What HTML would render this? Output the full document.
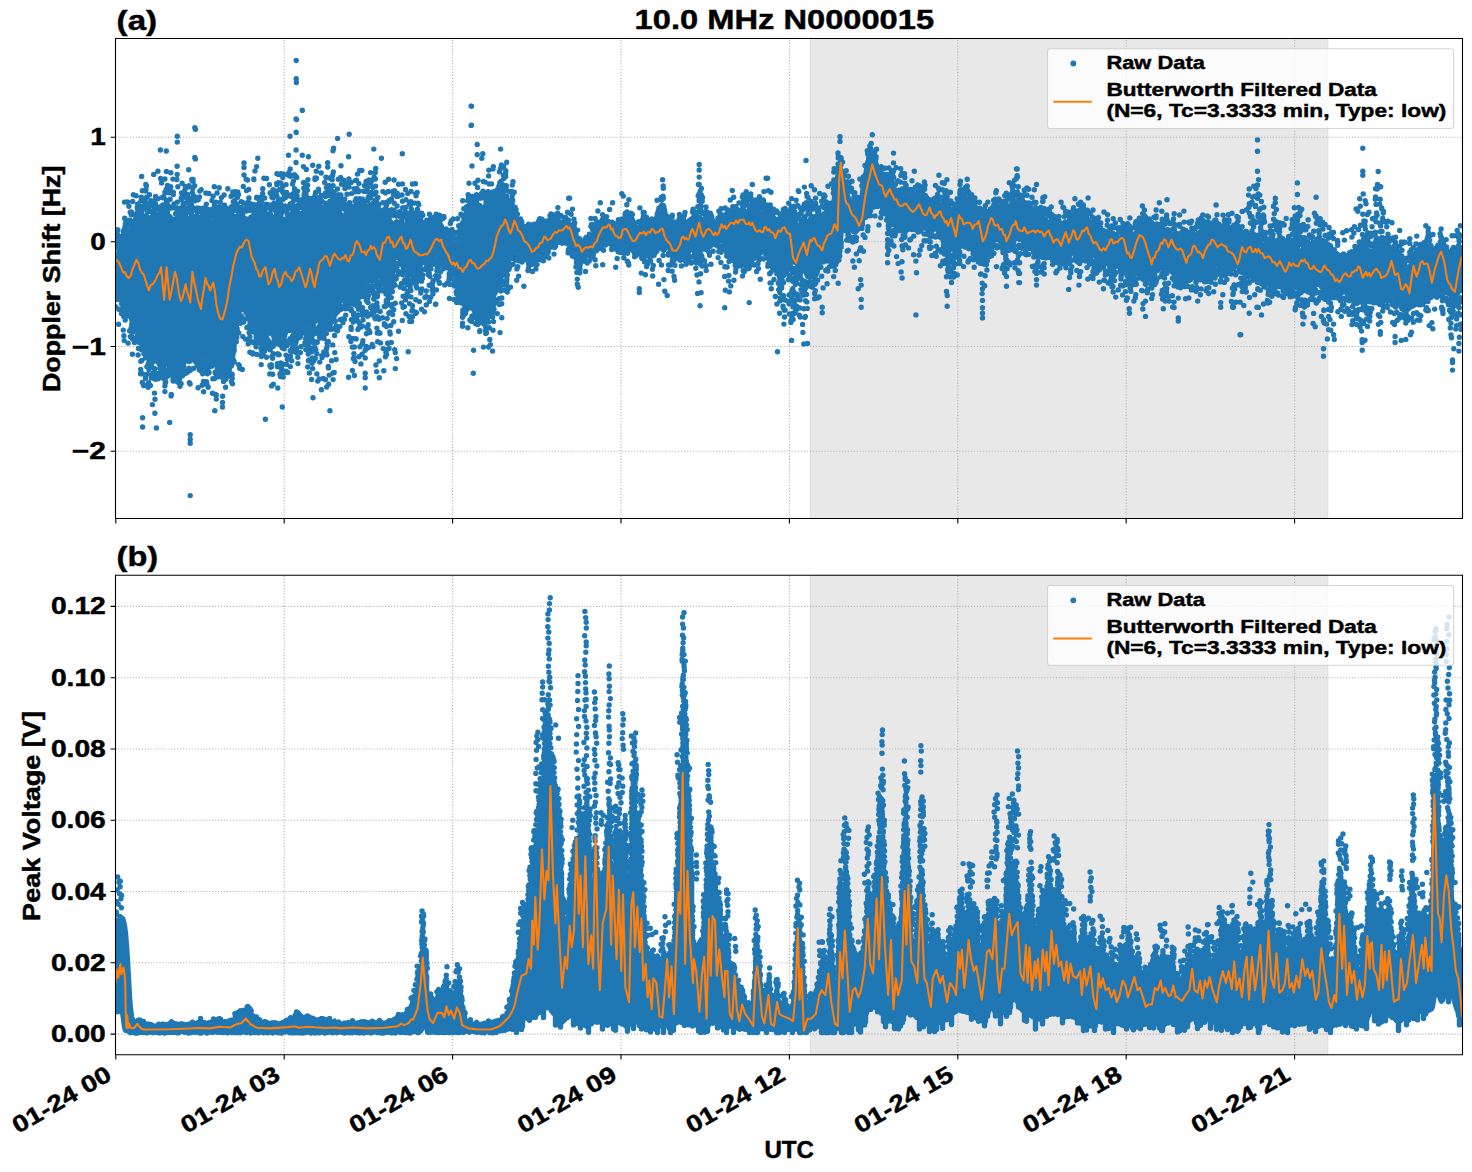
<!DOCTYPE html>
<html><head><meta charset="utf-8"><title>10.0 MHz N0000015</title>
<style>html,body{margin:0;padding:0;background:#fff}svg{display:block}</style></head><body>
<svg width="1472" height="1172" viewBox="0 0 1472 1172">
<rect width="1472" height="1172" fill="#fff"/>
<defs><clipPath id="ca"><rect x="115.5" y="38.5" width="1347.0" height="480.0"/></clipPath><clipPath id="cb"><rect x="115.5" y="575.3" width="1347.0" height="479.4"/></clipPath></defs>
<rect x="810.3" y="38.5" width="517.5" height="480.0" fill="#e8e8e8" stroke="#dedede" stroke-width="1.1"/>
<g stroke="#b0b0b0" stroke-width="1.1" stroke-dasharray="1.1 1.83" fill="none">
<path d="M284.2 518.5V38.5M452.6 518.5V38.5M621.0 518.5V38.5M789.4 518.5V38.5M957.8 518.5V38.5M1126.2 518.5V38.5M1294.6 518.5V38.5M115.5 137.2H1462.5M115.5 241.8H1462.5M115.5 346.5H1462.5M115.5 451.2H1462.5"/></g>
<g clip-path="url(#ca)">
<path d="M115.5 258.1 117.5 256.1 119.5 251.6 121.5 244.9 123.5 241.4 125.5 240.9 127.5 233.2 129.5 234 131.5 230.3 133.5 225.6 135.5 223.7 137.5 222.6 139.5 221.4 141.5 221.2 143.5 220.3 145.5 219.6 147.5 221.7 149.5 220.7 151.5 219.9 153.5 221.7 155.5 217.8 157.5 217.5 159.5 219.8 161.5 217 163.5 216.9 165.5 219.3 167.5 219.1 169.5 221.3 171.5 219.9 173.5 219.3 175.5 219.2 177.5 218.1 179.5 217.1 181.5 218.2 183.5 220.9 185.5 218.7 187.5 219.7 189.5 218.1 191.5 222.4 193.5 219.2 195.5 220 197.5 223.2 199.5 221.6 201.5 223.4 203.5 222.6 205.5 223.3 207.5 220.1 209.5 222.2 211.5 221.8 213.5 223.5 215.5 220.7 217.5 221.7 219.5 218.8 221.5 220.3 223.5 219.8 225.5 218.7 227.5 221.8 229.5 219.5 231.5 222.3 233.5 220.1 235.5 221.1 237.5 223 239.5 223.7 241.5 221.2 243.5 222.8 245.5 222 247.5 222.8 249.5 220.8 251.5 224.7 253.5 220.5 255.5 222.5 257.5 220.3 259.5 222.8 261.5 221.4 263.5 218.7 265.5 222.2 267.5 222.7 269.5 222.5 271.5 220.9 273.5 218.7 275.5 219 277.5 222.6 279.5 220.8 281.5 218.9 283.5 222.4 285.5 221 287.5 220.2 289.5 218.9 291.5 218.7 293.5 217.5 295.5 216.2 297.5 220 299.5 217.5 301.5 217.1 303.5 215.3 305.5 216.6 307.5 212.2 309.5 213.2 311.5 210.7 313.5 210.4 315.5 213.9 317.5 211.6 319.5 209.7 321.5 209.4 323.5 210.3 325.5 206.9 327.5 207.4 329.5 207.1 331.5 207.3 333.5 210.9 335.5 214.9 337.5 218.4 339.5 217.4 341.5 222.1 343.5 217.5 345.5 221.4 347.5 221.8 349.5 218.5 351.5 220 353.5 222.1 355.5 218.2 357.5 221.4 359.5 222.4 361.5 221.2 363.5 222.4 365.5 220.1 367.5 219.9 369.5 220.7 371.5 219.7 373.5 220.6 375.5 223.5 377.5 221.7 379.5 220.5 381.5 220.1 383.5 223.5 385.5 220.9 387.5 224.2 389.5 222.5 391.5 222.8 393.5 224.8 395.5 224.2 397.5 223.5 399.5 224 401.5 227.6 403.5 225.5 405.5 227.6 407.5 222.6 409.5 223.6 411.5 223.3 413.5 224.8 415.5 220.5 417.5 224 419.5 227.5 421.5 231.2 423.5 232.8 425.5 233.4 427.5 229.1 429.5 228.1 431.5 225.3 433.5 223 435.5 222.2 437.5 224.1 439.5 226.4 441.5 226.3 443.5 232.3 445.5 234.3 447.5 237 449.5 239.6 451.5 240 453.5 245.5 455.5 245.3 457.5 247.2 459.5 247 461.5 241 463.5 228.6 465.5 218.2 467.5 215.6 469.5 214.2 471.5 212 473.5 207.3 475.5 210 477.5 209.5 479.5 209.9 481.5 208.2 483.5 210.2 485.5 206 487.5 205.9 489.5 205.7 491.5 206.7 493.5 206.5 495.5 206 497.5 208.2 499.5 206.2 501.5 210.1 503.5 208.9 505.5 212.1 507.5 209.3 509.5 211.3 511.5 214.9 513.5 215.3 515.5 219.5 517.5 221.6 519.5 224.8 521.5 226.4 523.5 232.1 525.5 230.4 527.5 234.2 529.5 235 531.5 234.4 533.5 230.4 535.5 231.9 537.5 231.3 539.5 229.1 541.5 230.6 543.5 230.4 545.5 227.2 547.5 229.1 549.5 227.9 551.5 223.8 553.5 226.1 555.5 225.9 557.5 221.8 559.5 223 561.5 222.8 563.5 222.4 565.5 220.7 567.5 227.6 569.5 231.5 571.5 236.4 573.5 239.5 575.5 240.2 577.5 244.4 579.5 245.4 581.5 245.5 583.5 241.8 585.5 241 587.5 242.6 589.5 237.5 591.5 236.1 593.5 235 595.5 229.1 597.5 225.7 599.5 223.9 601.5 221.9 603.5 219 605.5 221.9 607.5 222.7 609.5 227.4 611.5 229.8 613.5 227.8 615.5 227.9 617.5 228.8 619.5 227.2 621.5 225.2 623.5 222.7 625.5 220.4 627.5 216.7 629.5 218.6 631.5 218 633.5 222.1 635.5 226.6 637.5 231.2 639.5 227.7 641.5 227.2 643.5 226.7 645.5 226 647.5 229.6 649.5 225.9 651.5 225.5 653.5 227.3 655.5 222.4 657.5 215.4 659.5 211.9 661.5 209.5 663.5 205.6 665.5 215.9 667.5 221 669.5 227.3 671.5 228.9 673.5 230.6 675.5 231.3 677.5 229.7 679.5 228 681.5 230.2 683.5 230.8 685.5 227.4 687.5 227.1 689.5 227 691.5 226.3 693.5 225.4 695.5 219.7 697.5 217.8 699.5 217.6 701.5 219.7 703.5 225.2 705.5 229.4 707.5 224 709.5 220.7 711.5 223.7 713.5 225.8 715.5 231.1 717.5 224.6 719.5 223.5 721.5 219.9 723.5 219.3 725.5 217.8 727.5 217.3 729.5 217.4 731.5 215.5 733.5 220.1 735.5 219 737.5 218.6 739.5 219.6 741.5 218.9 743.5 215.1 745.5 215 747.5 212.8 749.5 208.6 751.5 209.2 753.5 213.4 755.5 215.3 757.5 210.8 759.5 213.4 761.5 213.8 763.5 214 765.5 210.7 767.5 212.4 769.5 218.6 771.5 216.1 773.5 218.2 775.5 221.1 777.5 220.8 779.5 222.5 781.5 219.6 783.5 223.2 785.5 219.4 787.5 221.9 789.5 218.1 791.5 222.8 793.5 224.1 795.5 229 797.5 227.6 799.5 226.6 801.5 221.9 803.5 218.5 805.5 222.7 807.5 221.6 809.5 221.1 811.5 217 813.5 218.3 815.5 218 817.5 217.5 819.5 216.2 821.5 218.1 823.5 216.2 825.5 216.5 827.5 219.9 829.5 218 831.5 210.5 833.5 204.8 835.5 191.4 837.5 178.2 839.5 168 841.5 170.9 843.5 182.1 845.5 189.1 847.5 195.6 849.5 201.5 851.5 204.9 853.5 203.2 855.5 204 857.5 204.3 859.5 209 861.5 202.6 863.5 184.7 865.5 177.1 867.5 163.4 869.5 159.7 871.5 155.8 873.5 161.1 875.5 162.3 877.5 168.9 879.5 173.2 881.5 173.5 883.5 177.2 885.5 181.1 887.5 185.1 889.5 186.5 891.5 188.9 893.5 190.5 895.5 192 897.5 194.3 899.5 195.1 901.5 196.9 903.5 196.4 905.5 195.9 907.5 198.9 909.5 196 911.5 199.7 913.5 197.2 915.5 192.4 917.5 193.6 919.5 192.6 921.5 197.6 923.5 198.8 925.5 205.8 927.5 204.5 929.5 206.3 931.5 204.3 933.5 207.5 935.5 207.6 937.5 207.5 939.5 208.3 941.5 205 943.5 204.1 945.5 206 947.5 208.2 949.5 208.2 951.5 212.1 953.5 212 955.5 216 957.5 214.6 959.5 206.6 961.5 205.4 963.5 200.2 965.5 204.2 967.5 201.1 969.5 204 971.5 210.2 973.5 213.8 975.5 216.4 977.5 213.8 979.5 216.8 981.5 217.4 983.5 219.9 985.5 216 987.5 217.2 989.5 215.9 991.5 213.2 993.5 208.5 995.5 208.7 997.5 206.8 999.5 206.9 1001.5 210.4 1003.5 207.2 1005.5 208.2 1007.5 208.5 1009.5 207 1011.5 205 1013.5 205.1 1015.5 202.9 1017.5 203.7 1019.5 204.7 1021.5 206.1 1023.5 208.7 1025.5 209.7 1027.5 212.1 1029.5 213 1031.5 216.4 1033.5 216 1035.5 217 1037.5 219.1 1039.5 218.4 1041.5 218.2 1043.5 221.3 1045.5 219.6 1047.5 223.1 1049.5 224 1051.5 223.5 1053.5 226 1055.5 223.5 1057.5 225.1 1059.5 227.2 1061.5 225.4 1063.5 224.8 1065.5 224.2 1067.5 222.8 1069.5 220.5 1071.5 217.9 1073.5 215.3 1075.5 215.8 1077.5 216.1 1079.5 217.1 1081.5 220.3 1083.5 217.5 1085.5 218.3 1087.5 219.6 1089.5 222.3 1091.5 225.8 1093.5 227.1 1095.5 226.1 1097.5 227.3 1099.5 232.1 1101.5 231.9 1103.5 234.6 1105.5 232.2 1107.5 236.4 1109.5 233.8 1111.5 234.9 1113.5 233.7 1115.5 235.4 1117.5 238 1119.5 238.8 1121.5 238.4 1123.5 240.5 1125.5 238.9 1127.5 238.5 1129.5 238.9 1131.5 236.2 1133.5 234.3 1135.5 233.7 1137.5 231.4 1139.5 225.8 1141.5 228.1 1143.5 229.9 1145.5 229.4 1147.5 228.7 1149.5 232.9 1151.5 231.4 1153.5 234 1155.5 233.2 1157.5 234.7 1159.5 232.6 1161.5 232.7 1163.5 231.9 1165.5 231.7 1167.5 229.5 1169.5 234.3 1171.5 233 1173.5 235.1 1175.5 236.8 1177.5 237.6 1179.5 240.7 1181.5 243.7 1183.5 244.6 1185.5 242.9 1187.5 242.5 1189.5 241.4 1191.5 241.5 1193.5 238.3 1195.5 239 1197.5 236.2 1199.5 234.7 1201.5 234.8 1203.5 234.1 1205.5 231.3 1207.5 229.8 1209.5 229.5 1211.5 228.7 1213.5 227.4 1215.5 229.4 1217.5 230.8 1219.5 229.2 1221.5 230.2 1223.5 231.4 1225.5 232.9 1227.5 237.3 1229.5 233.6 1231.5 235.1 1233.5 235.3 1235.5 237.2 1237.5 233.1 1239.5 232.9 1241.5 232.2 1243.5 234.6 1245.5 239.1 1247.5 237.9 1249.5 241.7 1251.5 241.5 1253.5 242.4 1255.5 245.3 1257.5 242.9 1259.5 247.3 1261.5 247.7 1263.5 247 1265.5 244.4 1267.5 248 1269.5 248.2 1271.5 249.4 1273.5 246.7 1275.5 250.6 1277.5 250.4 1279.5 246.6 1281.5 247.7 1283.5 246.4 1285.5 250.5 1287.5 251.1 1289.5 251.7 1291.5 250 1293.5 250.4 1295.5 250.7 1297.5 250.4 1299.5 252.5 1301.5 251 1303.5 249.9 1305.5 251 1307.5 248.6 1309.5 252.4 1311.5 252.5 1313.5 251.3 1315.5 253.6 1317.5 253.3 1319.5 251.4 1321.5 249.5 1323.5 248.8 1325.5 248.2 1327.5 247.9 1329.5 248.8 1331.5 254.7 1333.5 254.9 1335.5 260.7 1337.5 262.3 1339.5 263.9 1341.5 261.7 1343.5 259.7 1345.5 263.6 1347.5 260.9 1349.5 259.6 1351.5 262.1 1353.5 260.8 1355.5 257.6 1357.5 256.5 1359.5 258.2 1361.5 253.3 1363.5 253.8 1365.5 249.3 1367.5 253.2 1369.5 250.8 1371.5 253.9 1373.5 252.7 1375.5 255.6 1377.5 255.2 1379.5 249.4 1381.5 248.4 1383.5 248.9 1385.5 248.4 1387.5 247.9 1389.5 250.5 1391.5 250.5 1393.5 253.4 1395.5 254.4 1397.5 260.6 1399.5 263.8 1401.5 268.2 1403.5 268.6 1405.5 270.4 1407.5 270.2 1409.5 268.7 1411.5 266.9 1413.5 269.3 1415.5 265.1 1417.5 259.6 1419.5 259.6 1421.5 254.5 1423.5 251.9 1425.5 250.1 1427.5 246.4 1429.5 250.3 1431.5 254.9 1433.5 257.6 1435.5 255.1 1437.5 252 1439.5 248.3 1441.5 246.3 1443.5 251.8 1445.5 254.1 1447.5 260.2 1449.5 262.9 1451.5 258.2 1453.5 258.3 1455.5 256.1 1457.5 250.8 1459.5 247.7 1461.5 248.2L1461.5 288.8 1459.5 289.9 1457.5 293.3 1455.5 292.9 1453.5 295.6 1451.5 294.3 1449.5 294.3 1447.5 291.6 1445.5 291.5 1443.5 288.3 1441.5 288 1439.5 287.1 1437.5 287 1435.5 286.9 1433.5 288.7 1431.5 287.7 1429.5 288 1427.5 289.8 1425.5 289 1423.5 293.2 1421.5 291.5 1419.5 297.3 1417.5 299.6 1415.5 302.1 1413.5 305.6 1411.5 306.3 1409.5 307.7 1407.5 309.6 1405.5 308.2 1403.5 309.5 1401.5 305.2 1399.5 303.3 1397.5 301.3 1395.5 298.2 1393.5 295.8 1391.5 290.6 1389.5 291.1 1387.5 287.2 1385.5 286.7 1383.5 286.2 1381.5 287.5 1379.5 285.4 1377.5 287.5 1375.5 291.4 1373.5 290.7 1371.5 289.2 1369.5 291.2 1367.5 289.1 1365.5 291.7 1363.5 290.9 1361.5 292 1359.5 291.7 1357.5 293.5 1355.5 288.5 1353.5 291.2 1351.5 288.3 1349.5 286 1347.5 285.1 1345.5 284.1 1343.5 286.8 1341.5 285.4 1339.5 284 1337.5 286.8 1335.5 287.4 1333.5 285.1 1331.5 287.2 1329.5 287.1 1327.5 287.3 1325.5 286.6 1323.5 286.8 1321.5 285.3 1319.5 284.7 1317.5 284.2 1315.5 284.6 1313.5 282.2 1311.5 282.9 1309.5 283.7 1307.5 281.2 1305.5 281.2 1303.5 281.6 1301.5 280.9 1299.5 284.6 1297.5 281.5 1295.5 287 1293.5 285.2 1291.5 281.2 1289.5 281.8 1287.5 282.9 1285.5 283.1 1283.5 281.1 1281.5 279.8 1279.5 278.7 1277.5 277.1 1275.5 280.6 1273.5 275.8 1271.5 277.9 1269.5 275.4 1267.5 278.7 1265.5 274.9 1263.5 273.5 1261.5 275.8 1259.5 275.5 1257.5 275.3 1255.5 272.9 1253.5 269.5 1251.5 270.6 1249.5 267.4 1247.5 265.7 1245.5 267.5 1243.5 265.7 1241.5 263.7 1239.5 264.4 1237.5 261.8 1235.5 264.1 1233.5 268.3 1231.5 264.9 1229.5 266.3 1227.5 265.5 1225.5 267.3 1223.5 266.7 1221.5 262.2 1219.5 264.5 1217.5 261.5 1215.5 263.2 1213.5 266.8 1211.5 265.2 1209.5 265.7 1207.5 270.4 1205.5 269.1 1203.5 270.3 1201.5 272 1199.5 271.5 1197.5 270.2 1195.5 270.9 1193.5 270.3 1191.5 270.8 1189.5 269.6 1187.5 275.2 1185.5 277.7 1183.5 275.7 1181.5 273 1179.5 273.4 1177.5 276 1175.5 274.9 1173.5 273.2 1171.5 267.7 1169.5 267.3 1167.5 262 1165.5 260.6 1163.5 261.2 1161.5 267.8 1159.5 267.1 1157.5 270.5 1155.5 270.6 1153.5 271.2 1151.5 273.7 1149.5 271.5 1147.5 269.2 1145.5 272.6 1143.5 268.8 1141.5 267.4 1139.5 264.9 1137.5 268 1135.5 271.2 1133.5 272.5 1131.5 274 1129.5 275.5 1127.5 276.5 1125.5 272 1123.5 271.3 1121.5 270.7 1119.5 264.4 1117.5 264.3 1115.5 266.6 1113.5 266.5 1111.5 261.6 1109.5 264.8 1107.5 261 1105.5 262.4 1103.5 262 1101.5 261.8 1099.5 257.7 1097.5 259 1095.5 254.2 1093.5 253.8 1091.5 256.3 1089.5 253 1087.5 253.8 1085.5 251.2 1083.5 251.8 1081.5 252.2 1079.5 250.2 1077.5 248.6 1075.5 248.3 1073.5 252.9 1071.5 253 1069.5 254.9 1067.5 255.9 1065.5 256.5 1063.5 254.2 1061.5 256.5 1059.5 257.5 1057.5 255.1 1055.5 252.7 1053.5 252.8 1051.5 253.6 1049.5 253 1047.5 250.7 1045.5 249.9 1043.5 250.4 1041.5 247.3 1039.5 245.7 1037.5 244 1035.5 247.7 1033.5 245.4 1031.5 244.2 1029.5 241.8 1027.5 240.4 1025.5 239 1023.5 240.7 1021.5 236.2 1019.5 239.3 1017.5 238.4 1015.5 238.4 1013.5 237.2 1011.5 239.3 1009.5 236.2 1007.5 240.3 1005.5 239.5 1003.5 241.9 1001.5 239.4 999.5 236.2 997.5 239.8 995.5 239.1 993.5 241 991.5 242.8 989.5 246.9 987.5 248.1 985.5 250.7 983.5 251.3 981.5 247.3 979.5 246.2 977.5 249.4 975.5 245.5 973.5 246.7 971.5 242.2 969.5 241.8 967.5 241 965.5 236.2 963.5 239.4 961.5 237.3 959.5 242.1 957.5 251.6 955.5 250.4 953.5 250.3 951.5 246.7 949.5 242.4 947.5 236.5 945.5 233.1 943.5 229.1 941.5 230.7 939.5 227.9 937.5 229.9 935.5 227.2 933.5 229.1 931.5 230.4 929.5 224.8 927.5 228.6 925.5 227.3 923.5 222.9 921.5 222.3 919.5 218.4 917.5 220.1 915.5 217.6 913.5 219.8 911.5 220.1 909.5 222.1 907.5 220.3 905.5 221.1 903.5 220.3 901.5 217.2 899.5 219.3 897.5 216.6 895.5 215.8 893.5 215.9 891.5 215.2 889.5 209.5 887.5 209.9 885.5 208.1 883.5 204.8 881.5 200.2 879.5 199.9 877.5 196.9 875.5 196.2 873.5 192.7 871.5 193.1 869.5 193.4 867.5 192.7 865.5 202.7 863.5 214.4 861.5 225.9 859.5 228 857.5 229.7 855.5 231.8 853.5 231.6 851.5 229.8 849.5 227.5 847.5 223.7 845.5 218.6 843.5 220.6 841.5 229.8 839.5 244.4 837.5 251.6 835.5 245.7 833.5 245.1 831.5 248.9 829.5 250.8 827.5 248.9 825.5 248.4 823.5 250.9 821.5 248 819.5 253.9 817.5 257.9 815.5 267.3 813.5 268.3 811.5 271.1 809.5 273.8 807.5 276.3 805.5 271.4 803.5 270 801.5 267.4 799.5 266.1 797.5 263.5 795.5 262.4 793.5 261.3 791.5 258.2 789.5 257.8 787.5 263 785.5 264.1 783.5 263.5 781.5 266.6 779.5 268.7 777.5 265.8 775.5 260.4 773.5 258.5 771.5 255.5 769.5 253.3 767.5 249.8 765.5 243 763.5 245.8 761.5 242.9 759.5 247 757.5 248.5 755.5 250 753.5 252.5 751.5 254.2 749.5 255.3 747.5 258.1 745.5 255.4 743.5 253.8 741.5 254.8 739.5 254.4 737.5 254.3 735.5 253.8 733.5 247.9 731.5 250.2 729.5 247 727.5 244.2 725.5 244.3 723.5 240.3 721.5 241.1 719.5 239.2 717.5 242.3 715.5 240.4 713.5 239.3 711.5 240.9 709.5 240.8 707.5 238.9 705.5 243.6 703.5 242.1 701.5 242.4 699.5 241.6 697.5 244.5 695.5 243.5 693.5 246.1 691.5 246.4 689.5 250.7 687.5 250.6 685.5 249.6 683.5 252.9 681.5 255.8 679.5 252.7 677.5 250.7 675.5 252.6 673.5 248.1 671.5 251 669.5 246.9 667.5 247.1 665.5 244.4 663.5 240.9 661.5 241.7 659.5 240.8 657.5 242.3 655.5 244.8 653.5 251.1 651.5 252.3 649.5 250.1 647.5 250.6 645.5 250.8 643.5 248.7 641.5 251.5 639.5 253.7 637.5 248.7 635.5 247.9 633.5 247.4 631.5 247 629.5 243 627.5 243.2 625.5 246.2 623.5 246.7 621.5 245.4 619.5 246.8 617.5 243.8 615.5 244.6 613.5 241.6 611.5 242.3 609.5 239.4 607.5 237.8 605.5 238 603.5 236.2 601.5 242.2 599.5 244.6 597.5 242.9 595.5 245.8 593.5 249.4 591.5 253.2 589.5 255.3 587.5 255.7 585.5 253.7 583.5 253.9 581.5 258.6 579.5 254.2 577.5 255.3 575.5 254.2 573.5 253.2 571.5 250.5 569.5 244.1 567.5 237.9 565.5 232.5 563.5 235.1 561.5 236.3 559.5 238.6 557.5 240.8 555.5 238.9 553.5 241.7 551.5 243.3 549.5 247.8 547.5 245.6 545.5 246.9 543.5 251.2 541.5 250.6 539.5 252.4 537.5 255.7 535.5 255.4 533.5 256 531.5 253.9 529.5 255.7 527.5 256 525.5 255.3 523.5 250.7 521.5 248.3 519.5 250.5 517.5 246.7 515.5 246.6 513.5 249.3 511.5 245.9 509.5 247.5 507.5 250.3 505.5 252.2 503.5 257.6 501.5 266.1 499.5 271.4 497.5 283 495.5 291.9 493.5 295.5 491.5 300.9 489.5 304 487.5 307.1 485.5 306.1 483.5 311.2 481.5 311.9 479.5 310.6 477.5 309.5 475.5 313.6 473.5 308.8 471.5 307.8 469.5 306.2 467.5 308.8 465.5 302.7 463.5 303.5 461.5 293.9 459.5 289.1 457.5 282.5 455.5 272.9 453.5 264.9 451.5 264.9 449.5 262.3 447.5 258.8 445.5 260.2 443.5 256.9 441.5 257.8 439.5 256 437.5 252.5 435.5 253.3 433.5 255.9 431.5 255.2 429.5 257.1 427.5 260.4 425.5 259.4 423.5 260.6 421.5 262.5 419.5 265 417.5 271.3 415.5 271.6 413.5 271.1 411.5 272.1 409.5 268.6 407.5 269 405.5 270.5 403.5 267.6 401.5 263.1 399.5 258.3 397.5 256.6 395.5 257.2 393.5 259.8 391.5 265 389.5 264.8 387.5 270.7 385.5 273.2 383.5 271.5 381.5 271.4 379.5 275.8 377.5 276.1 375.5 276.3 373.5 275.2 371.5 278 369.5 276 367.5 281.7 365.5 281.6 363.5 283.5 361.5 284.3 359.5 285.5 357.5 287.7 355.5 286.9 353.5 290.7 351.5 293.1 349.5 289.6 347.5 295 345.5 292.8 343.5 292.5 341.5 293.5 339.5 299 337.5 298.5 335.5 304.7 333.5 309.5 331.5 308.7 329.5 313.1 327.5 315.1 325.5 313.1 323.5 317.8 321.5 317 319.5 316.9 317.5 316.2 315.5 317.6 313.5 320.9 311.5 319.7 309.5 323.6 307.5 324.3 305.5 322.8 303.5 325.4 301.5 324.6 299.5 324.7 297.5 328.1 295.5 326.8 293.5 326.1 291.5 328.2 289.5 330.6 287.5 330.3 285.5 331.7 283.5 330.6 281.5 331.1 279.5 330.3 277.5 331.4 275.5 330.7 273.5 330.8 271.5 332.5 269.5 333.3 267.5 332.3 265.5 330.8 263.5 334.3 261.5 329.2 259.5 329.9 257.5 324.3 255.5 323.6 253.5 316.9 251.5 315.9 249.5 312.6 247.5 305 245.5 303.9 243.5 306.9 241.5 309.9 239.5 310.3 237.5 315.8 235.5 332.4 233.5 349.4 231.5 365.9 229.5 363.6 227.5 362.2 225.5 362.9 223.5 361.5 221.5 365.8 219.5 365.5 217.5 362.1 215.5 362 213.5 359.3 211.5 361.4 209.5 358.8 207.5 353.3 205.5 355.4 203.5 356.4 201.5 356.1 199.5 355.6 197.5 355.5 195.5 356.6 193.5 358.6 191.5 358.2 189.5 356.9 187.5 361 185.5 360.8 183.5 359.3 181.5 361.7 179.5 362.9 177.5 361.7 175.5 364 173.5 365.3 171.5 364.2 169.5 365 167.5 364.1 165.5 362.9 163.5 364.5 161.5 364.2 159.5 364.5 157.5 360.6 155.5 356.2 153.5 354.5 151.5 353.7 149.5 350 147.5 349.4 145.5 349.6 143.5 340.6 141.5 333.9 139.5 329.3 137.5 321.6 135.5 315.7 133.5 314.2 131.5 307 129.5 303.6 127.5 299.8 125.5 302.8 123.5 301.8 121.5 299.8 119.5 296.4 117.5 299.4 115.5 297.5Z" fill="#1f77b4" stroke="#1f77b4" stroke-width="5.4" stroke-linejoin="round"/>
<path d="M115.5 246.5h0M115.7 306.8h0M116.4 245.4h0M117 231.3h0M117.5 244.8h0M117.6 229.7h0M117.6 240.5h0M117.9 244.6h0M117.9 230.2h0M118 235h0M118.1 240.9h0M118.3 237.9h0M118.5 245.3h0M118.6 324.3h0M118.7 245h0M118.8 309.3h0M118.9 250h0M120 241.4h0M120.9 309.6h0M121 236.8h0M121.5 313.6h0M121.6 241.8h0M121.7 303.9h0M121.8 302h0M122 237.8h0M122.2 238.1h0M122.3 240h0M122.7 305.1h0M122.8 309.1h0M123.3 330.1h0M123.5 232.1h0M123.7 230.4h0M123.8 316.5h0M123.8 306.9h0M123.9 335.7h0M124.2 309h0M124.2 340.6h0M124.4 311.2h0M124.5 202.1h0M124.5 229.1h0M124.7 236.2h0M124.7 218.2h0M124.9 227.3h0M125.2 320.1h0M125.2 314.8h0M125.3 312.3h0M125.3 224.3h0M125.6 234.8h0M125.8 220.9h0M126.1 314.6h0M126.2 307.6h0M126.2 230.3h0M126.5 226.9h0M126.6 227.2h0M126.6 308.8h0M126.7 308.6h0M126.7 224.4h0M126.7 315.7h0M126.7 228.3h0M127 315.5h0M127.1 312h0M127.2 315.2h0M127.2 227.3h0M127.3 225.2h0M127.3 315.7h0M127.5 202h0M127.5 303.6h0M128.1 343.1h0M128.3 313.4h0M128.4 313.9h0M128.4 315.9h0M128.6 312.9h0M128.7 220.4h0M128.9 206.3h0M129 314.2h0M129 308.4h0M129.2 311.6h0M129.3 304.9h0M129.4 222.5h0M129.5 220.5h0M129.5 310.3h0M129.6 225h0M129.7 331h0M129.7 330.6h0M129.9 220.2h0M129.9 310.4h0M130.1 314h0M130.2 212.3h0M130.3 306.3h0M130.3 336.6h0M130.3 311.5h0M130.4 306.7h0M130.4 312.2h0M130.6 308.8h0M131 213.6h0M131 328.5h0M131 309.1h0M131.2 317.7h0M131.3 214.8h0M131.3 310.2h0M131.4 311.9h0M131.5 318.1h0M131.5 211.9h0M131.7 336.8h0M131.7 324.7h0M131.9 338.3h0M131.9 320.7h0M132.4 354.3h0M132.5 320.1h0M132.6 322.4h0M132.7 332.3h0M132.7 201.5h0M132.9 320.1h0M133 323.2h0M133.2 221.2h0M133.3 323.8h0M133.4 194.7h0M134 340.4h0M134 222.1h0M134.1 339.4h0M134.5 342.5h0M134.6 328.3h0M134.7 327.4h0M134.7 328h0M134.7 329.3h0M134.9 329.2h0M135 339.4h0M135 221.6h0M135.1 318.5h0M135.1 323.9h0M135.4 222.1h0M135.4 219.8h0M135.6 320.9h0M135.7 215.9h0M136 219.8h0M136.1 195.8h0M136.2 213.9h0M136.3 217.4h0M136.3 222h0M136.6 216.4h0M136.6 337.4h0M136.9 330.8h0M136.9 214.4h0M137 223.3h0M137 324.5h0M137.2 207.8h0M137.2 337.7h0M137.6 204.3h0M137.6 335.2h0M137.7 219h0M137.7 207.1h0M137.8 210.7h0M138 211.7h0M138 342h0M138 332.1h0M138.1 219.4h0M138.1 355h0M138.2 204.3h0M138.4 339.7h0M138.5 348.4h0M138.5 217.9h0M138.7 339.2h0M138.8 212h0M139.3 340.8h0M139.5 221.4h0M139.8 210.5h0M140 214.1h0M140.3 218.9h0M140.5 373.7h0M140.5 211h0M140.6 210.1h0M140.7 369.4h0M140.7 343.3h0M140.8 218.8h0M140.8 361.2h0M140.9 200.9h0M141 221h0M141.2 339.1h0M141.2 349.5h0M141.3 197.2h0M141.3 208h0M141.4 207.5h0M141.5 213.4h0M141.5 342.5h0M141.5 213.3h0M141.6 176.4h0M141.6 210.1h0M141.6 206.6h0M141.7 208.2h0M141.8 360.5h0M141.8 336.6h0M141.8 211.7h0M142.2 344.9h0M142.3 382.5h0M142.4 190.8h0M142.6 345.2h0M142.6 216.3h0M142.6 373.7h0M142.6 417.8h0M142.6 427h0M142.8 349.6h0M143 341.7h0M143.3 208.9h0M143.7 385.6h0M143.7 346.2h0M143.9 353.8h0M144.1 346.3h0M144.8 198.2h0M144.8 202.6h0M144.9 207.9h0M145 352.3h0M145.2 199.8h0M145.4 208.2h0M145.5 378.2h0M145.6 357.8h0M145.7 191.1h0M145.8 184.4h0M145.8 208h0M145.8 350.5h0M145.9 189.7h0M146.1 207.9h0M146.3 206.9h0M146.4 185.7h0M146.5 215.5h0M146.9 207h0M146.9 196.9h0M146.9 366.8h0M147.3 354.4h0M147.5 374.1h0M147.7 211.6h0M147.7 384.3h0M148.2 387.3h0M148.2 363.6h0M148.4 364.2h0M148.5 208.5h0M148.6 367.6h0M148.6 363.3h0M148.7 365.2h0M148.7 382.6h0M148.9 207.2h0M148.9 205.5h0M148.9 369.6h0M149 203.8h0M149.1 218.1h0M149.3 359.7h0M149.5 194.7h0M149.6 355.8h0M149.7 365.2h0M150.3 211.3h0M150.4 385.5h0M150.7 365.9h0M150.9 200.7h0M151.2 366.6h0M151.3 366.7h0M151.3 377.9h0M151.5 364.4h0M151.8 357.2h0M151.8 203.3h0M151.9 216.8h0M152.2 376.3h0M152.4 404.6h0M152.4 202.1h0M152.4 359.5h0M152.7 373.8h0M152.9 218.5h0M153 212.6h0M153.2 373.3h0M153.2 216.9h0M153.7 174.4h0M153.9 378.4h0M153.9 359.7h0M154 376.7h0M154.1 207.1h0M154.4 361.1h0M154.4 372.7h0M154.4 368.5h0M154.4 368.8h0M154.5 393.1h0M154.5 212.4h0M154.6 374.1h0M154.6 210.4h0M154.7 369h0M154.9 413.2h0M155 399.3h0M155.3 379.3h0M155.5 203.6h0M155.6 205.4h0M155.6 196.5h0M155.7 205h0M155.7 199.2h0M155.8 214.9h0M155.8 207.5h0M155.8 209.2h0M156.4 427.9h0M157.1 214.4h0M157.6 373.7h0M157.8 374.9h0M157.9 171.3h0M158.2 378.8h0M158.2 198.6h0M159.9 217.4h0M160 207.7h0M160 368h0M160.1 372.6h0M160.2 211.1h0M160.4 211.9h0M160.4 150h0M160.6 178.4h0M160.6 206.6h0M161 372.7h0M161.4 209.1h0M161.4 374.4h0M161.6 182.9h0M161.9 197.6h0M162.1 179.5h0M162.2 368.7h0M162.4 367.7h0M162.6 371.3h0M162.7 215.9h0M162.8 205h0M162.9 366.3h0M163 214.7h0M163.2 377.5h0M163.2 376.1h0M163.2 365.3h0M163.3 209.2h0M163.4 372.8h0M163.4 206.6h0M163.4 205.3h0M163.5 378.4h0M163.5 212.3h0M163.8 196.5h0M164 197.9h0M164.2 365.5h0M164.3 368.9h0M164.4 377h0M164.5 376.9h0M164.6 376.3h0M164.8 375.2h0M164.9 179h0M164.9 385.9h0M164.9 192.2h0M164.9 376.5h0M164.9 391.6h0M165.1 192.4h0M165.2 383h0M165.2 379.6h0M165.3 205.4h0M165.3 376.1h0M165.7 382.2h0M165.7 211.7h0M166.1 217.1h0M166.2 189.4h0M166.3 151h0M166.4 202.2h0M166.4 171.5h0M166.6 370.1h0M166.6 213.5h0M166.6 203.2h0M166.7 200.5h0M166.8 205.8h0M167.1 213h0M167.2 203.5h0M167.2 373.4h0M167.3 216h0M167.5 212.6h0M167.5 207h0M167.5 185.5h0M167.9 376.1h0M168.5 370.9h0M168.9 192.7h0M168.9 208h0M169.6 368h0M169.7 422.4h0M169.8 369.9h0M169.9 368.6h0M170.1 216.8h0M170.1 199.2h0M170.3 206.9h0M170.5 190.1h0M170.7 186.6h0M170.7 208h0M170.8 190.8h0M170.8 172.7h0M171.1 395.9h0M171.2 208h0M171.3 394.5h0M171.4 372.8h0M172.3 373h0M172.5 375.6h0M172.9 179.1h0M173 379.7h0M173.2 381.1h0M173.3 192.3h0M173.3 194.6h0M173.5 365.5h0M173.8 372.5h0M174 203.9h0M174.2 207.9h0M174.2 376.7h0M174.4 374.9h0M174.6 369.9h0M175.4 208h0M175.6 213.8h0M176.1 368.8h0M176.2 366.1h0M176.3 208h0M176.4 381.3h0M176.5 207.8h0M176.6 372.7h0M176.7 378.8h0M176.8 364.4h0M176.8 179.5h0M176.9 375.7h0M176.9 370.8h0M177 375h0M177 365.4h0M177.1 374.6h0M177.1 166.2h0M177.2 367.4h0M177.2 376.3h0M177.2 174.4h0M177.2 364.6h0M177.2 209.9h0M177.3 202.1h0M177.3 211.2h0M177.3 136.2h0M177.3 142.1h0M177.4 364h0M177.6 208.1h0M177.8 186.8h0M177.9 365.8h0M178.2 215.6h0M178.4 382.6h0M178.6 380.8h0M178.8 375.8h0M178.9 369h0M179 208.5h0M179.1 208.1h0M179.3 365.7h0M179.5 215.7h0M179.6 215.8h0M179.6 378.6h0M179.7 211.2h0M179.9 216.3h0M180 386.2h0M180.4 373.5h0M180.6 217.7h0M180.6 212.4h0M180.7 383.1h0M180.9 373.4h0M181.1 383.8h0M181.2 375.9h0M181.3 199.6h0M181.3 197.9h0M181.4 219h0M181.6 208.3h0M181.6 193h0M182.1 183.2h0M182.2 218.6h0M182.2 218.1h0M182.5 362.1h0M182.6 213.1h0M182.6 214.1h0M182.7 219h0M182.7 197.9h0M182.7 375.5h0M182.7 362.1h0M182.8 369.7h0M182.8 215.3h0M183 212.6h0M183 197.4h0M183.1 203.2h0M183.1 372.5h0M183.2 203.2h0M183.2 204.5h0M183.3 363.6h0M183.4 364.9h0M183.5 366.6h0M183.6 218.5h0M183.7 212.2h0M184.5 218.3h0M184.6 371.9h0M184.9 190.1h0M184.9 208.2h0M185.1 373.5h0M185.1 203.2h0M185.3 186.5h0M185.4 370.7h0M185.4 372.1h0M185.5 217.7h0M185.5 215.7h0M186 194.4h0M186.4 217.7h0M186.6 212.7h0M186.6 218.2h0M186.7 372.8h0M187.3 208.7h0M187.5 194.4h0M187.8 371.8h0M187.8 199.1h0M188.6 209.3h0M188.7 169.8h0M188.8 368.3h0M189 204h0M189 187h0M189.1 185.6h0M189.2 198h0M189.2 185.9h0M189.2 202h0M189.4 382.7h0M189.4 359.5h0M189.5 204.9h0M189.5 209.1h0M189.5 201.4h0M189.7 204.7h0M189.7 361.3h0M190.1 384h0M190.1 370.6h0M190.2 361.1h0M190.2 495.6h0M190.2 434.7h0M190.2 439.3h0M190.2 443.3h0M190.5 360h0M190.6 206.3h0M190.6 207.3h0M190.7 359.6h0M190.9 211.3h0M190.9 212.7h0M191.1 207.2h0M191.2 209.5h0M191.3 208.6h0M191.4 200.2h0M191.5 201.1h0M191.5 205.4h0M191.5 216.6h0M191.6 208.5h0M191.7 212.2h0M191.7 209.7h0M191.8 209.5h0M191.8 179.5h0M191.9 209.5h0M192 180.4h0M192.3 192.5h0M192.8 208.1h0M192.9 199.3h0M193 188.1h0M193 208h0M193.1 181.2h0M193.1 179.5h0M193.4 368.5h0M193.5 217.5h0M193.6 195.8h0M193.9 209.1h0M194 209.7h0M194.1 208.2h0M194.5 200.9h0M194.5 208.2h0M194.7 185.6h0M194.8 127.6h0M194.8 157.4h0M195.1 219.2h0M195.4 216.4h0M195.4 129.2h0M195.4 158.9h0M195.6 361.6h0M195.7 197.2h0M195.9 360.5h0M196.3 219.9h0M197 218.4h0M197 358.8h0M197.1 364h0M197.2 360.3h0M197.2 365.8h0M197.3 212.3h0M197.3 363.8h0M197.7 208h0M197.9 209.8h0M197.9 360.7h0M198 359.6h0M198.1 387.7h0M198.2 199.7h0M198.7 218.8h0M198.8 357.3h0M199 217.3h0M199.2 369.8h0M199.5 197h0M199.6 363.1h0M199.7 208.5h0M199.7 368.2h0M199.8 191.1h0M199.9 369.1h0M200.2 211.4h0M200.4 367.7h0M200.9 365.6h0M201 370.9h0M201.2 189.6h0M201.2 218.6h0M201.6 219.5h0M201.7 356.7h0M202.2 385.3h0M202.3 367.1h0M202.7 373.7h0M202.7 213.4h0M202.8 361.7h0M202.9 365.6h0M202.9 220.8h0M203.1 208.1h0M203.3 366.7h0M203.5 381.4h0M203.6 212.7h0M203.6 391.8h0M203.7 212.6h0M203.9 356.4h0M204 216.6h0M204.1 210.7h0M204.4 355.9h0M204.4 216.2h0M205 214.5h0M205.2 364h0M205.4 212.9h0M205.8 217.9h0M205.8 357.5h0M205.8 193.1h0M205.8 358.1h0M206 208.8h0M206.2 370.5h0M206.3 204.1h0M206.4 193.1h0M206.5 210.3h0M206.5 359.2h0M206.5 381.8h0M206.6 221.6h0M206.6 218.7h0M206.7 367h0M206.7 218.8h0M206.8 208.9h0M206.8 366.4h0M207 360.2h0M207 384.6h0M207.3 210.5h0M207.4 373.7h0M207.6 355.5h0M207.8 209.2h0M208 367.9h0M208.1 357h0M208.1 217.4h0M208.2 387.2h0M208.4 365.8h0M208.5 215.6h0M208.5 361.2h0M208.5 356.7h0M208.6 360h0M208.7 209.9h0M208.7 372.3h0M208.8 193.5h0M209.1 372.5h0M209.6 212.8h0M209.9 212.4h0M210.2 216.9h0M210.2 215h0M210.5 366.1h0M210.7 366.5h0M211.5 361.8h0M211.5 210.1h0M211.6 366.2h0M211.9 200.4h0M212 209.2h0M212.2 215.8h0M212.3 362.5h0M212.5 393.2h0M212.8 213.7h0M212.8 211h0M212.9 378.7h0M213 215.3h0M213.1 196.2h0M213.8 362.4h0M214.2 208.1h0M214.3 209.8h0M214.3 186.8h0M214.3 204h0M214.6 364.6h0M214.7 378.6h0M214.8 218.3h0M214.8 410.7h0M214.9 213.5h0M215.1 372.2h0M215.4 364.1h0M215.5 394.4h0M215.6 373.6h0M216 210.1h0M216 202.2h0M216.3 395h0M216.3 399.1h0M216.5 375h0M216.9 207.9h0M216.9 217.7h0M217.1 193h0M217.1 219.4h0M217.1 193.1h0M217.2 218h0M217.2 371.9h0M217.2 367.9h0M217.8 375.4h0M217.9 364.3h0M217.9 372.2h0M217.9 376.7h0M218.2 370.6h0M218.2 374.7h0M218.4 213.3h0M218.7 218.2h0M219.2 187.7h0M219.4 216.9h0M219.4 365.4h0M219.4 214.4h0M219.4 373.8h0M219.5 206.9h0M219.5 208.8h0M219.7 212.2h0M219.8 218.7h0M219.8 211.7h0M220 375.1h0M220.4 202.2h0M220.6 212.2h0M221.2 367.7h0M221.4 377h0M221.4 197.6h0M221.9 215.2h0M222 218.8h0M222 214.9h0M222.1 219.4h0M222.3 216.6h0M222.3 371h0M222.5 402.4h0M222.5 407h0M222.5 216.6h0M222.6 396.2h0M222.6 371.8h0M222.7 213.2h0M222.8 211h0M223.3 364.4h0M223.3 208.8h0M223.4 371.4h0M223.5 381.4h0M223.7 369.7h0M224.1 195h0M224.1 212.2h0M224.3 367.8h0M224.6 205.1h0M225 209.3h0M225.1 216.7h0M225.5 208h0M225.6 387.2h0M225.7 375.4h0M225.8 370.1h0M225.9 379.2h0M225.9 375.9h0M226.1 208.8h0M226.2 367.1h0M226.4 219.6h0M226.4 374.6h0M226.4 373.5h0M226.6 372.6h0M226.6 211.3h0M226.7 374.7h0M227 367.3h0M227.2 365.7h0M227.5 212.9h0M227.8 188.7h0M228.3 370.8h0M228.3 375.8h0M228.4 367.5h0M228.7 374.9h0M229.2 369.7h0M229.4 216.2h0M229.6 368.1h0M229.6 208.7h0M229.9 373.6h0M230.1 376.2h0M230.1 373.1h0M230.9 215.3h0M231.1 196.3h0M231.1 217.6h0M231.2 206.9h0M231.4 207.2h0M231.5 381.8h0M231.7 373.9h0M232 208.5h0M232.2 374.5h0M232.2 215.6h0M232.2 378.5h0M232.2 212h0M232.4 206.4h0M232.5 383.8h0M232.6 206.3h0M232.8 195.2h0M232.8 191.9h0M232.9 194.7h0M233.2 210.5h0M233.3 201.7h0M233.5 360.1h0M233.6 362.2h0M233.6 348h0M233.8 206.5h0M234 361.9h0M234 351h0M234.1 361.4h0M234.2 350.2h0M234.6 338.2h0M234.7 200.8h0M235.1 216.7h0M235.6 339.1h0M235.6 191.6h0M235.7 206.6h0M235.8 209.3h0M235.9 338.1h0M236 328.7h0M236 337.7h0M236.3 334.6h0M236.3 327.1h0M236.3 341.8h0M236.4 337.3h0M236.4 333.9h0M236.6 329.5h0M236.7 216.2h0M236.8 337.6h0M237.1 204h0M237.1 328.6h0M237.1 332.4h0M237.2 330.1h0M237.2 210.7h0M237.5 331.5h0M237.5 319.8h0M237.5 318.3h0M237.5 197.3h0M237.7 192h0M237.7 315.4h0M237.7 195.5h0M237.9 320h0M238 221.6h0M238 210.6h0M238.3 210.1h0M238.4 216.7h0M238.5 194.6h0M238.6 215.9h0M238.6 364.6h0M238.7 333h0M238.9 314.2h0M238.9 210h0M238.9 317.2h0M238.9 218.6h0M238.9 218.2h0M239.3 365.7h0M239.7 368.3h0M239.9 319.9h0M239.9 320.4h0M240.4 323.3h0M240.7 210.9h0M240.8 211.6h0M240.9 207.4h0M241 211.6h0M241.2 211.4h0M241.2 211.7h0M241.2 318.9h0M241.3 201.6h0M241.3 315.9h0M241.4 316.9h0M241.7 321.3h0M242.3 369.5h0M242.4 218.6h0M242.6 215h0M242.6 211.6h0M242.7 220.6h0M242.9 336.6h0M243.3 186.4h0M243.3 217.3h0M243.5 211.6h0M243.6 221.1h0M243.7 322h0M243.7 203h0M243.8 210.3h0M243.8 219.6h0M243.9 318.7h0M244 175h0M244 162.9h0M244 167.5h0M245 309.6h0M245.4 339.1h0M245.8 208.1h0M246 312.4h0M246.2 179.2h0M246.4 211.1h0M246.5 218.9h0M246.5 190.6h0M246.9 327.5h0M247 205.6h0M247.4 318.1h0M247.5 180h0M247.6 327.6h0M247.7 221.3h0M247.8 318.5h0M247.9 314.9h0M248.1 202.1h0M248.2 343.8h0M248.4 319h0M248.6 315.5h0M248.7 189.5h0M248.9 198h0M249 198.2h0M249.1 310.7h0M249.1 203.3h0M249.2 332.8h0M249.3 207.9h0M249.9 324.9h0M249.9 340h0M249.9 336.9h0M249.9 352.3h0M250.1 330.4h0M250.1 322.7h0M250.3 210.6h0M250.5 329.6h0M250.8 318.9h0M250.9 217.2h0M251.1 221.1h0M251.2 324.9h0M251.9 327.1h0M251.9 325.9h0M251.9 204.3h0M252.1 327.3h0M252.1 322.1h0M252.6 219.2h0M252.7 354h0M252.8 342.5h0M252.8 331.7h0M252.8 219.8h0M252.8 216h0M252.9 319.2h0M253 329.7h0M253 353h0M253 320.9h0M253.3 205.9h0M253.3 329h0M253.5 330.5h0M253.5 209.9h0M253.7 210.6h0M253.8 178.9h0M253.8 179.6h0M253.9 209.6h0M253.9 320.6h0M254 204.9h0M254.3 213.9h0M254.4 204.6h0M254.5 330.7h0M254.7 331.9h0M254.7 329.1h0M254.7 331.5h0M254.8 324.2h0M254.8 327.5h0M254.9 328.3h0M255 170.9h0M255.3 204.9h0M255.5 218.2h0M255.5 332.6h0M255.8 340.7h0M256 324.6h0M256 334.1h0M256.1 346.8h0M256.2 336.9h0M256.3 343.1h0M256.5 198.1h0M256.6 166.6h0M256.6 326.7h0M256.7 343.4h0M256.7 328.7h0M256.8 197.1h0M256.9 328.1h0M256.9 354.4h0M256.9 326h0M256.9 210.1h0M257.4 326.7h0M257.5 335.9h0M257.6 336.9h0M257.8 158.3h0M257.9 337.1h0M258.1 326.6h0M258.1 212.9h0M258.1 213.2h0M258.4 208.6h0M258.5 216.3h0M258.6 220h0M258.7 214.2h0M258.8 211h0M258.8 330.9h0M258.9 331.9h0M258.9 203.9h0M259.2 331.6h0M259.2 338.2h0M259.6 341.1h0M259.7 208.7h0M259.7 213.8h0M259.8 202.1h0M259.8 329h0M260.1 332.7h0M260.2 341.6h0M260.2 207.3h0M260.2 202.4h0M260.3 197.3h0M260.8 332.7h0M260.8 335.5h0M260.9 336.7h0M261 343.5h0M261.1 331h0M261.1 348.7h0M261.2 364.6h0M261.2 334.2h0M261.3 356.5h0M261.6 341.8h0M261.7 356h0M261.7 351h0M261.7 201.4h0M261.7 336.2h0M261.8 342.8h0M262 209.3h0M262.1 353.9h0M262.2 211.4h0M262.2 209.1h0M262.3 351.4h0M262.4 343.7h0M262.4 214.5h0M262.4 343.7h0M262.6 345.5h0M262.6 206.7h0M262.7 193.5h0M262.7 345.8h0M262.8 188.7h0M262.9 219.8h0M263.2 354.5h0M263.2 212.6h0M263.4 344.3h0M263.5 209.3h0M263.5 347.5h0M263.5 344.9h0M263.6 338.5h0M263.7 343.8h0M263.9 178.3h0M264.2 343.7h0M264.2 346.4h0M264.3 338.3h0M264.7 351h0M264.7 198h0M264.9 348.2h0M265 340.8h0M265.2 333.5h0M265.2 208.8h0M265.4 208.4h0M265.4 419.3h0M265.6 206.4h0M265.7 213.5h0M266.3 204.3h0M266.4 207.8h0M266.4 333.5h0M266.5 344.8h0M266.5 357.3h0M266.6 178.5h0M266.6 346.2h0M266.6 218h0M266.6 345.1h0M267.1 338.4h0M267.7 344.1h0M267.7 342.9h0M268 342.5h0M268.3 204.7h0M268.4 340.6h0M268.9 343.9h0M268.9 219.6h0M269 346.4h0M269.3 213.7h0M269.4 348.6h0M269.4 219.8h0M269.4 208.3h0M269.4 184.8h0M269.8 373.9h0M269.9 365.5h0M270.1 193h0M270.2 349.8h0M270.5 214.3h0M270.8 367.2h0M270.9 216.1h0M270.9 343.7h0M270.9 207.8h0M271.1 218h0M271.1 209.1h0M271.2 344.7h0M271.3 364.7h0M271.3 194.2h0M271.5 219.9h0M271.5 366.7h0M271.6 206.1h0M271.6 209.2h0M271.6 385.9h0M271.7 217h0M271.9 197.2h0M271.9 356.5h0M272 216.7h0M272 343.8h0M272.1 344.1h0M272.3 207.9h0M272.4 346.8h0M272.5 204.6h0M272.6 358.2h0M272.7 374.3h0M272.8 343h0M273.1 189.7h0M273.2 197.9h0M273.3 353.6h0M273.3 335.4h0M273.3 384.3h0M273.3 346.2h0M273.6 209h0M273.7 203.5h0M273.7 208.1h0M273.8 208.6h0M273.9 342.4h0M273.9 333.2h0M274 208.9h0M274.2 339.4h0M274.2 205.4h0M274.3 219.8h0M274.3 192.9h0M274.3 338.2h0M274.9 209.2h0M275.3 209.1h0M275.4 210.6h0M275.7 207.3h0M275.9 339.1h0M275.9 337.6h0M276.3 202.9h0M276.4 217.4h0M276.5 218.2h0M276.6 336.1h0M276.6 214.2h0M276.7 191.2h0M276.7 183.4h0M276.7 340.7h0M276.7 333.1h0M276.8 195.8h0M276.9 336.7h0M276.9 173.8h0M277 184.9h0M277.4 363.7h0M277.4 354.3h0M277.5 366.8h0M277.6 208.1h0M277.7 219.6h0M277.7 343.8h0M277.8 388h0M277.8 353.7h0M277.9 216.6h0M278.2 207.4h0M278.2 182.7h0M278.3 214.5h0M278.5 174.6h0M278.6 212.6h0M278.7 199.6h0M279.2 339.5h0M279.2 354.8h0M279.3 216h0M279.3 201.5h0M279.4 209.2h0M279.8 208.6h0M279.9 199.2h0M280 189.6h0M280 374.3h0M280.5 373.4h0M280.5 345.2h0M280.6 376.5h0M280.7 363h0M280.8 173.6h0M280.9 204.3h0M280.9 183h0M280.9 215.8h0M280.9 209h0M280.9 209.1h0M281 336.1h0M281 200.1h0M281 344.1h0M281.1 364.5h0M281.4 343.8h0M281.6 369.3h0M281.6 368.5h0M281.7 336.5h0M281.7 334.5h0M281.7 344.1h0M282.2 212.4h0M282.3 335.3h0M282.3 407h0M282.4 191.1h0M282.4 348h0M282.6 339.7h0M282.6 335.4h0M282.7 186.5h0M282.8 177.4h0M282.9 341.5h0M283 192.5h0M283.1 336.2h0M283.1 219.5h0M283.1 199.2h0M283.2 377.1h0M283.3 344.5h0M283.3 209.2h0M283.4 364.2h0M283.4 174.9h0M283.4 173.9h0M283.5 343.7h0M283.7 207h0M284.2 345.8h0M284.2 348.7h0M284.3 339.8h0M284.4 195.7h0M284.6 209.2h0M284.7 335.6h0M285 206h0M285 207.3h0M285 372.5h0M285.1 194.4h0M285.3 342.8h0M285.4 333h0M285.6 197.5h0M285.8 341.5h0M285.8 343.1h0M286 355.1h0M286.1 371.3h0M286.1 184.6h0M286.2 208.7h0M286.3 343.1h0M286.4 364.2h0M286.4 344.4h0M286.5 343h0M286.6 192.5h0M287 210.8h0M287.1 345.4h0M287.2 218.2h0M287.5 342.3h0M287.5 342.7h0M287.5 359.3h0M287.6 214.2h0M287.8 372.5h0M288.2 219h0M288.4 175.2h0M288.5 155.3h0M288.7 218h0M288.8 172.7h0M289.2 194.9h0M289.2 207.2h0M290 338.8h0M290 196.1h0M290 136.2h0M290 204.7h0M290 195.9h0M290.1 215h0M290.2 350.7h0M290.2 169h0M290.3 341.2h0M290.3 203.9h0M290.3 175.5h0M290.3 176.3h0M290.3 366.6h0M290.4 342.9h0M290.4 208h0M290.4 355.9h0M290.5 208.1h0M291 206.4h0M291.3 195.2h0M291.6 218.3h0M291.6 351.4h0M291.7 360.7h0M291.8 207.2h0M292.2 350.6h0M292.3 348.7h0M292.3 195.5h0M292.3 350.9h0M292.4 336.4h0M292.6 343.5h0M292.6 184h0M292.7 205.5h0M292.8 207.5h0M292.8 197.5h0M292.8 212h0M292.8 218.4h0M292.8 213.5h0M292.9 194.2h0M292.9 202.2h0M293 346.5h0M293.1 197.1h0M293.2 175.5h0M293.2 211.1h0M293.4 181.1h0M293.8 334h0M293.8 345.6h0M293.9 339.5h0M293.9 332.4h0M294 192.7h0M294 336.1h0M294 214.3h0M294.2 211.4h0M294.5 188.7h0M294.5 174.7h0M294.8 341.1h0M294.9 333.6h0M294.9 198.7h0M295.2 344.7h0M295.2 341.4h0M295.2 331.7h0M295.3 348.6h0M295.7 211.6h0M295.7 348.1h0M295.7 336.3h0M295.8 199.8h0M295.8 352.4h0M295.9 342.3h0M296 162.5h0M296.1 339.8h0M296.1 176.4h0M296.1 206.5h0M296.1 119h0M296.1 132.2h0M296.1 150h0M296.2 60.5h0M296.2 78.8h0M296.2 132.5h0M296.2 211.4h0M296.3 338.6h0M296.3 215.5h0M296.4 348.7h0M296.4 82.5h0M296.5 338.6h0M296.5 119.6h0M296.6 206.7h0M296.8 351.2h0M296.8 339.5h0M296.8 177.4h0M297.1 195.8h0M297.6 191.1h0M297.6 212.8h0M297.8 336.4h0M297.8 357.3h0M297.8 208.6h0M297.9 363.6h0M297.9 334.9h0M298.1 205.9h0M298.6 204.6h0M299 337.5h0M299.4 331.8h0M299.5 337.4h0M299.7 200.3h0M299.8 206.4h0M300 206.2h0M300.1 216.2h0M300.3 336.6h0M300.4 327.8h0M300.4 328.4h0M300.4 352.6h0M300.5 332.2h0M300.6 213.7h0M300.7 213.9h0M300.8 331.9h0M300.8 332.6h0M300.9 346.8h0M301 333.5h0M301 215.9h0M301.8 202.1h0M301.9 205.6h0M302 213.2h0M302.3 110.1h0M302.3 155.3h0M302.3 110.4h0M302.4 208.1h0M302.6 203.6h0M302.6 199.8h0M302.7 199.3h0M302.8 199.8h0M303.3 204.7h0M303.4 332.2h0M303.5 182.7h0M303.5 166.6h0M303.6 328.6h0M303.8 188.2h0M303.8 200.5h0M304 209.2h0M304.1 194.7h0M304.1 182.8h0M304.2 329.3h0M304.3 204.4h0M304.6 200.6h0M304.6 195.9h0M304.8 191.6h0M304.9 343.3h0M305.1 328.3h0M305.2 203.5h0M305.4 344.4h0M305.6 326.6h0M305.6 338.8h0M305.7 330h0M305.7 186.4h0M305.7 205.2h0M305.8 199.6h0M305.8 349.6h0M305.8 204.1h0M305.9 333h0M306 334.4h0M306 334.2h0M306 194.7h0M306.1 214.7h0M306.2 343.8h0M306.2 207.3h0M306.3 169.5h0M306.3 338.1h0M306.3 335.1h0M306.6 334.3h0M306.8 212.6h0M306.8 188.4h0M306.9 209.7h0M307 329.3h0M307 333.7h0M307 335.8h0M307.1 332.2h0M307.2 323.2h0M307.3 208h0M307.4 190.3h0M307.7 185.1h0M307.7 367h0M307.7 203.1h0M307.8 206.7h0M307.9 179.7h0M308 335.8h0M308 345.4h0M308.1 344.5h0M308.1 331.9h0M308.1 209.9h0M308.1 202h0M308.1 206.3h0M308.2 213.5h0M308.2 354h0M308.3 333.2h0M308.4 341.6h0M308.4 352.7h0M308.4 201.7h0M308.4 360.7h0M308.4 156.8h0M308.4 334.1h0M308.5 210.4h0M308.6 328.3h0M308.7 348h0M308.7 333.1h0M308.8 211h0M308.9 198.5h0M308.9 360h0M309.1 349.3h0M309.2 338.4h0M309.4 373h0M309.6 347.6h0M309.6 335.9h0M309.7 202.1h0M309.7 198.5h0M309.8 330.8h0M309.8 341.3h0M309.8 327.5h0M310 208.1h0M310.2 338.7h0M310.3 211.1h0M310.6 334.8h0M310.7 331.2h0M311.6 379.5h0M311.8 211.5h0M311.8 351.7h0M311.9 336.6h0M311.9 209h0M312 331.6h0M312 336.2h0M312 201.7h0M312.1 363.2h0M312.2 203.3h0M312.3 203.8h0M312.4 358h0M312.4 332.3h0M312.5 331.9h0M312.5 334.9h0M312.6 203.1h0M312.7 368.6h0M312.7 165.3h0M312.7 211.1h0M312.7 211.4h0M312.7 211.7h0M312.8 206.2h0M312.8 198.1h0M312.9 325.1h0M313 397.8h0M313.1 342.6h0M313.1 347.9h0M313.2 331.5h0M313.2 341.6h0M313.2 340.7h0M313.2 321.1h0M313.4 201.2h0M313.5 331.6h0M313.6 326.2h0M313.8 360.8h0M314 328.2h0M314.1 208.2h0M314.2 322h0M314.5 209.9h0M314.6 330.6h0M314.6 200.3h0M314.7 347.1h0M314.7 332.3h0M314.9 330.9h0M314.9 179.5h0M315 321h0M315.1 177.9h0M315.1 195.1h0M315.2 330.7h0M315.3 358.3h0M315.3 210.8h0M315.4 319.8h0M315.4 201h0M315.4 199.5h0M315.6 192.4h0M315.7 349.5h0M315.7 332h0M316.2 197.7h0M316.3 171.3h0M316.5 330.8h0M316.5 178.3h0M316.5 342h0M316.8 202.1h0M316.8 353.8h0M316.8 331.6h0M316.9 373.9h0M316.9 328.9h0M317 333.6h0M317.2 342.4h0M317.6 205.2h0M317.7 381.1h0M317.9 206.5h0M318.2 200.9h0M318.3 202.2h0M318.4 199h0M318.5 189.3h0M318.6 191.1h0M318.8 166.2h0M318.8 205.8h0M319.2 378.9h0M319.4 326.1h0M319.5 337h0M319.5 320.9h0M319.8 362.1h0M319.9 198.4h0M320 336.2h0M320 204.7h0M320.1 322.5h0M320.1 338h0M320.1 207.9h0M320.4 196.9h0M320.7 321.5h0M321.1 328.2h0M321.2 173h0M321.4 389.7h0M321.4 195.5h0M321.5 318.9h0M321.6 208.5h0M321.8 319.9h0M321.9 329.9h0M321.9 355.7h0M321.9 332h0M322.1 357.6h0M322.1 201.2h0M322.2 329.6h0M322.5 327.2h0M322.5 327.4h0M322.8 324h0M322.8 336.9h0M322.9 328.4h0M323.3 378.5h0M323.7 330.3h0M323.8 337.7h0M323.8 351.9h0M324.1 338.6h0M324.3 331.7h0M324.4 327.7h0M324.7 322.7h0M324.7 182.4h0M324.8 353.8h0M324.9 320h0M325.3 206.1h0M325.4 326.3h0M325.4 379.4h0M325.5 328h0M325.5 192.9h0M325.6 196.5h0M325.7 328.5h0M325.7 193.7h0M325.8 203.1h0M326 193.2h0M326 328.8h0M326 177.3h0M326.2 352.1h0M326.3 187.5h0M326.3 349h0M326.4 333.5h0M326.4 206.1h0M326.4 325.8h0M326.4 325.8h0M326.5 325.8h0M326.7 387h0M326.9 354.9h0M327 204.9h0M327.1 343.1h0M327.2 346.5h0M327.6 321.8h0M327.7 167.1h0M327.7 162.7h0M327.9 316.6h0M328.1 192.4h0M328.1 191.9h0M328.2 322.1h0M328.3 341.4h0M328.3 366.5h0M328.3 195.5h0M328.4 185.6h0M328.4 367.9h0M328.6 384.3h0M328.9 314.3h0M329.1 318.8h0M329.2 375.1h0M329.3 178h0M329.3 322h0M329.3 318.4h0M329.4 185.6h0M329.4 188.9h0M329.5 316.5h0M329.5 194h0M329.6 323.4h0M329.9 201.1h0M329.9 410.7h0M330.4 329.4h0M330.4 327.7h0M330.5 323.7h0M331 205.3h0M331.2 187.3h0M331.6 360.8h0M332.1 195h0M332.2 179.8h0M332.2 193.5h0M332.2 321.4h0M332.7 344.9h0M332.7 175.2h0M332.8 198.2h0M332.8 205.7h0M332.9 201.6h0M332.9 209.1h0M333 373h0M333 150.7h0M333.1 185.6h0M333.1 379.6h0M333.2 205.6h0M333.3 328.9h0M333.3 172h0M333.6 208h0M333.6 148.2h0M333.7 196h0M333.8 317.4h0M333.9 191.9h0M334.1 201.5h0M334.2 372.5h0M334.2 311.1h0M334.3 320.3h0M334.4 313.3h0M334.5 312.3h0M334.6 202.3h0M334.6 313.2h0M334.6 335.5h0M334.8 307.8h0M334.8 352.6h0M334.8 203h0M335.2 314.5h0M335.2 321.1h0M335.4 205.9h0M335.8 307.3h0M335.9 329.7h0M335.9 311.3h0M336 210.8h0M336.1 359.5h0M336.3 326h0M336.3 201.4h0M336.8 208.7h0M336.8 310.5h0M336.9 205h0M337 213.7h0M337.1 214.2h0M337.2 304.1h0M337.4 211.1h0M337.4 305.9h0M337.5 189h0M337.5 312.1h0M337.6 330.7h0M337.6 138.4h0M337.6 207.5h0M337.8 198.9h0M338.1 215.2h0M338.1 204.6h0M338.3 205.7h0M338.3 310.7h0M338.3 179.3h0M338.3 202.8h0M338.4 211.2h0M338.4 202.7h0M338.5 194.6h0M338.8 300.6h0M338.9 211.5h0M339.1 211.8h0M339.4 218.1h0M339.5 308.9h0M339.5 308.2h0M339.7 216.1h0M339.7 208.7h0M339.7 301.5h0M339.8 326.6h0M339.8 299.7h0M340 307h0M340 305.9h0M340.2 319.6h0M340.6 177.4h0M340.9 195h0M341 309.3h0M341 165.7h0M341 214.8h0M341.1 306.9h0M341.1 206.8h0M341.2 306.6h0M341.2 300.4h0M341.3 202.8h0M341.3 207.7h0M341.5 202.3h0M341.5 184.2h0M341.6 179.2h0M341.6 198.9h0M342.3 208.6h0M342.3 300.8h0M342.3 184.2h0M342.4 297.7h0M342.4 318.9h0M343 322.5h0M343 297.1h0M343.4 306.6h0M343.4 206.6h0M343.5 307.7h0M343.6 180.3h0M344.3 296.3h0M344.4 208.7h0M344.4 319.2h0M344.4 203.4h0M344.7 199.2h0M344.9 188.6h0M344.9 216.9h0M345.4 208.6h0M345.4 305.2h0M345.4 308.8h0M345.6 306.5h0M345.6 299.6h0M345.7 315.1h0M346 211.1h0M346 216.2h0M346.1 300.2h0M346.3 213.8h0M346.3 206h0M346.3 305.2h0M346.6 186.8h0M346.8 303.4h0M346.8 183.5h0M346.8 218.4h0M346.9 211.1h0M347 304.4h0M347 305.6h0M347 194.3h0M347 297.7h0M347.1 206.5h0M347.2 308.5h0M347.2 298.5h0M347.2 301.8h0M347.4 206.6h0M347.5 305.4h0M348 210.7h0M348.2 209.5h0M348.2 185h0M348.5 299.2h0M348.5 212.3h0M348.6 156.8h0M348.6 377.2h0M348.7 216.5h0M348.9 301.6h0M348.9 179h0M348.9 336.8h0M349.1 187.1h0M349.2 181.3h0M349.2 134.3h0M349.4 297.1h0M349.4 296h0M349.4 216.4h0M349.4 212.5h0M349.6 303.4h0M349.6 203.5h0M349.7 202.6h0M349.7 208.7h0M349.9 297.1h0M350.2 208.7h0M350.4 205.2h0M350.4 304.1h0M350.5 213.8h0M350.5 218.5h0M350.6 211.7h0M350.7 293.9h0M350.8 215.2h0M350.9 214.6h0M350.9 207.5h0M350.9 341.5h0M351 218.9h0M351.1 310.6h0M351.1 327.3h0M351.2 329.4h0M351.2 182.4h0M351.2 213.8h0M351.3 309.2h0M351.4 319.6h0M351.6 218.9h0M351.6 193.6h0M351.8 206.9h0M352.1 294h0M352.3 347.1h0M352.4 370.5h0M352.5 302.4h0M352.7 299.4h0M352.8 338.5h0M352.8 209h0M352.9 298.5h0M353 215.7h0M353.2 322.1h0M353.3 209.2h0M353.4 358.8h0M353.4 302h0M353.5 207.8h0M353.5 294.8h0M353.6 314.8h0M353.7 312.9h0M353.8 357.9h0M353.9 353.6h0M353.9 217.9h0M354 213.9h0M354 215.4h0M354.3 188.8h0M354.4 347h0M354.4 375.4h0M354.5 207.2h0M354.5 304.4h0M354.5 218.5h0M354.7 299h0M354.8 301.4h0M355 296.6h0M355 218h0M355 361.5h0M355.1 201.1h0M355.4 207.5h0M355.4 207.5h0M355.6 180.4h0M355.6 191.7h0M355.6 205.5h0M355.7 216.5h0M355.7 302.4h0M355.8 290.1h0M355.8 338.6h0M356 317.8h0M356.1 213.6h0M356.1 198.6h0M356.2 339.1h0M356.3 304.1h0M356.5 293.2h0M356.5 180.2h0M356.5 319.2h0M356.6 218.3h0M356.7 191.6h0M356.7 216.6h0M356.8 204.9h0M356.9 317.2h0M357 212.5h0M357 188.6h0M357.1 191.4h0M357.1 306.2h0M357.3 298.8h0M357.4 203.1h0M357.5 320.9h0M357.5 174.1h0M357.7 290.6h0M357.8 300.6h0M357.8 288.1h0M357.9 329.6h0M357.9 299.5h0M358 295.2h0M358 220.3h0M358 314.9h0M358.2 302.1h0M358.2 298.8h0M358.5 309.2h0M358.5 191.7h0M358.7 328.2h0M358.8 183.5h0M359 356.8h0M359.2 191h0M359.2 210.9h0M359.4 305.4h0M359.4 198.8h0M359.5 303.5h0M359.5 323.2h0M359.6 297.3h0M359.7 170.5h0M359.8 293h0M359.9 291.1h0M360 211.1h0M360 346.8h0M360.1 218.5h0M360.2 209.2h0M360.2 294.2h0M360.3 206.4h0M360.3 291.3h0M360.4 288.1h0M360.7 292.9h0M360.8 214.2h0M360.9 295h0M360.9 363.9h0M361.2 326.9h0M361.3 307.6h0M361.4 202.1h0M361.8 170.5h0M361.8 210.1h0M361.8 209.8h0M361.9 295.6h0M362.1 354.3h0M362.1 294.9h0M362.1 208.4h0M362.1 287.1h0M362.1 344h0M362.3 198.9h0M362.3 294.4h0M362.3 208.5h0M362.4 311.7h0M362.4 206.5h0M362.4 326.1h0M362.5 216.9h0M362.5 343.5h0M362.6 307.8h0M362.6 218.9h0M362.7 296.4h0M362.7 315.6h0M362.8 285h0M362.9 314.1h0M362.9 340.7h0M363 320.1h0M363 211.7h0M363.1 215h0M363.1 283.5h0M363.3 209.9h0M363.5 294.1h0M363.7 285.3h0M363.7 219.8h0M363.9 191.3h0M364.1 209.3h0M364.3 207.7h0M364.3 205.7h0M364.3 185.6h0M364.6 217.8h0M364.6 209.9h0M364.9 201.2h0M365.1 219h0M365.1 288h0M365.2 211h0M365.2 350.2h0M365.2 357.9h0M365.2 373.2h0M365.2 377.8h0M365.2 388h0M365.2 209.2h0M365.2 211.9h0M365.3 210.1h0M365.4 289.8h0M365.5 209.6h0M365.5 191.6h0M365.5 292h0M365.6 208.8h0M365.7 210.1h0M365.9 206.4h0M366.1 181.5h0M366.2 300.6h0M366.2 346.5h0M366.3 293.7h0M366.4 311.9h0M366.4 333.8h0M366.6 291.1h0M366.6 205.8h0M366.7 312.9h0M366.8 217.1h0M367.1 181.4h0M367.2 328h0M367.2 213.8h0M367.4 301.7h0M367.4 291.9h0M367.4 186.2h0M367.4 200.4h0M367.5 187.3h0M367.6 326.8h0M367.6 280.2h0M367.6 316.2h0M367.7 286.8h0M367.8 289.3h0M367.8 298h0M368 302.6h0M368 208.9h0M368 191.7h0M368.1 197.5h0M368.2 324.7h0M368.2 207.8h0M368.3 219.8h0M368.3 295.7h0M368.3 347.7h0M368.4 207.5h0M368.4 208.1h0M368.5 289.4h0M368.5 210.4h0M368.7 205.7h0M368.7 288.9h0M368.8 290.7h0M369 289.2h0M369 179.9h0M369 286.1h0M369.1 330.5h0M369.3 280.7h0M369.3 279.8h0M369.4 288.2h0M369.6 280.1h0M369.7 209.1h0M369.7 195.6h0M369.8 211.8h0M369.9 332.5h0M369.9 314.2h0M370.2 289.4h0M370.6 209.5h0M370.6 172.6h0M370.7 279.5h0M370.7 209.8h0M370.7 198h0M370.7 288.1h0M370.7 307.4h0M370.8 183.3h0M370.8 204.4h0M371.3 214.7h0M371.4 207.1h0M371.5 192.4h0M371.6 218.6h0M371.6 209.9h0M371.9 218.8h0M372 285.9h0M372.1 314.8h0M372.1 180.2h0M372.2 344.5h0M372.3 312h0M372.3 286.8h0M372.3 216.5h0M372.4 206.6h0M372.4 281.1h0M372.8 305.7h0M372.8 187.4h0M373 290.8h0M373 346.6h0M373.1 293.3h0M373.1 203.2h0M373.2 207.5h0M373.2 207.1h0M373.6 219h0M373.6 209.9h0M373.6 214.9h0M373.7 299.1h0M373.8 149.1h0M373.9 286.5h0M373.9 206.1h0M374 210.8h0M374.1 177.2h0M374.1 312.2h0M374.1 209h0M374.3 276.4h0M374.3 212.3h0M374.5 212.5h0M374.5 296.3h0M374.6 194.3h0M374.7 286.2h0M374.7 210.3h0M374.8 207.4h0M374.8 309.5h0M374.9 318.1h0M374.9 215.4h0M374.9 210.8h0M375.1 202.4h0M375.2 200.4h0M375.2 206.3h0M375.3 172.5h0M375.3 276.1h0M375.3 277.9h0M375.4 318.7h0M375.4 179h0M375.6 285.6h0M375.6 186.1h0M375.7 168.5h0M375.7 285.8h0M375.8 204.1h0M375.8 310.5h0M375.9 216.9h0M375.9 365h0M376 192.2h0M376.5 200.3h0M376.5 212.8h0M376.5 214.5h0M376.6 281.8h0M376.6 212.9h0M376.6 371.6h0M376.6 304.7h0M376.7 285.5h0M376.9 302.9h0M376.9 328.1h0M377 285.5h0M377.1 293.4h0M377.1 296.7h0M377.2 310.1h0M377.2 306.8h0M377.3 287.1h0M377.3 333h0M377.4 316.8h0M377.5 216.3h0M377.5 295.9h0M377.6 341.8h0M377.7 284.8h0M377.7 215h0M377.9 197.5h0M377.9 287.3h0M378.3 207.2h0M378.3 318.1h0M378.4 219.8h0M378.4 218.4h0M378.4 291.4h0M378.5 284.3h0M378.7 204.3h0M378.8 289.6h0M378.8 274.1h0M378.9 277.1h0M379 284.2h0M379 286.8h0M379.1 332.5h0M379.1 319.2h0M379.3 360.9h0M379.3 377.8h0M379.4 285.5h0M379.7 286h0M379.8 220.5h0M379.8 291h0M379.9 219.5h0M379.9 333.3h0M379.9 289.5h0M380 276.1h0M380 210.3h0M380.1 218h0M380.1 284.4h0M380.1 311.6h0M380.2 311.2h0M380.3 211.9h0M380.5 342.9h0M380.5 213.7h0M380.7 276.2h0M380.7 216h0M380.8 282.4h0M380.9 282.1h0M381.2 282.8h0M381.3 274.9h0M381.4 158.3h0M381.5 283.9h0M381.6 220.2h0M381.9 273.5h0M381.9 277.3h0M382.3 274.9h0M382.4 278h0M382.5 215.8h0M382.5 317.8h0M382.6 282h0M382.6 290.8h0M382.8 218.8h0M382.9 202.8h0M382.9 191.6h0M383.2 348.6h0M383.5 275.9h0M383.7 214h0M383.8 370.8h0M383.8 210.8h0M384.3 281.6h0M384.3 211.7h0M384.3 306.5h0M384.3 324.9h0M384.3 323.6h0M384.4 213.9h0M384.5 281.7h0M384.7 279.2h0M384.8 208.9h0M384.8 283.5h0M384.9 208.9h0M384.9 284.9h0M385 287.6h0M385.2 182.2h0M385.2 202.7h0M385.2 306.5h0M385.4 356.8h0M385.4 192.9h0M385.6 218.9h0M385.8 325.4h0M385.9 273.4h0M386 352.4h0M386 294h0M386.1 214.7h0M386.1 211.7h0M386.1 215h0M386.2 274.2h0M386.2 214.6h0M386.3 302.6h0M386.3 210.6h0M386.3 220.7h0M386.3 300.5h0M386.4 205.4h0M386.4 212h0M386.4 350h0M386.5 326.5h0M386.6 210.8h0M386.6 354.5h0M387 270.9h0M387 215.1h0M387.1 286.3h0M387.2 212.1h0M387.2 318.5h0M387.3 291.4h0M387.4 301.7h0M387.6 343.3h0M387.6 271.5h0M387.6 277.3h0M387.9 299h0M388 277.6h0M388.1 268.9h0M388.1 212h0M388.2 296h0M388.3 210.4h0M388.3 191.5h0M388.3 220.7h0M388.6 343.2h0M388.6 179.2h0M388.6 220.7h0M388.6 276h0M388.7 289.7h0M388.7 304.9h0M388.8 313.2h0M388.9 284.3h0M388.9 200.6h0M388.9 212.8h0M389 348.5h0M389 201.8h0M389.1 216.3h0M389.2 275.1h0M389.3 214.8h0M389.3 216.9h0M389.5 265.9h0M389.5 271.6h0M389.8 331.9h0M389.8 281.4h0M389.8 215.7h0M390 312.1h0M390 220.9h0M390.2 334.1h0M390.3 269.6h0M390.4 267h0M390.5 270.5h0M390.7 266h0M390.7 213.5h0M390.7 272.1h0M390.8 292.3h0M390.9 325.5h0M391 210.1h0M391.1 215.6h0M391.3 270.7h0M391.3 297.6h0M391.3 342.4h0M391.5 286.5h0M391.5 213.6h0M391.5 198.9h0M391.6 281.6h0M391.7 209.7h0M391.8 264h0M391.9 214.2h0M392 306.8h0M392.1 276.3h0M392.1 304.5h0M392.3 267.4h0M392.5 264.1h0M392.5 291.6h0M392.6 314.6h0M392.7 274.4h0M392.9 261.2h0M393 277.7h0M393 286.5h0M393.1 191.2h0M393.2 278.9h0M393.4 194.1h0M393.4 281.6h0M393.4 214.5h0M393.6 268.4h0M393.7 309.7h0M393.7 321.7h0M393.7 277.1h0M394 270.4h0M394 276h0M394.1 210.2h0M394.1 180h0M394.3 203.3h0M394.3 280.2h0M394.5 215.6h0M394.5 190.6h0M394.6 213.8h0M394.7 349.7h0M394.7 214.7h0M394.8 215h0M395.1 285.1h0M395.3 267.5h0M395.3 352.6h0M395.3 368.6h0M395.3 303.2h0M395.6 265.8h0M395.8 265.6h0M395.9 194.6h0M396 214.3h0M396.1 277.8h0M396.1 278.7h0M396.1 265.6h0M396.1 214.5h0M396.1 215.4h0M396.4 216h0M396.6 358.6h0M396.7 221.8h0M396.7 196.3h0M396.8 256.9h0M396.8 215.4h0M396.8 263.4h0M397 196.5h0M397.1 206h0M397.1 266.8h0M397.2 193.2h0M397.3 215.5h0M398.1 215.7h0M398.1 196.3h0M398.4 271.5h0M398.5 331.2h0M398.5 263.5h0M398.5 215.6h0M398.6 184.2h0M398.6 274.3h0M399 274.1h0M399.4 211.7h0M399.7 222.1h0M399.8 223.5h0M400.2 287h0M400.2 216.8h0M400.6 216.2h0M400.7 286.2h0M400.8 272.4h0M400.8 272.7h0M400.9 224.5h0M401.2 271.9h0M401.4 272.8h0M401.5 222.7h0M401.6 274.1h0M401.6 283.4h0M401.7 302.9h0M401.9 213.6h0M402 195h0M402.1 218.8h0M402.1 220.9h0M402.2 215.9h0M402.3 320.5h0M402.3 153.7h0M402.4 273.6h0M402.4 183.9h0M402.5 201.2h0M402.6 287.4h0M402.7 215.4h0M402.7 207.7h0M403.1 307.2h0M403.1 296.3h0M403.2 272.3h0M403.2 275h0M403.3 288.1h0M403.6 272.4h0M404.2 280.8h0M404.3 288.7h0M404.4 282.3h0M404.5 306.6h0M404.6 215.7h0M404.9 216.6h0M405.1 280.8h0M405.1 280.1h0M405.2 211.4h0M405.5 189.4h0M405.5 297.6h0M405.6 299.7h0M405.9 214h0M405.9 313.8h0M406 207.1h0M406 199.6h0M406.4 296.7h0M406.8 215.8h0M407 280.5h0M407.1 293.8h0M407.4 284.3h0M407.5 217.1h0M407.6 216.7h0M407.6 272.7h0M407.7 219.8h0M407.7 223.6h0M407.7 277.1h0M407.8 193.5h0M407.8 279.5h0M408.1 221.3h0M408.2 351.7h0M408.6 291.2h0M408.6 273.1h0M409 214.6h0M409.1 316.4h0M409.4 213.3h0M409.4 202.9h0M409.5 303.6h0M409.8 321.5h0M410.1 286.9h0M410.2 223h0M410.5 212.8h0M410.8 204.6h0M410.8 296.9h0M410.8 283.2h0M410.8 219.6h0M410.9 290.4h0M410.9 201.6h0M411 191.4h0M411.3 208.9h0M411.5 214h0M411.6 218h0M411.6 321.4h0M411.8 311.1h0M412.2 282.9h0M412.2 274.7h0M412.5 316.7h0M412.5 305.8h0M412.5 281.3h0M412.5 310.1h0M412.5 184h0M413.1 278.1h0M413.2 217.1h0M413.7 218.7h0M413.8 213.2h0M413.9 271.9h0M414.8 203.1h0M414.9 277.3h0M415.2 281.2h0M415.4 183.7h0M415.4 219.8h0M415.6 280.6h0M415.6 219.1h0M415.8 193.9h0M415.8 312.1h0M415.8 299.7h0M415.9 313.2h0M415.9 215.5h0M416.1 195.7h0M416.3 286.1h0M416.4 312.6h0M416.8 281.9h0M416.9 287.9h0M417.1 192.4h0M417.2 209.5h0M417.2 211.4h0M417.3 280.4h0M417.3 211.1h0M417.4 217.8h0M417.6 209.5h0M417.8 213.4h0M418 274.1h0M418 203.1h0M418.1 270.9h0M418.1 279.8h0M418.1 269.3h0M418.2 271.5h0M418.3 216.2h0M418.3 272.1h0M418.3 219.3h0M418.5 222.4h0M418.5 223.7h0M418.6 268.5h0M418.7 204.8h0M419 214.5h0M419 214.7h0M419 225.7h0M419.3 279.3h0M419.3 279.4h0M419.4 275.3h0M419.4 301.6h0M419.4 276.5h0M419.6 275.4h0M420 216.4h0M420.1 266.1h0M420.3 221.7h0M420.5 269.8h0M420.7 219.5h0M420.7 272.3h0M420.8 293.1h0M420.8 291.5h0M420.8 225.7h0M421.2 222.9h0M421.4 226h0M421.5 274h0M421.5 281.3h0M421.6 276h0M421.6 309.2h0M421.7 213.1h0M421.7 225.4h0M421.8 289h0M421.9 228.2h0M421.9 222.1h0M422 269.5h0M422.3 225.2h0M422.4 278.6h0M422.6 275h0M422.6 228.9h0M422.6 228.6h0M422.8 215.3h0M422.9 229.4h0M423.2 229.2h0M423.7 223.5h0M424 227.6h0M424 225.5h0M424.1 230.8h0M424.3 225.9h0M424.4 311.8h0M424.6 262.7h0M424.6 223.8h0M425 297.5h0M425.4 268.6h0M425.5 226.9h0M425.8 269.7h0M426 223.1h0M426.1 269.2h0M426.3 267.7h0M426.3 291h0M426.3 304.9h0M426.4 296.4h0M426.5 223.6h0M426.7 266.9h0M426.8 220.2h0M426.9 266.4h0M427.3 266.4h0M427.5 226h0M427.6 264.5h0M427.8 225.6h0M428.1 274.6h0M428.2 267.8h0M428.3 265.6h0M428.5 265.6h0M428.7 267.1h0M428.8 259.1h0M428.8 263.3h0M429.2 285.3h0M429.3 273.8h0M429.3 269.4h0M429.4 221.6h0M429.4 214.3h0M429.4 301.5h0M429.6 259.7h0M429.9 219.4h0M430 276.6h0M430.3 284.9h0M430.6 218.8h0M430.8 297.2h0M430.9 268.9h0M431.1 258.5h0M431.2 219.2h0M431.6 258.7h0M431.9 257.7h0M431.9 262.2h0M432.1 290h0M432.2 224h0M432.3 217.4h0M432.4 283.2h0M432.6 286.9h0M432.6 219.1h0M432.7 264.3h0M432.9 293.9h0M433.1 259.6h0M433.2 280.7h0M434.6 264h0M434.8 259.2h0M435.5 304.3h0M435.6 262.3h0M435.7 275.6h0M435.8 304.2h0M435.8 262.1h0M435.9 217.7h0M436.1 258.9h0M436.1 214.3h0M436.2 259.6h0M436.4 275.6h0M436.4 289.9h0M436.4 278.7h0M436.9 270.8h0M437.3 268h0M438.1 222.1h0M438.2 218.9h0M438.3 217.1h0M438.4 266.7h0M438.6 261.5h0M438.8 263.7h0M438.9 260.3h0M438.9 276.7h0M439 261.9h0M439.1 282.3h0M439.3 263.8h0M439.3 215.1h0M439.4 258.6h0M439.4 216h0M439.5 283.3h0M439.6 262.6h0M439.9 215.6h0M440.1 219.3h0M440.2 226.1h0M440.3 224.7h0M440.6 271.8h0M440.7 220h0M442.4 217.7h0M442.6 262.8h0M443 218.4h0M443.4 268.7h0M443.5 264.7h0M443.8 216.5h0M444 217.2h0M444.1 265.3h0M444.5 266.8h0M444.7 284.9h0M445.3 266h0M445.5 267.7h0M445.5 265.6h0M446 262.9h0M446.2 229h0M446.5 232.5h0M446.6 267.1h0M446.6 261.7h0M446.6 264.2h0M447 232.1h0M447.2 283.2h0M447.2 231h0M447.7 230.4h0M447.8 230.4h0M448 232.5h0M448.1 231.4h0M448.2 236.7h0M448.4 267.1h0M448.4 267.1h0M449 279.9h0M449.2 273.8h0M449.3 276.8h0M449.4 298.4h0M449.8 277.1h0M449.8 273.3h0M449.8 238.2h0M449.8 268.9h0M449.9 284.5h0M449.9 231.2h0M450 269.9h0M450 278.9h0M450.3 223.4h0M450.4 232.8h0M450.9 279h0M450.9 274.2h0M451 271.1h0M451.1 239h0M451.2 220.9h0M451.3 267.8h0M451.3 269.4h0M451.6 267.1h0M451.7 271.4h0M451.7 236.6h0M451.9 235.7h0M452 234.6h0M452.1 229.4h0M452.3 274h0M452.4 235.8h0M452.6 270.1h0M453 236h0M453.1 218.9h0M453.1 268.3h0M454.1 299.5h0M454.4 286h0M454.6 283h0M454.7 237.9h0M455.4 232.6h0M455.8 280.5h0M455.9 238.6h0M455.9 276.5h0M456.3 291.8h0M456.5 243.3h0M456.6 293.7h0M456.7 302.6h0M456.9 294.2h0M457.2 232.3h0M457.5 218.7h0M457.6 245.3h0M457.7 290.8h0M457.7 291.5h0M457.8 238.4h0M457.9 237.9h0M457.9 289.8h0M458.3 298.9h0M458.3 299.8h0M458.5 290.9h0M458.5 296.5h0M458.6 236.9h0M458.7 225.8h0M458.9 294.3h0M459.1 237.1h0M459.2 296.6h0M459.2 226.2h0M459.4 300.2h0M459.4 232.1h0M459.8 293.2h0M459.8 230.3h0M460.1 302.6h0M460.5 299.4h0M460.6 294h0M460.8 302.2h0M460.9 214.3h0M461 301.6h0M461.1 296.1h0M461.2 239h0M461.4 235.6h0M461.7 229.1h0M462 300.4h0M462.1 303.1h0M462.3 223.2h0M462.5 326.2h0M462.5 323.1h0M462.6 317.2h0M462.7 316.5h0M462.7 200.8h0M462.8 311.9h0M462.8 313.6h0M462.9 309.9h0M463 312h0M463 216.6h0M463.1 312.7h0M463.2 229.4h0M463.3 315.7h0M463.5 229.1h0M463.6 310.6h0M463.8 208.8h0M464 220.2h0M464.3 223h0M464.5 308.2h0M464.7 214.9h0M465.2 308.2h0M465.5 313.5h0M465.6 217.1h0M465.8 311.3h0M466.4 308.9h0M466.5 210.7h0M466.6 206.7h0M467.8 200.8h0M467.8 327.7h0M468.2 194.8h0M468.3 211.5h0M468.3 199.5h0M468.4 195h0M468.5 209.8h0M468.5 198.3h0M468.8 196.6h0M469 183.2h0M469.7 203.5h0M469.7 197.9h0M469.9 319.9h0M470.5 320.7h0M470.6 201.9h0M470.7 207.8h0M470.8 205h0M471.1 106.1h0M471.1 125.4h0M471.2 198.6h0M471.5 106.3h0M471.5 125.3h0M471.5 199.4h0M471.6 321.4h0M471.6 204.4h0M471.6 317.9h0M471.7 204.8h0M472 166h0M472.1 315.9h0M472.2 199.7h0M472.2 197h0M472.2 196.4h0M472.2 206.6h0M473.2 317.6h0M473.3 373.2h0M473.6 350.2h0M474 196.1h0M474.5 204.8h0M474.8 206.8h0M474.9 203.4h0M475 183.3h0M475 198.3h0M475 198.4h0M475.3 206.1h0M475.4 315.5h0M475.5 323.6h0M475.7 316.9h0M475.7 205.9h0M475.8 317.7h0M476 206.5h0M476.5 194.7h0M476.6 196.5h0M476.7 199h0M476.7 202.6h0M476.8 206.1h0M477.1 324.2h0M477.2 144.5h0M477.2 154.6h0M477.6 320h0M477.6 187.5h0M477.7 314.1h0M477.7 324.4h0M478 180.3h0M478 318.1h0M478.4 323.8h0M478.9 321.5h0M479.1 316.6h0M479.1 196.3h0M479.4 321.4h0M479.7 331.6h0M479.7 206h0M479.9 321.2h0M479.9 330.7h0M480 205.8h0M480 321.3h0M480.2 198.3h0M480.4 321.2h0M480.5 320.2h0M481 314.6h0M481.1 314.1h0M481.2 322.2h0M481.3 197.7h0M481.4 197.4h0M481.6 193.5h0M481.6 310.2h0M481.7 196.9h0M481.8 158.3h0M481.9 312.5h0M482 197.4h0M482.2 195.7h0M482.4 197.9h0M482.5 314.9h0M482.6 317.1h0M482.7 196.7h0M482.8 153.7h0M482.9 314.1h0M483 191.1h0M483.2 207.6h0M483.2 317.8h0M483.2 193.5h0M483.4 181.4h0M483.4 347.1h0M483.5 192.4h0M483.7 313.3h0M483.9 194.2h0M483.9 324.1h0M484.3 315.4h0M484.3 196.6h0M485 322.9h0M485.1 182.1h0M485.2 316.3h0M485.3 195.9h0M485.4 197h0M485.6 327h0M485.6 330.6h0M485.6 196.1h0M485.7 319.2h0M485.7 197h0M485.8 333.5h0M486 320h0M486 202.8h0M486.1 317.8h0M486.3 200.7h0M486.3 314.4h0M486.5 332.7h0M486.5 199.4h0M486.7 319.3h0M487.7 196.5h0M488.1 307.1h0M488.1 204.7h0M488.1 191.7h0M488.1 204h0M488.1 317.5h0M488.3 191.7h0M488.3 306.4h0M488.6 175.9h0M488.6 347h0M488.6 311.3h0M488.6 322.1h0M488.7 197.8h0M488.8 170.1h0M489 315.7h0M489 311.5h0M489.1 204.1h0M489.1 310.4h0M489.2 327.8h0M489.2 183.9h0M489.6 310.7h0M489.8 339.4h0M490.4 344.6h0M490.7 197h0M490.9 314h0M490.9 196.3h0M491 194.5h0M491.4 201.6h0M491.5 183.9h0M491.7 204.6h0M491.9 310.1h0M491.9 304.8h0M492 311.2h0M492 304.5h0M492.2 311h0M492.3 311.9h0M492.4 302.7h0M492.5 304.5h0M492.5 313h0M492.5 308.8h0M492.6 351.1h0M492.6 317h0M492.8 311.9h0M492.9 168.9h0M492.9 199.9h0M493 330.3h0M493.1 308.3h0M493.1 312h0M493.2 307.2h0M493.2 307.4h0M493.2 203.9h0M493.3 166.7h0M493.3 191.7h0M493.4 300.9h0M493.5 321.6h0M493.5 196.3h0M493.6 309.2h0M493.7 203.5h0M493.8 304.1h0M493.9 304.4h0M493.9 206.1h0M494 196.5h0M494.1 309.1h0M494.5 196.4h0M495 197.8h0M495 204h0M495.2 299.6h0M495.3 203.5h0M495.4 199.4h0M495.5 197.2h0M495.7 201.5h0M496 199.1h0M496.4 196.1h0M496.5 301.7h0M496.6 193.8h0M497 202.8h0M497.2 189.6h0M497.3 313.6h0M498.3 285.8h0M498.5 189.2h0M498.5 283.5h0M498.6 195.4h0M498.7 190.3h0M498.7 194.1h0M498.8 195.4h0M498.9 186.3h0M499 191.2h0M499.1 197.1h0M499.1 195.9h0M499.3 207.6h0M499.4 171.8h0M499.4 298.5h0M499.4 304.5h0M499.8 182.6h0M500 196.4h0M500 287.9h0M500.1 332.6h0M500.2 196.4h0M500.3 203h0M500.3 202.1h0M500.4 198.1h0M500.5 197.8h0M500.6 149.1h0M500.6 168.4h0M500.7 291.1h0M501 181.1h0M501 277.8h0M501.1 189.2h0M501.1 269h0M501.2 201.9h0M501.4 274.8h0M501.4 164.9h0M501.7 194.2h0M501.7 303.8h0M501.7 204.7h0M501.7 267h0M501.8 298h0M501.8 317.7h0M501.9 198.6h0M502 281.3h0M502.1 274.8h0M502.1 202.8h0M502.2 189.7h0M502.4 202.7h0M502.5 199.6h0M502.7 208.3h0M502.7 184.8h0M502.8 264.7h0M502.9 200.1h0M503.1 197.1h0M503.3 175.1h0M503.3 200.7h0M503.4 284.9h0M503.4 198.4h0M503.5 270.7h0M503.7 166.7h0M503.8 195h0M503.9 178.5h0M504 272.7h0M504 192.2h0M504.7 290.3h0M504.9 204.1h0M505.2 273.3h0M505.2 206.5h0M505.4 275.2h0M505.5 174.9h0M505.5 209.1h0M505.6 209.3h0M505.7 176.6h0M505.7 189.4h0M505.7 172.4h0M505.8 170.6h0M506 254.8h0M506.1 202.3h0M506.1 187.4h0M506.1 265.4h0M506.3 185.8h0M506.4 284.8h0M506.4 258h0M506.4 254h0M506.5 196.3h0M506.5 202.8h0M506.5 261.5h0M506.6 198.8h0M506.6 263.3h0M506.6 260.9h0M506.7 262.1h0M506.7 261.7h0M506.7 259.1h0M506.7 162.3h0M506.8 267.3h0M506.8 281.4h0M506.9 278.7h0M507 290.3h0M507.1 260.9h0M507.3 201h0M507.4 292.1h0M507.4 275.1h0M507.5 259.7h0M507.6 261.7h0M507.6 209h0M507.9 289.3h0M508 200.1h0M508 204h0M508.1 203.1h0M508.2 270h0M508.2 266.6h0M508.2 207.1h0M508.3 261h0M508.3 262.9h0M509.1 268.9h0M509.2 200.5h0M509.3 191.5h0M509.5 259.5h0M509.5 257.6h0M509.6 202.6h0M509.8 266.9h0M510 254.8h0M510.1 250.9h0M510.1 254.8h0M510.2 257.8h0M510.2 257.5h0M510.3 256.2h0M510.4 257.2h0M510.5 258.3h0M510.5 287.1h0M510.9 253.6h0M510.9 203.6h0M511.1 203.5h0M511.3 209.5h0M511.4 252.5h0M511.4 205h0M511.5 206.6h0M511.6 200.3h0M511.6 207.6h0M511.7 191.5h0M511.7 210.7h0M511.8 255.8h0M512.1 203.4h0M512.1 195.7h0M512.1 249h0M512.2 199.2h0M512.2 205h0M512.3 185.1h0M512.4 194.9h0M512.4 258.3h0M512.5 256.7h0M512.7 200.5h0M512.9 248.2h0M513 181.7h0M513.1 264.3h0M514.2 192.3h0M514.7 214.5h0M514.8 253.9h0M514.9 207.9h0M515.2 207.5h0M515.3 259.8h0M515.3 249h0M515.7 213.7h0M516.1 251.7h0M516.1 209.7h0M516.2 255.3h0M516.2 257.7h0M516.3 256.1h0M516.4 254.8h0M516.7 280.3h0M516.8 256.5h0M516.9 268.9h0M517.4 214.1h0M517.7 219h0M517.7 258.8h0M517.8 266.6h0M517.9 258.4h0M518.3 257.4h0M518.4 260.8h0M518.7 276.1h0M519.1 220.1h0M519.3 256.2h0M519.3 221h0M519.7 256.4h0M519.8 221.7h0M520 225.1h0M520.1 255.8h0M520.5 218.9h0M520.7 258h0M520.8 255.4h0M521.3 256.6h0M521.8 259.2h0M521.8 221.7h0M521.9 253.6h0M522 262h0M522.1 225h0M522.2 257.9h0M522.6 252h0M522.9 260.1h0M523 257.8h0M523.9 286.3h0M526.2 228.7h0M526.7 228.5h0M526.8 226.2h0M527.3 260h0M527.5 228.2h0M527.7 260.6h0M528 226.6h0M528 261.4h0M528 270.6h0M528.2 256.9h0M528.5 227.8h0M528.6 262h0M528.6 257.1h0M528.6 224.3h0M528.7 267.6h0M528.8 264.5h0M529.1 231.1h0M530.2 227.7h0M530.2 227.5h0M530.5 260.8h0M531.5 231.2h0M531.6 258.4h0M531.8 261.8h0M531.9 258.7h0M532 263.8h0M532 262.4h0M532 231.6h0M532.2 230.3h0M532.2 259.6h0M532.3 264.3h0M532.5 261.5h0M532.5 271.5h0M532.9 224.6h0M533.3 260.4h0M533.6 224.7h0M533.6 258.4h0M533.6 226.6h0M534 225.6h0M534.2 224.1h0M534.2 226.5h0M534.2 230.4h0M534.4 226.8h0M534.6 224.5h0M534.7 232.2h0M534.9 227.4h0M534.9 231.1h0M535 258.7h0M535.4 263.1h0M535.6 261.7h0M535.6 226.3h0M535.8 261.8h0M535.9 259h0M535.9 268.9h0M536 264.4h0M536.1 229.2h0M536.5 260.5h0M537 264.5h0M537.7 229.8h0M537.9 222.8h0M538.2 230.5h0M538.6 224.7h0M538.9 220.7h0M539.8 218.7h0M540.6 257.1h0M540.6 259.7h0M541.1 257.1h0M541.3 254.4h0M541.3 256.8h0M541.4 256.4h0M541.8 227.5h0M542 252.5h0M542 219.3h0M542 255.9h0M542.1 256.6h0M542.2 225.4h0M542.8 257.4h0M542.9 227.2h0M543.2 225.8h0M543.3 222.1h0M543.4 257.3h0M543.4 260.7h0M543.4 256.2h0M543.7 252.6h0M545 255.5h0M545.5 221.2h0M545.5 250.5h0M545.5 253.6h0M545.7 224.4h0M546.1 251.5h0M546.2 249.4h0M546.2 250.1h0M546.3 249.6h0M546.6 256.2h0M546.8 250.4h0M546.9 226.4h0M547.1 221.3h0M547.1 253.8h0M547.1 225.2h0M547.6 253h0M548.3 251.4h0M548.7 224.9h0M548.7 247.4h0M548.8 257.9h0M548.8 225h0M549 221h0M549.8 220h0M549.8 220.7h0M550 215.7h0M550.5 222.7h0M551 213.9h0M551.3 216.9h0M551.3 219.1h0M551.6 223.1h0M552.3 222.2h0M553.2 218.5h0M553.5 246.9h0M553.7 214.9h0M554 254.1h0M554.2 246.6h0M554.3 219.1h0M554.7 247.5h0M554.9 247.1h0M555.6 246h0M556.1 242.5h0M556.4 240.8h0M556.6 218.3h0M556.8 241.5h0M556.9 219h0M556.9 218.3h0M557.6 213.1h0M557.6 220.5h0M557.8 217h0M557.9 207.6h0M558.2 220.3h0M559.5 242.2h0M560.3 242.6h0M560.8 215.5h0M561.7 240.8h0M561.8 240.6h0M562.2 240.7h0M562.3 243h0M562.3 242.6h0M562.4 243.2h0M563 240.7h0M563.1 217.2h0M563.9 235.7h0M564.5 238.5h0M565.7 217.5h0M566.4 222.1h0M566.4 240.4h0M566.6 220.3h0M566.7 242.4h0M566.9 243.4h0M567.5 241.7h0M567.6 212.2h0M567.9 223.1h0M568.1 252.8h0M568.2 242.2h0M568.4 249.8h0M568.4 223.3h0M568.4 224.9h0M568.5 220.1h0M568.7 226.7h0M568.7 198.2h0M568.8 242.9h0M569.2 247.9h0M569.6 198.2h0M569.9 227.7h0M570.4 251h0M570.8 251.8h0M571 231.7h0M571.1 214.3h0M571.1 229.8h0M571.3 226.5h0M571.4 229.8h0M571.4 229.8h0M571.5 253.1h0M571.6 229.7h0M572.3 255.9h0M572.5 209.1h0M573.4 224.5h0M573.6 228.3h0M573.7 234.5h0M573.8 233.5h0M573.9 219.1h0M574 256.8h0M574.1 226.4h0M574.1 232.2h0M574.2 223h0M574.2 233.7h0M574.6 230.5h0M574.7 229.2h0M574.7 223h0M575.2 233.2h0M575.5 239h0M575.7 235.8h0M576 234.2h0M576 267h0M576.4 255.1h0M576.5 262.8h0M576.7 260.1h0M576.9 272.4h0M577.2 237.6h0M577.3 284.2h0M577.3 279.1h0M577.5 239.7h0M577.6 230.1h0M577.6 241.1h0M577.6 256.7h0M578.2 287.2h0M579.6 238.6h0M579.7 272.9h0M579.8 239.9h0M580 269h0M580.2 264.9h0M580.5 262.2h0M581.1 261.9h0M582 257.6h0M582.7 258.8h0M583.1 259h0M583.7 242.8h0M584.1 258.1h0M584.9 261.3h0M585.2 239h0M585.5 271.5h0M585.9 239.4h0M586.1 237.4h0M586.5 237.7h0M587.1 261.2h0M587.2 263.1h0M589.2 260.9h0M589.3 234.1h0M589.9 237.5h0M590.9 253.3h0M590.9 226.6h0M590.9 218.4h0M591.1 226.3h0M591.2 257.5h0M591.4 257.6h0M591.5 224.4h0M592 253.3h0M592.3 257h0M592.6 229.5h0M593 256.5h0M593.3 254.5h0M594.2 226.3h0M594.4 229h0M595.1 218.5h0M595.1 259.7h0M595.8 265.7h0M596 223.3h0M596.5 250.7h0M596.7 250.6h0M597.1 226.3h0M597.9 211h0M598 247.6h0M598.7 222.2h0M598.8 244.4h0M599.1 222.5h0M599.1 223.5h0M599.6 248.4h0M600.3 202.8h0M602.1 242h0M602.4 219.8h0M602.6 214.6h0M602.7 264.8h0M603.3 241.1h0M603.3 215.9h0M603.5 250.3h0M603.7 245.3h0M604.3 219.2h0M604.4 219.6h0M605.1 243h0M605.5 245.1h0M606.5 239h0M606.5 241.9h0M606.6 216.6h0M606.7 238.7h0M606.8 240.4h0M607.3 221h0M607.9 242.9h0M608 242.7h0M608.7 223.4h0M609.4 223.4h0M609.6 209.5h0M609.8 243.8h0M609.8 222.1h0M611.7 249.5h0M611.8 227.6h0M612.1 222.3h0M612.1 246.5h0M612.1 245.2h0M612.6 202.8h0M613.6 248.3h0M613.8 223.9h0M614 223.7h0M614.8 223.7h0M614.9 248.9h0M615.7 267.3h0M617.2 258.5h0M618.1 251.7h0M618.4 219.8h0M619.1 250.2h0M619.3 247.6h0M619.5 223h0M619.7 226.6h0M619.8 251.6h0M620.2 252.4h0M620.5 222.8h0M620.6 224.5h0M620.6 247.4h0M620.7 251.9h0M620.9 246.4h0M621.8 193.6h0M621.9 219.2h0M622.1 251.5h0M622.6 219.1h0M623.3 196.1h0M623.6 250.9h0M623.6 246.3h0M623.8 257.7h0M623.9 253.1h0M623.9 251h0M624.7 252.1h0M625.1 214.4h0M625.2 220.2h0M625.4 213.1h0M625.7 213.4h0M625.9 214.1h0M626.8 204.7h0M626.9 212h0M627 247.4h0M627.1 251.6h0M627.3 261.3h0M627.6 253.2h0M628.3 262.7h0M628.8 265h0M628.9 199.7h0M630.5 247.8h0M630.6 213.1h0M630.7 247.9h0M631.3 213.4h0M631.6 245.6h0M631.8 249.3h0M632.4 214.5h0M632.5 248.1h0M632.7 250.4h0M634.6 253.3h0M634.6 256.8h0M635.4 254.5h0M635.6 256h0M636.9 253.5h0M638.4 228.5h0M638.6 221.7h0M639 222.2h0M639.3 288.8h0M639.3 292.5h0M639.9 207.9h0M640.2 222.8h0M640.4 222.4h0M640.7 226.4h0M641.3 273.1h0M641.5 257.1h0M642.1 253h0M642.1 258.4h0M642.2 252.1h0M642.5 219.8h0M643.2 212.4h0M643.3 216.7h0M643.4 227.5h0M643.5 220.6h0M643.6 255h0M644 255.6h0M644 256.9h0M644.1 259.3h0M644.2 212.4h0M644.4 261.8h0M644.5 221.3h0M645.3 222.1h0M645.4 274.7h0M645.8 221.8h0M646 221.9h0M646.4 253.2h0M646.4 261.7h0M646.5 217.3h0M646.6 255.4h0M646.6 266.6h0M647 253.7h0M647.3 221.6h0M647.6 220.9h0M647.7 264h0M648.1 225.7h0M648.8 252.1h0M649.1 222.8h0M649.2 220.3h0M649.3 220.5h0M649.3 254.8h0M649.9 257.4h0M650.1 219.8h0M650.2 221.9h0M650.2 221.5h0M650.4 222.9h0M650.4 224h0M650.5 220.5h0M650.6 261.1h0M650.6 224.7h0M651 252.2h0M651.2 253.4h0M651.3 250.7h0M651.4 254.2h0M651.5 252.4h0M651.9 219h0M651.9 219h0M652.4 269.2h0M652.7 276h0M652.7 255.7h0M653.3 265.5h0M654 253h0M654.1 253.9h0M654.1 255.3h0M654.9 253.2h0M655.5 247.8h0M656.8 218.3h0M656.8 251.3h0M657 248.1h0M657.1 200.3h0M657.3 245.1h0M657.3 213.6h0M657.4 215.5h0M657.5 249.2h0M657.9 215.8h0M658.2 211.1h0M658.3 244.9h0M658.6 284.2h0M658.8 210h0M658.9 208.3h0M658.9 212h0M659.1 260.5h0M659.8 248.1h0M659.9 247.7h0M660.3 207.2h0M660.7 246.6h0M661.3 197.2h0M661.4 248.3h0M661.4 199.5h0M661.5 265h0M661.5 244.8h0M661.6 244.1h0M661.7 205.8h0M661.7 205.1h0M661.7 199.9h0M661.9 198.3h0M662.1 244.5h0M662.6 198.8h0M662.6 179.8h0M662.7 247.6h0M663 198.7h0M663 196.2h0M663.1 255.4h0M663.1 250h0M663.2 185.9h0M663.3 188.2h0M663.3 198h0M663.8 250.3h0M663.8 248.6h0M663.9 279.6h0M664.8 291.2h0M665.9 247.9h0M667.1 216.5h0M667.2 295.5h0M667.5 217.3h0M668.2 270.5h0M668.4 255.1h0M668.5 253.8h0M668.6 265h0M669.2 253h0M669.5 217.7h0M669.8 221.8h0M670.5 225.3h0M670.7 225.6h0M670.9 265.1h0M671 225.8h0M671.4 221.8h0M671.9 216.9h0M672.1 271.3h0M672.2 260.9h0M672.2 216.5h0M672.2 255.9h0M672.3 215.1h0M672.3 256.7h0M672.3 251h0M672.7 222.3h0M672.7 223.1h0M673 253.4h0M673 226.8h0M673 256.5h0M673.4 224.3h0M673.9 256.9h0M674 276.5h0M674.5 224.6h0M674.6 221.9h0M674.6 259.8h0M674.6 280.2h0M674.9 265.2h0M674.9 257.6h0M676.9 256.2h0M677.1 258.1h0M677.4 228.6h0M677.5 223.4h0M677.9 221.8h0M678 256.2h0M678.1 227.6h0M678.1 254.9h0M678.2 228.4h0M678.4 254.3h0M678.8 229.1h0M678.9 254.5h0M679.1 253.9h0M679.2 224.2h0M679.2 218.6h0M679.4 256.8h0M679.4 214.5h0M679.4 228.4h0M679.9 226.7h0M680.1 224h0M680.2 260.3h0M680.5 226.8h0M681 224.4h0M681.1 224.1h0M681.2 223.5h0M681.4 265.9h0M681.8 254.6h0M681.8 227.4h0M682.2 223.7h0M682.6 221.6h0M682.7 221.9h0M682.7 217.3h0M682.8 228.5h0M683.2 257.3h0M683.2 223.5h0M683.4 217.4h0M683.8 222.8h0M684.2 225h0M684.2 225.7h0M684.3 215.4h0M684.5 228.4h0M684.5 226.8h0M684.6 221.4h0M684.7 257.9h0M684.7 221.8h0M684.8 223.1h0M685 212.5h0M685 260.4h0M685.2 222.9h0M685.5 222.2h0M685.5 258h0M685.6 227.9h0M686.1 264.2h0M686.7 257.9h0M687.2 226.7h0M687.4 255.5h0M687.5 255.4h0M687.7 224.6h0M688 222.9h0M688 252.6h0M688.3 259.5h0M688.3 226h0M688.4 257.6h0M688.8 224.7h0M689 255.7h0M689.3 220.7h0M689.3 226h0M691 219.2h0M691.2 263.1h0M691.3 223.1h0M691.6 262.5h0M692.2 257h0M692.4 221.6h0M692.7 212.2h0M692.7 218.8h0M692.9 210.4h0M693 221.2h0M693.1 209.2h0M693.2 217.4h0M693.3 220.4h0M693.4 222.8h0M693.7 250.1h0M694 249.2h0M694.1 211.7h0M694.1 247.8h0M694.6 252.4h0M695.3 215.4h0M695.4 253.9h0M695.4 255.5h0M695.8 268.3h0M695.9 214.7h0M696 260.6h0M696.3 251.9h0M696.4 262.8h0M696.8 249.5h0M697 275h0M697.5 256.3h0M697.5 212.6h0M697.6 293.4h0M697.8 206.6h0M698.1 212.2h0M698.2 195.8h0M698.4 184.5h0M699 281.9h0M699.1 201h0M699.1 208.1h0M699.2 164.4h0M699.2 170h0M699.2 184.4h0M699.2 193.6h0M699.2 199.7h0M699.2 177.1h0M699.3 210.2h0M699.7 252.9h0M699.8 199.1h0M699.8 208h0M700 263.6h0M700.1 305.7h0M700.2 191.1h0M700.2 253h0M700.4 208.3h0M700.4 248.5h0M700.6 259.3h0M700.6 273.7h0M700.7 264.2h0M700.9 200.3h0M700.9 205.9h0M701.1 292.6h0M701.3 194.9h0M701.4 188.5h0M701.4 243.3h0M701.4 197.3h0M701.5 244.2h0M701.6 247h0M701.6 244.4h0M701.7 211.8h0M701.7 255.6h0M702 199.7h0M702.2 201.3h0M702.2 258.2h0M702.3 213.5h0M702.3 266h0M702.3 248.7h0M702.5 197.5h0M702.6 248.7h0M702.9 249h0M703.1 246.2h0M704.5 260.7h0M705.4 249.1h0M705.4 249.2h0M705.6 211.4h0M705.6 247.1h0M705.7 217.2h0M706 248.4h0M706 207h0M706 246.9h0M706.1 213.4h0M706.1 220.6h0M706.2 248.3h0M706.2 265.8h0M706.2 270.4h0M706.4 212.2h0M706.8 249.3h0M707 215.8h0M707.1 212h0M707.4 249.6h0M707.8 216.7h0M708.4 251.6h0M708.5 247h0M708.7 215.6h0M708.8 217h0M709.2 215.9h0M709.5 255.2h0M709.6 216h0M709.8 217.1h0M709.8 246.6h0M709.9 240.1h0M710.1 243.3h0M710.2 241.9h0M710.3 213.2h0M710.5 213.8h0M710.5 242.1h0M710.7 245.6h0M710.8 217.9h0M710.9 217h0M711 264.3h0M711 219.4h0M711.3 245.1h0M711.3 218.1h0M711.5 215.9h0M711.7 218.1h0M711.7 216.7h0M712.5 220.5h0M712.7 220.4h0M712.7 223.1h0M713 244.3h0M713.1 251.3h0M714.8 224.5h0M715.9 245h0M716 222.1h0M716.5 245h0M716.6 222.1h0M717 226.7h0M717.3 224.7h0M717.6 245.7h0M718 218.1h0M718 246.2h0M718.1 257.6h0M718.4 218.8h0M718.7 251.6h0M718.9 211.1h0M719 217.7h0M719.7 211.9h0M720 246.1h0M720 215.6h0M720.4 216.1h0M720.5 240.6h0M720.9 262.5h0M721.1 247.6h0M721.1 252.2h0M721.2 208.8h0M721.2 214.5h0M721.8 215.5h0M723.3 248.8h0M724.7 276.5h0M724.7 307.8h0M724.9 244.2h0M724.9 215h0M724.9 266.7h0M725.1 207.9h0M725.2 216h0M725.3 290.3h0M725.4 244.9h0M725.7 249.9h0M726.7 256h0M726.7 245.7h0M726.8 253.5h0M727.1 267h0M727.2 213.5h0M727.3 252.3h0M727.3 210.2h0M727.5 209.8h0M727.7 212.5h0M728.1 256.6h0M728.6 281.1h0M728.7 253.5h0M728.7 217.2h0M728.8 275.4h0M729 261.5h0M729.3 291.9h0M729.5 211.6h0M729.7 253.7h0M730.3 200h0M730.8 285.9h0M730.8 210.9h0M730.8 252.8h0M731.5 255.6h0M732.1 211.4h0M732.3 190.5h0M732.4 215.3h0M732.5 211.9h0M732.5 257.7h0M732.8 206.8h0M732.8 207.9h0M732.9 211h0M733.3 260.4h0M733.7 209.4h0M733.7 197.3h0M733.8 257.9h0M733.9 280.2h0M734 208.6h0M734.1 257h0M735 253.1h0M735.2 265.3h0M735.4 264.3h0M735.6 272.1h0M735.8 206.7h0M735.9 211.1h0M735.9 258.7h0M735.9 269h0M736 261h0M736 254.8h0M736.3 209.4h0M736.3 264.2h0M736.4 264.7h0M736.6 215h0M736.6 263.2h0M736.9 209.3h0M737.4 262.2h0M737.4 215.3h0M737.4 215.3h0M738 265.7h0M738.5 256h0M739 202.9h0M739.2 215.4h0M739.2 210.5h0M739.4 213.7h0M739.5 261.9h0M739.9 214.6h0M740 258.9h0M740 263.2h0M740.2 265.3h0M740.2 217h0M740.2 217.3h0M740.2 265.9h0M740.2 211.3h0M740.4 261.2h0M740.4 214.3h0M740.5 215.9h0M741 261.3h0M741 218.1h0M741.1 263.6h0M741.5 215.7h0M741.5 215.1h0M741.6 212.7h0M741.7 212h0M742.2 265h0M742.4 197h0M742.5 276.1h0M742.6 258.3h0M742.6 207.8h0M742.8 197.5h0M742.8 206.7h0M742.9 257.5h0M742.9 201.8h0M743 202.4h0M743.1 265h0M743.1 194.9h0M743.2 206.9h0M743.2 270.7h0M743.5 206.1h0M743.5 210.3h0M743.8 212.1h0M743.9 270.6h0M743.9 258.6h0M744.1 257.9h0M744.1 261.2h0M744.1 194.9h0M744.2 256.9h0M744.2 271.8h0M744.4 260.6h0M745.6 205.2h0M745.6 196.1h0M745.7 265.8h0M746.2 191.6h0M746.5 201.8h0M746.5 204.5h0M746.6 268.9h0M746.7 203.3h0M746.7 199.1h0M747.3 262.2h0M748.8 261h0M748.9 268.6h0M749 264.6h0M749.2 197.4h0M749.2 302.6h0M749.3 267.3h0M749.4 263.8h0M749.9 195.5h0M750.6 262.2h0M750.8 197.1h0M750.8 194h0M750.9 255h0M751.2 200h0M751.3 205.4h0M751.6 258h0M751.6 254.7h0M751.6 257.9h0M751.9 258.4h0M751.9 262.5h0M752.2 203.8h0M752.3 184.4h0M752.5 207.6h0M752.8 201.8h0M753 204.2h0M753.1 208.1h0M753.3 209.5h0M753.5 202.9h0M753.6 201.3h0M753.6 203.7h0M753.9 209.7h0M753.9 204.1h0M754 265h0M754 210.1h0M754.1 204.6h0M754.3 258.3h0M754.3 204h0M754.4 250.3h0M754.9 253.8h0M755.2 211.4h0M755.4 208.6h0M755.5 210.9h0M755.6 199.9h0M755.6 256.3h0M755.6 209.4h0M755.7 202.7h0M756 255.2h0M756.1 211.5h0M756.3 255.7h0M756.6 271.4h0M757.4 253.3h0M757.6 254.1h0M757.9 252.8h0M758 204.7h0M758 263.5h0M758.3 204.7h0M758.4 268.4h0M758.4 250h0M758.6 203.7h0M759.1 253.2h0M759.1 259.8h0M759.1 253.9h0M759.2 254.5h0M759.2 209.9h0M759.5 196.8h0M759.8 258.9h0M759.9 250.1h0M759.9 201.6h0M759.9 204.2h0M759.9 249h0M759.9 198.7h0M760 253.3h0M760 204.5h0M760.1 206.3h0M760.2 251.8h0M760.3 279.3h0M760.6 204.8h0M760.7 207.7h0M760.8 258.4h0M761.1 204.9h0M761.4 250.4h0M761.4 200.9h0M762.2 205.6h0M762.3 202.5h0M762.5 205.6h0M763 208.3h0M763.1 199.9h0M763.4 259h0M763.6 200.6h0M763.8 204.7h0M763.9 191.6h0M764.8 204.4h0M764.8 251.5h0M765.4 253.9h0M765.4 209.7h0M766 248.2h0M766.1 245.9h0M766.1 178.2h0M766.4 253.9h0M767.1 205.1h0M767.1 205.7h0M767.4 206.3h0M767.6 178.2h0M767.7 213.1h0M767.8 266.3h0M767.9 250.5h0M767.9 249.8h0M767.9 211.3h0M768 257.2h0M768.1 263.7h0M768.1 258h0M768.2 256.9h0M768.2 252.2h0M768.2 209.3h0M768.3 190.6h0M768.3 214.3h0M768.5 255.4h0M768.5 251.4h0M768.6 213.1h0M769 259.6h0M769.1 213.8h0M769.5 208.2h0M769.6 210.1h0M769.7 273.8h0M769.8 259.3h0M769.9 208h0M769.9 208.8h0M770.1 282.9h0M770.2 204.9h0M770.3 253.5h0M770.6 255.2h0M770.7 254.9h0M770.8 257.6h0M771 192.2h0M771 272.1h0M771.2 283.1h0M771.3 288.7h0M771.5 261.8h0M771.8 265.2h0M772.5 267.4h0M772.6 265.6h0M772.7 263.8h0M772.8 263.9h0M772.8 266h0M772.9 209.1h0M773.3 213.3h0M773.4 212.3h0M773.5 209.1h0M773.6 262.2h0M773.6 217.7h0M774 269.5h0M774 279.5h0M774 267.8h0M774.5 262.5h0M775.3 296.5h0M775.7 268.6h0M775.8 212.1h0M775.8 267.6h0M776.1 264.9h0M776.1 267.5h0M776.4 211.6h0M776.5 211h0M776.8 273.7h0M776.9 304.1h0M777 270.8h0M777.3 270.2h0M777.5 351.7h0M777.5 270.5h0M777.6 270.1h0M778 219.2h0M778.3 283.2h0M778.4 213h0M778.5 274.6h0M778.7 289.6h0M779.6 313.3h0M779.8 292.6h0M779.8 280.4h0M779.8 277.2h0M779.9 300.9h0M779.9 280.2h0M780 285.7h0M780.2 279.1h0M780.2 214.2h0M780.3 297.9h0M780.5 220.7h0M780.7 271.5h0M780.8 217.1h0M781 271.7h0M781.2 277.9h0M781.3 275.3h0M781.3 215.4h0M781.5 271.3h0M781.6 287h0M781.7 288.1h0M781.8 217.4h0M782.1 280h0M782.7 275.5h0M783 306.3h0M783.1 275.2h0M783.2 271.1h0M783.3 209.4h0M783.4 308.3h0M783.4 282.7h0M783.5 295.6h0M783.6 275.6h0M783.8 211.3h0M783.9 212.3h0M783.9 324.1h0M784.2 215.7h0M784.4 274.1h0M784.5 310.3h0M784.5 317h0M784.7 213.9h0M784.9 210.2h0M784.9 300h0M785.1 310.1h0M785.1 217.8h0M785.1 208.4h0M785.2 215.8h0M785.2 219.2h0M785.4 210.6h0M785.7 213.8h0M786 267.1h0M786 217.7h0M786 269.3h0M786.4 272.4h0M787 214.2h0M787.5 214.6h0M787.6 217.5h0M787.8 301.1h0M787.8 264.9h0M788 268.4h0M788.1 211.8h0M788.2 279.7h0M788.2 213.1h0M788.7 203.3h0M788.8 211.3h0M789 303.7h0M789.1 275.6h0M789.1 294.9h0M789.2 218.5h0M789.3 314h0M789.4 262h0M789.4 268.4h0M789.8 217h0M790.1 277.1h0M790.2 264.2h0M790.6 218.2h0M790.8 209h0M790.8 263h0M790.9 322.4h0M790.9 320.9h0M790.9 212.7h0M791.1 213.6h0M791.2 278.2h0M791.3 269.7h0M791.4 219.6h0M791.4 292.5h0M791.4 206.4h0M791.5 340.4h0M791.6 314.9h0M791.6 319.5h0M791.6 340.4h0M791.6 198.6h0M791.7 269.1h0M791.8 268h0M791.9 298.1h0M792 300h0M792 316.7h0M792.1 268h0M792.2 219.2h0M792.4 272.8h0M792.4 290h0M792.6 270.1h0M792.7 281.2h0M792.7 270.5h0M792.8 288.8h0M792.9 220.3h0M793 306.9h0M793.1 313.3h0M793.1 319.5h0M793.2 219h0M793.2 271.5h0M793.2 207.1h0M793.3 218.2h0M793.3 269.8h0M793.3 279.8h0M793.5 216.5h0M793.5 214.8h0M793.7 291.9h0M793.8 215.6h0M794 292.6h0M794.1 206.3h0M794.2 206.9h0M794.3 282h0M794.4 294.3h0M794.4 303.5h0M794.5 214.3h0M794.6 224.8h0M794.6 313.2h0M794.6 211.4h0M794.6 220.3h0M794.8 269.7h0M795 273.4h0M795 271.8h0M795.1 268.5h0M795.3 284.6h0M795.4 300.3h0M795.4 273.6h0M795.4 219.4h0M795.4 278.9h0M795.5 269.8h0M795.6 206.5h0M795.8 220h0M795.9 310.7h0M796 276.2h0M796.1 277h0M796.1 271.9h0M796.1 200.3h0M796.3 283.2h0M796.4 269.8h0M796.5 224.7h0M796.7 279.5h0M796.7 306.4h0M796.8 273.5h0M797 294.3h0M797.7 266.9h0M797.7 205.4h0M797.9 215.9h0M798 277.3h0M798 298.7h0M798.1 296.4h0M798.3 265.7h0M798.3 190.6h0M798.6 269.5h0M798.7 218.8h0M798.8 274.3h0M798.8 191.6h0M799.1 214.4h0M799.4 315.2h0M799.5 274.5h0M799.5 274.3h0M799.5 274h0M799.6 218.7h0M799.7 308h0M800.1 299.9h0M800.1 317.1h0M800.2 275.5h0M800.2 275.9h0M800.4 277.4h0M800.5 208h0M800.9 212.8h0M800.9 284.5h0M801 289.6h0M801 270.9h0M801.2 213.6h0M801.2 213h0M801.3 271.7h0M801.3 210.7h0M801.4 210.5h0M801.7 270.2h0M801.7 269.9h0M802 279.9h0M802.1 292.3h0M802.6 324.4h0M802.8 282.9h0M802.9 332.4h0M803.1 295.3h0M803.1 282.1h0M803.5 209.1h0M803.6 209.3h0M803.8 308.7h0M803.8 344h0M803.9 206.6h0M804.2 204.2h0M804.4 187.1h0M804.6 290.3h0M804.6 284.1h0M804.8 317.5h0M804.9 287.8h0M804.9 281.4h0M805.1 216.8h0M805.3 288.6h0M805.4 316.4h0M805.6 300.7h0M806 160.4h0M806.3 285.9h0M806.3 202.6h0M806.6 193.5h0M806.6 294.4h0M806.7 285.6h0M806.9 203.9h0M806.9 301.9h0M807.1 196.4h0M807.2 209.1h0M807.3 308.4h0M807.5 343.4h0M807.8 213.7h0M808 197.5h0M808 285.8h0M808.1 282.3h0M808.6 286.1h0M809.2 206.9h0M809.4 286.1h0M809.8 281.4h0M809.9 276.4h0M809.9 211.2h0M810.4 284.5h0M810.5 276.8h0M810.8 201.3h0M811 202.1h0M811.2 201.4h0M811.2 185.7h0M811.5 216.2h0M811.6 285.3h0M812.1 287h0M812.3 207.1h0M812.7 283.3h0M812.8 207.7h0M813.2 209h0M813.5 284.9h0M813.5 273.6h0M813.8 282.2h0M814 275.1h0M814.3 208.7h0M814.4 208.8h0M814.5 189.7h0M814.6 204.7h0M814.6 298.7h0M814.6 293.4h0M814.7 279.8h0M814.7 271h0M814.8 277h0M814.9 268.9h0M814.9 284.2h0M815 206.4h0M815.3 290.6h0M815.5 203.2h0M815.6 198.1h0M815.6 203.6h0M815.7 266h0M815.9 271.8h0M815.9 282.7h0M815.9 216.4h0M816.1 274.5h0M816.1 272.1h0M816.2 268.7h0M816.3 208h0M817.1 262.6h0M817.1 272.3h0M817.2 270.4h0M817.3 271.5h0M817.3 269.4h0M817.3 280.1h0M817.5 270h0M817.5 298h0M817.6 210.9h0M817.6 280.3h0M817.7 263.8h0M817.7 214.8h0M818.2 207.9h0M818.4 217.9h0M818.5 261.1h0M818.6 208.1h0M818.7 211.9h0M818.7 255.7h0M818.7 210.5h0M818.8 262.9h0M818.9 215.5h0M819.1 297h0M819.2 263.5h0M819.3 216.6h0M819.7 193.5h0M819.8 215.6h0M820 262.4h0M820.2 215.4h0M820.2 259.9h0M820.6 254.6h0M820.6 255.5h0M820.9 267.2h0M821.7 201.3h0M821.7 276.3h0M822.2 307.2h0M822.2 312.7h0M822.3 206.3h0M822.9 257.7h0M822.9 256.9h0M823.1 261.9h0M823.1 287.9h0M823.5 258.1h0M823.7 207h0M823.8 197.4h0M823.9 249.7h0M824 257.9h0M824 207.6h0M824.1 194.9h0M824.2 213.6h0M824.8 216.8h0M824.9 253.6h0M824.9 196.2h0M825.2 217.1h0M825.3 215.3h0M825.6 258.2h0M825.7 252.4h0M825.7 201.7h0M825.8 257.5h0M825.8 270.5h0M825.9 255.3h0M826 213.3h0M826.2 255.9h0M826.2 256.1h0M826.4 256h0M826.6 254.3h0M826.7 249.9h0M826.7 210h0M826.7 250.8h0M826.9 205.2h0M827 259.2h0M827.1 283.8h0M827.2 261h0M827.4 209.4h0M827.5 249.8h0M827.5 268.9h0M827.7 202.9h0M827.8 255.6h0M827.8 271.1h0M828 186.2h0M828.6 210.8h0M828.6 210.9h0M828.7 208.5h0M828.8 256.8h0M829.1 257.4h0M829.2 251.4h0M829.4 252.4h0M829.4 251.1h0M829.7 266.6h0M829.7 252.9h0M829.8 210.9h0M830 208.9h0M830 209.5h0M830.2 257.7h0M830.3 256.2h0M830.3 212.7h0M830.8 257.7h0M831 203.1h0M831.2 262h0M831.3 262.7h0M831.4 204.8h0M831.4 205.7h0M831.5 262.1h0M831.5 183.8h0M831.6 258.4h0M831.7 256.2h0M831.9 207.8h0M832.1 256.6h0M832.1 252.9h0M832.3 256.6h0M832.4 206.2h0M832.4 250.7h0M832.9 257.2h0M833.1 248h0M833.3 193.3h0M833.3 256.8h0M833.4 248.6h0M833.6 189h0M833.7 276.6h0M833.8 172.1h0M833.8 185.6h0M833.9 180h0M834 191.2h0M834.2 168.6h0M834.2 266.4h0M834.3 256.8h0M834.9 256.1h0M835.1 249h0M835.3 270.4h0M835.3 255.9h0M835.5 260.1h0M835.7 255.5h0M835.7 264.5h0M835.7 259.1h0M835.8 181.9h0M836 254.9h0M836 255.6h0M836.2 259.3h0M836.3 262.5h0M836.3 258.3h0M836.6 252.6h0M836.8 170.2h0M836.8 259.7h0M836.9 170h0M836.9 261.8h0M837.5 169.5h0M837.7 252.5h0M838 152.9h0M838.1 164h0M838.1 172.7h0M838.2 283.3h0M838.3 158.1h0M838.4 156.3h0M838.6 165.9h0M838.9 255.5h0M838.9 260.1h0M839.3 253.1h0M839.5 256.2h0M839.7 249.9h0M839.7 255.9h0M839.7 246.5h0M839.8 251.5h0M840 165.8h0M840 136.8h0M840 141.4h0M840.1 162.9h0M840.5 157.4h0M840.6 239.9h0M840.9 164.8h0M841.1 161.8h0M841.1 158h0M841.1 244.7h0M841.1 247h0M841.2 160.1h0M841.2 242.1h0M842.6 162.1h0M842.7 174.9h0M843.2 222.6h0M843.4 224.2h0M843.6 176h0M843.7 221.8h0M843.8 228.2h0M843.8 222.8h0M844 219.2h0M844.1 172.6h0M844.2 218.2h0M844.2 223.5h0M844.5 220.7h0M844.6 185.7h0M844.7 225.1h0M845.5 223.4h0M845.5 230.5h0M845.7 227.4h0M846.1 222.9h0M846.2 170.7h0M846.2 184.3h0M846.5 187.5h0M846.5 184.3h0M846.7 240.1h0M847.1 225h0M847.2 184.9h0M847.2 251h0M847.6 181.8h0M848 235.4h0M848 233.4h0M848 239.1h0M848.1 188h0M848.2 250.3h0M848.4 176.3h0M848.5 234.8h0M848.7 239.8h0M848.7 190h0M848.8 188.7h0M848.9 229.6h0M849 240.3h0M849.2 182.9h0M849.4 187.4h0M849.6 236.7h0M851.1 191.3h0M851.5 188.3h0M852 181.3h0M852.3 240.4h0M852.7 238.8h0M852.7 237.6h0M852.8 242.1h0M852.9 261h0M853.2 240.9h0M853.2 239.7h0M853.4 240h0M853.6 200.8h0M853.8 198h0M853.9 201.7h0M853.9 239.7h0M854.2 238.3h0M854.2 194.1h0M854.4 267.3h0M854.6 237.4h0M854.6 203.2h0M854.8 192.6h0M855 199.3h0M855 237h0M855.2 197.8h0M855.3 198.2h0M856 237.8h0M856 198.3h0M856.1 240.8h0M856.4 253.9h0M856.5 237.6h0M856.7 198.7h0M857.2 198.4h0M857.4 197.4h0M858.1 197.5h0M858.2 288.8h0M858.3 200h0M859.2 199.5h0M859.2 260.7h0M859.7 250.5h0M859.8 179.1h0M859.9 199.9h0M860.2 201.4h0M860.6 279.6h0M860.7 247.8h0M860.7 248.8h0M861.2 285.1h0M861.2 299.5h0M861.2 307.2h0M861.8 185.8h0M862 224h0M862 228.4h0M862.5 224.2h0M862.8 182.5h0M863.2 235h0M863.3 183.4h0M863.3 176.9h0M863.4 251.3h0M863.5 179.1h0M863.6 218.1h0M864 213.5h0M864.8 213.7h0M864.9 175.4h0M865 165.5h0M865 237.4h0M865.4 215.5h0M865.7 208.2h0M865.8 217.2h0M865.9 204.5h0M866.2 207.3h0M866.3 211.7h0M866.4 214.2h0M866.4 204.4h0M866.4 203.8h0M866.9 197.8h0M867 205.7h0M867.3 150.6h0M867.7 153.4h0M867.7 230.8h0M867.9 154.2h0M867.9 226.8h0M868.1 161.6h0M868.2 152.6h0M868.2 201.1h0M868.4 207.4h0M868.6 203.9h0M868.7 159.2h0M868.7 158.1h0M868.9 200.9h0M869.4 158.3h0M869.5 153.3h0M869.9 146h0M870.1 204.6h0M870.1 211.4h0M870.2 215.8h0M870.5 202.9h0M870.5 211.1h0M870.6 152h0M870.7 151.8h0M870.9 195h0M870.9 149.9h0M871 149.2h0M871.1 196.8h0M871.2 143.5h0M872.3 198.1h0M872.3 134.7h0M872.4 195.6h0M873 206.6h0M873.1 153.1h0M873.3 195.3h0M873.5 202.3h0M873.6 201.6h0M873.6 153.6h0M873.8 207.1h0M874 194.1h0M874.6 201.8h0M874.6 200.5h0M874.6 202.4h0M874.7 198.1h0M874.7 195.6h0M874.7 151.9h0M875 215.9h0M875.8 159.3h0M876.1 156.7h0M876.5 149.3h0M876.9 197.7h0M877 204.8h0M877.6 206.4h0M878.6 202.7h0M878.9 204.5h0M879 202h0M879 224.9h0M879.1 205.2h0M879.4 201.3h0M880.1 203.7h0M880.1 167.4h0M880.2 204.9h0M880.4 168.6h0M880.7 217.7h0M881.2 166.8h0M881.3 212.5h0M882.1 213.8h0M882.1 174.5h0M882.4 204h0M882.6 208.5h0M882.6 204.8h0M882.7 168.8h0M883 207.4h0M883.2 207.5h0M883.8 208.1h0M884.1 174.5h0M884.1 212.4h0M884.4 212.6h0M884.8 206.6h0M884.8 168.2h0M885.2 210.6h0M885.2 168.1h0M885.4 210.1h0M885.7 210.4h0M885.7 174.4h0M886.1 175.4h0M886.3 176.6h0M886.5 214.3h0M886.5 220.1h0M886.6 178.4h0M886.7 176.3h0M886.8 181.2h0M887 178.8h0M887.1 215.5h0M887.6 233.5h0M887.6 239.7h0M887.6 247.3h0M887.6 254.4h0M887.6 262.7h0M887.8 244h0M887.9 216.1h0M888 182.9h0M888.2 182.1h0M888.3 225.8h0M888.3 225.8h0M888.4 174.5h0M888.5 228.5h0M888.7 224.1h0M888.8 250.5h0M888.9 177.4h0M888.9 222.5h0M888.9 168h0M889.1 218.8h0M889.4 220.3h0M889.4 218.4h0M889.4 243.8h0M889.4 179h0M889.7 231.4h0M889.7 214.3h0M890.2 220.2h0M890.3 220.8h0M890.5 215.7h0M890.6 178.1h0M891 225.1h0M891 241h0M891.5 219.7h0M891.6 186.8h0M891.6 180.8h0M891.6 171h0M892.1 180.6h0M892.1 216.5h0M892.1 244.4h0M892.1 235.7h0M892.1 181.2h0M892.3 175h0M892.4 230.9h0M892.4 223.5h0M892.4 175.5h0M892.5 175.2h0M893 224h0M893.1 233.6h0M893.3 217.1h0M893.3 171.8h0M893.5 153.1h0M893.5 162.9h0M893.5 170.6h0M893.5 221.2h0M893.6 177.2h0M893.9 246h0M894.3 184.8h0M894.4 189.1h0M894.5 235.7h0M894.9 235.7h0M895.3 224.9h0M895.3 234h0M895.4 220.8h0M895.4 184.5h0M895.5 220.1h0M895.7 230.6h0M895.7 229.3h0M895.8 220.3h0M895.9 225.8h0M896.2 167.6h0M896.6 256.6h0M897.7 181h0M897.9 180.9h0M898.1 263.6h0M898.6 192.8h0M898.8 226.5h0M899.1 190.2h0M899.2 193.2h0M899.2 224h0M899.4 226.1h0M899.8 230.7h0M900.4 182.1h0M900.7 168.6h0M900.7 190.2h0M900.8 225.2h0M900.9 175.6h0M901 224.5h0M901.1 271.9h0M901.2 225.7h0M901.2 228.7h0M901.3 224.8h0M901.4 226.7h0M901.5 224.1h0M901.7 239.5h0M901.8 228.9h0M902 173.3h0M902 261.8h0M902.1 278h0M902.1 245.9h0M902.2 188.9h0M902.4 223.5h0M902.4 222h0M902.5 192h0M902.6 225.2h0M902.8 249.8h0M902.9 175.1h0M903 190.8h0M903.1 225.8h0M903.2 235.5h0M903.6 191.1h0M903.6 230.6h0M903.9 189.5h0M904.1 226.8h0M904.2 191.1h0M904.3 229.8h0M904.4 237.4h0M904.5 224h0M904.6 191.9h0M904.6 173.6h0M904.7 226h0M904.8 177.4h0M904.8 183.3h0M904.8 233h0M904.8 226.5h0M904.9 226.7h0M904.9 190.1h0M904.9 191.4h0M905 236.7h0M905 226.3h0M905.4 245h0M905.8 186.8h0M906.1 185.3h0M907 230.1h0M907.7 192.5h0M907.7 190h0M907.7 222.5h0M908.1 227.6h0M908.1 195.7h0M908.3 224h0M908.3 225.5h0M908.4 190h0M908.5 247.9h0M908.7 190.6h0M908.8 226.9h0M909.5 226.7h0M909.7 221.8h0M909.9 240h0M910.1 189.4h0M910.4 190.2h0M910.4 228.9h0M910.7 190.3h0M910.7 239.1h0M911.1 190.5h0M911.7 229.5h0M911.8 190.9h0M912 180.7h0M912.1 189.9h0M912.3 196h0M913.1 197h0M913.4 224.7h0M913.5 228.8h0M913.6 254.7h0M913.8 236.1h0M914.3 171.2h0M914.8 229.6h0M914.8 225.3h0M915.3 227.6h0M915.3 187.1h0M915.5 222.7h0M915.6 226.4h0M915.6 226.1h0M915.7 219.5h0M915.8 224.7h0M915.9 261.1h0M915.9 314.9h0M915.9 225.1h0M916 227.4h0M916 192.3h0M916.2 191.5h0M916.4 222.7h0M916.5 272.8h0M916.8 224.8h0M917 229.5h0M917.1 224.8h0M917.1 189.3h0M917.7 184.9h0M918 232h0M918.9 190.2h0M918.9 225.1h0M919 255.1h0M919.2 185.8h0M919.4 191.9h0M919.5 224.1h0M919.6 226.9h0M919.7 229.3h0M919.8 187.2h0M920.1 249.9h0M920.1 188.3h0M920.2 188.1h0M920.5 229.5h0M920.5 227.2h0M920.5 190h0M920.6 186.7h0M920.7 188.6h0M920.8 231.1h0M920.9 191.5h0M921 228.7h0M921.3 189.9h0M921.4 228.5h0M921.6 193.8h0M921.8 194h0M921.8 245.6h0M922.5 192h0M924.1 198.5h0M924.1 198.5h0M924.1 234.1h0M924.1 240.8h0M924.4 181.9h0M924.5 240.9h0M924.6 189.3h0M924.7 195.1h0M924.7 197.1h0M924.9 185.2h0M925 226.4h0M925.1 200.8h0M925.1 185.1h0M925.3 195.5h0M926 228.5h0M926.4 234h0M926.7 197.8h0M927 240.7h0M927.6 233.2h0M927.7 203.2h0M927.9 203.2h0M928.5 234.7h0M928.6 202.3h0M929.4 247.1h0M929.5 234.3h0M929.7 199.7h0M929.8 248.4h0M930.2 242h0M930.5 203.3h0M930.7 236.8h0M930.7 235.3h0M930.9 236.8h0M931 234h0M931 234.9h0M931.2 236h0M931.2 247.3h0M931.4 233.7h0M931.8 255.6h0M932.6 204.7h0M932.7 202.9h0M932.8 201h0M933 199.7h0M933.2 201.4h0M933.3 229.2h0M933.4 199.5h0M934 204.1h0M934 201.2h0M934.6 200h0M934.8 198.3h0M935.2 253.4h0M935.2 236.6h0M935.3 204.7h0M935.4 253.4h0M935.5 237h0M935.5 185.5h0M935.8 235.9h0M936.1 199.8h0M936.2 256.3h0M936.3 246.2h0M936.3 235.8h0M936.7 200h0M937.6 203.2h0M937.6 194.5h0M938 195.9h0M938.2 196.3h0M938.3 200.6h0M938.3 249.8h0M938.4 199.6h0M938.5 188.3h0M938.7 233.4h0M938.8 234.7h0M938.9 175.2h0M939.1 190.1h0M939.5 236.8h0M939.5 234h0M939.6 232.2h0M939.9 234.1h0M940.2 205.1h0M940.3 237.2h0M940.4 265.8h0M940.5 232.4h0M941.1 251.9h0M941.5 232.5h0M941.5 235.1h0M941.7 236.1h0M942 238.3h0M942.2 234.3h0M942.3 182.8h0M942.4 237.5h0M942.6 189.7h0M942.6 263.2h0M942.6 248.8h0M942.8 233.7h0M942.8 197.2h0M942.9 261.3h0M943.2 240.7h0M943.3 236.3h0M943.5 200.4h0M943.5 246.3h0M943.6 238.4h0M943.6 243h0M943.7 245.6h0M943.8 233.2h0M943.8 245.2h0M943.8 238h0M943.9 249.9h0M944.2 263.4h0M944.2 183.4h0M944.2 254.1h0M944.3 240.8h0M944.5 238.2h0M944.7 192h0M944.8 239.3h0M945 247.5h0M945.1 202.5h0M945.1 198.1h0M945.4 196.7h0M945.4 193.2h0M945.8 196h0M945.8 241.2h0M946 203.1h0M946.1 190.6h0M946.2 260h0M946.2 241.2h0M946.5 291.5h0M946.5 276.7h0M946.7 198.4h0M946.7 243h0M946.9 197.4h0M946.9 179.7h0M947 199.6h0M947 203.5h0M947.1 196.3h0M947.2 255h0M947.2 276.5h0M947.2 295.5h0M947.2 306.3h0M947.4 237.4h0M947.7 269.4h0M948 271.5h0M948.1 255.1h0M948.3 262.2h0M948.3 240.8h0M948.4 266.8h0M948.5 206.6h0M948.6 252.5h0M948.6 254.3h0M948.8 260.7h0M948.9 249.8h0M949 245.9h0M949.1 256h0M949.5 201.1h0M949.5 247.9h0M950.1 201.9h0M950.3 192.3h0M950.5 276.9h0M950.7 271.5h0M950.7 201h0M951 247.2h0M951 255.4h0M951.1 209.9h0M951.1 261.9h0M951.5 282.5h0M951.5 202.9h0M951.6 255.7h0M952.2 258.6h0M952.5 203.5h0M952.6 211h0M953.2 256h0M953.3 263.4h0M953.3 259.6h0M953.4 267.8h0M953.5 208.9h0M953.6 277.1h0M953.6 258.3h0M954.2 264.4h0M954.3 273.4h0M954.7 212.5h0M954.9 205.5h0M954.9 212.7h0M955.4 254h0M955.4 251.7h0M955.5 263.9h0M955.6 255.6h0M956.3 204.3h0M956.5 207.4h0M956.6 256h0M957.2 198.7h0M957.3 275h0M957.5 206h0M957.9 204h0M958.1 200.2h0M958.3 257.7h0M958.3 205.3h0M958.9 255.7h0M959 251.3h0M959.2 203.4h0M959.3 254h0M959.5 246.3h0M959.5 260.3h0M959.5 252.7h0M959.6 200.6h0M959.6 252.8h0M959.6 251.8h0M959.7 252.8h0M959.8 263.5h0M959.8 246.3h0M959.9 201.3h0M959.9 193.8h0M959.9 192.2h0M960 184.4h0M960 203.4h0M960.2 206.9h0M960.3 190.4h0M960.3 203.2h0M960.4 181.3h0M960.6 199.5h0M960.6 189.6h0M960.6 246.3h0M960.7 196.3h0M960.8 203.8h0M960.9 243.3h0M961.1 198.4h0M961.1 201.2h0M961.3 199.2h0M961.8 239.7h0M962.5 245.1h0M963.6 245.1h0M963.6 266.6h0M963.9 199.9h0M964 256.2h0M964.1 239.3h0M964.2 194.1h0M964.2 246.3h0M964.2 193.1h0M964.3 195.3h0M964.5 188.9h0M964.6 197.2h0M964.7 240.3h0M964.9 240.1h0M965.1 247h0M965.2 193.5h0M965.5 187.4h0M965.5 239.5h0M965.5 240.5h0M965.6 200.4h0M966 241.8h0M966 191.9h0M966.2 244.6h0M967.2 179.2h0M967.2 185.9h0M967.5 190.5h0M967.9 192.2h0M968.1 262h0M968.2 245.9h0M968.3 243.2h0M968.3 199.8h0M968.4 260.8h0M968.5 198h0M968.6 198.2h0M968.7 192.3h0M968.8 248.8h0M969 243.2h0M969 248.3h0M969.2 246.2h0M970.2 196.4h0M970.3 206.7h0M970.3 258.5h0M970.7 201.5h0M970.9 199.7h0M971.2 248.8h0M971.2 243.8h0M971.5 205.9h0M971.6 249.1h0M971.6 194.6h0M971.8 198.9h0M972.2 202.3h0M972.4 259.2h0M972.5 245.6h0M972.8 249.6h0M973.1 253.6h0M973.2 201.4h0M973.3 259.7h0M973.4 208.9h0M973.7 209.5h0M973.9 252h0M973.9 249.2h0M974.1 246.6h0M974.2 253.9h0M974.2 267.3h0M974.3 212.8h0M974.4 251.5h0M974.4 251.2h0M974.4 211.6h0M974.5 248.2h0M974.5 205.2h0M974.7 200.4h0M974.7 204.3h0M974.8 198h0M975 212.4h0M975.5 256.5h0M975.5 214.1h0M975.6 253.8h0M975.8 254.6h0M976 207.7h0M976.4 254.3h0M977.9 260.8h0M978.1 214h0M978.2 261.9h0M978.3 212.4h0M978.5 208.9h0M978.6 255.3h0M979 211.1h0M979.4 202.2h0M979.7 208.3h0M979.8 208.8h0M979.8 209.1h0M980 261.1h0M980 257.1h0M980 256.9h0M980.2 263.2h0M980.2 255.9h0M980.3 256.6h0M980.6 274.3h0M980.6 252.4h0M980.7 256.2h0M981 274h0M981 210.7h0M981.1 216.2h0M981.3 209.4h0M981.9 215.4h0M982.1 293.6h0M982.2 252.6h0M982.2 283.1h0M982.5 253.3h0M982.5 288.8h0M982.5 300.4h0M982.5 307.8h0M982.5 313.3h0M982.5 317.9h0M982.7 255.6h0M983 252.8h0M983.1 260.8h0M983.1 215.9h0M983.4 210.6h0M983.5 264h0M983.6 212.2h0M983.7 252.2h0M983.8 252.5h0M984.6 259.9h0M984.7 285.8h0M984.7 213.6h0M984.8 209.9h0M984.8 213.8h0M985.1 275.7h0M985.3 205.7h0M985.4 214.8h0M985.5 256.3h0M985.5 252.5h0M985.6 259h0M985.6 259.3h0M986 261.4h0M986.1 263.7h0M986.4 257.4h0M986.4 264.6h0M986.8 258.9h0M986.9 269.9h0M987 215.1h0M987.3 260.7h0M987.6 216.5h0M987.7 252.3h0M987.9 202.1h0M989.4 250h0M989.4 210.9h0M989.5 256.4h0M990.1 254.6h0M990.6 209h0M990.6 212.8h0M990.7 212.9h0M990.9 210.6h0M991.6 255.7h0M991.8 250.5h0M992.4 241.7h0M992.5 242.9h0M992.6 246h0M992.8 210.1h0M993.3 206.2h0M993.4 206.7h0M993.7 200.2h0M993.9 253.5h0M994 204.8h0M995.1 199.3h0M995.2 207.2h0M995.4 246h0M995.4 201h0M995.8 192.7h0M995.8 200.2h0M996.1 201h0M996.2 200.1h0M996.3 190.7h0M996.5 245.6h0M996.5 266.6h0M996.9 201.3h0M996.9 247.8h0M997.5 201.8h0M998.4 201.3h0M998.7 198.9h0M998.7 200.1h0M998.9 199.1h0M999.1 199.4h0M999.6 245.6h0M1000.9 242.1h0M1001.2 246.2h0M1001.2 247.6h0M1001.6 241.1h0M1001.6 246.2h0M1001.6 241.8h0M1001.8 202.5h0M1002.2 203.7h0M1002.2 268.7h0M1002.3 267.6h0M1002.8 249.9h0M1002.9 239.9h0M1003 252.5h0M1003.5 264.6h0M1004 201.7h0M1004.1 246.9h0M1004.2 241.6h0M1004.3 244.8h0M1004.3 201.3h0M1004.5 202.6h0M1004.6 273.3h0M1004.6 206.3h0M1004.7 195.6h0M1004.9 203.4h0M1005 263.6h0M1005.3 268.1h0M1005.3 247.5h0M1005.4 205.7h0M1005.4 206.6h0M1005.6 202.1h0M1005.8 258.9h0M1005.8 256h0M1006.1 202.6h0M1006.3 193.1h0M1006.3 241.8h0M1006.4 251.3h0M1006.5 276.5h0M1006.5 286.3h0M1006.7 248.3h0M1006.7 262.3h0M1006.9 260.2h0M1007 248.1h0M1007.1 268.8h0M1007.2 246.6h0M1007.5 244.3h0M1007.5 241.4h0M1007.9 198.3h0M1007.9 250.2h0M1008.3 194.8h0M1008.8 198.3h0M1008.9 196.9h0M1009.1 250.2h0M1009.3 249.8h0M1009.3 262.6h0M1009.3 182.7h0M1009.9 264.8h0M1009.9 238.8h0M1010.2 240.3h0M1010.4 199.2h0M1011.4 197.2h0M1011.9 246.4h0M1012 200.3h0M1012 203.6h0M1012.2 249.2h0M1012.2 186.3h0M1012.5 183.3h0M1012.5 243.2h0M1012.6 191.8h0M1012.7 193.4h0M1012.7 188.2h0M1013.1 244.7h0M1013.2 246.1h0M1013.2 193.9h0M1013.3 238.4h0M1013.4 185.4h0M1013.5 245.9h0M1013.5 244.8h0M1013.7 242.1h0M1013.7 200.6h0M1013.7 244.5h0M1013.8 245.1h0M1013.9 185.8h0M1013.9 249.9h0M1014.2 245.4h0M1014.3 195.6h0M1014.3 237.6h0M1014.4 239.5h0M1014.5 262.6h0M1014.7 180.1h0M1015 267.7h0M1015 251.2h0M1015.2 202h0M1015.8 193.5h0M1016 250.8h0M1016.4 178.5h0M1016.5 169h0M1016.7 195.3h0M1016.8 192.6h0M1017.2 169h0M1017.2 175.8h0M1017.3 192.6h0M1017.3 192h0M1017.5 176.7h0M1017.5 260h0M1017.6 193.8h0M1017.7 237.7h0M1018.2 270.7h0M1018.2 198.8h0M1018.3 262.3h0M1018.3 253.9h0M1018.3 186.7h0M1018.3 197.1h0M1018.4 255.7h0M1018.5 245.8h0M1018.5 262.9h0M1018.7 273.4h0M1018.7 282.6h0M1019.2 194.7h0M1019.3 247.3h0M1019.4 245.3h0M1019.6 262.7h0M1019.6 273.4h0M1019.6 282.6h0M1019.6 195.1h0M1019.8 245.7h0M1020.2 245.9h0M1020.6 253.7h0M1020.8 199h0M1020.8 247.6h0M1021 195.5h0M1021.4 195.9h0M1021.7 201.7h0M1022 200.1h0M1022 197.3h0M1022.1 248.3h0M1022.2 201h0M1022.4 200.2h0M1022.5 205.5h0M1022.9 195.8h0M1023.4 194.9h0M1023.4 246.4h0M1023.6 243h0M1023.8 245.2h0M1023.8 247.9h0M1024 243h0M1024.3 189.9h0M1024.5 203.3h0M1024.6 208.4h0M1024.6 208.1h0M1024.9 194.9h0M1024.9 205h0M1025 208.5h0M1025.1 243.2h0M1025.1 253.7h0M1025.1 202.7h0M1025.2 206.5h0M1025.3 248.9h0M1025.7 248.1h0M1025.7 251h0M1025.9 247.6h0M1026.1 244.6h0M1026.1 254.8h0M1026.3 249.4h0M1026.4 248.3h0M1026.5 194.9h0M1026.6 247.5h0M1026.9 188h0M1027 195.2h0M1027 242.3h0M1027.3 204.3h0M1027.4 208.7h0M1027.5 204.3h0M1027.5 205.7h0M1028.1 209h0M1028.5 244.2h0M1028.6 189.3h0M1028.6 254.4h0M1028.9 203h0M1029.2 208.4h0M1029.5 248.4h0M1030.2 205.3h0M1030.4 211.3h0M1030.9 210.9h0M1031.4 210.3h0M1032 197.3h0M1032.4 266.5h0M1032.7 209.5h0M1033.5 252.3h0M1033.6 202.9h0M1033.8 257.1h0M1033.9 209.5h0M1034 209.6h0M1034.1 245.9h0M1034.2 247.4h0M1034.3 189.8h0M1034.3 202.3h0M1034.5 253h0M1034.5 209h0M1034.8 214.2h0M1034.9 271.6h0M1034.9 247.1h0M1035.1 265.7h0M1035.2 250.9h0M1035.8 209.2h0M1035.8 207.8h0M1035.8 214.3h0M1035.9 202.4h0M1036 209h0M1036 267.9h0M1036.3 213.9h0M1036.5 249.9h0M1036.5 184.4h0M1036.5 267.9h0M1036.5 273.4h0M1036.5 279.6h0M1036.5 285.1h0M1036.8 255.3h0M1037 209.3h0M1037.1 257.1h0M1037.1 265.8h0M1037.4 210.5h0M1037.7 216.8h0M1037.8 253.8h0M1037.8 262.2h0M1037.8 272.6h0M1038 262.2h0M1038.1 215.7h0M1038.1 255.2h0M1038.3 257.6h0M1038.6 253.7h0M1038.7 217.4h0M1039.4 213.4h0M1039.7 254.2h0M1040.7 217.7h0M1040.9 207.4h0M1041 249.7h0M1041.3 266.9h0M1041.3 211.4h0M1041.5 272h0M1041.9 216.2h0M1042.1 215.6h0M1042.2 257.2h0M1042.5 252.1h0M1042.6 250.8h0M1042.6 214.8h0M1042.7 201.6h0M1042.7 216.7h0M1042.7 250.3h0M1042.9 197.8h0M1043 200.9h0M1043.1 257.4h0M1043.1 265.2h0M1043.2 255.7h0M1043.3 250.2h0M1043.8 212h0M1044.1 263.6h0M1044.1 267.8h0M1044.2 274h0M1044.2 209.8h0M1044.2 208.4h0M1044.3 211.1h0M1044.4 212.7h0M1044.4 256.2h0M1044.7 196.7h0M1044.7 254.2h0M1044.8 250.2h0M1044.9 252.2h0M1045.2 212.2h0M1045.3 257.9h0M1045.6 254.8h0M1045.6 256h0M1046 213.6h0M1047.1 211.9h0M1047.3 251.2h0M1047.4 209.8h0M1047.6 255.5h0M1047.8 257.5h0M1047.9 214.8h0M1048.3 214.8h0M1048.4 214.8h0M1048.5 257.4h0M1048.6 213h0M1048.9 214.2h0M1049 215.5h0M1049.2 253.2h0M1049.3 209.9h0M1049.3 214.4h0M1049.3 209.3h0M1049.4 215.9h0M1049.6 255.1h0M1050.3 213.7h0M1050.5 216.4h0M1051.2 207h0M1051.3 221.6h0M1051.4 218.6h0M1051.4 215.6h0M1051.5 216.9h0M1051.6 214.4h0M1051.6 217.8h0M1052.2 215.1h0M1052.6 219.2h0M1052.7 218.2h0M1052.7 264.6h0M1052.7 261.1h0M1052.8 216.5h0M1053.2 257.1h0M1053.7 257.5h0M1053.9 220.8h0M1054 255.5h0M1054.3 262.2h0M1054.4 255.1h0M1054.4 259.6h0M1054.8 216.7h0M1055 261.8h0M1055 262h0M1055.5 224.7h0M1055.7 262.3h0M1055.8 221.2h0M1055.9 262.1h0M1055.9 272.8h0M1056.2 221.1h0M1056.8 221.6h0M1056.9 270.9h0M1057.3 260.2h0M1057.3 260.2h0M1058.2 218.9h0M1058.3 259.7h0M1058.5 263h0M1058.7 262.5h0M1058.8 216.4h0M1059.2 261h0M1059.3 221.6h0M1059.3 261h0M1059.8 258.4h0M1059.9 268.1h0M1060 265.1h0M1060.2 264.1h0M1060.3 223.8h0M1061.1 202.2h0M1061.6 259h0M1062 257.1h0M1062.3 260.3h0M1062.3 263.9h0M1062.8 223.5h0M1063 207.3h0M1063.1 263.8h0M1063.7 257.4h0M1063.7 207.8h0M1063.9 223.4h0M1064.2 216.6h0M1064.3 223.9h0M1065.1 222h0M1065.5 212.1h0M1065.8 259.2h0M1065.9 267.8h0M1066.1 211.5h0M1066.4 263.9h0M1066.7 260.2h0M1067 214.5h0M1067.3 213.2h0M1067.4 212.7h0M1068 215.7h0M1068.7 263.4h0M1068.7 289.4h0M1068.7 259.6h0M1068.8 212.2h0M1069.3 257.7h0M1069.4 216.9h0M1069.5 277.5h0M1069.5 262.6h0M1069.7 261.9h0M1069.9 216.8h0M1070 261.7h0M1070.3 215.4h0M1070.3 261.4h0M1070.7 270.3h0M1070.8 272.9h0M1071.3 260.3h0M1071.5 260.3h0M1071.8 266.6h0M1072.5 214.1h0M1073.3 209.3h0M1073.4 214.1h0M1073.6 207.7h0M1074.2 213.3h0M1074.4 213.7h0M1074.9 198.8h0M1075 254.2h0M1075.3 258.1h0M1075.3 255.9h0M1075.3 251.8h0M1075.5 250.3h0M1075.6 214.1h0M1075.8 257.1h0M1076 260.5h0M1076.1 256.9h0M1076.2 210.9h0M1076.3 257.6h0M1076.4 253.3h0M1076.8 270.4h0M1077.2 255.1h0M1077.4 256.6h0M1077.5 258.4h0M1077.7 262.1h0M1078.3 214.6h0M1078.4 250.9h0M1078.4 253h0M1078.5 204h0M1078.9 285.1h0M1078.9 204.4h0M1079.2 257.8h0M1079.5 276.5h0M1079.5 257.3h0M1079.6 273h0M1079.7 263.6h0M1079.8 258.9h0M1079.9 260.1h0M1080.1 209.6h0M1080.2 259.4h0M1080.4 259.3h0M1080.4 255.1h0M1080.6 261.1h0M1080.6 255.3h0M1080.6 254.3h0M1080.7 209.5h0M1080.7 253.1h0M1080.7 271.6h0M1080.7 202.2h0M1081.1 216.2h0M1081.1 210h0M1081.4 214.9h0M1082 215.2h0M1082 214.8h0M1082 208.2h0M1082.4 209.5h0M1082.5 213.9h0M1082.7 208.7h0M1082.7 208.5h0M1082.8 212.1h0M1082.8 215.9h0M1083 208.4h0M1083.4 204.9h0M1083.5 211.8h0M1083.6 212.5h0M1083.8 208.9h0M1083.9 258.5h0M1083.9 216.7h0M1084.4 211.2h0M1084.5 257.9h0M1084.7 254.7h0M1085.3 257h0M1085.4 211.2h0M1085.6 260.9h0M1085.6 211.7h0M1086.4 216.3h0M1086.4 213.8h0M1086.5 211.8h0M1086.6 258.5h0M1087.1 267.5h0M1087.1 256.4h0M1087.3 210.1h0M1087.8 279.1h0M1088.1 197.9h0M1089 255.5h0M1089.3 257.6h0M1089.5 264.2h0M1089.8 256.5h0M1090 260.8h0M1090.2 213.2h0M1091.1 276.5h0M1091.3 262.8h0M1091.4 263.3h0M1092.1 217h0M1092.1 261.2h0M1092.8 222.2h0M1092.9 278.5h0M1093 271.8h0M1093 210h0M1093.4 274.8h0M1093.7 218h0M1093.7 261.9h0M1094 268.4h0M1094 218.2h0M1094 264.6h0M1094 263.7h0M1094.2 221h0M1094.5 265.4h0M1094.7 265.1h0M1094.9 219.8h0M1095.1 261.1h0M1095.1 263.2h0M1095.3 222.9h0M1095.4 261h0M1095.4 267.8h0M1095.7 270.2h0M1096.6 273.1h0M1097.7 227.6h0M1097.7 221h0M1097.8 225.8h0M1098.1 227.3h0M1098.3 265.6h0M1098.3 268.9h0M1098.4 261.4h0M1098.5 217.5h0M1098.5 261.6h0M1098.6 268.5h0M1098.6 265.6h0M1098.6 266h0M1098.6 266.9h0M1098.9 265.4h0M1099.1 225.3h0M1099.2 265.4h0M1099.2 270.1h0M1099.3 282.1h0M1099.3 282.1h0M1099.3 265.8h0M1099.5 261.2h0M1099.5 229.5h0M1099.6 223.3h0M1099.6 265.3h0M1099.6 265.6h0M1099.8 229.9h0M1100.6 227.6h0M1100.7 222.9h0M1101.8 264.2h0M1102.4 267.5h0M1102.5 262.6h0M1102.7 262.7h0M1103 267.3h0M1103.1 263.9h0M1103.2 230.5h0M1103.2 262h0M1103.4 265h0M1103.4 288.8h0M1103.5 232.9h0M1103.5 262.5h0M1103.6 266.9h0M1103.6 267.3h0M1103.8 230.7h0M1104 212h0M1104 280.2h0M1104.2 231.5h0M1104.8 280.6h0M1105.3 274.9h0M1105.6 271.5h0M1105.7 231.8h0M1105.9 263.2h0M1106 271.3h0M1106 274.5h0M1106 233.5h0M1107.2 225.2h0M1107.5 220.2h0M1107.6 214.6h0M1108.3 283h0M1109.4 270.6h0M1109.5 233h0M1109.7 227.8h0M1109.8 267.8h0M1110.2 231.4h0M1110.3 226.4h0M1110.4 274h0M1110.6 228.3h0M1110.7 280.7h0M1110.7 270.6h0M1110.8 227.4h0M1110.8 269.3h0M1111 281h0M1111.3 279.3h0M1111.3 227.4h0M1111.3 277.6h0M1111.4 270.6h0M1111.4 271.5h0M1111.5 227.7h0M1111.6 226h0M1111.7 276.7h0M1111.8 270.6h0M1111.9 285.4h0M1112.1 273.9h0M1112.1 287h0M1112.7 273.2h0M1112.9 286.4h0M1113 269.3h0M1113.1 271h0M1113.2 218.6h0M1113.2 291.9h0M1113.3 272.2h0M1113.4 234.2h0M1113.7 265.4h0M1114 227.7h0M1114.1 275.3h0M1114.1 267.3h0M1114.2 273.5h0M1114.2 265.3h0M1114.5 280.6h0M1114.7 271.6h0M1115 273.5h0M1115.3 222.9h0M1115.3 235.1h0M1115.7 297.1h0M1116.5 234.4h0M1118.3 289.9h0M1118.5 229.7h0M1118.6 227.8h0M1119.8 271.7h0M1119.9 267.2h0M1120.2 219.5h0M1120.3 229.7h0M1120.5 230h0M1120.7 285.2h0M1120.9 233.1h0M1120.9 230.8h0M1121 278.9h0M1121.1 277.7h0M1121.2 275.5h0M1121.3 229.2h0M1121.7 274.4h0M1122 237.8h0M1122.1 236.4h0M1122.3 230.9h0M1122.6 294.9h0M1122.7 286h0M1123 223.4h0M1123 225.9h0M1123.2 227.8h0M1123.2 238.2h0M1123.2 231.5h0M1123.6 285.5h0M1123.9 232.6h0M1124.5 231.6h0M1125 231.9h0M1125.1 284.4h0M1125.3 284.1h0M1125.5 291.6h0M1125.6 231.4h0M1125.6 281.7h0M1125.6 284.4h0M1125.6 231.1h0M1125.7 284.4h0M1125.9 237.5h0M1125.9 238.2h0M1126.4 300.3h0M1126.4 231.3h0M1126.9 281.1h0M1127.3 297.9h0M1127.4 231.2h0M1127.5 228.8h0M1127.5 225h0M1127.6 223.6h0M1128.1 233.9h0M1128.2 228.6h0M1128.4 230.8h0M1128.4 237.9h0M1128.7 230.8h0M1128.8 281.5h0M1128.8 238.4h0M1129.2 308.7h0M1129.3 283.1h0M1129.4 230.4h0M1129.4 226h0M1129.5 280h0M1129.5 313.3h0M1129.8 217.9h0M1130 285.4h0M1130.1 287.5h0M1130.4 287.9h0M1130.5 230h0M1130.6 285.8h0M1130.8 282.7h0M1130.8 284.4h0M1130.9 235.4h0M1130.9 291.2h0M1130.9 283.4h0M1131.2 279.3h0M1131.3 235.8h0M1131.4 235.2h0M1131.9 228h0M1132 279h0M1132.4 274.1h0M1132.9 280.3h0M1133 281.6h0M1133.4 276.9h0M1133.4 283.7h0M1133.4 278.4h0M1133.5 278.3h0M1133.6 284.5h0M1133.7 280.9h0M1133.9 301.1h0M1134.1 273h0M1135 272.8h0M1135.1 282.2h0M1135.2 227.9h0M1135.2 272.4h0M1135.3 223.9h0M1135.3 297.7h0M1135.6 272.2h0M1135.8 294.6h0M1136 221.8h0M1136.2 279.2h0M1136.2 222.4h0M1136.3 284.3h0M1136.4 268.7h0M1136.6 271.2h0M1137.3 222.3h0M1137.4 229.1h0M1138.4 274.3h0M1138.4 273.2h0M1138.8 225.3h0M1139 220h0M1139.3 218.1h0M1139.7 224.4h0M1140.3 273.7h0M1140.5 271.6h0M1140.5 278h0M1140.7 273.5h0M1140.9 219.7h0M1141 220.6h0M1141.2 223.5h0M1141.7 290.4h0M1141.8 270.4h0M1142.1 219.6h0M1142.3 290.8h0M1142.4 205.9h0M1142.7 213.7h0M1142.8 309h0M1142.8 269.5h0M1143 275.4h0M1143 218.8h0M1143.1 303.6h0M1143.3 279.3h0M1143.7 279.5h0M1143.7 226.6h0M1143.9 215h0M1144.1 220.2h0M1144.2 222.3h0M1144.3 219.9h0M1144.4 219h0M1144.4 209.9h0M1144.4 217.3h0M1144.6 219.3h0M1144.7 280.4h0M1145.3 216.8h0M1145.5 301.1h0M1145.5 316.4h0M1145.5 284.3h0M1145.9 280.1h0M1145.9 277.6h0M1146 279.1h0M1146 218.7h0M1146.1 280.2h0M1146.2 220.4h0M1146.2 220.8h0M1146.3 280.5h0M1146.4 283.1h0M1146.6 229.1h0M1146.8 225.4h0M1146.8 279.7h0M1147.2 220.6h0M1147.3 220h0M1147.3 291.3h0M1147.3 292.8h0M1147.6 273.9h0M1147.7 289.2h0M1147.8 277.3h0M1148.2 272.4h0M1148.6 222.7h0M1148.7 278.6h0M1148.8 278.2h0M1148.9 272.7h0M1149 222.7h0M1149.2 277.3h0M1149.2 219h0M1149.2 228.7h0M1149.3 277.3h0M1149.4 224.3h0M1149.6 228.9h0M1149.6 279.8h0M1149.6 274.7h0M1150 230.1h0M1150 229.5h0M1150.2 273.8h0M1150.3 276.6h0M1150.3 230.1h0M1150.3 224.1h0M1150.5 273.1h0M1150.6 227h0M1150.7 227.4h0M1151 273.7h0M1151.1 275.2h0M1151.1 285h0M1151.2 231.8h0M1151.6 222.8h0M1151.7 228.8h0M1151.7 288.1h0M1151.7 298.4h0M1151.8 232.1h0M1151.9 222.8h0M1152.3 284.7h0M1152.5 294.7h0M1152.5 232.2h0M1152.7 281.3h0M1153.1 279.8h0M1153.8 273.2h0M1154 217.2h0M1154.2 280h0M1154.3 276.9h0M1154.5 277.5h0M1154.7 274.9h0M1154.8 284.6h0M1154.9 280.2h0M1155.5 224.9h0M1155.7 224.7h0M1155.9 217.7h0M1155.9 225h0M1156 232.9h0M1156.1 282.3h0M1156.1 215.9h0M1156.1 209.9h0M1156.3 225.6h0M1156.4 228.8h0M1156.5 279.8h0M1156.8 224h0M1157.1 278.8h0M1157.3 230.1h0M1158.9 233.1h0M1158.9 225.8h0M1159.3 202.8h0M1159.6 231.1h0M1160.5 225h0M1160.6 225.5h0M1160.7 224.4h0M1160.8 276.6h0M1161 227.8h0M1161 225.5h0M1161.4 294.3h0M1161.8 211.3h0M1162 225.8h0M1162 273.4h0M1162.2 219.1h0M1162.3 290.4h0M1162.4 220.9h0M1162.5 272.8h0M1162.6 299h0M1162.7 226.7h0M1162.8 228.9h0M1163.3 308.7h0M1163.6 274.8h0M1163.7 223.8h0M1163.8 270.8h0M1163.8 268.1h0M1163.9 296.5h0M1164.2 270.1h0M1164.4 222.5h0M1164.6 278.1h0M1164.7 288.7h0M1164.7 224.2h0M1164.8 283.6h0M1165.3 301.1h0M1165.5 268.3h0M1165.9 221.4h0M1166.6 217.1h0M1166.6 215h0M1166.6 292.1h0M1166.7 264.7h0M1166.7 288.5h0M1166.8 219.1h0M1166.8 270.7h0M1166.8 269.2h0M1166.9 273.2h0M1167 199.7h0M1167.3 268.8h0M1167.7 266h0M1167.8 270.4h0M1168.1 267.7h0M1168.2 221.8h0M1168.2 266.5h0M1168.5 283.3h0M1168.5 296.5h0M1169.1 301.1h0M1169.6 223.5h0M1169.8 231.2h0M1170 269.4h0M1170.7 223.3h0M1170.7 230.1h0M1170.9 230.9h0M1171.5 233.4h0M1172.3 295.7h0M1172.4 278.2h0M1172.6 272.3h0M1172.7 307h0M1173 231h0M1173.1 232.4h0M1173.4 234.3h0M1173.5 218.9h0M1173.5 231h0M1173.6 232.8h0M1173.8 228.2h0M1173.8 235.9h0M1173.9 234.4h0M1174 224h0M1174 302.1h0M1174.1 307.5h0M1174.1 227.7h0M1174.2 280.3h0M1174.2 213.8h0M1174.2 285.8h0M1174.4 230.2h0M1175.3 235.4h0M1175.5 274.3h0M1175.6 233.9h0M1176.1 225.3h0M1176.5 236.6h0M1176.8 234.9h0M1177.2 282.3h0M1177.7 233.7h0M1177.9 286.9h0M1178.2 281.1h0M1178.2 280h0M1178.3 298.1h0M1178.3 317.9h0M1178.3 321h0M1178.6 283.8h0M1178.6 277.5h0M1179.3 224.9h0M1179.3 224.4h0M1179.5 286.4h0M1179.6 214.9h0M1179.7 226.2h0M1179.9 284.3h0M1180 284h0M1180.3 285.3h0M1180.3 283.5h0M1180.4 233.2h0M1180.4 281.1h0M1180.5 287.8h0M1180.8 277.3h0M1180.9 234.1h0M1181.1 279.9h0M1181.1 277.7h0M1181.4 280.3h0M1182 284.2h0M1182.3 234.8h0M1182.6 285.9h0M1182.6 276.6h0M1182.6 237.5h0M1183.1 229.3h0M1183.9 211.1h0M1183.9 238.8h0M1183.9 235.3h0M1184 222.1h0M1184.1 235.9h0M1184.5 243.7h0M1184.6 286.6h0M1184.7 242.6h0M1184.7 279.9h0M1185.6 232.5h0M1185.6 275.8h0M1185.6 298.8h0M1185.9 285.4h0M1185.9 230.4h0M1185.9 282.7h0M1185.9 244h0M1185.9 235.3h0M1186 241h0M1186.7 279.8h0M1187.4 240.3h0M1187.5 280.3h0M1187.5 274.3h0M1187.6 240.3h0M1188 286.4h0M1188 242.2h0M1188.1 238.4h0M1188.1 280.2h0M1188.4 235h0M1188.5 236h0M1188.5 237.5h0M1188.6 235.2h0M1188.7 234.5h0M1188.7 234.9h0M1188.7 222.1h0M1188.8 235.9h0M1188.8 297.9h0M1188.8 235.4h0M1189 280.4h0M1189 235.6h0M1189.1 235.7h0M1189.4 279.6h0M1189.4 223h0M1189.6 234.6h0M1189.8 234.5h0M1189.9 234.3h0M1190.3 234h0M1190.5 272.6h0M1190.6 232.1h0M1190.6 222.7h0M1190.7 279.5h0M1190.9 233.9h0M1190.9 272.7h0M1191.2 232.5h0M1191.4 289.9h0M1191.6 221.3h0M1191.8 278.1h0M1191.8 228.1h0M1192 229h0M1192.1 275.8h0M1192.2 276.2h0M1192.2 286.8h0M1192.2 235.5h0M1192.4 231.9h0M1192.5 276.7h0M1193 233.6h0M1193.8 228.6h0M1194.2 236.8h0M1194.5 229h0M1194.6 236.6h0M1194.8 270h0M1195.3 272h0M1195.6 277.6h0M1195.9 282.3h0M1196.1 269.9h0M1196.1 282.6h0M1196.1 291.2h0M1196.2 276.7h0M1196.2 277.3h0M1196.3 227.3h0M1196.3 226.8h0M1196.7 287.4h0M1196.9 277.2h0M1197.5 274.7h0M1197.6 223.2h0M1197.6 276.8h0M1197.7 278.2h0M1197.7 301.1h0M1198.2 233h0M1198.3 226.6h0M1198.4 220h0M1198.5 225.6h0M1198.5 278.9h0M1198.8 275.4h0M1199.3 225.5h0M1199.7 275.1h0M1199.8 222.9h0M1200.4 279.8h0M1200.4 294.7h0M1200.6 275.6h0M1200.9 231.7h0M1201.1 288.9h0M1201.1 276.8h0M1201.3 218h0M1201.4 230.8h0M1201.6 225.3h0M1201.6 271.5h0M1201.7 226.7h0M1201.8 227.8h0M1201.8 225.4h0M1202.3 227.2h0M1202.6 223.6h0M1202.6 273.6h0M1202.6 271.2h0M1202.8 215h0M1203.1 226.8h0M1203.1 271.6h0M1203.2 273h0M1203.2 220.7h0M1203.8 278.2h0M1204.5 224h0M1204.6 281.8h0M1204.7 229.8h0M1205.5 274.8h0M1206.3 290.7h0M1206.3 222.8h0M1206.7 230h0M1206.9 224.4h0M1206.9 288.4h0M1206.9 277.1h0M1206.9 222.1h0M1207.1 281.6h0M1207.2 216h0M1207.3 226.5h0M1207.5 224.2h0M1207.7 279.4h0M1207.9 279.5h0M1208 280.7h0M1208.1 278.6h0M1208.1 222.2h0M1208.5 217h0M1208.6 273.4h0M1208.7 293.5h0M1208.8 287.8h0M1209 227h0M1209.6 276.2h0M1209.9 227.3h0M1209.9 277h0M1209.9 223.3h0M1210 226.3h0M1210.6 270.3h0M1210.7 227.7h0M1210.9 270h0M1211.2 282.2h0M1211.7 277.3h0M1211.8 223.1h0M1212 228.1h0M1212.4 273.5h0M1212.5 226.9h0M1213 274.3h0M1213.5 272.3h0M1213.5 273.9h0M1213.7 291.7h0M1213.9 225.9h0M1213.9 277.5h0M1214.1 226.4h0M1214.3 272.5h0M1214.6 221.6h0M1214.9 220.2h0M1215 272.4h0M1215 278h0M1215.1 275.3h0M1215.1 275.5h0M1215.4 284.2h0M1215.5 228h0M1215.8 220.3h0M1215.9 273.9h0M1216 220.8h0M1216.1 205h0M1216.2 226.9h0M1216.5 269.8h0M1217 214.8h0M1217.8 269.4h0M1218.3 271.2h0M1218.6 270.1h0M1218.7 274.1h0M1218.9 268.2h0M1219 224.3h0M1219.1 265h0M1219.5 225.5h0M1219.6 266.9h0M1219.6 268.1h0M1219.9 265h0M1220 267.2h0M1220.4 281.9h0M1220.5 230.7h0M1220.7 270.8h0M1220.7 280.4h0M1220.7 302.6h0M1220.7 307.2h0M1220.7 226.3h0M1221.3 227.3h0M1221.7 229.7h0M1221.7 276.3h0M1221.8 230.8h0M1222 226.8h0M1222.2 272.3h0M1222.4 269h0M1222.6 270.1h0M1222.8 294.8h0M1222.9 230.7h0M1222.9 275.7h0M1223 215.1h0M1223.2 230.6h0M1223.4 271.1h0M1223.4 269.7h0M1223.5 271.5h0M1223.5 228.6h0M1223.9 227.6h0M1224 272.1h0M1224.1 273.2h0M1224.2 225.3h0M1224.2 269.4h0M1224.3 269.9h0M1224.4 225h0M1224.4 282.4h0M1224.4 220.8h0M1224.4 273.2h0M1224.7 231.3h0M1224.9 232.6h0M1224.9 219.7h0M1225.5 223.7h0M1225.5 229.6h0M1225.7 226.8h0M1225.9 224.5h0M1226 273.1h0M1226.1 225.1h0M1226.1 224.9h0M1226.2 233.9h0M1226.3 274.2h0M1226.4 231.1h0M1226.6 273.2h0M1226.7 227.8h0M1226.8 279.4h0M1227.3 232.2h0M1227.6 271.3h0M1228.3 214.7h0M1228.6 228.2h0M1228.8 221.9h0M1229 220h0M1229.2 227.3h0M1229.3 270.5h0M1229.4 227.9h0M1229.6 228.8h0M1229.9 235.4h0M1230.4 268.8h0M1230.5 230h0M1230.7 270.3h0M1231.1 271.5h0M1231.1 274h0M1231.1 272.6h0M1231.2 268.3h0M1231.4 301.5h0M1231.8 228.6h0M1231.9 233.4h0M1231.9 229.4h0M1232 213.2h0M1232.4 288.2h0M1232.6 307.2h0M1232.6 231.5h0M1232.9 294.5h0M1233 304.9h0M1233.2 293.3h0M1233.3 236.4h0M1233.5 307.2h0M1233.6 233h0M1233.7 229.8h0M1233.9 225.1h0M1234 284.9h0M1234.3 233.8h0M1234.3 231.8h0M1234.5 235.2h0M1234.7 289.1h0M1234.8 234.7h0M1235 230.4h0M1235 285.5h0M1235 234.8h0M1235.1 236.3h0M1235.6 274.7h0M1236.2 302.1h0M1236.3 229.7h0M1236.6 272.2h0M1236.9 223.2h0M1236.9 228.3h0M1236.9 216.4h0M1237 229h0M1237.3 226.5h0M1237.4 266.2h0M1238 227.9h0M1238 284.8h0M1238.1 220.7h0M1238.1 272h0M1238.3 217.4h0M1238.5 226.4h0M1239.7 270.2h0M1240 334.8h0M1240.1 302.1h0M1240.3 269h0M1240.4 268.6h0M1240.6 263.9h0M1240.7 334.8h0M1240.8 278.1h0M1240.9 231.6h0M1241 283.4h0M1241.5 270h0M1242 286.8h0M1242.1 226.8h0M1242.2 272h0M1242.2 211.4h0M1242.3 272.5h0M1242.3 291.6h0M1242.5 271.2h0M1242.6 269.9h0M1243.3 272.3h0M1243.6 282.2h0M1243.7 267.3h0M1243.8 305.5h0M1244.2 268.7h0M1244.4 270.9h0M1244.5 270h0M1244.8 280.8h0M1245 276.6h0M1245 274.2h0M1245.1 274.2h0M1245.2 236.2h0M1245.3 268.9h0M1245.3 234.4h0M1245.3 269.9h0M1245.3 287.3h0M1245.4 268.9h0M1245.6 283.6h0M1245.7 231.4h0M1246 274.8h0M1246 268.6h0M1246.1 292h0M1246.2 274.3h0M1246.2 276.5h0M1246.3 291.7h0M1246.3 231.4h0M1246.4 209.9h0M1246.5 274.5h0M1246.5 268.8h0M1246.8 272.5h0M1247 283.5h0M1247 274.8h0M1247.2 274.5h0M1247.9 271.4h0M1248.2 276.9h0M1248.6 238.2h0M1248.6 195.1h0M1248.7 233.6h0M1248.8 207.4h0M1249.2 189h0M1249.2 313.3h0M1249.2 282.9h0M1249.3 203.6h0M1249.3 213.1h0M1249.4 276.2h0M1249.5 297.4h0M1249.9 237.3h0M1249.9 281.7h0M1250.4 238.6h0M1250.4 216.2h0M1250.5 223h0M1250.7 217.1h0M1250.7 204.3h0M1250.9 239.3h0M1251 233.8h0M1251.3 275.2h0M1251.6 216.7h0M1251.6 241.6h0M1251.6 223.6h0M1251.9 241.4h0M1251.9 216.8h0M1252 238.1h0M1252 202.2h0M1252 230.9h0M1252 237.1h0M1252.1 234.7h0M1252.1 241.5h0M1252.2 237.3h0M1252.3 235h0M1252.3 240.9h0M1252.5 237.5h0M1252.6 197.1h0M1252.7 221.6h0M1252.7 241.7h0M1253.1 220.3h0M1253.2 234.6h0M1253.4 280h0M1253.5 235.7h0M1253.6 227.1h0M1253.8 186.2h0M1253.8 278.9h0M1254 222.3h0M1254.3 279h0M1254.3 241.2h0M1254.3 240.4h0M1254.4 278.6h0M1254.5 234.7h0M1254.7 294.8h0M1254.8 196.3h0M1254.9 222.9h0M1255 240.6h0M1255.4 275.1h0M1255.4 206.5h0M1255.5 221.6h0M1255.5 205.5h0M1255.7 236.9h0M1256 188.5h0M1256.3 280.2h0M1256.4 278.7h0M1256.5 240.9h0M1256.8 238.6h0M1256.9 307.2h0M1257.1 241h0M1257.1 278h0M1257.3 280.8h0M1257.4 282.3h0M1257.4 281.3h0M1257.5 139.9h0M1257.5 151.2h0M1257.5 171.2h0M1257.5 185h0M1257.5 198.2h0M1257.7 275.7h0M1257.7 222.1h0M1257.8 289.6h0M1257.8 288.7h0M1258 216.4h0M1258.3 214h0M1258.3 241h0M1258.3 193.9h0M1258.4 307.4h0M1258.5 239.9h0M1258.5 235.3h0M1258.6 179.6h0M1258.7 281.7h0M1258.7 280.4h0M1258.9 276.9h0M1259.2 281.6h0M1259.2 281.9h0M1259.3 281.8h0M1259.4 278.2h0M1259.4 277.7h0M1259.5 239.8h0M1259.7 276.6h0M1259.7 282.4h0M1259.8 195.1h0M1259.8 209.4h0M1259.9 282h0M1260 282.2h0M1260.2 244.8h0M1260.3 290.3h0M1260.3 282h0M1260.4 238.5h0M1260.5 208.6h0M1260.5 243.1h0M1260.6 234.5h0M1260.6 227.5h0M1260.7 220.1h0M1260.8 280.7h0M1260.8 238h0M1260.8 230.4h0M1260.9 236.9h0M1261 230.1h0M1261 218.1h0M1261 238.4h0M1261 240.1h0M1261.4 281.7h0M1261.4 201.5h0M1261.5 314.9h0M1261.5 232.9h0M1261.6 223.5h0M1261.9 283.9h0M1261.9 281.1h0M1261.9 238.7h0M1262.1 277.1h0M1262.2 283.6h0M1262.5 236.5h0M1262.7 237.9h0M1262.7 278.5h0M1263 278.3h0M1263.3 214.9h0M1263.3 282.6h0M1263.4 238.6h0M1263.5 282.9h0M1263.5 304h0M1263.6 284.6h0M1263.6 239.4h0M1263.8 207.3h0M1263.8 216.5h0M1263.9 234.7h0M1264 220h0M1264.1 286.7h0M1264.3 238.7h0M1264.5 222h0M1265 279.2h0M1265 287.1h0M1265 235.3h0M1265.1 232.5h0M1265.6 240.4h0M1265.8 245.5h0M1265.9 244.2h0M1266.3 239.4h0M1266.5 280.3h0M1266.7 239.8h0M1266.9 277.1h0M1267 246h0M1267 239.8h0M1267 239.9h0M1267.4 300.4h0M1267.6 239.5h0M1267.8 283.9h0M1268 303h0M1268.2 278.9h0M1268.2 294.4h0M1268.4 290.9h0M1269.5 239.4h0M1269.7 302.3h0M1269.8 239.5h0M1269.8 244.8h0M1269.8 284.4h0M1270.2 233.3h0M1270.2 226h0M1270.2 230.9h0M1270.3 284.9h0M1270.3 288.8h0M1270.4 240.5h0M1270.4 240.8h0M1270.4 238.5h0M1270.6 284h0M1270.6 283.9h0M1270.7 285.8h0M1270.7 232.8h0M1270.7 241.8h0M1270.8 283.2h0M1270.8 239.9h0M1270.9 239.5h0M1270.9 285.6h0M1271 284h0M1271.4 286.1h0M1271.5 238.9h0M1271.6 231.1h0M1271.8 296.2h0M1271.8 241h0M1272.1 288.8h0M1272.2 240.9h0M1272.4 284.7h0M1272.6 286.7h0M1272.6 241.5h0M1272.7 238.8h0M1272.8 234.7h0M1272.8 283.2h0M1273 234.4h0M1273 278.6h0M1273.1 242.8h0M1273.2 279.7h0M1273.3 292.1h0M1273.4 206.2h0M1273.5 246.5h0M1273.5 285.1h0M1273.6 280.3h0M1273.6 219.2h0M1273.8 225.6h0M1273.9 293h0M1273.9 225.1h0M1274.3 289h0M1274.3 213.6h0M1274.4 285.4h0M1274.7 241.1h0M1274.7 285.1h0M1275 293.5h0M1275 285.4h0M1275 242.2h0M1275.3 198.2h0M1275.3 202.8h0M1275.3 221.2h0M1276 243.2h0M1276.2 287.1h0M1276.4 209.4h0M1276.5 229.7h0M1276.5 280.2h0M1276.8 241.4h0M1276.9 245.3h0M1277.2 240.6h0M1277.4 285.9h0M1277.4 285.7h0M1277.5 281.1h0M1277.5 293h0M1277.6 286h0M1277.6 229.7h0M1277.8 228.6h0M1277.8 284.2h0M1278 240.2h0M1278.4 295h0M1278.5 284.5h0M1278.5 222.8h0M1278.7 279.6h0M1278.7 224.8h0M1278.7 281.9h0M1278.8 282.3h0M1278.8 232.4h0M1278.9 239.7h0M1278.9 286.6h0M1279 240.5h0M1279.5 240.5h0M1279.6 228h0M1279.6 283.4h0M1279.6 231.4h0M1279.8 241.2h0M1279.9 236.5h0M1280 245.9h0M1280 281.1h0M1280.4 237.6h0M1280.6 282.6h0M1280.6 241.3h0M1280.7 223.2h0M1281.1 282.7h0M1281.2 244h0M1281.4 286.8h0M1282.1 287.1h0M1282.2 240.9h0M1282.3 224.9h0M1282.4 240.9h0M1282.4 296.2h0M1282.5 240.3h0M1282.5 241.3h0M1282.7 286.6h0M1282.8 238.7h0M1282.9 282.1h0M1283 283.9h0M1283 280.8h0M1283.1 289.7h0M1283.1 291.1h0M1283.1 223.6h0M1283.2 244.7h0M1283.3 240.2h0M1283.4 280.6h0M1283.4 287.4h0M1283.5 297.4h0M1284.2 225h0M1284.6 241.3h0M1285.2 247.6h0M1285.4 246.2h0M1286.2 218.4h0M1286.6 287.2h0M1286.7 293.4h0M1287.4 291.1h0M1287.4 243.1h0M1287.5 288.5h0M1288 239.9h0M1288 244h0M1288.1 288.3h0M1288.7 236.4h0M1289 237.6h0M1289 242.5h0M1289.2 289.7h0M1289.2 241.4h0M1289.5 294.8h0M1289.7 247.2h0M1289.7 292.4h0M1289.8 293.1h0M1290.1 295h0M1290.1 296.7h0M1290.3 245.2h0M1290.3 290.4h0M1290.4 286.3h0M1290.5 242.6h0M1290.7 241.6h0M1290.8 293.2h0M1290.8 292.4h0M1291 245.9h0M1291 228.6h0M1291.1 286.8h0M1291.1 291.4h0M1291.2 248.1h0M1291.4 241.9h0M1291.6 296.6h0M1291.7 290.9h0M1292.2 219.7h0M1292.2 224.3h0M1292.4 234.1h0M1293 291.4h0M1293.1 240.2h0M1293.7 241.8h0M1293.8 246h0M1294 241h0M1294 240h0M1294.1 246.4h0M1294.2 235h0M1294.3 223.8h0M1294.4 207.8h0M1294.6 231h0M1295 235.7h0M1295.1 241.3h0M1295.1 224.3h0M1295.1 246.6h0M1295.2 227.4h0M1295.2 309.8h0M1295.2 215.9h0M1295.3 295.8h0M1295.4 307.5h0M1295.5 247.3h0M1295.5 248.7h0M1295.6 294.4h0M1295.9 231.6h0M1296.6 293.5h0M1296.7 233.5h0M1296.8 303h0M1296.9 241.3h0M1296.9 286.5h0M1297.1 285h0M1297.2 287.3h0M1297.3 240.7h0M1297.4 247.1h0M1297.4 182.9h0M1297.4 194.5h0M1297.5 220.4h0M1297.5 286.8h0M1297.6 219.6h0M1297.6 214.4h0M1297.7 288.1h0M1297.7 242.3h0M1298.1 235.9h0M1298.2 298.8h0M1298.4 238.9h0M1298.4 242.6h0M1298.6 207.4h0M1298.7 238.8h0M1298.9 293.9h0M1299 230.4h0M1299.3 225.4h0M1299.4 241.7h0M1299.5 293.6h0M1299.6 285h0M1299.6 238.7h0M1299.8 242.7h0M1299.9 242.8h0M1299.9 241.8h0M1300 215.6h0M1300 292.4h0M1300.2 211.6h0M1300.3 242.6h0M1300.3 305.2h0M1300.3 284.5h0M1300.5 231.5h0M1300.8 290.5h0M1300.8 237.2h0M1301.1 292.6h0M1301.3 243h0M1301.3 240.7h0M1301.5 244.4h0M1301.6 286.8h0M1301.6 226.6h0M1301.6 300.1h0M1301.7 209.2h0M1301.9 285.5h0M1302 300h0M1302.4 289.5h0M1302.4 229.6h0M1302.4 289.4h0M1302.5 313.3h0M1302.6 301h0M1302.7 286.5h0M1302.9 249.4h0M1302.9 316.4h0M1302.9 324.1h0M1303 243.5h0M1303.1 245.4h0M1303.4 224.5h0M1303.4 303.6h0M1303.7 227.9h0M1303.8 243.3h0M1303.8 243h0M1303.8 287.3h0M1303.8 242.8h0M1303.9 243.4h0M1304.1 246.9h0M1304.1 243.4h0M1304.2 316.9h0M1304.2 283.5h0M1304.3 301h0M1304.3 240.8h0M1304.4 237.6h0M1304.4 307.1h0M1304.5 238.3h0M1304.5 241.1h0M1304.6 246.8h0M1304.6 282.5h0M1304.7 301.3h0M1304.8 290.6h0M1304.9 243.3h0M1304.9 284.1h0M1305 229.8h0M1305.1 285.1h0M1305.1 300.1h0M1305.3 289.1h0M1305.9 229.7h0M1305.9 284.4h0M1306 246.6h0M1306.3 246.5h0M1306.4 289.9h0M1306.7 247.8h0M1307.4 241h0M1307.5 305h0M1307.5 303.3h0M1307.8 226.5h0M1308.2 219.7h0M1308.3 292.1h0M1308.7 288.2h0M1309.1 284.8h0M1309.2 285.4h0M1309.4 235.8h0M1309.5 235h0M1309.7 284.3h0M1310.2 299.4h0M1310.4 292.4h0M1310.5 289.3h0M1310.7 244.5h0M1310.8 247.6h0M1310.9 249.6h0M1311 249.2h0M1311 245.5h0M1311 237.3h0M1311.1 245.8h0M1311.1 290.6h0M1311.2 290.6h0M1311.3 289.2h0M1311.5 283.4h0M1311.5 250.3h0M1311.5 283.3h0M1311.6 299.3h0M1311.6 290.4h0M1312.2 295.9h0M1312.3 244.4h0M1312.3 248.2h0M1312.5 299.5h0M1312.6 244.3h0M1312.6 236.8h0M1312.7 292.2h0M1312.8 242.1h0M1312.9 248.3h0M1313.1 323.4h0M1313.2 288.1h0M1313.3 244.2h0M1313.4 290.2h0M1313.5 289h0M1313.6 313.4h0M1313.7 231.2h0M1313.9 244.5h0M1314 290.3h0M1314.2 299.7h0M1314.3 285.3h0M1314.4 285.4h0M1314.5 213.2h0M1314.7 290.6h0M1315.2 326.8h0M1315.2 246.2h0M1315.3 289.6h0M1315.5 250.2h0M1315.5 216.3h0M1315.7 293h0M1316 249h0M1316.1 197.3h0M1316.1 216h0M1316.3 303h0M1316.3 223.3h0M1316.4 291.7h0M1316.6 239.5h0M1316.6 243.5h0M1317 218.4h0M1317.1 239.7h0M1317.2 292.2h0M1317.4 244h0M1317.9 243.2h0M1318.1 242.8h0M1318.2 300.7h0M1318.2 251.1h0M1318.6 250.9h0M1318.6 230.7h0M1318.6 251.1h0M1318.7 242.3h0M1318.9 244.6h0M1319 220.4h0M1319.1 244.3h0M1319.2 233.1h0M1319.2 243.7h0M1319.4 237h0M1319.5 298.3h0M1319.6 239.5h0M1319.7 293h0M1319.7 292.7h0M1319.8 251.3h0M1319.8 248.5h0M1320.1 225h0M1320.2 292.6h0M1320.2 218.8h0M1320.5 244.6h0M1320.5 242.5h0M1321 250.9h0M1321.1 244.6h0M1321.3 240.2h0M1321.4 316.4h0M1321.4 286.4h0M1321.6 241.7h0M1321.7 249.9h0M1321.9 243.2h0M1322.1 294h0M1322.1 291.9h0M1322.3 244.4h0M1322.3 287.4h0M1322.4 247.1h0M1322.7 294.7h0M1322.7 222.2h0M1322.8 293.2h0M1322.8 291.7h0M1322.9 229h0M1323.2 246.2h0M1323.3 249.3h0M1323.4 320.8h0M1323.4 240.8h0M1323.5 348.7h0M1323.5 356.3h0M1323.5 319.8h0M1323.8 310h0M1323.9 310.4h0M1324.1 241h0M1324.2 323h0M1324.3 298.5h0M1324.3 295.6h0M1324.8 243.3h0M1324.8 243.7h0M1324.9 243.8h0M1325 299.2h0M1325 246.9h0M1325.1 235.4h0M1325.1 224.4h0M1325.1 248.5h0M1325.3 245.8h0M1325.8 290.6h0M1326 242.2h0M1326.6 299.1h0M1326.7 324.1h0M1327.2 297.4h0M1327.4 338.9h0M1328 295h0M1328.1 293.8h0M1328.3 234.8h0M1328.5 302h0M1328.5 238h0M1328.5 309.4h0M1328.6 291h0M1328.6 316.5h0M1328.6 244.7h0M1328.6 329.6h0M1328.7 293.3h0M1329 292.9h0M1329 227.4h0M1329.2 299.4h0M1329.6 293.2h0M1329.9 245.7h0M1330 319.4h0M1330.4 245.8h0M1330.5 303.2h0M1330.6 247.4h0M1330.8 330.3h0M1330.8 246.7h0M1330.9 310.4h0M1331 251.3h0M1331.2 296.4h0M1331.3 235h0M1331.4 307.2h0M1331.5 232.3h0M1333.3 290.5h0M1333.5 238.5h0M1333.5 232.5h0M1333.5 293.3h0M1333.6 251.5h0M1333.6 324.1h0M1333.6 334.8h0M1333.7 295.2h0M1333.9 297.8h0M1334.1 255.5h0M1334.3 339.4h0M1334.3 249.6h0M1334.4 294.9h0M1334.5 288.9h0M1336.1 294h0M1336.2 253.4h0M1336.3 257.9h0M1336.5 253.4h0M1336.6 289.4h0M1336.8 292.7h0M1337.1 291.5h0M1337.1 289.8h0M1337.2 287.1h0M1337.5 288.1h0M1337.5 240.4h0M1337.6 255h0M1337.7 292.9h0M1337.7 245.2h0M1337.7 242.6h0M1337.7 288.2h0M1337.8 259.3h0M1337.9 254.9h0M1337.9 311.7h0M1338.1 289.2h0M1338.2 255.5h0M1338.3 290.9h0M1338.3 288.6h0M1338.6 293.1h0M1338.6 297.4h0M1338.6 291.9h0M1338.7 298.4h0M1339.1 291.4h0M1339.7 255.5h0M1339.9 296.3h0M1340.1 290.9h0M1340.1 288.8h0M1340.2 289.8h0M1340.3 292h0M1340.4 299.3h0M1340.5 300.7h0M1340.9 255.4h0M1340.9 309.3h0M1341.1 290.9h0M1341.3 316.4h0M1341.4 259.6h0M1341.8 292.6h0M1342 286.6h0M1342.3 288.7h0M1342.3 291.1h0M1342.4 305.7h0M1342.7 232.8h0M1342.9 291.5h0M1343 261.3h0M1343.5 256.1h0M1343.5 298.3h0M1343.6 254h0M1344 304.6h0M1344.1 291.1h0M1344.4 240.1h0M1344.7 290.9h0M1344.7 287.7h0M1344.7 311.3h0M1345.1 290.4h0M1345.1 291h0M1345.7 299.9h0M1346 291.8h0M1346.2 292.4h0M1346.3 288.6h0M1346.6 230.8h0M1346.8 287.5h0M1346.8 256h0M1347 291.5h0M1347.1 289.8h0M1347.2 297.2h0M1347.5 308.7h0M1347.5 285.9h0M1348.1 290.9h0M1348.3 259.9h0M1348.6 291.9h0M1348.7 293.8h0M1349 314.4h0M1349 311.2h0M1349 293.2h0M1349.2 300.7h0M1349.5 252.8h0M1349.6 252.6h0M1349.9 294.5h0M1349.9 289.2h0M1350 257.2h0M1350 253.9h0M1350.2 299.9h0M1350.4 295.8h0M1351.6 251.7h0M1351.6 253.3h0M1351.7 229.7h0M1351.9 295.6h0M1351.9 237.1h0M1351.9 324.6h0M1352.2 313.5h0M1352.3 289.7h0M1352.3 295.3h0M1352.4 290.4h0M1352.5 299.7h0M1352.6 306.4h0M1352.6 297h0M1352.7 320.6h0M1352.7 314.4h0M1352.9 312.6h0M1352.9 295.6h0M1353.1 297.5h0M1353.2 290.7h0M1353.2 293.7h0M1353.4 295.8h0M1353.4 253.7h0M1353.5 292.1h0M1353.5 256.1h0M1353.5 299.1h0M1353.7 297.5h0M1353.9 304.3h0M1353.9 233.1h0M1354 289.9h0M1354.2 300.6h0M1354.4 226.6h0M1354.6 296.3h0M1354.6 252.7h0M1354.7 258h0M1354.9 246.4h0M1355.1 257.9h0M1355.4 257.1h0M1355.4 248.3h0M1355.6 296.4h0M1355.6 310.5h0M1356.1 209h0M1356.2 298.6h0M1356.3 324.2h0M1356.3 318.4h0M1356.5 315.2h0M1356.6 256.4h0M1357.1 247h0M1357.1 299.1h0M1357.2 317.2h0M1357.3 303.2h0M1357.3 311.8h0M1357.4 300.4h0M1357.4 293.8h0M1357.8 211.2h0M1358.1 250.5h0M1358.2 229.6h0M1358.4 301.7h0M1358.6 229.5h0M1358.7 248.4h0M1358.7 309.4h0M1359.2 241.9h0M1359.3 297h0M1359.4 252.8h0M1359.6 319.5h0M1359.6 250.9h0M1359.6 253.9h0M1359.7 198.7h0M1360 294.3h0M1360 327.1h0M1360.1 293.3h0M1360.2 245.4h0M1360.3 206.2h0M1360.4 225.5h0M1360.4 225.2h0M1360.5 294.4h0M1360.7 300.6h0M1360.9 246h0M1360.9 247h0M1361 298.6h0M1361.3 248.3h0M1361.4 299.4h0M1361.5 309.5h0M1361.6 331.1h0M1361.6 323.7h0M1361.6 293.9h0M1361.7 247.3h0M1361.7 244.1h0M1361.7 296.8h0M1361.8 293.9h0M1362 302.2h0M1362.1 339.8h0M1362.2 321h0M1362.2 342.5h0M1362.2 350.2h0M1362.2 295h0M1362.4 234.5h0M1362.8 299.7h0M1362.8 148.2h0M1362.8 171.2h0M1362.8 175.2h0M1362.8 214.2h0M1363.1 307.2h0M1363.2 193.9h0M1363.3 304.3h0M1363.3 244.3h0M1363.4 248.7h0M1363.4 299.6h0M1363.5 238.9h0M1363.7 323.4h0M1363.7 247.7h0M1363.8 299.9h0M1363.9 245.4h0M1363.9 221h0M1363.9 236.5h0M1364.1 299h0M1364.2 239.9h0M1364.5 303.5h0M1364.6 223.3h0M1364.6 310.3h0M1364.7 305.2h0M1364.8 293.9h0M1364.8 310.2h0M1364.9 291.2h0M1365 244.5h0M1365 340.2h0M1365 226h0M1365.2 200.6h0M1365.2 221.2h0M1365.3 228.9h0M1365.4 244h0M1365.6 301.9h0M1365.7 242.8h0M1365.9 298.5h0M1366 248.7h0M1366 242h0M1366 203.7h0M1366.2 247.5h0M1366.2 235.4h0M1366.3 237.7h0M1366.4 300.7h0M1366.7 319h0M1366.8 299.4h0M1366.8 313.3h0M1366.8 244.3h0M1367 297.4h0M1367 307.6h0M1367.3 240h0M1367.4 214.5h0M1367.4 295.6h0M1367.5 326.4h0M1367.6 238.7h0M1367.8 232.6h0M1367.9 251.2h0M1368 297.1h0M1368.1 291h0M1368.2 235.6h0M1368.5 290.6h0M1368.6 292.2h0M1368.6 291.1h0M1368.7 243.2h0M1368.8 244.1h0M1369 212.3h0M1369.2 242.7h0M1369.6 301.7h0M1369.7 300.3h0M1369.7 298.6h0M1369.7 321.1h0M1369.8 316.5h0M1369.9 310.7h0M1369.9 310.5h0M1370.1 292.9h0M1370.2 292.6h0M1370.3 244.9h0M1370.3 312.3h0M1370.4 236.7h0M1370.4 301.7h0M1370.7 308.5h0M1371 298.7h0M1371.1 245.5h0M1371.2 300.5h0M1371.3 233.2h0M1371.4 235.1h0M1371.7 293h0M1371.9 245.2h0M1371.9 308.7h0M1372 244.9h0M1372.1 226.8h0M1372.4 298.6h0M1372.5 218.7h0M1372.6 301.1h0M1372.7 294.4h0M1372.8 244.2h0M1372.9 298.5h0M1373.2 250.8h0M1373.6 245.1h0M1373.7 253.2h0M1373.9 302.9h0M1374 293h0M1374.1 299.9h0M1374.2 293h0M1374.3 247.5h0M1374.5 245.9h0M1375.2 235.3h0M1375.3 232.2h0M1375.3 199.2h0M1375.3 245.9h0M1375.4 296.7h0M1375.5 242.3h0M1375.6 188.7h0M1375.6 197h0M1375.6 291.9h0M1375.7 241.2h0M1375.9 242.6h0M1375.9 298.2h0M1375.9 217.1h0M1376 221.8h0M1376 237.8h0M1376.1 300.3h0M1376.1 245.8h0M1376.1 246.2h0M1376.1 204.4h0M1376.5 238h0M1376.5 252.8h0M1376.5 212.9h0M1376.6 253.6h0M1376.6 246.6h0M1377 243.5h0M1377 248h0M1377.1 252.3h0M1377.2 189h0M1377.2 215.1h0M1377.4 252.1h0M1377.5 300.6h0M1377.5 251.5h0M1377.5 184.4h0M1377.8 244.4h0M1378 251.4h0M1378.1 240.7h0M1378.2 171.5h0M1378.2 291.7h0M1378.2 247.4h0M1378.3 303.3h0M1378.3 314.8h0M1378.4 324.3h0M1378.4 242.9h0M1378.7 300.4h0M1378.7 248.6h0M1378.8 245.7h0M1378.9 246.2h0M1379 243.2h0M1379 296.9h0M1379.1 243.8h0M1379.2 292.7h0M1379.3 296.8h0M1379.5 297.6h0M1379.5 295h0M1379.7 292.8h0M1379.7 316.4h0M1379.7 204.1h0M1379.8 240h0M1379.8 297.8h0M1379.9 223.2h0M1379.9 304.4h0M1380.1 297.3h0M1380.1 243.1h0M1380.1 231.6h0M1380.2 199.2h0M1380.3 238.9h0M1380.3 331.8h0M1380.3 334.2h0M1380.3 231.8h0M1380.5 240.3h0M1380.6 225.9h0M1380.7 242.8h0M1380.7 186.7h0M1380.8 294.4h0M1380.8 322.4h0M1381.2 239.5h0M1381.3 290h0M1381.3 241.3h0M1381.3 301.1h0M1381.6 291.7h0M1381.7 207.9h0M1381.8 209h0M1382 237.4h0M1382.1 292.4h0M1382.1 240.9h0M1382.1 221.6h0M1382.1 231.4h0M1382.3 294.2h0M1382.4 288.5h0M1382.4 298.8h0M1382.6 293.5h0M1382.6 297.8h0M1382.6 242.2h0M1382.7 218.3h0M1382.7 311.1h0M1382.7 302.1h0M1382.8 286.9h0M1382.8 294.6h0M1383.3 306.9h0M1383.3 213h0M1383.5 211.4h0M1383.7 238.2h0M1384 243.9h0M1384.2 292.5h0M1384.2 306.4h0M1384.3 221.8h0M1384.6 291h0M1384.8 289.3h0M1385.1 221.4h0M1385.1 240.2h0M1385.1 292.1h0M1385.2 295.6h0M1385.5 247.1h0M1385.6 221.9h0M1385.8 245.6h0M1385.8 243.4h0M1385.8 244h0M1385.9 246h0M1385.9 289.2h0M1386.2 245.2h0M1386.5 240.1h0M1386.6 247.3h0M1386.8 289.2h0M1386.8 239.4h0M1386.8 226.7h0M1386.9 221.7h0M1386.9 299.3h0M1387 242.1h0M1387 295.6h0M1387.1 305.7h0M1387.2 301.1h0M1387.3 307.6h0M1387.3 248.3h0M1387.4 300h0M1387.6 237.4h0M1387.7 245.7h0M1387.7 290.3h0M1387.8 289.6h0M1387.9 240.6h0M1387.9 246.7h0M1388 234.2h0M1388.1 299.4h0M1388.1 300.1h0M1388.1 221.3h0M1388.2 290.3h0M1388.5 297.9h0M1388.8 289.7h0M1388.8 240.6h0M1388.8 248.5h0M1388.9 245.8h0M1389 298.2h0M1389.1 292.9h0M1389.3 247.2h0M1389.3 296.1h0M1389.3 240.9h0M1389.7 295.4h0M1389.7 247.4h0M1389.8 240.8h0M1389.9 299.3h0M1389.9 296.5h0M1390 296.9h0M1390.1 249.2h0M1390.1 292.7h0M1390.2 292.1h0M1390.5 312h0M1390.8 248.8h0M1391.1 249.3h0M1391.2 249.5h0M1391.4 296.5h0M1392 222.8h0M1392 303.8h0M1392.6 237.9h0M1392.7 322.5h0M1392.8 248.6h0M1392.8 305.1h0M1392.9 248.7h0M1392.9 304.1h0M1393 304h0M1393.2 302.1h0M1393.3 240h0M1393.3 302.7h0M1393.5 302.8h0M1393.6 301.8h0M1393.9 303.9h0M1394 301.4h0M1394.4 313.5h0M1394.5 246h0M1394.6 246.3h0M1394.6 324.6h0M1395.1 336.4h0M1395.1 342.5h0M1395.1 253.4h0M1395.2 250h0M1395.2 242.7h0M1395.4 242.2h0M1395.5 300.3h0M1395.6 237.3h0M1395.7 307.1h0M1395.7 301.2h0M1396.1 249.5h0M1396.2 303h0M1396.3 248.7h0M1396.8 312.3h0M1396.9 251.6h0M1397.1 320.4h0M1398.4 252.4h0M1399.1 253h0M1399.1 252.1h0M1399.2 257.7h0M1399.2 304.1h0M1399.2 318.3h0M1399.5 246h0M1399.6 258.5h0M1399.6 254.4h0M1399.7 230.4h0M1399.7 315h0M1401 305.8h0M1401.2 340.4h0M1401.3 314.7h0M1401.4 241.9h0M1401.4 307.4h0M1401.5 316.1h0M1401.8 256h0M1401.9 243.8h0M1402 308.8h0M1402 250.2h0M1402.2 259.5h0M1402.8 317h0M1402.8 264.7h0M1403.3 266.9h0M1403.4 260.8h0M1403.8 258.5h0M1404.1 267.8h0M1404.3 260.8h0M1404.5 242.3h0M1404.9 264.9h0M1404.9 260.1h0M1405 242.2h0M1405.5 318.7h0M1405.6 260.6h0M1405.6 314.5h0M1405.7 311h0M1405.8 323h0M1405.8 339.4h0M1406 317.1h0M1406.1 312.8h0M1406.3 259.1h0M1407.5 257.9h0M1408 316.7h0M1408 320.2h0M1408.1 258.5h0M1408.4 259.8h0M1408.5 259.2h0M1408.7 258.3h0M1409.5 260.9h0M1409.7 252.3h0M1409.8 238.7h0M1409.8 243.4h0M1409.9 266.4h0M1410 255.3h0M1410.1 260.8h0M1410.4 334.8h0M1410.5 259.2h0M1410.8 268.1h0M1411.2 249.7h0M1411.3 252.7h0M1411.3 261.9h0M1411.5 332.3h0M1411.5 258.6h0M1411.8 318.1h0M1412.3 264.7h0M1412.3 259.1h0M1413.2 247.8h0M1413.4 259.1h0M1413.4 322.3h0M1413.4 260h0M1413.5 313.5h0M1414.6 255.8h0M1415 303.6h0M1415.1 260.5h0M1415.7 254.3h0M1415.7 304.2h0M1415.8 256h0M1416 243.9h0M1416 254.8h0M1416.6 312.7h0M1416.6 252h0M1416.8 236.1h0M1417.3 252.9h0M1417.4 320.1h0M1417.6 255.6h0M1417.6 255.4h0M1417.6 249.8h0M1418.1 314.2h0M1418.3 301.1h0M1418.4 298h0M1418.6 304.2h0M1418.7 304.2h0M1418.7 301.2h0M1418.9 249.2h0M1419 304.7h0M1419.8 249.7h0M1419.8 320.2h0M1419.9 244.8h0M1420.1 254.1h0M1420.1 251.5h0M1420.2 303.2h0M1420.4 304.7h0M1420.5 248.7h0M1420.7 245h0M1420.8 315.8h0M1421.8 245.5h0M1421.8 299h0M1422 294.7h0M1422.1 250h0M1422.3 303.2h0M1422.3 301.3h0M1422.4 304.5h0M1422.7 297.3h0M1422.8 302.2h0M1423.7 302.6h0M1423.9 242.7h0M1424 243.6h0M1425 244.9h0M1425 300.5h0M1425 294.4h0M1425.1 292.1h0M1425.7 299.8h0M1425.8 225.8h0M1425.8 310h0M1425.9 241.6h0M1426 299.1h0M1426.4 299.5h0M1426.5 293.4h0M1426.7 307.6h0M1427.2 238.8h0M1427.3 310.7h0M1427.4 297.5h0M1427.7 294.5h0M1427.9 301.5h0M1427.9 236.2h0M1428 291h0M1428 301.4h0M1428.2 231.9h0M1428.2 228.3h0M1428.3 310.4h0M1428.3 294.8h0M1428.6 295.6h0M1428.8 248.7h0M1429.1 291h0M1429.2 325.6h0M1429.2 245.7h0M1429.6 295.6h0M1429.7 240.5h0M1429.7 293.1h0M1430.7 292h0M1430.8 245.9h0M1430.8 235.3h0M1430.8 297.5h0M1431 245.6h0M1431.2 251.6h0M1431.9 322.6h0M1432.1 250.3h0M1432.7 295.7h0M1432.8 328.7h0M1433 234.4h0M1434.2 290.3h0M1434.7 309.1h0M1434.8 295.9h0M1435.2 249.7h0M1435.5 249.3h0M1435.5 295h0M1436.1 248h0M1436.3 247.6h0M1436.6 287.8h0M1436.6 293.3h0M1436.9 297.2h0M1436.9 250.2h0M1437.8 245.2h0M1438 289.5h0M1438.6 247.8h0M1438.7 248.7h0M1438.9 245.7h0M1438.9 246.4h0M1440 294.2h0M1440 292.2h0M1440.1 233.7h0M1440.6 235.8h0M1440.6 241.4h0M1440.7 290h0M1440.9 287.5h0M1441 237.3h0M1441 242h0M1441.1 228.9h0M1441.1 237.7h0M1441.4 245.6h0M1441.6 307.2h0M1441.6 238h0M1441.8 239.2h0M1441.9 246.4h0M1441.9 309.1h0M1442 296.4h0M1442.4 300.7h0M1442.8 311.4h0M1442.8 309h0M1443 313.4h0M1443.5 243.7h0M1443.6 291.5h0M1443.6 297.6h0M1443.7 244.8h0M1443.7 289.8h0M1444.4 251.5h0M1444.8 299.3h0M1445.4 292.4h0M1445.4 291.8h0M1445.4 299.2h0M1445.5 300.1h0M1445.5 299.1h0M1445.7 297.9h0M1446 299.4h0M1446.2 239.6h0M1446.3 299.5h0M1446.6 247h0M1446.7 299.9h0M1446.7 256.6h0M1446.8 299.9h0M1446.9 251h0M1447 251.7h0M1447 299.4h0M1447.5 259h0M1447.6 301.3h0M1447.8 302.4h0M1448.5 304.7h0M1448.6 259.1h0M1448.7 303.9h0M1448.8 319.5h0M1449.3 259.7h0M1449.3 259.2h0M1449.5 310.2h0M1449.7 259.7h0M1449.7 259.4h0M1449.9 304.2h0M1450.1 256.4h0M1450.3 327.9h0M1450.4 254.7h0M1450.7 312.3h0M1451 335h0M1451 323.2h0M1451.1 299h0M1451.3 302.2h0M1451.4 317.5h0M1451.5 337.7h0M1451.5 256.2h0M1451.6 302.9h0M1451.7 258.1h0M1451.7 303.1h0M1451.8 251h0M1451.8 254.6h0M1452.1 235.8h0M1452.1 296.5h0M1452.1 249.8h0M1452.2 315.7h0M1452.2 302.1h0M1452.2 257h0M1452.5 360h0M1452.5 362.5h0M1452.5 370.1h0M1452.5 304.9h0M1452.9 307.1h0M1452.9 251.3h0M1452.9 313.1h0M1453 313.8h0M1453.2 311.1h0M1453.3 247.8h0M1453.8 254.2h0M1453.8 348.8h0M1453.8 247.4h0M1454.5 235.6h0M1454.6 253.1h0M1455 303.2h0M1455.2 296.1h0M1455.2 299.7h0M1455.3 299.2h0M1455.3 305.6h0M1455.6 299.4h0M1455.8 297.1h0M1455.8 328.9h0M1456.3 248.3h0M1456.5 325.6h0M1456.7 319.1h0M1457.2 230.4h0M1457.3 314.9h0M1457.5 301.4h0M1457.9 306.2h0M1458.2 306h0M1458.3 303.2h0M1458.3 313.2h0M1458.5 237.4h0M1458.6 245.7h0M1458.6 246.7h0M1458.7 245.9h0M1458.8 234.2h0M1458.9 343.4h0M1458.9 351.1h0M1459.1 240.6h0M1459.2 241.6h0M1459.2 307.7h0M1459.4 337.2h0M1459.6 301.1h0M1459.9 324.5h0M1460 301.9h0M1460.1 297.6h0M1460.3 314.9h0M1460.4 225.8h0M1460.5 299.6h0M1461.1 314.7h0M1461.2 329.4h0M1461.7 290.5h0M1461.8 324h0M1462.3 235.9h0" fill="none" stroke="#1f77b4" stroke-width="5.4" stroke-linecap="round"/>
<path d="M115 259.7 117 260.2 119.1 262.9 121.1 267.3 123.1 272.4 125 272.1 126.9 276.5 128.8 278.1 130.7 275.5 132.7 268.8 134.6 264.3 136.5 259.7 138.3 263 140.2 269.8 142 272.7 143.9 274.7 145.7 281.1 148.8 290.4 150.7 285.1 152.6 284.2 154.5 281.9 156.4 278.1 158 274.4 159.5 272.8 161.1 267.3 164.1 299.6 166.6 267.3 169.7 299.6 171.4 291.8 173.1 282.7 174.9 271.9 176.9 279.1 179 293.7 181 301.1 182.5 297.9 184.1 291 185.6 284.2 187.2 292.4 188.7 296.5 190.2 302.6 192.4 271.9 194.2 282.3 196.1 290.3 197.9 299.6 201 308.8 202.5 296.3 204 288.7 205.6 278.1 207.1 283.6 208.6 285.6 210.2 290.4 213.2 282.7 214.8 290.7 216.3 304.1 217.9 311.9 219.4 316.9 220.9 319.1 222.5 319.5 225.5 308.8 227.6 299.1 229.6 285.2 231.7 275 233.2 265.7 234.7 259.9 236.3 253.5 238.2 249.4 240.1 246.7 242 247.5 244 242.8 245.5 240.2 247 239.8 248.6 241.2 251.6 256.6 253.2 259.9 254.7 262.7 256.2 268.9 257.8 270.9 259.3 276.4 260.8 276.5 262.4 271.3 263.9 269 265.4 267.3 268.5 284.2 270.6 281.2 272.6 272.2 274.7 268.9 276.2 277 277.7 280.6 279.3 287.3 281.3 283.7 283.4 275 285.4 271.9 287.4 276.1 289.5 277.1 291.5 281.1 293.5 279 295.4 271.7 297.3 270.3 299.2 267.3 301.3 273.8 303.3 280 305.4 287.3 306.9 283.7 308.4 276.4 310 268.9 311.5 273.8 313 282 314.6 287.3 316.1 278.1 317.6 272.8 319.2 262.7 321.1 260.8 323 259.3 324.9 255.9 326.9 256.6 329.9 265.8 331.5 261 333 256.2 334.5 253.5 336.6 256.8 338.6 259.2 340.7 259.7 342.3 257.9 343.9 258.2 345.5 255 347.7 261.1 349.2 261 350.7 255.4 352.3 255 353.8 251.6 355.4 243.5 356.9 241.2 358.4 243.6 360 246.4 361.5 251.9 363 252.3 364.6 251.6 366.1 255 367.6 250.7 369.2 249.9 370.7 245.8 372.2 248.9 373.8 247.1 375.3 248.9 376.8 254.9 378.4 257.3 379.9 259.6 383 242.7 385 242.6 387.1 237.5 389.1 236.6 390.7 242.7 392.2 241.6 393.7 247.3 395.6 245.9 397.6 242.2 399.5 238.9 401.4 236.6 402.9 242.9 404.5 243.5 406 248.9 407.5 247.6 409.1 243.8 410.6 239.7 412.2 245.5 413.7 250.4 415.2 251.9 417.1 253.1 419.1 255.1 421 255.3 422.9 255 424.9 254.1 427 254.2 429 251.9 431.1 248.3 433.1 243.9 435.2 239.7 437.2 238.9 439.3 241.2 441.3 239.7 442.9 246.1 444.4 248.5 445.9 251.9 448 254.6 450 260.7 452.1 264.2 453.6 262.7 455.1 265.7 456.7 262.7 458.7 267.9 460.8 268.2 462.8 271.9 464.7 267.8 466.7 266.5 468.6 261.2 470.5 259.6 472.4 263.2 474.3 263.4 476.2 267.2 478.2 268.8 480.2 267.6 482.3 265 484.3 264.2 486.2 260.8 488.1 261 490.1 258.4 492 256.5 493.5 251.5 495.1 244.7 496.6 236.6 499.7 228.9 501.5 225.9 503.3 224.7 505.2 219.7 506.9 223.3 508.7 230.2 510.4 233.5 512.4 227.9 514.4 220.6 516.2 224.4 518.1 230.4 520.1 231.8 522.2 235.3 524.2 241.2 526.1 242.1 528.1 244.2 530 247.6 531.9 251.9 533.9 251.1 536 248.3 538 247.3 540.1 243.1 542.1 242.5 544.2 236.6 545.7 237.3 547.2 240.1 548.8 239.7 550.8 238.6 552.9 234.7 554.9 232 557 232.8 559 230.2 561.1 230.4 563 230 565 227.4 566.5 225.9 568.1 228.5 569.6 227.4 571.1 231.2 572.7 237.2 574.2 241.2 576.1 246.2 578 244.6 580 246.9 581.9 251.9 583.4 249.5 585 247.7 586.5 247.3 588.5 247.7 590.6 246.5 592.6 247.3 594.7 243.3 596.7 241.5 598.8 235.1 600.8 230.9 602.9 227.5 604.9 227.4 606.4 227.3 608 225.1 609.5 224.3 611.1 229.7 612.6 228.6 614.1 233.5 615.7 236 617.2 236.2 618.7 238.1 620.8 237.6 622.8 229.7 624.9 228.9 626.4 229.3 627.9 231.6 629.5 235.1 631 238.2 632.5 240.8 634.1 241.2 636 239.7 637.9 236.1 639.8 232.9 641.8 233.5 643.8 231.7 645.9 234.9 647.9 232 649.9 232.6 652 228.7 654 230.4 655.6 233.3 657.1 232 658.6 232 660.6 229.2 662.6 228.9 664.5 235.6 666.3 239.7 668.4 242 670.4 244.5 672.5 250.4 674.5 250.5 676.6 250.6 678.6 247.3 680.1 244.9 681.7 237.8 683.2 236.6 684.7 239.2 686.3 237.8 687.8 239.7 689.3 238.1 690.9 231.5 692.4 228.9 695.5 236.6 697.3 229.5 699.2 222.8 701.2 231.9 703.2 236.6 704.7 234 706.2 230.4 707.8 228.9 709.8 229.5 711.9 232.5 713.9 235.1 715.4 232.5 717 234.9 718.5 233.5 721.6 224.3 723.1 227.6 724.7 225.6 726.2 228.9 728.2 226.4 730.3 223.2 732.3 222.8 734.2 224 736 220.4 737.9 223.4 739.7 220 741.5 219.7 743.6 219.7 745.6 223.8 747.7 224.3 749.2 222.4 750.8 225.1 752.3 222.8 755.4 230.4 757.4 231.6 759.5 230.2 761.5 232 763 232.1 764.6 227.1 766.1 227.4 767.6 230.5 769.2 229.2 770.7 232 772.2 232.4 773.8 233.7 775.3 238.1 778.4 230.4 780.4 231.9 782.5 228.2 784.5 227.4 787.6 233.5 790 233.5 793.1 258.1 796.1 262.7 797.7 256.8 799.2 252.3 800.7 248.9 803.8 242.7 806.9 255 810 239.7 811.5 241.4 813 238.6 814.6 238.1 816.1 242.4 817.6 245.3 819.2 245.8 822.2 250.4 823.8 243.8 825.3 241.1 826.8 236.6 828.4 234.7 829.9 234.1 831.4 233.5 834.5 224.3 837.6 230.4 839.1 181.3 840.7 162.9 842.8 181.3 845.3 199.7 846.8 203.8 848.3 204.4 849.9 209 851.4 213.2 852.9 215.6 854.5 216.6 856 218.7 857.5 222.1 859.1 225.8 862.2 218.2 865.2 196.7 867.2 186.8 869.2 178.2 872.3 164.4 875.4 175.2 877.2 179.5 879 184.4 882.1 185.9 884 192.8 885.8 196.7 887.8 192.5 889.8 189 891.3 193.3 892.9 195.9 894.4 199.7 896.4 199.2 898.5 204.7 900.5 205.9 902.6 205.8 904.6 203.6 906.7 204.3 908.7 207.7 910.8 210.1 912.8 212 914.9 210.2 916.9 207.5 919 204.3 921 208.4 923 213.9 925.1 215.1 926.6 214.7 928.2 210.9 929.7 207.4 931.2 212.9 932.8 214.3 934.3 218.2 935.8 215 937.4 215.1 938.9 212 940.4 211.5 942 216.9 943.5 218.2 945.1 222.5 946.6 220.9 948.1 225.8 951.2 218.2 952.7 224.8 954.3 230.3 955.8 236.6 958.9 215.1 960.4 218.4 961.9 218.7 963.5 224.3 965 223.8 966.5 222.8 968.1 222.8 969.6 222.7 971.1 224.4 972.7 228.9 974.7 224.6 976.8 224.2 978.8 221.2 980.8 231.2 982.8 241.2 984.7 238.1 986.5 233.5 988 225.8 989.6 222.4 991.1 218.2 992.6 218.9 994.2 224.5 995.7 225.8 997.8 224.5 999.8 229.8 1001.9 228.9 1003.4 234.6 1004.9 234.7 1006.5 241.2 1008 237.7 1009.5 235.1 1011.1 228.9 1013 225 1015 224.3 1015.7 221.2 1017.6 228.4 1019.6 230.4 1021.1 231.1 1022.7 230.9 1024.2 227.4 1027.3 233.5 1029.3 232.1 1031.4 231.4 1033.4 230.4 1035.5 232.5 1037.5 230.3 1039.6 232 1041.1 231.4 1042.6 233.1 1044.2 236.6 1045.7 233.5 1047.2 231.8 1048.8 230.4 1050.3 235.5 1051.8 237.4 1053.4 242.7 1054.9 240.3 1056.4 239.4 1058 239.7 1061.1 245.8 1062.6 240.7 1064.1 236.4 1065.7 232 1068.7 242.7 1070.3 238.6 1071.8 235.4 1073.3 230.4 1074.9 232.6 1076.4 239.1 1077.9 239.7 1079.5 237.5 1081 233.9 1082.5 230.4 1084.1 231.2 1085.6 228.5 1087.2 227.4 1088.7 233.8 1090.2 235.4 1091.8 239.7 1093.8 243.5 1095.9 241.8 1097.9 245.8 1099.8 249.3 1101.7 250.6 1103.7 248.2 1105.6 250.4 1107.1 246.7 1108.6 244.7 1110.2 239.7 1111.7 239.2 1113.2 243.5 1114.8 242.7 1116.3 241.7 1117.9 241.9 1119.4 239.7 1120.9 238.2 1122.5 238.1 1124 239.7 1127.1 253.5 1128.6 252.6 1130.1 257.3 1131.7 258.1 1133.2 253.1 1134.7 248.6 1136.3 242.7 1139.3 235.1 1142.4 236.6 1144 239.2 1145.5 243.4 1147 248.9 1148.6 253.8 1150.1 258.3 1151.6 264.2 1153.2 258 1154.7 257.8 1156.2 251.9 1157.8 251.1 1159.3 248.3 1160.8 242.7 1162.4 243.8 1163.9 239.6 1165.4 239.7 1168.5 247.3 1171.6 239.7 1173.1 243.8 1174.7 246.7 1176.2 248.9 1178.2 249.9 1180.3 248.6 1182.3 250.4 1184.3 256.7 1186.3 262.7 1188.2 256.4 1190 255 1191.5 253.1 1193.1 246.3 1194.6 245.8 1196.1 248.6 1197.7 252.1 1199.2 251.9 1201.1 253.7 1202.9 258.1 1204.9 251.4 1206.9 247.3 1208.4 244.7 1210 244.4 1211.5 239.7 1213.5 240.3 1215.6 243.7 1217.6 247.3 1219.7 245.1 1221.7 244.1 1223.8 245.8 1225.8 246.4 1227.9 251.5 1229.9 251.9 1231.8 253 1233.6 255 1235.6 259.2 1237.6 264.2 1239.1 260.4 1240.7 252.4 1242.2 247.3 1244.6 251.9 1246.1 252.5 1247.7 248.8 1249.2 247.3 1250.7 246.9 1252.3 251.9 1253.8 251.9 1255.4 249 1256.9 252.3 1258.4 248.9 1260.5 253.2 1262.5 253.3 1264.6 258.1 1266.6 257.1 1268.7 256.4 1270.7 258.1 1272.7 262.2 1274.8 262.4 1276.8 265.8 1279.9 261.1 1281.8 265.1 1283.6 268.7 1285.4 271.9 1287.3 268.5 1289.1 262.7 1291.2 265.8 1293.2 263.3 1295.3 265.8 1296.8 265.9 1298.3 266.1 1299.9 262.7 1301.4 260.1 1302.9 261.3 1304.5 259.6 1306 262.8 1307.5 263.1 1309.1 267.3 1310.6 269.1 1312.2 268.8 1313.7 265.8 1315.7 269 1317.8 270.7 1319.8 271.9 1321.4 271.6 1322.9 268.6 1324.4 265.8 1326 267.7 1327.5 270 1329 270.4 1331.1 274.2 1333.1 275.5 1335.2 281.1 1337.2 279.3 1339.3 282 1341.3 279.6 1342.9 275.7 1344.4 273.8 1345.9 273.4 1347.5 275.9 1349 276.6 1350.5 276.5 1352.1 272.1 1353.6 272.3 1355.1 270.4 1356.7 270.5 1358.2 266.4 1359.7 267.3 1362.8 278 1365.9 271.9 1367.4 275.7 1369 273 1370.5 276.5 1372.5 273.2 1374.6 270.2 1376.6 268.8 1378.2 272 1379.7 272.5 1381.2 278 1383.3 276.9 1385.3 276.2 1387.4 273.4 1389.4 268.7 1391.4 261.1 1393.2 267.4 1395.1 275 1398.1 273.4 1401.2 288.8 1402.7 289.6 1404.3 287 1405.8 284.2 1407.6 287.1 1409.5 293.4 1411.5 278.1 1413.5 265.8 1416.5 276.5 1418.5 271.5 1420.5 262.7 1422.4 261.2 1424.2 264.2 1426.1 263.6 1427.9 264.2 1429.9 272.6 1431.9 282.6 1433.4 275.8 1435 268.2 1436.5 264.2 1438 258.5 1439.6 254.4 1441.1 251.9 1444.2 261.1 1447.2 279.6 1448.8 283.1 1450.3 284.3 1451.9 288.8 1454.9 291.9 1456.8 280.9 1458.6 270.4 1461.7 256.5" fill="none" stroke="#ff7f0e" stroke-width="2.1" stroke-linejoin="round"/>
</g>
<path d="M115.5 38.5H1462.5V518.5H115.5Z" fill="none" stroke="#000" stroke-width="1.1" stroke-linejoin="miter"/>
<path d="M115.8 518.5v4.9M284.2 518.5v4.9M452.6 518.5v4.9M621.0 518.5v4.9M789.4 518.5v4.9M957.8 518.5v4.9M1126.2 518.5v4.9M1294.6 518.5v4.9M115.5 137.2h-4.9M115.5 241.8h-4.9M115.5 346.5h-4.9M115.5 451.2h-4.9" fill="none" stroke="#000" stroke-width="1.1"/>
<rect x="1047.5" y="48.7" width="406.1" height="79.8" rx="2.8" ry="2.8" fill="#fff" fill-opacity="0.8" stroke="#ccc" stroke-opacity="0.8" stroke-width="1.1"/>
<circle cx="1073.3" cy="63.5" r="2.9" fill="#1f77b4"/>
<path d="M1054.3 101.7H1090.8" stroke="#ff7f0e" stroke-width="2.1" stroke-linecap="square" fill="none"/>
<g style="font-family:&quot;Liberation Sans&quot;,sans-serif;font-weight:bold;stroke:#000;stroke-width:0.45px" fill="#000">
<text x="1106.4" y="69.0" font-size="19.1" textLength="98.5" lengthAdjust="spacingAndGlyphs">Raw Data</text>
<text x="1106.4" y="95.9" font-size="19.1" textLength="270.5" lengthAdjust="spacingAndGlyphs">Butterworth Filtered Data</text>
<text x="1106.4" y="116.7" font-size="19.1" textLength="340.0" lengthAdjust="spacingAndGlyphs">(N=6, Tc=3.3333 min, Type: low)</text>
</g>
<rect x="810.3" y="575.3" width="517.5" height="479.4" fill="#e8e8e8" stroke="#dedede" stroke-width="1.1"/>
<g stroke="#b0b0b0" stroke-width="1.1" stroke-dasharray="1.1 1.83" fill="none">
<path d="M284.2 1054.7V575.3M452.6 1054.7V575.3M621.0 1054.7V575.3M789.4 1054.7V575.3M957.8 1054.7V575.3M1126.2 1054.7V575.3M1294.6 1054.7V575.3M115.5 1034.1H1462.5M115.5 962.8H1462.5M115.5 891.5H1462.5M115.5 820.3H1462.5M115.5 749.0H1462.5M115.5 677.7H1462.5M115.5 606.4H1462.5"/></g>
<g clip-path="url(#cb)">
<path d="M115.5 920.9 116.5 920.1 117.5 920.9 118.5 922 119.5 921.4 120.5 922.1 121.5 919.2 122.5 918.5 123.5 921.3 124.5 926.1 125.5 933.9 126.5 945.9 127.5 961.6 128.5 978.5 129.5 997.6 130.5 1008.7 131.5 1016.4 132.5 1020 133.5 1023.9 134.5 1023.1 135.5 1022.3 136.5 1021.4 137.5 1020.8 138.5 1020.1 139.5 1022.1 140.5 1020.2 141.5 1021.7 142.5 1025.1 143.5 1025.7 144.5 1025.8 145.5 1023.9 146.5 1024.4 147.5 1026.3 148.5 1024.1 149.5 1025.8 150.5 1025 151.5 1025.1 152.5 1025.4 153.5 1026.3 154.5 1026.9 155.5 1026.3 156.5 1025.8 157.5 1026.4 158.5 1024.2 159.5 1025.2 160.5 1026.8 161.5 1024.9 162.5 1024.1 163.5 1025.8 164.5 1024.5 165.5 1026.5 166.5 1024.5 167.5 1025.8 168.5 1026.3 169.5 1023.9 170.5 1026.6 171.5 1025 172.5 1025.3 173.5 1024.8 174.5 1023.7 175.5 1026.4 176.5 1024.1 177.5 1025 178.5 1024.7 179.5 1025 180.5 1025.1 181.5 1026.5 182.5 1024 183.5 1024.6 184.5 1026 185.5 1025.6 186.5 1025.8 187.5 1024.7 188.5 1024.5 189.5 1024.2 190.5 1024.2 191.5 1023.4 192.5 1025.4 193.5 1024 194.5 1024.1 195.5 1023.6 196.5 1024.7 197.5 1022.9 198.5 1022.8 199.5 1021.8 200.5 1023.2 201.5 1021.9 202.5 1023.2 203.5 1023.6 204.5 1022.5 205.5 1025.5 206.5 1025.1 207.5 1024.6 208.5 1022.8 209.5 1024.7 210.5 1024.9 211.5 1024.4 212.5 1023.4 213.5 1023.5 214.5 1021.3 215.5 1022.1 216.5 1020.1 217.5 1019.6 218.5 1020.8 219.5 1018.7 220.5 1019 221.5 1021.6 222.5 1023 223.5 1022.7 224.5 1023.1 225.5 1021.7 226.5 1022.9 227.5 1024 228.5 1022.3 229.5 1022.2 230.5 1020.6 231.5 1020.5 232.5 1022.9 233.5 1021.1 234.5 1023.9 235.5 1024.5 236.5 1023.1 237.5 1026.4 238.5 1023.8 239.5 1026.1 240.5 1025.3 241.5 1022.2 242.5 1023.7 243.5 1022 244.5 1020.5 245.5 1020.4 246.5 1019.8 247.5 1021.1 248.5 1020.2 249.5 1021.9 250.5 1022 251.5 1021 252.5 1020.3 253.5 1022 254.5 1021.5 255.5 1019.7 256.5 1019.9 257.5 1020 258.5 1019.9 259.5 1019.8 260.5 1023.1 261.5 1022.8 262.5 1023 263.5 1022.9 264.5 1023.3 265.5 1022.3 266.5 1023 267.5 1023.6 268.5 1025 269.5 1023.5 270.5 1024.9 271.5 1023 272.5 1024.7 273.5 1022.8 274.5 1023.9 275.5 1022.7 276.5 1023.3 277.5 1025 278.5 1024.5 279.5 1024.9 280.5 1024.2 281.5 1023.4 282.5 1022.5 283.5 1024.1 284.5 1022 285.5 1021.9 286.5 1022.5 287.5 1021.1 288.5 1022.3 289.5 1019.7 290.5 1020.1 291.5 1020.8 292.5 1021.4 293.5 1021.1 294.5 1021.2 295.5 1023.1 296.5 1025.9 297.5 1024.3 298.5 1023.2 299.5 1022.2 300.5 1020.5 301.5 1020.3 302.5 1020.7 303.5 1019.4 304.5 1018.3 305.5 1018.8 306.5 1020.3 307.5 1020.1 308.5 1018.8 309.5 1019.8 310.5 1018 311.5 1019.1 312.5 1018.3 313.5 1018.6 314.5 1021.8 315.5 1019.8 316.5 1021.1 317.5 1021.6 318.5 1019.8 319.5 1020.9 320.5 1021.7 321.5 1020.5 322.5 1021.3 323.5 1021 324.5 1019.9 325.5 1020 326.5 1022.2 327.5 1021.2 328.5 1023.1 329.5 1021.1 330.5 1021.6 331.5 1021.6 332.5 1023.2 333.5 1021.9 334.5 1021.2 335.5 1023.7 336.5 1023.3 337.5 1023 338.5 1022 339.5 1023.2 340.5 1024 341.5 1024.4 342.5 1024 343.5 1025.3 344.5 1023 345.5 1023.9 346.5 1024.8 347.5 1023.6 348.5 1023 349.5 1024.2 350.5 1025 351.5 1024.6 352.5 1024.9 353.5 1022.7 354.5 1024.9 355.5 1024.5 356.5 1024.2 357.5 1025 358.5 1022.8 359.5 1023.8 360.5 1024.6 361.5 1025 362.5 1023.5 363.5 1022.3 364.5 1023.7 365.5 1023.8 366.5 1022.6 367.5 1024.5 368.5 1022.9 369.5 1022.8 370.5 1023.7 371.5 1021.7 372.5 1021.2 373.5 1021.9 374.5 1023.4 375.5 1023.2 376.5 1023.6 377.5 1022.7 378.5 1022.2 379.5 1023.1 380.5 1023.4 381.5 1022.7 382.5 1024.1 383.5 1024.5 384.5 1023.4 385.5 1024.3 386.5 1022.5 387.5 1023.6 388.5 1021.3 389.5 1022.6 390.5 1021 391.5 1022.2 392.5 1022.3 393.5 1020.2 394.5 1019.2 395.5 1019.9 396.5 1017.9 397.5 1020.4 398.5 1019.5 399.5 1022 400.5 1023.1 401.5 1023 402.5 1024.3 403.5 1025.8 404.5 1025.6 405.5 1022.9 406.5 1022.8 407.5 1023.5 408.5 1021.7 409.5 1021.3 410.5 1019.5 411.5 1018.2 412.5 1016.8 413.5 1014.2 414.5 1013 415.5 1009.7 416.5 1005.9 417.5 1000.5 418.5 993.1 419.5 988.1 420.5 980.9 421.5 975.6 422.5 973.4 423.5 972 424.5 977.5 425.5 982.9 426.5 989.2 427.5 996.5 428.5 1006.5 429.5 1010.3 430.5 1012.6 431.5 1015.8 432.5 1016.2 433.5 1017.7 434.5 1016.4 435.5 1014.8 436.5 1013.7 437.5 1009.3 438.5 1009.4 439.5 1007.9 440.5 1006.2 441.5 1006 442.5 1007.9 443.5 1006.9 444.5 1003.1 445.5 1003.3 446.5 1003.3 447.5 1004.1 448.5 1006 449.5 1008 450.5 1009.7 451.5 1012.8 452.5 1011.2 453.5 1010.4 454.5 1006.4 455.5 1005.3 456.5 1003.1 457.5 1002.6 458.5 1004.6 459.5 1004.9 460.5 1006.8 461.5 1010.9 462.5 1011.8 463.5 1013.2 464.5 1016.9 465.5 1022.1 466.5 1022.8 467.5 1023.2 468.5 1023.1 469.5 1023.3 470.5 1024.9 471.5 1023.4 472.5 1025.4 473.5 1024.4 474.5 1024.6 475.5 1025.6 476.5 1024.3 477.5 1025.1 478.5 1025.7 479.5 1024.7 480.5 1025.6 481.5 1024.3 482.5 1024.6 483.5 1025.7 484.5 1024.2 485.5 1025.6 486.5 1025.5 487.5 1024.9 488.5 1023 489.5 1023.2 490.5 1024 491.5 1023.5 492.5 1022.3 493.5 1023.9 494.5 1022 495.5 1023.4 496.5 1021.7 497.5 1020.9 498.5 1023.2 499.5 1020.4 500.5 1020.2 501.5 1019.5 502.5 1019 503.5 1020 504.5 1018.1 505.5 1017.7 506.5 1018.9 507.5 1018.3 508.5 1018.1 509.5 1016.7 510.5 1014.4 511.5 1011 512.5 1007.4 513.5 1002.9 514.5 996.7 515.5 991.9 516.5 985.2 517.5 982.5 518.5 977 519.5 970.6 520.5 967.8 521.5 964 522.5 960.8 523.5 958.6 524.5 954.6 525.5 951.3 526.5 942.5 527.5 934.1 528.5 926.2 529.5 916.8 530.5 908.6 531.5 904.5 532.5 897.7 533.5 894.2 534.5 889.9 535.5 886.9 536.5 881.3 537.5 876.8 538.5 872.9 539.5 867.5 540.5 865.3 541.5 859.3 542.5 857.4 543.5 852.4 544.5 847.1 545.5 844.7 546.5 840.9 547.5 836.4 548.5 836.1 549.5 837.1 550.5 839.7 551.5 840.6 552.5 845.9 553.5 849 554.5 854.6 555.5 858.6 556.5 863.6 557.5 869.4 558.5 873.1 559.5 880.5 560.5 891.1 561.5 902.5 562.5 915.7 563.5 930.3 564.5 944.4 565.5 954.9 566.5 960.7 567.5 959.1 568.5 952.6 569.5 945.3 570.5 933.1 571.5 920.7 572.5 911.1 573.5 902.4 574.5 895.1 575.5 889.7 576.5 887.8 577.5 885.7 578.5 888 579.5 894 580.5 893 581.5 892.6 582.5 891.9 583.5 884.7 584.5 879.9 585.5 878.6 586.5 881.6 587.5 887.6 588.5 898.1 589.5 909.2 590.5 921.9 591.5 931.9 592.5 936.1 593.5 927 594.5 917.7 595.5 908 596.5 901.8 597.5 900.6 598.5 906.7 599.5 913.8 600.5 917.5 601.5 918.8 602.5 916.8 603.5 916.2 604.5 911.6 605.5 908.3 606.5 902.2 607.5 895.8 608.5 891.4 609.5 890.6 610.5 894.2 611.5 898.9 612.5 904.5 613.5 907.5 614.5 907.7 615.5 906.2 616.5 905.6 617.5 903.1 618.5 899.5 619.5 899.4 620.5 902.1 621.5 901.8 622.5 905.2 623.5 906.7 624.5 909.5 625.5 914.5 626.5 923.1 627.5 932.6 628.5 931.9 629.5 928.3 630.5 922.7 631.5 906.9 632.5 893.7 633.5 884.6 634.5 881 635.5 883 636.5 884.3 637.5 889.7 638.5 891.2 639.5 893.5 640.5 895.5 641.5 900.8 642.5 912.6 643.5 925.6 644.5 941.6 645.5 956 646.5 970.3 647.5 973 648.5 976.6 649.5 978.7 650.5 977.3 651.5 977 652.5 977.4 653.5 980.7 654.5 979 655.5 980.9 656.5 981.8 657.5 980.5 658.5 981 659.5 982.9 660.5 981.7 661.5 980.7 662.5 978.7 663.5 979.4 664.5 976.7 665.5 975.1 666.5 975.5 667.5 974.9 668.5 973.6 669.5 973.9 670.5 974.1 671.5 973.8 672.5 970.7 673.5 967.1 674.5 958.4 675.5 947.3 676.5 932.8 677.5 910.1 678.5 888.9 679.5 868 680.5 850.5 681.5 834.6 682.5 831.9 683.5 830.9 684.5 835.9 685.5 844 686.5 851.9 687.5 863 688.5 874.1 689.5 887.8 690.5 906 691.5 922 692.5 940.5 693.5 954.2 694.5 965.7 695.5 972.2 696.5 978.2 697.5 979.2 698.5 977.7 699.5 978 700.5 976.9 701.5 971.7 702.5 965.5 703.5 957.5 704.5 947.6 705.5 936.1 706.5 925.8 707.5 919.6 708.5 915.3 709.5 910.6 710.5 910.4 711.5 912.1 712.5 916.6 713.5 919.9 714.5 927 715.5 932.1 716.5 937.4 717.5 940.4 718.5 944.7 719.5 952 720.5 955.1 721.5 961.9 722.5 968.9 723.5 970 724.5 970.4 725.5 967.8 726.5 968.5 727.5 968.5 728.5 973.9 729.5 980.4 730.5 987.3 731.5 991 732.5 989.3 733.5 991.1 734.5 991.6 735.5 991.6 736.5 996.6 737.5 1001 738.5 1002.8 739.5 1005 740.5 1007.3 741.5 1006.1 742.5 1008.6 743.5 1009.9 744.5 1011.5 745.5 1010.6 746.5 1013.9 747.5 1016 748.5 1016.8 749.5 1016.3 750.5 1017.4 751.5 1015.9 752.5 1010.6 753.5 1001.4 754.5 989.9 755.5 980.3 756.5 975 757.5 974.2 758.5 977.5 759.5 983.2 760.5 991.5 761.5 997 762.5 1005.7 763.5 1009 764.5 1009.8 765.5 1010.3 766.5 1007.7 767.5 1004.2 768.5 1002.7 769.5 1005.7 770.5 1006.1 771.5 1007.3 772.5 1009.3 773.5 1010.7 774.5 1009.2 775.5 1005.9 776.5 1005.6 777.5 1007.3 778.5 1008.9 779.5 1010.4 780.5 1013.6 781.5 1012.2 782.5 1013.7 783.5 1014.7 784.5 1012.9 785.5 1015.3 786.5 1016 787.5 1015.9 788.5 1017.6 789.5 1016.1 790.5 1017 791.5 1014.9 792.5 1010.2 793.5 1005.6 794.5 997 795.5 983.6 796.5 974.7 797.5 966 798.5 964.3 799.5 965.1 800.5 969.4 801.5 972 802.5 979.2 803.5 988.8 804.5 996.8 805.5 1003.1 806.5 1010.2 807.5 1012.5 808.5 1012.6 809.5 1012.3 810.5 1011.5 811.5 1010.5 812.5 1011.3 813.5 1011.8 814.5 1008.7 815.5 1007.2 816.5 1004.2 817.5 998.7 818.5 995 819.5 992.9 820.5 990.6 821.5 988.2 822.5 987.3 823.5 989.2 824.5 986.8 825.5 986.5 826.5 985.1 827.5 983.8 828.5 982.6 829.5 979.6 830.5 982 831.5 985.4 832.5 990.9 833.5 998.7 834.5 1004.2 835.5 1007.3 836.5 999.7 837.5 988.4 838.5 971.6 839.5 955.2 840.5 943.1 841.5 934 842.5 930.7 843.5 925.7 844.5 924.9 845.5 923.5 846.5 927 847.5 933 848.5 944.6 849.5 955.3 850.5 965.8 851.5 974.7 852.5 980.6 853.5 980.9 854.5 983.3 855.5 983.7 856.5 986 857.5 984.3 858.5 985.4 859.5 983.4 860.5 980.8 861.5 977.9 862.5 970.5 863.5 962.2 864.5 951.7 865.5 941.9 866.5 932.5 867.5 924.6 868.5 922.8 869.5 924.9 870.5 928.4 871.5 932.7 872.5 933 873.5 929.3 874.5 923.3 875.5 916.5 876.5 905.6 877.5 895 878.5 887.4 879.5 883.3 880.5 878.9 881.5 884 882.5 890.6 883.5 902.7 884.5 915.3 885.5 926.8 886.5 935.9 887.5 940.8 888.5 944.2 889.5 947.4 890.5 951.5 891.5 952.6 892.5 956.7 893.5 959.9 894.5 963.6 895.5 966 896.5 967.5 897.5 967.4 898.5 964.6 899.5 957.2 900.5 947 901.5 934.8 902.5 918.5 903.5 903.3 904.5 896.6 905.5 892.5 906.5 895.1 907.5 902.8 908.5 917.2 909.5 929.1 910.5 940.3 911.5 951.7 912.5 960.1 913.5 965 914.5 963.5 915.5 960.3 916.5 955.7 917.5 947.5 918.5 936.1 919.5 927.7 920.5 916.4 921.5 910.9 922.5 913.8 923.5 920.8 924.5 930.7 925.5 945.3 926.5 958 927.5 964.1 928.5 971.1 929.5 974.6 930.5 973.4 931.5 974.8 932.5 972.2 933.5 969.8 934.5 967.8 935.5 967 936.5 969.9 937.5 969.3 938.5 972 939.5 973.8 940.5 972.3 941.5 971.8 942.5 971 943.5 970.7 944.5 973.2 945.5 973.6 946.5 974.7 947.5 975.3 948.5 974.7 949.5 972.3 950.5 970.2 951.5 969.9 952.5 970.8 953.5 970.9 954.5 968.6 955.5 964.6 956.5 962.5 957.5 957.5 958.5 950.7 959.5 948.1 960.5 946.4 961.5 944.9 962.5 944.4 963.5 940.8 964.5 940.8 965.5 940.9 966.5 941.2 967.5 942 968.5 941 969.5 941.6 970.5 942.3 971.5 945.5 972.5 947.5 973.5 948.2 974.5 949 975.5 949.4 976.5 954.3 977.5 957.7 978.5 960.5 979.5 966.1 980.5 969.1 981.5 970.5 982.5 970.4 983.5 968 984.5 961.6 985.5 955.6 986.5 950.1 987.5 945 988.5 940.6 989.5 938.5 990.5 935.5 991.5 934.2 992.5 934.6 993.5 936.6 994.5 936.5 995.5 938.3 996.5 940.8 997.5 943.1 998.5 948.7 999.5 951.5 1000.5 954.7 1001.5 955.8 1002.5 952 1003.5 950.1 1004.5 944.5 1005.5 940.1 1006.5 931 1007.5 926.1 1008.5 917.7 1009.5 914.2 1010.5 912.5 1011.5 911.1 1012.5 910.9 1013.5 907.9 1014.5 907.6 1015.5 910.6 1016.5 914.2 1017.5 918.5 1018.5 923.4 1019.5 931.6 1020.5 938.4 1021.5 945.8 1022.5 947.5 1023.5 948.6 1024.5 945.7 1025.5 942.9 1026.5 940.4 1027.5 937.2 1028.5 936.4 1029.5 934.8 1030.5 935.7 1031.5 941.2 1032.5 947.2 1033.5 951.6 1034.5 952.5 1035.5 953.8 1036.5 953.3 1037.5 953.8 1038.5 949.9 1039.5 947.2 1040.5 945.2 1041.5 944.5 1042.5 939.9 1043.5 939.3 1044.5 938.7 1045.5 936.3 1046.5 935.2 1047.5 936.2 1048.5 934.3 1049.5 934.6 1050.5 934.4 1051.5 935.6 1052.5 935.8 1053.5 934.1 1054.5 934.1 1055.5 936.6 1056.5 935.2 1057.5 936.5 1058.5 937.9 1059.5 942.7 1060.5 944.9 1061.5 944.8 1062.5 947.6 1063.5 950.2 1064.5 953.5 1065.5 955.3 1066.5 955.2 1067.5 956.7 1068.5 957.8 1069.5 957.2 1070.5 960.7 1071.5 959.6 1072.5 961 1073.5 961.9 1074.5 964.8 1075.5 965.2 1076.5 968.1 1077.5 967.4 1078.5 968 1079.5 969.8 1080.5 970 1081.5 967.8 1082.5 968.2 1083.5 967.6 1084.5 966 1085.5 968.6 1086.5 969 1087.5 969.2 1088.5 967.2 1089.5 965.2 1090.5 964.3 1091.5 962.7 1092.5 964.3 1093.5 969.3 1094.5 972.9 1095.5 976.1 1096.5 979.8 1097.5 976.4 1098.5 975.1 1099.5 973.1 1100.5 970.4 1101.5 971.2 1102.5 972.8 1103.5 974.3 1104.5 975.2 1105.5 976.2 1106.5 979.5 1107.5 980.7 1108.5 980.1 1109.5 980.3 1110.5 982.1 1111.5 983.3 1112.5 986.2 1113.5 984.8 1114.5 986.6 1115.5 986.1 1116.5 986.8 1117.5 986.9 1118.5 986.6 1119.5 984.7 1120.5 982.9 1121.5 977.9 1122.5 976.2 1123.5 975.8 1124.5 971.5 1125.5 970.9 1126.5 972.4 1127.5 972.9 1128.5 971.4 1129.5 975.9 1130.5 977.9 1131.5 980.2 1132.5 979.7 1133.5 980.1 1134.5 983 1135.5 984 1136.5 981.9 1137.5 984.8 1138.5 986 1139.5 987.7 1140.5 987.9 1141.5 988.1 1142.5 991 1143.5 994.2 1144.5 995 1145.5 994.3 1146.5 996.5 1147.5 997.5 1148.5 994.1 1149.5 992.5 1150.5 992 1151.5 989.3 1152.5 986.7 1153.5 984.3 1154.5 981.1 1155.5 980.9 1156.5 980 1157.5 979.3 1158.5 976.5 1159.5 977.5 1160.5 977.2 1161.5 976.2 1162.5 977.2 1163.5 978.6 1164.5 977.9 1165.5 978.2 1166.5 981.1 1167.5 979.9 1168.5 982.1 1169.5 980.1 1170.5 977 1171.5 975.5 1172.5 977.6 1173.5 979.8 1174.5 982.5 1175.5 984 1176.5 989.2 1177.5 989.1 1178.5 990.2 1179.5 992.1 1180.5 993.9 1181.5 995.6 1182.5 994 1183.5 994.6 1184.5 991.4 1185.5 988.1 1186.5 986.5 1187.5 982.3 1188.5 980.6 1189.5 977.9 1190.5 976.3 1191.5 972.9 1192.5 973.2 1193.5 973.8 1194.5 972.8 1195.5 975.3 1196.5 975.3 1197.5 977.7 1198.5 978.8 1199.5 978.1 1200.5 978.3 1201.5 978.4 1202.5 978.5 1203.5 978 1204.5 978 1205.5 975.7 1206.5 975.7 1207.5 974.3 1208.5 973.9 1209.5 973.8 1210.5 976.8 1211.5 978.7 1212.5 982.9 1213.5 985.1 1214.5 983.4 1215.5 982.1 1216.5 979.1 1217.5 974.8 1218.5 971.5 1219.5 967.9 1220.5 968.9 1221.5 967.6 1222.5 966.9 1223.5 968.2 1224.5 968.3 1225.5 968.6 1226.5 968.8 1227.5 970.3 1228.5 970.3 1229.5 971.3 1230.5 970.8 1231.5 969.7 1232.5 967.9 1233.5 966.8 1234.5 968.7 1235.5 967.6 1236.5 970.7 1237.5 971.2 1238.5 974.7 1239.5 977 1240.5 976.7 1241.5 976.5 1242.5 976.1 1243.5 971.3 1244.5 967.9 1245.5 964.1 1246.5 960.5 1247.5 958.8 1248.5 957.6 1249.5 956.4 1250.5 953.5 1251.5 956.6 1252.5 956 1253.5 960.4 1254.5 961.7 1255.5 965 1256.5 965.3 1257.5 962.5 1258.5 959.7 1259.5 958.2 1260.5 958 1261.5 961.1 1262.5 962.4 1263.5 964.3 1264.5 963.1 1265.5 958.3 1266.5 948.5 1267.5 944 1268.5 938 1269.5 938 1270.5 942.3 1271.5 948.3 1272.5 954.4 1273.5 961.5 1274.5 965.7 1275.5 967.6 1276.5 967.5 1277.5 969.6 1278.5 970.1 1279.5 969.4 1280.5 971.2 1281.5 972 1282.5 972.2 1283.5 970.8 1284.5 970.3 1285.5 969.3 1286.5 969.1 1287.5 968.5 1288.5 967.5 1289.5 970.3 1290.5 972.2 1291.5 973.4 1292.5 970.9 1293.5 970.5 1294.5 968.7 1295.5 970.4 1296.5 969.6 1297.5 970.3 1298.5 971.1 1299.5 971.8 1300.5 973.1 1301.5 971 1302.5 971.3 1303.5 968.8 1304.5 967.2 1305.5 966.1 1306.5 964.3 1307.5 965.9 1308.5 966.6 1309.5 966.5 1310.5 969.4 1311.5 969 1312.5 972.2 1313.5 972.5 1314.5 973.2 1315.5 974.1 1316.5 971.8 1317.5 970.9 1318.5 964.9 1319.5 960.9 1320.5 954.4 1321.5 951.3 1322.5 948.4 1323.5 950 1324.5 953.1 1325.5 957.4 1326.5 966.1 1327.5 971 1328.5 976.1 1329.5 982.1 1330.5 985.5 1331.5 990.4 1332.5 990 1333.5 987.5 1334.5 980.4 1335.5 970.5 1336.5 959.2 1337.5 951.1 1338.5 941.6 1339.5 935.2 1340.5 934.8 1341.5 931.8 1342.5 930.4 1343.5 932.7 1344.5 935.7 1345.5 938.1 1346.5 945.1 1347.5 949.9 1348.5 955.2 1349.5 957.9 1350.5 960.7 1351.5 962.7 1352.5 964.1 1353.5 964.9 1354.5 968.8 1355.5 971.1 1356.5 975 1357.5 975.1 1358.5 976.1 1359.5 976.8 1360.5 976.8 1361.5 976.1 1362.5 972.7 1363.5 971.3 1364.5 968.1 1365.5 964.5 1366.5 960.7 1367.5 951.5 1368.5 947.8 1369.5 937.6 1370.5 931.4 1371.5 931 1372.5 932.7 1373.5 938.6 1374.5 945.4 1375.5 949.4 1376.5 957.4 1377.5 958.2 1378.5 955.9 1379.5 954 1380.5 951.4 1381.5 952.4 1382.5 952.8 1383.5 954.5 1384.5 956.2 1385.5 958.6 1386.5 955.3 1387.5 955.3 1388.5 952.7 1389.5 953.4 1390.5 956.5 1391.5 959.6 1392.5 966 1393.5 972.4 1394.5 977.8 1395.5 982.7 1396.5 984.7 1397.5 983 1398.5 979.9 1399.5 971.6 1400.5 966.6 1401.5 962.1 1402.5 963.2 1403.5 963.4 1404.5 967.4 1405.5 967.8 1406.5 967.6 1407.5 964.1 1408.5 959.7 1409.5 952.9 1410.5 944.6 1411.5 939.2 1412.5 937.7 1413.5 936.3 1414.5 939.9 1415.5 941.6 1416.5 946.7 1417.5 947.9 1418.5 950.9 1419.5 948.5 1420.5 948.2 1421.5 945.7 1422.5 942.9 1423.5 941.3 1424.5 939.3 1425.5 937.8 1426.5 939.9 1427.5 938.3 1428.5 938.8 1429.5 938.3 1430.5 929.8 1431.5 913.5 1432.5 900.5 1433.5 881 1434.5 867.1 1435.5 857.1 1436.5 859.8 1437.5 864.3 1438.5 869.2 1439.5 874.1 1440.5 879.5 1441.5 886 1442.5 889.3 1443.5 889.9 1444.5 889.2 1445.5 885.9 1446.5 881.1 1447.5 880.4 1448.5 880.9 1449.5 883.5 1450.5 890.1 1451.5 898.4 1452.5 906.3 1453.5 916.6 1454.5 929.3 1455.5 941.8 1456.5 949.6 1457.5 956.9 1458.5 966.2 1459.5 973.5 1460.5 981.5 1461.5 987 1462.5 992L1462.5 1019.2 1461.5 1018.4 1460.5 1018.8 1459.5 1015.3 1458.5 1013.2 1457.5 1010.3 1456.5 1008.2 1455.5 1004.6 1454.5 1001 1453.5 997.6 1452.5 992.4 1451.5 991.8 1450.5 992.8 1449.5 992.4 1448.5 991.6 1447.5 992.2 1446.5 991.5 1445.5 994.9 1444.5 996.2 1443.5 997.2 1442.5 1000.2 1441.5 1001.1 1440.5 999.2 1439.5 995.7 1438.5 994.5 1437.5 991.5 1436.5 990 1435.5 988.6 1434.5 994.6 1433.5 999.8 1432.5 1006.6 1431.5 1008.8 1430.5 1008.3 1429.5 1010.1 1428.5 1009.8 1427.5 1009.4 1426.5 1008.8 1425.5 1009.6 1424.5 1010.7 1423.5 1010.6 1422.5 1010.3 1421.5 1010.2 1420.5 1010.3 1419.5 1011.4 1418.5 1009.7 1417.5 1010 1416.5 1010.2 1415.5 1010.1 1414.5 1011.2 1413.5 1011.2 1412.5 1012.1 1411.5 1012.5 1410.5 1012.7 1409.5 1014 1408.5 1014 1407.5 1014.1 1406.5 1016.3 1405.5 1016.1 1404.5 1016.2 1403.5 1017 1402.5 1017.9 1401.5 1019.5 1400.5 1020.6 1399.5 1020.1 1398.5 1021.1 1397.5 1020 1396.5 1020.5 1395.5 1018 1394.5 1018.4 1393.5 1016.8 1392.5 1017.5 1391.5 1016.5 1390.5 1015.9 1389.5 1015 1388.5 1014.2 1387.5 1013.5 1386.5 1013.8 1385.5 1015 1384.5 1014.5 1383.5 1013.8 1382.5 1015.6 1381.5 1014.8 1380.5 1015 1379.5 1015.6 1378.5 1015.8 1377.5 1015.5 1376.5 1014.6 1375.5 1014 1374.5 1012.1 1373.5 1011.7 1372.5 1010.3 1371.5 1009 1370.5 1006.3 1369.5 1009.4 1368.5 1015.6 1367.5 1016.7 1366.5 1020.3 1365.5 1020.4 1364.5 1021.9 1363.5 1021.6 1362.5 1021.9 1361.5 1020.9 1360.5 1021.9 1359.5 1020.1 1358.5 1020.1 1357.5 1022 1356.5 1021.9 1355.5 1021.2 1354.5 1021.3 1353.5 1022.3 1352.5 1022.3 1351.5 1022.1 1350.5 1022 1349.5 1022.2 1348.5 1022.6 1347.5 1022.7 1346.5 1021.2 1345.5 1021.6 1344.5 1022.4 1343.5 1022.5 1342.5 1021.8 1341.5 1022 1340.5 1023.8 1339.5 1023 1338.5 1024.3 1337.5 1024.3 1336.5 1025 1335.5 1024.9 1334.5 1024.6 1333.5 1025.2 1332.5 1025.3 1331.5 1026.5 1330.5 1026.9 1329.5 1027.2 1328.5 1025.7 1327.5 1026.9 1326.5 1025.2 1325.5 1025 1324.5 1025.7 1323.5 1024 1322.5 1025.2 1321.5 1023.3 1320.5 1022.6 1319.5 1023.7 1318.5 1023.5 1317.5 1022 1316.5 1021.8 1315.5 1021.1 1314.5 1021.7 1313.5 1021.5 1312.5 1020.4 1311.5 1020.8 1310.5 1022.4 1309.5 1021.5 1308.5 1021.3 1307.5 1022.2 1306.5 1021.8 1305.5 1021.4 1304.5 1023.5 1303.5 1022.2 1302.5 1023.8 1301.5 1023 1300.5 1023.6 1299.5 1024.2 1298.5 1023.9 1297.5 1023.9 1296.5 1022.4 1295.5 1022.7 1294.5 1022.8 1293.5 1023.4 1292.5 1022.8 1291.5 1023 1290.5 1021.6 1289.5 1021.8 1288.5 1022.9 1287.5 1023.1 1286.5 1021.9 1285.5 1021.4 1284.5 1022.7 1283.5 1022.5 1282.5 1022.2 1281.5 1020.8 1280.5 1021.1 1279.5 1020.4 1278.5 1020.2 1277.5 1021.2 1276.5 1020.2 1275.5 1022.1 1274.5 1021.5 1273.5 1021.6 1272.5 1021.9 1271.5 1021.8 1270.5 1021.2 1269.5 1022.3 1268.5 1022 1267.5 1021.7 1266.5 1021.3 1265.5 1021.6 1264.5 1022.3 1263.5 1022.7 1262.5 1022.7 1261.5 1021.6 1260.5 1021.6 1259.5 1021.8 1258.5 1022.9 1257.5 1022.6 1256.5 1021.7 1255.5 1022.3 1254.5 1022.5 1253.5 1023.6 1252.5 1022.9 1251.5 1023.9 1250.5 1023.2 1249.5 1023.6 1248.5 1022.8 1247.5 1022.4 1246.5 1023 1245.5 1022.8 1244.5 1023.4 1243.5 1022.3 1242.5 1022.4 1241.5 1023.3 1240.5 1022.4 1239.5 1023.2 1238.5 1023.1 1237.5 1023 1236.5 1022 1235.5 1022.7 1234.5 1022.2 1233.5 1021.8 1232.5 1022.7 1231.5 1022.9 1230.5 1021.7 1229.5 1021.7 1228.5 1022.1 1227.5 1022.2 1226.5 1022.4 1225.5 1022.2 1224.5 1022.5 1223.5 1021.6 1222.5 1022.8 1221.5 1022.1 1220.5 1022.9 1219.5 1021.5 1218.5 1022.2 1217.5 1023 1216.5 1021.5 1215.5 1022.3 1214.5 1021.2 1213.5 1022.1 1212.5 1021.7 1211.5 1021.3 1210.5 1020.9 1209.5 1020 1208.5 1019 1207.5 1019.5 1206.5 1018.4 1205.5 1018.9 1204.5 1017.7 1203.5 1017 1202.5 1016.7 1201.5 1017.8 1200.5 1017.3 1199.5 1017.7 1198.5 1018.4 1197.5 1018.3 1196.5 1017.9 1195.5 1019 1194.5 1017.7 1193.5 1018.7 1192.5 1018.7 1191.5 1018.8 1190.5 1019.3 1189.5 1020.4 1188.5 1021 1187.5 1021.4 1186.5 1021.8 1185.5 1023.1 1184.5 1024 1183.5 1024.6 1182.5 1024 1181.5 1024.1 1180.5 1023 1179.5 1022.6 1178.5 1021.7 1177.5 1022.3 1176.5 1020.3 1175.5 1021 1174.5 1021.6 1173.5 1020.7 1172.5 1020.9 1171.5 1021.6 1170.5 1022.1 1169.5 1021.1 1168.5 1022.8 1167.5 1022.4 1166.5 1023.3 1165.5 1022.8 1164.5 1023.3 1163.5 1023.4 1162.5 1023.2 1161.5 1022.6 1160.5 1023.5 1159.5 1023.3 1158.5 1023.6 1157.5 1023.9 1156.5 1023.5 1155.5 1022.9 1154.5 1022.6 1153.5 1022.9 1152.5 1021.8 1151.5 1021.5 1150.5 1021.5 1149.5 1022.6 1148.5 1022.3 1147.5 1021.1 1146.5 1021.9 1145.5 1022 1144.5 1022.2 1143.5 1021.6 1142.5 1021.6 1141.5 1022 1140.5 1020.4 1139.5 1021 1138.5 1021 1137.5 1021.4 1136.5 1022.8 1135.5 1023.1 1134.5 1022.4 1133.5 1023.4 1132.5 1023.2 1131.5 1023.5 1130.5 1025 1129.5 1024.2 1128.5 1024.5 1127.5 1026.3 1126.5 1025.5 1125.5 1025.5 1124.5 1025.8 1123.5 1024.4 1122.5 1025.1 1121.5 1024.8 1120.5 1023.9 1119.5 1023.5 1118.5 1023 1117.5 1023.6 1116.5 1022.6 1115.5 1022.1 1114.5 1023.5 1113.5 1022.5 1112.5 1021.3 1111.5 1022.4 1110.5 1022 1109.5 1020.7 1108.5 1021 1107.5 1020.6 1106.5 1020.7 1105.5 1020.4 1104.5 1020.2 1103.5 1020.7 1102.5 1020.6 1101.5 1022 1100.5 1020.7 1099.5 1021 1098.5 1021.3 1097.5 1021.4 1096.5 1020.3 1095.5 1021.4 1094.5 1021.2 1093.5 1021.3 1092.5 1020.2 1091.5 1021.8 1090.5 1020.1 1089.5 1020.6 1088.5 1020.5 1087.5 1021.3 1086.5 1020.5 1085.5 1020.3 1084.5 1021.6 1083.5 1020.1 1082.5 1021.6 1081.5 1020.2 1080.5 1021.8 1079.5 1021.6 1078.5 1021.6 1077.5 1019.9 1076.5 1018.3 1075.5 1017.7 1074.5 1017.1 1073.5 1016.2 1072.5 1016.7 1071.5 1015.6 1070.5 1014.6 1069.5 1014.3 1068.5 1013.4 1067.5 1013.3 1066.5 1013 1065.5 1013.2 1064.5 1013.2 1063.5 1013 1062.5 1013.6 1061.5 1012.9 1060.5 1014.1 1059.5 1014.1 1058.5 1013.2 1057.5 1014.4 1056.5 1013.9 1055.5 1013.2 1054.5 1012.9 1053.5 1013.9 1052.5 1013 1051.5 1013.1 1050.5 1014.1 1049.5 1012.9 1048.5 1014.7 1047.5 1014.6 1046.5 1014.3 1045.5 1014.5 1044.5 1013.6 1043.5 1015.4 1042.5 1016.2 1041.5 1016.8 1040.5 1017 1039.5 1017.7 1038.5 1017.8 1037.5 1018.8 1036.5 1018.1 1035.5 1018.3 1034.5 1017.4 1033.5 1016.9 1032.5 1016.6 1031.5 1015.4 1030.5 1014.2 1029.5 1014.7 1028.5 1013.2 1027.5 1013.7 1026.5 1011.6 1025.5 1011.8 1024.5 1011.9 1023.5 1010.5 1022.5 1010.2 1021.5 1008.5 1020.5 1008.1 1019.5 1005.5 1018.5 1003.2 1017.5 1001.6 1016.5 1000.6 1015.5 998.7 1014.5 997.1 1013.5 998.9 1012.5 999.5 1011.5 1000.9 1010.5 1001.5 1009.5 1002.7 1008.5 1002.8 1007.5 1004.1 1006.5 1005.4 1005.5 1008.3 1004.5 1009.9 1003.5 1009.8 1002.5 1012.5 1001.5 1013.3 1000.5 1014.2 999.5 1014.5 998.5 1012.8 997.5 1013.2 996.5 1011.5 995.5 1011.1 994.5 1010.8 993.5 1009 992.5 1008.6 991.5 1007.9 990.5 1007.4 989.5 1008.1 988.5 1011.4 987.5 1013.5 986.5 1015.5 985.5 1016.6 984.5 1019.5 983.5 1021.6 982.5 1020.2 981.5 1020.1 980.5 1018.7 979.5 1018.2 978.5 1017.6 977.5 1018.5 976.5 1018.3 975.5 1016.8 974.5 1017 973.5 1014.9 972.5 1016 971.5 1013.9 970.5 1013.5 969.5 1012.1 968.5 1012.5 967.5 1012.1 966.5 1012 965.5 1010.8 964.5 1011.4 963.5 1011.3 962.5 1011.1 961.5 1009.8 960.5 1010.6 959.5 1010 958.5 1009.7 957.5 1008.4 956.5 1009.5 955.5 1011.7 954.5 1011 953.5 1012.5 952.5 1013.6 951.5 1014.1 950.5 1015.5 949.5 1016.7 948.5 1018.6 947.5 1019.3 946.5 1019.6 945.5 1019.5 944.5 1018.7 943.5 1020.9 942.5 1021.2 941.5 1019.9 940.5 1020.1 939.5 1022.1 938.5 1021.6 937.5 1023.2 936.5 1023.1 935.5 1023.2 934.5 1023 933.5 1023.8 932.5 1025.7 931.5 1025.9 930.5 1025 929.5 1025.5 928.5 1024.6 927.5 1023.7 926.5 1022.7 925.5 1023.4 924.5 1022.8 923.5 1020.8 922.5 1020.8 921.5 1019.9 920.5 1019.5 919.5 1017.6 918.5 1017.9 917.5 1017.3 916.5 1017.3 915.5 1015.8 914.5 1014.5 913.5 1014.5 912.5 1014.2 911.5 1012.2 910.5 1012.1 909.5 1010.4 908.5 1009.9 907.5 1010.2 906.5 1008.8 905.5 1009.9 904.5 1012.6 903.5 1012.6 902.5 1014.9 901.5 1014.7 900.5 1016.6 899.5 1018.2 898.5 1019.9 897.5 1020.2 896.5 1021.3 895.5 1020.3 894.5 1021.3 893.5 1020 892.5 1020 891.5 1021.1 890.5 1020.3 889.5 1020.3 888.5 1020.9 887.5 1020.1 886.5 1019.8 885.5 1017.4 884.5 1016 883.5 1013.3 882.5 1012 881.5 1008.7 880.5 1008 879.5 1006.9 878.5 1006.7 877.5 1006.4 876.5 1006.6 875.5 1007.5 874.5 1006 873.5 1007 872.5 1006.5 871.5 1006.4 870.5 1007.1 869.5 1007.3 868.5 1006.8 867.5 1009.1 866.5 1012.9 865.5 1014.4 864.5 1018.4 863.5 1021 862.5 1020.4 861.5 1021.3 860.5 1021.2 859.5 1021.4 858.5 1022.4 857.5 1023.2 856.5 1022.6 855.5 1022.8 854.5 1023.5 853.5 1024.5 852.5 1024.5 851.5 1025.4 850.5 1026.1 849.5 1025 848.5 1025.9 847.5 1027 846.5 1026.2 845.5 1026.8 844.5 1027.1 843.5 1027 842.5 1027.1 841.5 1027.4 840.5 1026.7 839.5 1027.2 838.5 1028.5 837.5 1027.8 836.5 1028.4 835.5 1026.7 834.5 1026.9 833.5 1026.7 832.5 1026.2 831.5 1025.8 830.5 1026.8 829.5 1025.9 828.5 1026.1 827.5 1025.4 826.5 1025.8 825.5 1025.6 824.5 1025.6 823.5 1026.3 822.5 1024.8 821.5 1025.2 820.5 1025.4 819.5 1025.3 818.5 1025.8 817.5 1026.5 816.5 1025.4 815.5 1026.5 814.5 1025.9 813.5 1025.3 812.5 1026.5 811.5 1025.1 810.5 1025.7 809.5 1027 808.5 1028.2 807.5 1028.1 806.5 1027.5 805.5 1029 804.5 1027.9 803.5 1029.3 802.5 1028.1 801.5 1029.4 800.5 1029.3 799.5 1029.2 798.5 1027.8 797.5 1029.3 796.5 1028.9 795.5 1029 794.5 1028.9 793.5 1028.3 792.5 1029.2 791.5 1029.5 790.5 1028.1 789.5 1029.3 788.5 1028 787.5 1029.3 786.5 1027.6 785.5 1028.1 784.5 1028 783.5 1028.5 782.5 1027.6 781.5 1029 780.5 1027.8 779.5 1027.9 778.5 1028.8 777.5 1028.2 776.5 1028.3 775.5 1027.6 774.5 1028.3 773.5 1029.4 772.5 1027.9 771.5 1028.8 770.5 1029.2 769.5 1027.5 768.5 1028.4 767.5 1028.6 766.5 1029 765.5 1028.1 764.5 1027.6 763.5 1028.6 762.5 1028.8 761.5 1028.1 760.5 1028.7 759.5 1028 758.5 1027.6 757.5 1027.4 756.5 1028.7 755.5 1027.5 754.5 1027.8 753.5 1027.7 752.5 1028.6 751.5 1027.4 750.5 1027.7 749.5 1028.5 748.5 1027.8 747.5 1027.5 746.5 1029.2 745.5 1027.9 744.5 1029.1 743.5 1027.7 742.5 1027.5 741.5 1028.6 740.5 1028.8 739.5 1029.2 738.5 1028.4 737.5 1027.2 736.5 1027 735.5 1027.7 734.5 1026.9 733.5 1027.6 732.5 1026.6 731.5 1025.9 730.5 1025.9 729.5 1025.8 728.5 1026.2 727.5 1026.9 726.5 1025.9 725.5 1026.5 724.5 1023.2 723.5 1023.2 722.5 1022.8 721.5 1021.2 720.5 1019.8 719.5 1020.3 718.5 1019.8 717.5 1018.3 716.5 1016.4 715.5 1015.8 714.5 1017.3 713.5 1017.1 712.5 1017 711.5 1019.1 710.5 1018.1 709.5 1020.2 708.5 1020 707.5 1021.2 706.5 1021.8 705.5 1021 704.5 1021.6 703.5 1022.5 702.5 1023 701.5 1023.2 700.5 1024.5 699.5 1024.6 698.5 1024.8 697.5 1025.1 696.5 1023.7 695.5 1024.6 694.5 1023.4 693.5 1022.2 692.5 1022.5 691.5 1020.3 690.5 1019.6 689.5 1020.4 688.5 1018.8 687.5 1017.4 686.5 1018.2 685.5 1017.5 684.5 1015.8 683.5 1014.3 682.5 1013.6 681.5 1013 680.5 1015.1 679.5 1014.9 678.5 1016.7 677.5 1017.8 676.5 1017.8 675.5 1018.4 674.5 1020 673.5 1020.6 672.5 1022.3 671.5 1021.4 670.5 1022.4 669.5 1023 668.5 1025.5 667.5 1025 666.5 1025.5 665.5 1025.9 664.5 1025.5 663.5 1025.6 662.5 1024.8 661.5 1024.9 660.5 1025.8 659.5 1025.3 658.5 1025.3 657.5 1026.1 656.5 1026.8 655.5 1026 654.5 1024.8 653.5 1026.6 652.5 1025.4 651.5 1025.7 650.5 1025 649.5 1023.7 648.5 1023.4 647.5 1021.5 646.5 1021.1 645.5 1021 644.5 1019.8 643.5 1019 642.5 1019.6 641.5 1019.5 640.5 1019.8 639.5 1019.8 638.5 1021.6 637.5 1022 636.5 1021.9 635.5 1021.6 634.5 1021.6 633.5 1022.1 632.5 1024.2 631.5 1022.9 630.5 1023.6 629.5 1024 628.5 1024.6 627.5 1026.1 626.5 1025.4 625.5 1025.7 624.5 1023.8 623.5 1023.8 622.5 1024.1 621.5 1023.5 620.5 1023.2 619.5 1020.9 618.5 1021.9 617.5 1019.7 616.5 1019.3 615.5 1018.8 614.5 1018.3 613.5 1018.2 612.5 1017.9 611.5 1017.2 610.5 1016.2 609.5 1016 608.5 1017.8 607.5 1016.7 606.5 1017.4 605.5 1017.8 604.5 1018.6 603.5 1018.6 602.5 1019.9 601.5 1019.4 600.5 1020 599.5 1021.6 598.5 1020.9 597.5 1022.3 596.5 1022 595.5 1021.3 594.5 1021.6 593.5 1021.4 592.5 1021.8 591.5 1023.7 590.5 1022.1 589.5 1024 588.5 1023.1 587.5 1022.3 586.5 1021.4 585.5 1022.1 584.5 1021.7 583.5 1020.8 582.5 1019.2 581.5 1020.3 580.5 1019.7 579.5 1017.5 578.5 1018.7 577.5 1017.2 576.5 1016.2 575.5 1017 574.5 1014.8 573.5 1015.5 572.5 1013.4 571.5 1013.6 570.5 1015.2 569.5 1016 568.5 1015.5 567.5 1017.6 566.5 1017.8 565.5 1018.5 564.5 1019.8 563.5 1020.7 562.5 1021.7 561.5 1019.5 560.5 1018.5 559.5 1019.1 558.5 1017.9 557.5 1015.9 556.5 1015.9 555.5 1013.6 554.5 1013.4 553.5 1013.4 552.5 1011.6 551.5 1010.8 550.5 1008.7 549.5 1007.7 548.5 1006.8 547.5 1007.6 546.5 1007.1 545.5 1007.9 544.5 1008 543.5 1009 542.5 1009.2 541.5 1009.5 540.5 1011.4 539.5 1012.4 538.5 1011.4 537.5 1011.8 536.5 1014.2 535.5 1014.9 534.5 1014.6 533.5 1014.7 532.5 1015.1 531.5 1015.6 530.5 1015.9 529.5 1016.2 528.5 1016.6 527.5 1016.3 526.5 1018.1 525.5 1017.5 524.5 1017.5 523.5 1018.8 522.5 1020.3 521.5 1021.5 520.5 1021.9 519.5 1023.3 518.5 1024.3 517.5 1024.5 516.5 1026.9 515.5 1027 514.5 1029 513.5 1027.5 512.5 1029.3 511.5 1028.6 510.5 1028.7 509.5 1028.3 508.5 1028.5 507.5 1028.3 506.5 1029.7 505.5 1029.9 504.5 1030.3 503.5 1030.2 502.5 1030.6 501.5 1029.7 500.5 1030.8 499.5 1030.9 498.5 1029.8 497.5 1030.3 496.5 1032.4 495.5 1031.6 494.5 1032.4 493.5 1032.5 492.5 1032.8 491.5 1032 490.5 1031.7 489.5 1032.6 488.5 1031.9 487.5 1031.1 486.5 1031.2 485.5 1031 484.5 1032.8 483.5 1032 482.5 1031.9 481.5 1032.6 480.5 1032.3 479.5 1031.4 478.5 1032 477.5 1030.9 476.5 1032.3 475.5 1031.3 474.5 1031.3 473.5 1031.2 472.5 1030.9 471.5 1031.4 470.5 1031.3 469.5 1032.2 468.5 1031.3 467.5 1031.4 466.5 1030.8 465.5 1031.4 464.5 1031.7 463.5 1032.4 462.5 1030.8 461.5 1031.5 460.5 1031 459.5 1032.5 458.5 1031.1 457.5 1031 456.5 1032.2 455.5 1031.1 454.5 1031.8 453.5 1032.1 452.5 1031.2 451.5 1031.9 450.5 1030.7 449.5 1032.5 448.5 1032 447.5 1031.3 446.5 1031.5 445.5 1030.6 444.5 1030.6 443.5 1032.5 442.5 1030.8 441.5 1032.4 440.5 1032.2 439.5 1030.6 438.5 1032.4 437.5 1031.1 436.5 1030.9 435.5 1031.6 434.5 1031.5 433.5 1032 432.5 1031.5 431.5 1030.8 430.5 1032.1 429.5 1030.5 428.5 1031.7 427.5 1028.1 426.5 1026.1 425.5 1026.6 424.5 1026.4 423.5 1026.9 422.5 1028.3 421.5 1029.3 420.5 1031.1 419.5 1031.1 418.5 1031.4 417.5 1032.5 416.5 1030.8 415.5 1031.4 414.5 1031 413.5 1031.6 412.5 1031.1 411.5 1031.6 410.5 1032.8 409.5 1032.7 408.5 1032.1 407.5 1031.9 406.5 1032.2 405.5 1031 404.5 1032.3 403.5 1032.1 402.5 1031 401.5 1032 400.5 1032.1 399.5 1031.1 398.5 1031.2 397.5 1030.9 396.5 1031.5 395.5 1032.9 394.5 1032.6 393.5 1032.5 392.5 1030.9 391.5 1032.9 390.5 1031 389.5 1032.4 388.5 1032.3 387.5 1031.2 386.5 1031.5 385.5 1032.4 384.5 1032 383.5 1032.8 382.5 1031.4 381.5 1032.9 380.5 1031 379.5 1032.5 378.5 1032 377.5 1032.6 376.5 1031.8 375.5 1032.1 374.5 1031.7 373.5 1031.7 372.5 1032.5 371.5 1031 370.5 1032.8 369.5 1031.6 368.5 1031.6 367.5 1032.3 366.5 1032 365.5 1031.9 364.5 1032.9 363.5 1033 362.5 1032 361.5 1031.4 360.5 1031.6 359.5 1032.9 358.5 1032 357.5 1032.4 356.5 1032.7 355.5 1032.1 354.5 1031.1 353.5 1031.3 352.5 1032.6 351.5 1031.3 350.5 1032.7 349.5 1031.6 348.5 1032.5 347.5 1032.6 346.5 1031 345.5 1031.4 344.5 1033 343.5 1032 342.5 1032.5 341.5 1031.2 340.5 1031.4 339.5 1031.9 338.5 1032.2 337.5 1032.6 336.5 1032.7 335.5 1031.7 334.5 1032 333.5 1032.5 332.5 1032.8 331.5 1032.3 330.5 1031.7 329.5 1031.8 328.5 1031.5 327.5 1032.5 326.5 1032.5 325.5 1031.1 324.5 1033 323.5 1031.4 322.5 1031.3 321.5 1031.9 320.5 1032.3 319.5 1032.7 318.5 1031.4 317.5 1032.7 316.5 1032.3 315.5 1031.5 314.5 1032.8 313.5 1031.7 312.5 1032.3 311.5 1032.5 310.5 1033 309.5 1032.2 308.5 1031.8 307.5 1031.7 306.5 1032.4 305.5 1031.9 304.5 1032.8 303.5 1032.1 302.5 1033 301.5 1031.8 300.5 1031.9 299.5 1032.9 298.5 1031.7 297.5 1031.4 296.5 1032.6 295.5 1032.6 294.5 1032.4 293.5 1031.5 292.5 1032.9 291.5 1032.2 290.5 1032.3 289.5 1032.7 288.5 1031.9 287.5 1031.3 286.5 1031.1 285.5 1032.1 284.5 1031.7 283.5 1031.3 282.5 1032.5 281.5 1033 280.5 1032.9 279.5 1031.2 278.5 1031.3 277.5 1032.7 276.5 1032.2 275.5 1032 274.5 1031.4 273.5 1031.7 272.5 1032.9 271.5 1032.2 270.5 1031.1 269.5 1031.1 268.5 1032.6 267.5 1032.8 266.5 1031.8 265.5 1031.4 264.5 1032.4 263.5 1032.7 262.5 1032 261.5 1032 260.5 1031.9 259.5 1031.2 258.5 1032.7 257.5 1032.3 256.5 1032.4 255.5 1031.9 254.5 1032.4 253.5 1031.4 252.5 1031.1 251.5 1032.7 250.5 1033 249.5 1031.3 248.5 1031.3 247.5 1031.1 246.5 1032.4 245.5 1031.5 244.5 1031.8 243.5 1031.5 242.5 1031.7 241.5 1032.1 240.5 1032.7 239.5 1032.5 238.5 1032.6 237.5 1032.1 236.5 1032.5 235.5 1032.5 234.5 1032 233.5 1031.4 232.5 1032 231.5 1032.5 230.5 1031.5 229.5 1032.1 228.5 1031.8 227.5 1032.8 226.5 1032.3 225.5 1032.2 224.5 1031.1 223.5 1032.4 222.5 1032 221.5 1032.6 220.5 1031.7 219.5 1032 218.5 1032.3 217.5 1032.2 216.5 1031.3 215.5 1031.2 214.5 1031.8 213.5 1031 212.5 1032.4 211.5 1032 210.5 1032.1 209.5 1031.9 208.5 1031.8 207.5 1032.8 206.5 1033 205.5 1032.2 204.5 1031.6 203.5 1031.4 202.5 1031.4 201.5 1032.8 200.5 1031.2 199.5 1033 198.5 1032.1 197.5 1031.1 196.5 1032 195.5 1032.3 194.5 1032 193.5 1032 192.5 1032.1 191.5 1032.6 190.5 1031.3 189.5 1031 188.5 1033 187.5 1032.5 186.5 1031.5 185.5 1031.2 184.5 1032.2 183.5 1031.1 182.5 1031.4 181.5 1031.6 180.5 1031.6 179.5 1031.1 178.5 1032.7 177.5 1032.8 176.5 1032.7 175.5 1031.9 174.5 1031.4 173.5 1032.3 172.5 1032.2 171.5 1032.2 170.5 1032.1 169.5 1032.3 168.5 1032.2 167.5 1032.6 166.5 1031.5 165.5 1031.9 164.5 1033 163.5 1032 162.5 1032 161.5 1032.4 160.5 1031.2 159.5 1032.8 158.5 1032.1 157.5 1032.5 156.5 1031.2 155.5 1031.3 154.5 1032.3 153.5 1031.5 152.5 1032.6 151.5 1031.1 150.5 1032.1 149.5 1031.8 148.5 1032 147.5 1032.6 146.5 1032.9 145.5 1032.5 144.5 1031.4 143.5 1031.8 142.5 1032.6 141.5 1031.9 140.5 1032.3 139.5 1031.6 138.5 1032.4 137.5 1033 136.5 1031.3 135.5 1033.1 134.5 1032.9 133.5 1031.7 132.5 1031.7 131.5 1032.5 130.5 1032.8 129.5 1031.9 128.5 1031.1 127.5 1030.7 126.5 1030.3 125.5 1030.4 124.5 1026.8 123.5 1018.6 122.5 1011.9 121.5 1011.2 120.5 1010.1 119.5 1010.3 118.5 1011.4 117.5 1011.8 116.5 1010.5 115.5 1011.1Z" fill="#1f77b4" stroke="#1f77b4" stroke-width="5.4" stroke-linejoin="round"/>
<path d="M116.4 911.9h0M116.6 901.6h0M116.8 914.2h0M117.1 890h0M117.7 877h0M118.3 904.2h0M119 882.3h0M119.6 893.8h0M120.1 886.8h0M120.3 881.2h0M120.3 916.7h0M120.9 898.8h0M121.4 907.7h0M121.5 895.2h0M122.5 920.1h0M128.5 989.9h0M131.5 1019.6h0M133.5 1024.2h0M142.5 1023.7h0M143.5 1021.5h0M150.5 1024.5h0M159.5 1024.4h0M169.5 1025h0M171.5 1021.6h0M173.5 1024h0M179.5 1024.2h0M180.5 1023.9h0M181.5 1025h0M185.5 1024.7h0M192.5 1022.1h0M195.5 1024.4h0M198.5 1022.6h0M200.5 1018.4h0M203.5 1023.5h0M207.5 1023.7h0M210.5 1022.4h0M213.5 1018.9h0M214.5 1021.6h0M218.5 1019.3h0M220.5 1019.9h0M229.5 1020.6h0M230.5 1021.4h0M231.5 1020.2h0M234.8 1021.5h0M234.9 1013.7h0M235.2 1017.3h0M235.3 1018h0M236.2 1017.8h0M236.5 1014.5h0M236.6 1018.4h0M237 1019.7h0M237.4 1012.6h0M238.5 1019.6h0M239.7 1024.2h0M239.9 1015.4h0M240.1 1018h0M240.4 1010.6h0M241.7 1013.7h0M242 1014.3h0M242.2 1017.2h0M243.1 1012.5h0M243.4 1010.4h0M244.5 1015.1h0M245.1 1013.1h0M245.1 1014.8h0M246.2 1012.5h0M246.8 1014.6h0M246.9 1008.5h0M247.3 1006.8h0M248.1 1006.7h0M248.6 1009.1h0M249.1 1012.8h0M249.2 1010.2h0M249.9 1011.3h0M249.9 1008.8h0M250.2 1011.3h0M250.9 1013.1h0M251.2 1010.6h0M252.2 1015.5h0M253.1 1017.1h0M253.8 1020.4h0M254.5 1017.2h0M255.5 1016.8h0M256.5 1017h0M259.5 1020.3h0M264.5 1021.6h0M266.5 1022.1h0M275.5 1023.9h0M278.5 1023.7h0M285.5 1022.5h0M286.5 1020.2h0M289.5 1019.4h0M290.5 1017.8h0M293.5 1022h0M294.8 1021.1h0M295.1 1015.5h0M295.8 1014.6h0M296.4 1013.2h0M296.5 1012h0M296.6 1014.5h0M297.2 1012.6h0M297.2 1014.2h0M297.3 1016.3h0M297.7 1017.5h0M297.9 1012.6h0M298.9 1018.5h0M299.1 1014.1h0M299.1 1017.4h0M299.1 1018.9h0M299.7 1017.7h0M300.5 1015.6h0M301.5 1018.1h0M304.5 1017.1h0M305.5 1019.4h0M306.5 1017.7h0M307.5 1016h0M309.5 1017.3h0M310.5 1018.8h0M314.5 1020.2h0M315.5 1020.3h0M319.5 1020.5h0M320.5 1020.3h0M321.5 1018.4h0M322.5 1018.7h0M324.5 1019.4h0M328.5 1021.7h0M329.5 1018.4h0M341.5 1024.1h0M347.5 1024h0M348.5 1022.4h0M352.5 1020.8h0M356.5 1023.3h0M361.5 1021.7h0M364.5 1021.8h0M366.5 1022.8h0M379.5 1020.4h0M380.5 1023h0M383.5 1023.4h0M389.5 1020.8h0M393.5 1020.5h0M398.5 1014.4h0M400.1 1028.4h0M400.4 1020h0M400.5 1016.3h0M400.6 1022.5h0M401.5 1019.5h0M402 1015.4h0M402.5 1014.8h0M403 1023.2h0M403.5 1021.8h0M404.3 1020.9h0M405.8 1020.8h0M406.2 1021h0M406.4 1017.1h0M406.5 1021h0M406.7 1023.1h0M406.7 1012.6h0M407.2 1016.8h0M407.4 1009.5h0M407.6 1017h0M407.7 1015.7h0M408.1 1016.3h0M409.4 1014.4h0M410.1 1008.3h0M410.8 1008.3h0M411 1012.3h0M411.1 998.3h0M411.5 1005.7h0M411.6 1005.7h0M412.3 1006.1h0M412.6 997h0M412.6 1002.4h0M412.9 1002.6h0M413.1 999.1h0M413.2 999.5h0M413.3 997.7h0M413.7 1000.8h0M413.7 1009.5h0M413.9 990.5h0M413.9 1004.3h0M413.9 999.6h0M415 1005h0M415 1002.5h0M415.4 984.7h0M415.5 995.2h0M415.7 994.9h0M415.7 998.7h0M416.9 979.3h0M417.1 993.5h0M417.1 966.1h0M417.5 972.7h0M417.7 997h0M417.7 971.8h0M417.8 984.1h0M417.9 987.6h0M418 976.3h0M418.6 980.9h0M418.8 971h0M418.9 980.6h0M419.1 976.7h0M419.3 971.5h0M419.6 984.6h0M419.7 973.1h0M420.3 972.7h0M420.6 956.1h0M421 973.6h0M421 977.3h0M421.3 961.1h0M421.3 953.6h0M421.5 916.2h0M421.5 921.9h0M421.7 940.7h0M421.9 943.9h0M422.1 937.4h0M422.1 931.5h0M422.1 911h0M422.2 947.2h0M422.3 919.4h0M422.3 935.8h0M422.8 927.7h0M423 922.7h0M423.2 956.8h0M423.2 962.7h0M423.3 931.9h0M423.3 925.1h0M423.4 922.7h0M423.5 914.2h0M423.5 924.3h0M423.6 960h0M423.6 956.3h0M423.6 916.2h0M423.8 962.2h0M424 966.8h0M424 969.2h0M424.3 954.8h0M424.3 945h0M424.6 940.4h0M424.6 949.5h0M424.9 939h0M425.1 959.7h0M425.2 960.7h0M425.7 972.7h0M426 950.5h0M426.2 959.5h0M426.2 964.1h0M426.3 957.1h0M426.3 952.2h0M426.4 955.1h0M426.9 962.9h0M426.9 963.8h0M427.4 968.2h0M427.6 995.4h0M428 996.3h0M428.5 1000.9h0M428.6 997.8h0M429.2 999.1h0M429.6 997.3h0M429.8 1007.1h0M429.9 1001.9h0M430.1 1006.8h0M430.6 1002h0M430.7 994h0M430.8 1002h0M431.4 1006.3h0M431.6 1002.6h0M431.8 997.7h0M432 1004.6h0M432.1 1010h0M432.3 1006.6h0M433.1 1006.8h0M433.7 1002.6h0M433.8 1006.1h0M433.8 1009.3h0M434 999.7h0M434.1 1005h0M434.2 1007.4h0M434.3 1014h0M435 1009.1h0M435.1 1003.3h0M435.6 1010h0M436.3 1001.7h0M436.6 1001.6h0M436.9 991.8h0M436.9 1006.4h0M437.2 992.1h0M437.8 992h0M438 995.7h0M438.3 995.3h0M438.5 998.6h0M438.6 992.6h0M438.7 989.4h0M439.4 990.6h0M439.8 1003h0M440.4 994.1h0M440.5 996.4h0M440.7 998.8h0M441.2 999.9h0M441.4 998.5h0M441.8 991.6h0M441.9 1000h0M442.6 992.6h0M442.6 994.7h0M442.8 991.6h0M442.8 996.1h0M442.9 990.7h0M443.3 999.7h0M443.6 995.7h0M443.6 986.8h0M444.4 985.4h0M444.7 991h0M445.1 981.3h0M445.3 995.4h0M445.3 998.5h0M445.5 990.2h0M445.5 980.6h0M445.5 985.8h0M446.3 981.7h0M446.3 975.3h0M446.3 979.1h0M446.5 988.4h0M447 966.7h0M447 985.2h0M447.2 992.1h0M447.8 996h0M447.8 996.7h0M448.1 996.5h0M448.1 995.5h0M448.1 999.5h0M448.7 983h0M449.1 993.2h0M450 1004.3h0M450 999.9h0M450 990.7h0M450.2 997h0M450.4 997.6h0M450.6 994.2h0M450.9 1004.2h0M451 995.3h0M451.1 1000.9h0M451.4 1002.3h0M452 1008.5h0M452.3 1005.2h0M452.9 997.4h0M452.9 1005h0M453.8 986.4h0M454 994.3h0M454 998h0M454.3 999.9h0M454.3 1000.2h0M454.3 1003.5h0M454.4 993h0M455 997.1h0M455.2 981.5h0M455.5 993.2h0M455.9 989h0M455.9 982.3h0M456.1 971.8h0M456.2 986.8h0M456.3 989.9h0M456.9 999.9h0M457 969.9h0M457.1 985.8h0M457.3 964.8h0M457.3 988.9h0M457.3 984.3h0M457.5 991h0M457.7 995.1h0M458.2 971.9h0M458.3 990.8h0M458.5 990.6h0M458.8 996h0M458.9 996.3h0M459 992.5h0M459.2 990.7h0M459.4 977h0M459.5 968.8h0M459.5 983.7h0M459.9 989.8h0M460 980.4h0M460.5 981.3h0M460.8 990.7h0M461 986.9h0M461.8 997.5h0M462.1 1000.2h0M462.8 1007.2h0M463 1008.4h0M463.6 1017.4h0M463.9 1014.3h0M464.6 1012.1h0M465.1 1013.2h0M466.5 1021.9h0M470.5 1019.6h0M475.5 1023.9h0M476.5 1022.4h0M484.5 1023.2h0M488.5 1020.9h0M489.5 1023.1h0M492.5 1022.8h0M495.5 1021.1h0M496.5 1021.5h0M502.5 1017h0M503.5 1016.2h0M505.4 1018.2h0M506 1015.7h0M506.9 1007.2h0M507.1 1013h0M507.2 1014.5h0M507.8 1006.7h0M507.9 1013.6h0M508 1014.5h0M508.3 1013.4h0M509.3 999.8h0M509.4 1013.7h0M509.6 1004.7h0M509.8 1004.9h0M509.9 1005.9h0M510.1 1002.8h0M510.3 998.9h0M510.6 999.1h0M511.6 990.7h0M512 1009.7h0M512.7 987.9h0M512.8 987.7h0M513 996.1h0M513.1 985.1h0M513.5 989.3h0M513.5 981h0M513.6 992.8h0M513.8 981.9h0M514.1 977.7h0M514.4 972.9h0M514.6 973.5h0M514.6 984.4h0M515 981.7h0M515 977.5h0M515 966.2h0M515.5 965.1h0M515.7 961.9h0M515.9 972.2h0M516.4 966.3h0M516.7 960.7h0M516.7 971.2h0M517.2 974.4h0M517.3 977.4h0M517.3 976.3h0M517.3 971.7h0M517.8 967.7h0M518.2 932.3h0M518.3 953.6h0M518.4 950.9h0M518.6 957.4h0M518.8 924.6h0M519.1 952h0M519.2 957.1h0M519.2 961.7h0M519.4 966.2h0M519.6 943.1h0M519.6 938.7h0M519.7 946.2h0M519.8 953h0M519.9 939h0M520.2 932h0M520.3 921.8h0M520.3 947.7h0M520.5 937.7h0M520.5 943.3h0M520.6 908.4h0M520.6 957.2h0M520.7 913.3h0M520.7 951.5h0M521 940.3h0M521.1 945.3h0M521.4 933.9h0M521.4 945.5h0M522.2 936.2h0M522.3 954.2h0M522.5 902.5h0M522.8 927.8h0M522.8 915.8h0M522.9 927.7h0M523.1 911.6h0M523.3 932.4h0M523.7 925.9h0M523.8 929.7h0M523.8 907.8h0M523.9 912.4h0M523.9 932.9h0M523.9 919.6h0M523.9 906.3h0M524 904.8h0M524 937h0M524 906.4h0M524.5 921.2h0M524.9 947.4h0M525 917h0M525.1 935.4h0M525.8 938.7h0M526.1 943.5h0M527 932.2h0M527 940.3h0M527.2 923.6h0M527.3 938.8h0M527.6 910.4h0M527.8 903.4h0M527.8 909.8h0M527.9 920.1h0M527.9 914.2h0M528 899.1h0M528 894.4h0M528.1 928.8h0M528.3 886.2h0M528.7 890.2h0M528.9 885.7h0M528.9 902.2h0M529.1 870.5h0M529.2 884.6h0M529.2 897.4h0M529.2 906.6h0M529.3 888.6h0M529.6 906h0M529.9 875.4h0M530 871.8h0M530 867.2h0M530.3 879.2h0M530.4 893h0M530.5 871.8h0M530.7 884.8h0M530.7 866.7h0M530.8 888h0M530.9 886.3h0M531 854.2h0M531.1 880.7h0M531.1 895.5h0M531.1 848.7h0M531.2 876.8h0M531.3 867.2h0M531.3 869.9h0M531.3 849.8h0M531.5 891.3h0M531.6 847.7h0M531.7 857.7h0M531.9 879h0M532 848h0M532 882.3h0M532 861.4h0M532.2 874.2h0M532.2 874.1h0M532.3 861.8h0M532.6 870.8h0M532.6 878.3h0M532.8 883.4h0M532.9 879.1h0M532.9 865.8h0M533.1 859h0M533.1 858.7h0M533.3 850h0M533.3 853.6h0M533.5 888.1h0M533.6 875.9h0M533.7 839.9h0M533.8 862h0M533.8 831.7h0M533.8 865.5h0M533.9 853.8h0M533.9 851.2h0M534 870.6h0M534 872.3h0M534.1 830.6h0M534.3 881h0M534.5 863h0M534.7 868h0M534.8 836.1h0M534.8 876.6h0M535.1 857.6h0M535.2 877.1h0M535.2 884.4h0M535.2 853.8h0M535.3 846.2h0M535.5 882.8h0M535.7 848.5h0M535.8 773.4h0M535.8 824.6h0M535.9 783.7h0M536 790.8h0M536.1 759.4h0M536.1 873.6h0M536.1 742.4h0M536.1 830.2h0M536.2 845.6h0M536.2 842.4h0M536.2 812.8h0M536.5 819.4h0M536.5 750.3h0M536.6 838.7h0M536.7 833.9h0M536.8 811.2h0M536.8 845.8h0M536.8 736h0M536.8 850.3h0M536.9 869.5h0M537.3 814.8h0M537.3 840.8h0M537.3 768h0M537.3 852.9h0M537.3 836.8h0M537.3 835.3h0M537.5 872.7h0M537.5 862.8h0M537.8 739.8h0M537.9 732.3h0M538 856.4h0M538.2 857.1h0M538.2 866.6h0M538.3 791.6h0M538.5 797.3h0M538.5 845.3h0M538.6 746.5h0M538.7 868.7h0M538.7 807.5h0M538.7 854.5h0M538.9 851h0M539 842.7h0M539 846h0M539 800.4h0M539 860.9h0M539.1 816.2h0M539.1 804.7h0M539.2 864.4h0M539.2 859.8h0M539.2 766.8h0M539.3 853.9h0M539.3 850.1h0M539.3 827.8h0M539.4 833.3h0M539.4 857.9h0M539.4 812.8h0M539.5 785h0M539.6 796.8h0M539.6 828.9h0M539.7 838.1h0M539.7 835.2h0M539.7 809.2h0M539.8 790.2h0M539.9 783.5h0M540 847.6h0M540 842.2h0M540.1 821.1h0M540.1 819.9h0M540.1 864.3h0M540.1 778.6h0M540.2 823.8h0M540.7 812.6h0M540.7 805.1h0M540.9 789.9h0M540.9 768.1h0M540.9 803.2h0M540.9 781.4h0M540.9 792.7h0M541 839.6h0M541 799.5h0M541 787.9h0M541.1 832.1h0M541.1 797.1h0M541.2 816.8h0M541.2 816.6h0M541.3 808h0M541.3 784.6h0M541.3 772.8h0M541.4 824.5h0M541.4 824.4h0M541.4 795.6h0M541.6 764h0M541.6 807.8h0M541.6 778.9h0M541.8 800.4h0M542 796.6h0M542 699.8h0M542.2 792.7h0M542.2 812.5h0M542.2 693.2h0M542.3 801.1h0M542.3 821h0M542.4 785.2h0M542.4 763.6h0M542.4 791.2h0M542.4 826.6h0M542.5 823h0M542.5 829h0M542.5 818.6h0M542.6 718.4h0M542.6 682h0M542.7 737.6h0M542.7 836.4h0M542.7 832h0M542.7 687.1h0M542.7 709.7h0M542.7 735h0M543 786.4h0M543 813.4h0M543.1 792.2h0M543.2 817.6h0M543.2 799.1h0M543.2 794.9h0M543.3 804.8h0M543.7 755.9h0M543.8 809.6h0M543.8 758.4h0M543.9 738.7h0M544 727.2h0M544.1 778h0M544.1 789h0M544.3 762.9h0M544.3 732.8h0M544.3 753.1h0M544.3 813.6h0M544.3 749h0M544.4 766.2h0M544.4 749h0M544.5 743.6h0M544.7 720.6h0M544.7 699.7h0M544.7 769.7h0M544.7 731.2h0M544.7 778.9h0M544.8 782.6h0M544.9 793.8h0M544.9 726h0M544.9 803.2h0M545 774.2h0M545 769.6h0M545 758.3h0M545.1 751.3h0M545.1 736.1h0M545.2 712.9h0M545.2 724.7h0M545.3 807.7h0M545.3 754.2h0M545.4 770.5h0M545.4 800h0M545.4 746.3h0M545.5 790.7h0M545.5 762.6h0M545.8 716.3h0M545.8 741.5h0M545.8 742.8h0M545.9 759.8h0M545.9 766.7h0M545.9 711.5h0M546 785.2h0M546 805.5h0M546.2 810h0M546.2 830.4h0M546.3 787.5h0M546.3 796.3h0M546.4 763.1h0M546.4 817.8h0M546.4 823.3h0M546.5 836.2h0M546.5 780.7h0M546.5 814.4h0M546.6 809.6h0M546.7 790.7h0M546.8 831.3h0M546.8 764.2h0M546.9 796.4h0M547.2 773.7h0M547.2 809.7h0M547.2 802.4h0M547.4 764.8h0M547.5 812.7h0M547.6 805.6h0M547.6 769.5h0M547.7 734.2h0M547.7 749.1h0M547.7 728.9h0M547.7 799.3h0M547.8 816.8h0M547.8 626.7h0M547.9 715.5h0M547.9 824h0M547.9 783.4h0M547.9 786.7h0M547.9 638.1h0M547.9 613.9h0M547.9 704.3h0M548 780.7h0M548 770.9h0M548 757.5h0M548 820h0M548.1 714.8h0M548.1 619.6h0M548.1 719.3h0M548.1 728.5h0M548.1 766.3h0M548.1 789.1h0M548.1 786.4h0M548.2 761.5h0M548.3 740.5h0M548.3 694.7h0M548.3 828.4h0M548.3 708.4h0M548.4 778.3h0M548.4 666.3h0M548.4 709.2h0M548.5 654h0M548.5 780h0M548.5 723.6h0M548.5 705h0M548.6 791.6h0M548.7 772.1h0M548.7 783.8h0M548.7 738.7h0M548.8 728.8h0M548.8 739.6h0M548.8 632h0M548.8 749h0M548.9 672.2h0M548.9 795h0M549 752.7h0M549 681.3h0M549 762.7h0M549 794.2h0M549 649.9h0M549 788.8h0M549.1 757.9h0M549.1 743.6h0M549.2 718.8h0M549.2 734.3h0M549.2 775h0M549.2 753.4h0M549.2 643.4h0M549.2 744.2h0M549.3 721.4h0M549.3 658.9h0M549.3 777.1h0M549.3 775.6h0M549.4 773.6h0M549.4 610h0M549.5 603.6h0M549.6 757.1h0M549.6 700h0M549.6 757.6h0M549.7 682.1h0M549.7 720.3h0M549.7 677.2h0M549.8 743.4h0M549.8 732.6h0M549.9 770.9h0M549.9 733.5h0M549.9 768h0M550 722.2h0M550.1 753.7h0M550.1 705.1h0M550.2 779.7h0M550.2 597.8h0M550.3 769.8h0M550.5 687.8h0M550.5 737.9h0M550.5 774h0M550.6 762.1h0M550.6 781.7h0M550.6 727.6h0M550.6 804.7h0M550.7 777.5h0M550.7 796.1h0M550.8 759.2h0M550.9 800h0M550.9 754.9h0M550.9 747.8h0M550.9 766.1h0M550.9 753.7h0M551 809.5h0M551 728.4h0M551.1 833.4h0M551.3 753.7h0M551.3 787.3h0M551.4 826.1h0M551.5 814.8h0M551.7 795.1h0M551.7 827.6h0M551.8 782.1h0M551.8 777.8h0M551.9 823.3h0M551.9 787.5h0M552 769h0M552 772h0M552 774.7h0M552 791.6h0M552.1 817.3h0M552.1 764.9h0M552.2 762.9h0M552.2 821.4h0M552.2 767.9h0M552.3 828.7h0M552.3 830.9h0M552.3 791.7h0M552.3 836h0M552.4 835h0M552.5 810.7h0M552.5 815.2h0M552.6 801.7h0M552.6 808.7h0M552.7 806.4h0M552.8 812.7h0M552.9 818.9h0M552.9 756.6h0M553 778.1h0M553 804.9h0M553.1 798.2h0M553.2 798h0M553.3 758.7h0M553.5 793h0M553.5 787.5h0M553.8 760.4h0M553.9 778.3h0M553.9 811.2h0M553.9 801.7h0M554 815.3h0M554 772.6h0M554.1 781.2h0M554.1 761.5h0M554.2 788.2h0M554.3 767.6h0M554.3 783.3h0M554.4 793.1h0M554.5 777.6h0M554.6 819.5h0M554.6 802h0M554.7 796.1h0M554.7 777.6h0M554.7 799.2h0M554.8 807h0M554.9 807.2h0M555 786.9h0M555.2 785.5h0M555.2 818.5h0M555.4 814.5h0M555.4 815.1h0M555.6 788h0M555.7 724.9h0M555.8 854.3h0M555.9 810.8h0M556.2 793.6h0M556.2 824.2h0M556.3 803.7h0M556.5 849.7h0M556.6 859.5h0M556.8 814.6h0M556.8 798.6h0M557 850.7h0M557.1 793.8h0M557.4 810.9h0M557.6 819.2h0M557.6 802h0M557.7 830.2h0M557.7 790h0M557.8 818.7h0M557.8 823.3h0M557.9 798.5h0M558 827.2h0M558.1 826.7h0M558.1 822h0M558.1 789.3h0M558.1 847.6h0M558.2 841h0M558.2 806.1h0M558.3 833.3h0M558.3 814.5h0M558.4 852.6h0M558.5 850.2h0M558.5 738.3h0M558.6 829.9h0M558.7 856.6h0M558.7 849.3h0M558.8 798.4h0M558.8 837.2h0M558.8 844.9h0M559 804.2h0M559 842.6h0M559.1 852.5h0M559.3 831.4h0M559.3 815.6h0M559.3 832.9h0M559.4 810.4h0M559.4 812.5h0M559.5 860.4h0M559.6 835.6h0M559.7 843h0M559.8 822h0M559.8 826.7h0M559.8 864.9h0M559.9 846.6h0M560 846.1h0M560 811.4h0M560 840h0M560.5 831.6h0M560.6 822.8h0M561 840.3h0M561 836.4h0M561 826.4h0M561.1 866.8h0M561.1 819.1h0M561.1 871.2h0M561.1 843.8h0M561.5 855.7h0M561.7 895.8h0M561.9 850.6h0M562 897.3h0M562 863.2h0M562 840.2h0M562.2 859.3h0M562.3 839.7h0M562.6 907.8h0M562.7 903.7h0M562.7 911.6h0M562.8 912.4h0M563.1 911.9h0M563.3 899.1h0M563.7 917.9h0M563.9 921.8h0M564.1 927.5h0M564.2 909.6h0M564.2 900.9h0M564.5 947.7h0M565 951.6h0M565.1 939.2h0M565.5 937.7h0M565.7 912.5h0M565.7 943.5h0M566 908h0M566 903.2h0M566.1 952h0M566.1 957.9h0M566.2 909.3h0M566.4 947.3h0M566.5 950.8h0M566.6 921.2h0M566.9 943.8h0M567.3 925.5h0M567.4 930.5h0M567.5 939.2h0M568 922.7h0M568.1 934.7h0M568.5 933.2h0M568.7 926h0M568.7 905.7h0M568.7 915h0M568.8 917.1h0M568.9 920.7h0M568.9 910.6h0M569 889.2h0M569 914.6h0M569 924.6h0M569 929.5h0M569 921.6h0M569 918.1h0M569.2 892.8h0M569.4 902.4h0M569.6 898.8h0M569.6 879.1h0M570 885.4h0M570 896.3h0M570.1 888.2h0M570.3 892.8h0M570.3 886.4h0M570.3 874.4h0M570.4 863.9h0M570.8 865h0M570.8 883.9h0M570.9 912.2h0M571 905.7h0M571.2 869.5h0M571.7 900.5h0M571.8 908.7h0M571.8 897.6h0M571.8 915.3h0M572 895.9h0M572 827.6h0M572.1 889.1h0M572.1 907.1h0M572.2 903.3h0M572.4 877.9h0M572.5 884.8h0M572.6 876h0M572.6 888.6h0M572.7 880.7h0M572.8 820.3h0M572.9 851.3h0M572.9 892.6h0M573 859h0M573.1 863h0M573.1 875h0M573.3 870.8h0M573.5 893.5h0M573.6 876.2h0M573.6 866.1h0M573.7 897.1h0M573.7 861.5h0M573.9 852h0M574.1 855.1h0M574.1 891.4h0M574.2 884.7h0M574.3 879.7h0M574.4 845.4h0M574.7 854.3h0M574.7 883.6h0M574.8 866.9h0M574.8 851.3h0M574.8 848.3h0M574.9 888.1h0M574.9 873h0M574.9 876.2h0M575 868.6h0M575.1 844.4h0M575.3 845.8h0M575.3 865.4h0M575.4 858.7h0M575.4 842.1h0M575.5 874.8h0M575.7 871.8h0M575.7 862.9h0M575.8 877.3h0M575.9 859.7h0M575.9 878.6h0M576.2 848.9h0M576.2 752.1h0M576.4 744h0M576.5 869.7h0M576.6 838.6h0M576.7 872.6h0M576.7 718.7h0M576.7 734.6h0M576.8 870.9h0M576.8 844.8h0M576.8 853.1h0M577 862.6h0M577 769.3h0M577 854.5h0M577.1 866.9h0M577.1 843.5h0M577.1 796.7h0M577.1 865.6h0M577.2 804.9h0M577.2 830h0M577.3 844.9h0M577.3 813.6h0M577.3 882.6h0M577.5 700.5h0M577.7 864.7h0M577.8 788h0M577.8 778.3h0M577.8 858.6h0M577.8 691.5h0M577.8 839h0M577.9 878.6h0M578 683.5h0M578 675.6h0M578 852.4h0M578.1 868.3h0M578.2 849.7h0M578.3 822.4h0M578.3 858.9h0M578.3 875.3h0M578.4 873.3h0M578.5 709.5h0M578.5 760.6h0M578.5 878h0M578.6 849.2h0M578.6 726.5h0M578.7 845.4h0M578.9 796h0M579 817.7h0M579 811.8h0M579 884h0M579.2 881h0M579.2 822.4h0M579.2 849h0M579.4 825.4h0M579.4 837.9h0M579.6 873.2h0M579.6 800.6h0M579.6 843.5h0M579.6 807.7h0M579.7 870.1h0M579.7 836.9h0M579.7 803.1h0M579.8 889.2h0M580 851.6h0M580 841.5h0M580 851.5h0M580.1 863.3h0M580.1 834.7h0M580.1 821.6h0M580.2 819.1h0M580.2 855.3h0M580.2 846.9h0M580.2 826.3h0M580.3 830.4h0M580.3 815h0M580.3 817.9h0M580.7 886.6h0M580.8 866.2h0M580.8 838.9h0M580.8 863.1h0M580.9 831.7h0M580.9 876.7h0M581 859.9h0M581 827.9h0M581.1 880.3h0M581.1 883.4h0M581.3 842.7h0M581.4 860.3h0M581.4 890.4h0M581.4 847.4h0M581.4 851h0M581.6 870.9h0M581.6 816.3h0M581.7 836h0M581.7 833.8h0M581.7 839.8h0M581.8 865.9h0M581.8 860h0M581.9 874.7h0M581.9 826.5h0M582 874.6h0M582 814.4h0M582.1 851h0M582.1 882.8h0M582.2 823.7h0M582.3 887.2h0M582.3 879h0M582.4 818.1h0M582.4 819.8h0M582.4 857h0M582.4 831.8h0M582.5 878.6h0M582.5 846.9h0M582.6 828.5h0M582.6 842.3h0M582.7 867.3h0M582.7 842.7h0M582.7 837.9h0M582.8 872.1h0M582.9 822.1h0M582.9 852.1h0M583 855.2h0M583 864.9h0M583 847.6h0M583.1 819h0M583.1 840.3h0M583.4 869.3h0M583.4 764.9h0M583.5 863.1h0M583.7 860.3h0M583.9 742.5h0M583.9 833.7h0M584 828.7h0M584 786.2h0M584.1 855.4h0M584.1 871.3h0M584.2 770.4h0M584.2 813.7h0M584.2 822.9h0M584.3 852.3h0M584.3 817.5h0M584.3 759.8h0M584.4 710.6h0M584.4 838.4h0M584.5 716.4h0M584.5 807.5h0M584.5 820.1h0M584.6 671.7h0M584.7 635.7h0M584.7 844.3h0M584.8 659.9h0M584.8 775.1h0M584.9 611.4h0M584.9 836.9h0M585 849.9h0M585 700h0M585.1 832.7h0M585.1 841.4h0M585.1 846.3h0M585.2 862.8h0M585.2 665h0M585.2 841.6h0M585.3 847.2h0M585.4 676.3h0M585.5 849.3h0M585.5 858.4h0M585.5 797.9h0M585.5 830.1h0M585.5 682.6h0M585.6 831.2h0M585.7 689h0M585.7 617.6h0M585.8 652.3h0M585.8 871.5h0M586 854.5h0M586 825.2h0M586 819.4h0M586 692.9h0M586 721h0M586 824.6h0M586.1 792.3h0M586.1 706.5h0M586.2 699.4h0M586.2 877.2h0M586.2 645.7h0M586.2 641.9h0M586.2 622.3h0M586.3 628h0M586.3 867.3h0M586.3 733.3h0M586.5 755.6h0M586.6 823.7h0M586.6 778.4h0M586.6 823.4h0M586.7 803.6h0M586.7 738.1h0M586.8 868.3h0M586.8 727.3h0M586.8 807.9h0M586.8 780.9h0M586.9 748h0M587 848.1h0M587 800.9h0M587 804.6h0M587.1 811.9h0M587.1 766.4h0M587.2 838.5h0M587.2 866.7h0M587.3 831.6h0M587.5 778.6h0M587.6 783.6h0M587.6 841.2h0M587.6 894.1h0M587.8 844.8h0M587.8 852h0M587.9 835.1h0M587.9 880.3h0M588 818.7h0M588 828.6h0M588 815.4h0M588 884.8h0M588.1 795.6h0M588.4 790.1h0M588.6 830.9h0M588.6 825.3h0M588.7 871.6h0M589 815h0M589 862.3h0M589.1 845.2h0M589.1 838.4h0M589.1 890.3h0M589.2 847.7h0M589.2 875.1h0M589.3 866.7h0M589.3 862.4h0M589.3 841.5h0M589.5 820.2h0M589.5 813h0M589.7 834.5h0M589.8 796.8h0M590.1 808.9h0M590.2 912.3h0M590.2 916.7h0M590.3 815.5h0M590.7 918.7h0M591.1 912.6h0M591.3 863.4h0M591.3 899.3h0M591.8 927.2h0M591.8 910.9h0M591.9 856.5h0M592 919.5h0M592 909.5h0M592.1 912.6h0M592.2 922.1h0M592.2 897.8h0M592.3 902.8h0M592.3 922.2h0M592.3 864.4h0M592.3 906.8h0M592.4 928h0M592.7 916.4h0M592.7 930.7h0M592.9 869.7h0M593.8 850.6h0M593.9 871.1h0M594 937.2h0M594.1 777.8h0M594.2 867.5h0M594.2 854h0M594.4 692h0M594.4 806.2h0M594.4 725.5h0M594.4 858.6h0M594.4 749.4h0M594.6 789.4h0M594.7 702.6h0M594.7 863.2h0M594.7 866.6h0M594.8 783h0M594.8 878.8h0M594.8 848.1h0M594.9 857.8h0M594.9 754.3h0M594.9 760.3h0M594.9 837.9h0M595 869.8h0M595.1 841h0M595.2 835.6h0M595.2 875.3h0M595.2 773.2h0M595.2 708.9h0M595.4 802.2h0M595.4 847.1h0M595.5 732.9h0M595.5 698.6h0M595.6 720.6h0M595.7 817.7h0M595.8 862.3h0M595.9 823.3h0M595.9 716.4h0M595.9 852.9h0M596 893.4h0M596.1 795.4h0M596.1 736.7h0M596.1 874.4h0M596.3 848.5h0M596.4 812.8h0M596.6 853h0M596.6 884.9h0M596.6 890.6h0M596.7 743.2h0M596.7 868.4h0M596.8 766h0M596.8 887.1h0M596.9 863.2h0M596.9 895.1h0M596.9 847.8h0M597 828.9h0M597.1 882.8h0M597.1 890.8h0M597.2 857.2h0M597.3 878h0M597.4 896h0M597.6 869.1h0M597.8 877.4h0M597.8 904.4h0M597.9 901.1h0M598 881.4h0M598.1 871.9h0M598.4 883.7h0M598.5 896.5h0M598.8 894.1h0M598.9 882.5h0M599.2 905.4h0M599.3 888.2h0M599.3 900.1h0M599.3 909.3h0M599.7 892.2h0M599.9 876.3h0M600.2 896.9h0M600.2 905h0M600.3 901.5h0M600.3 873.7h0M600.5 901.8h0M600.7 886.7h0M600.8 912.1h0M601.1 909.3h0M601.1 913.2h0M601.1 812.8h0M601.2 883.1h0M601.2 899.5h0M601.3 878.9h0M601.4 824.3h0M601.4 888.4h0M601.4 820.4h0M601.5 914.6h0M601.7 903.8h0M601.7 882.1h0M601.7 887.1h0M601.7 877h0M601.9 907.3h0M601.9 882.5h0M601.9 908.2h0M601.9 894.9h0M602.1 912.6h0M602.4 897.7h0M602.5 904.4h0M602.7 875h0M602.7 900.1h0M602.8 908.5h0M602.9 881h0M603 901h0M603 892.3h0M603.1 912.7h0M603.1 892.2h0M603.1 815.3h0M603.5 876.8h0M603.6 872.2h0M603.6 892.1h0M603.8 895.1h0M604 878h0M604.1 887.9h0M604.2 886.3h0M604.2 897.9h0M604.3 882.2h0M604.3 904.4h0M604.4 894.7h0M604.6 884.2h0M604.6 881.1h0M604.7 877h0M604.8 849.7h0M604.9 884.1h0M604.9 862.7h0M604.9 881.2h0M604.9 862.3h0M605 868.6h0M605 863.9h0M605 859.3h0M605 876.7h0M605.1 900.7h0M605.6 855.3h0M605.7 847.9h0M605.7 873.3h0M605.7 881.3h0M605.8 843h0M605.8 867.9h0M605.9 872.5h0M605.9 892.2h0M605.9 885.3h0M606 888.6h0M606.1 895.5h0M606.2 852.7h0M606.2 898.7h0M606.2 877.5h0M606.3 848.7h0M606.5 856.9h0M606.6 831.5h0M606.7 862.2h0M606.7 850.4h0M606.7 825.6h0M606.8 835.4h0M606.8 847.7h0M606.9 834.1h0M607 830h0M607.1 845.1h0M607.2 838.7h0M607.2 865.5h0M607.2 817.2h0M607.3 869.6h0M607.6 840.8h0M607.6 782.2h0M607.6 817.6h0M607.7 853.4h0M607.7 830h0M607.9 817h0M608 870.5h0M608 866.9h0M608.2 830.5h0M608.2 791.2h0M608.2 823.1h0M608.4 822.9h0M608.5 863.5h0M608.5 852.5h0M608.5 752.8h0M608.6 717.1h0M608.6 858.6h0M608.7 841.4h0M608.7 873.4h0M608.8 798.7h0M608.8 710.8h0M608.8 833.5h0M608.9 743.3h0M608.9 673.9h0M608.9 771.7h0M609 804.7h0M609 803.6h0M609.1 691.6h0M609.1 726.3h0M609.2 678.7h0M609.2 705h0M609.3 666h0M609.3 730.1h0M609.3 763.5h0M609.4 876.5h0M609.4 686.2h0M609.4 800.6h0M609.5 817h0M609.5 810.6h0M609.5 736.8h0M609.6 879.3h0M609.7 860.1h0M609.7 825h0M609.7 812.7h0M609.7 830.8h0M609.8 807.1h0M609.8 837.3h0M609.8 828.8h0M609.9 871.6h0M609.9 846.3h0M610 864h0M610 868.5h0M610.1 820.3h0M610.1 850.5h0M610.1 783.5h0M610.1 889.8h0M610.2 887.5h0M610.2 820.5h0M610.3 821h0M610.3 854.5h0M610.4 757.9h0M610.4 698.6h0M610.5 826.8h0M610.6 778.9h0M610.6 764.6h0M610.7 862.7h0M610.7 836.2h0M611.1 844.3h0M611.1 836.1h0M611.2 841.3h0M611.2 874.9h0M611.2 866.9h0M611.3 884.2h0M611.4 879.6h0M611.6 852.9h0M611.8 839.6h0M611.9 873.3h0M611.9 876.1h0M612 870.3h0M612 890.1h0M612 856.7h0M612.2 848.3h0M612.2 821.2h0M612.4 816.8h0M612.5 900.3h0M612.7 889h0M612.8 879.2h0M612.8 885.2h0M613 807.9h0M613 885.7h0M613.1 897.7h0M613.2 895.8h0M613.2 870.8h0M613.4 873.1h0M613.4 903.2h0M613.6 900.1h0M613.7 885.8h0M614.2 893.3h0M614.6 842.2h0M614.7 864.7h0M614.8 905.4h0M614.8 881.3h0M614.9 833h0M614.9 899.5h0M615.1 811.2h0M615.1 885.5h0M615.3 851.6h0M615.6 859.7h0M615.7 806.1h0M615.7 876.6h0M615.8 872.3h0M615.8 831.3h0M615.9 867.8h0M616 826.4h0M616 854.6h0M616 843.7h0M616.2 847.3h0M616.2 831h0M616.3 835h0M616.4 818.5h0M616.4 838.7h0M616.6 872.2h0M616.7 820.6h0M616.7 851.7h0M616.8 863h0M616.9 868.1h0M617 856.4h0M617.3 839.9h0M617.3 787h0M617.4 847h0M617.4 851.6h0M617.6 859.6h0M617.8 818.5h0M617.8 881.4h0M617.9 881h0M617.9 848.8h0M618 854.6h0M618.1 793.4h0M618.1 762.7h0M618.1 876.8h0M618.1 883.5h0M618.2 847.2h0M618.2 894.3h0M618.3 867.3h0M618.6 890.3h0M618.7 860h0M618.7 861.5h0M618.7 765h0M618.8 769.6h0M618.8 782.7h0M618.9 863.5h0M618.9 872h0M618.9 847.2h0M619 898h0M619 876.6h0M619 856h0M619 870.4h0M619.1 886h0M619.1 850.3h0M619.3 776.6h0M619.3 813.7h0M619.3 853.9h0M619.5 809.3h0M619.5 838.4h0M619.5 823.5h0M619.6 838.4h0M619.7 847.6h0M619.8 897.7h0M619.8 867.2h0M619.9 890h0M619.9 830.9h0M619.9 868.4h0M620 797.2h0M620.1 881.8h0M620.1 769.6h0M620.2 874.9h0M620.3 857.9h0M620.3 839.3h0M620.3 842.6h0M620.3 881.6h0M620.3 885.9h0M620.4 879.1h0M620.4 853.2h0M620.4 836h0M620.7 844.2h0M620.7 872.9h0M620.8 893.6h0M620.8 891.2h0M620.8 834.7h0M620.9 878.3h0M620.9 898.8h0M621 802.8h0M621 882.5h0M621.3 894.6h0M621.4 863.7h0M621.6 882.8h0M621.7 890.7h0M621.9 886.1h0M622 887.6h0M622.1 858.2h0M622.1 853.3h0M622.2 899.9h0M622.2 738.6h0M622.2 778.1h0M622.3 792.5h0M622.4 852h0M622.6 893.2h0M622.6 886.6h0M622.7 732.8h0M622.8 786.3h0M622.8 725h0M622.8 713.8h0M622.9 862.4h0M623 876.3h0M623 882.1h0M623.1 745.1h0M623.2 894.9h0M623.2 867.3h0M623.3 896.2h0M623.4 872.8h0M623.4 884.2h0M623.4 900.3h0M623.4 719.3h0M623.5 749.2h0M623.5 889.7h0M623.6 843.9h0M623.8 835.9h0M623.8 856.6h0M624.1 823.1h0M624.2 847.4h0M624.2 852.2h0M624.7 860.5h0M624.8 844.1h0M624.9 839.4h0M625 826.4h0M625.1 834.3h0M625.1 862.2h0M625.1 826.8h0M625.2 859.6h0M625.2 815.5h0M625.2 831.4h0M625.2 827.2h0M625.2 819.7h0M625.3 839h0M625.3 855.2h0M625.3 824.1h0M625.4 868.1h0M625.6 839.2h0M625.7 892.7h0M625.9 872.6h0M625.9 876.9h0M626 855.8h0M626 850.9h0M626 847.3h0M626.1 831.7h0M626.1 861h0M626.1 865.5h0M626.2 883.7h0M626.3 869.2h0M626.3 865.3h0M626.3 834.7h0M626.7 880.1h0M626.8 900.6h0M627 889.5h0M627 886.7h0M627 912.5h0M627.2 889.6h0M627.2 845.5h0M627.2 851.8h0M627.2 883.3h0M627.2 849.2h0M627.4 884.4h0M627.5 894.4h0M627.7 928.9h0M627.7 897.2h0M628.1 914.9h0M628.1 921.1h0M628.3 904.3h0M628.3 924.7h0M628.3 907.9h0M628.6 905.9h0M628.6 895.6h0M628.7 916.2h0M628.9 901.4h0M629.1 911h0M629.1 908.7h0M629.2 911.9h0M629.3 913.5h0M629.3 921.3h0M629.6 925.6h0M629.6 895.2h0M630.1 882.7h0M630.2 848.7h0M630.3 866.9h0M630.5 875h0M630.6 812.8h0M630.7 848.4h0M630.7 878.5h0M630.7 866.5h0M630.8 859.3h0M630.9 844.9h0M631 836.9h0M631.1 862.7h0M631.1 827.8h0M631.2 833.1h0M631.2 870.7h0M631.3 848.6h0M631.3 853.4h0M631.3 877.4h0M631.4 871.7h0M631.4 736h0M631.5 873.8h0M631.6 853.6h0M631.6 808.2h0M631.6 798h0M631.7 840h0M631.7 858.4h0M631.7 803.2h0M631.7 844.1h0M631.7 777.2h0M631.7 790.9h0M631.8 823.4h0M631.8 817h0M631.8 794.5h0M631.9 832.1h0M631.9 819.5h0M632 828h0M632 763.7h0M632 858.4h0M632.1 801.5h0M632.1 779h0M632.1 776.1h0M632.1 840.5h0M632.2 861.7h0M632.2 788h0M632.2 818.6h0M632.4 824.9h0M632.5 837.1h0M632.5 742.9h0M632.5 778.1h0M632.8 847.5h0M632.8 793.8h0M632.8 855.6h0M632.8 818.3h0M632.9 839.2h0M633 751.2h0M633 862.5h0M633 788.7h0M633.1 823.1h0M633.1 771.2h0M633.1 814.5h0M633.2 803.4h0M633.2 850.9h0M633.2 812.5h0M633.2 771.5h0M633.2 797.7h0M633.3 782.5h0M633.3 783.9h0M633.3 854.1h0M633.3 810h0M633.3 789.4h0M633.5 831.4h0M633.6 851.6h0M633.6 780.9h0M633.7 790h0M633.9 738.1h0M633.9 773.9h0M633.9 857.9h0M634 799.1h0M634 755.8h0M634 848.7h0M634.2 828.1h0M634.2 781h0M634.2 834.8h0M634.2 784.4h0M634.2 807.2h0M634.2 752.6h0M634.2 803.8h0M634.3 794h0M634.3 844.2h0M634.3 800.2h0M634.4 764.3h0M634.4 771.1h0M634.5 798h0M634.6 746.5h0M634.8 824.4h0M634.8 741.5h0M634.8 741.8h0M634.8 764.6h0M634.8 793.4h0M634.9 785.8h0M634.9 838.7h0M635 761.4h0M635 782.7h0M635 767.3h0M635.1 776.2h0M635.1 802.2h0M635.1 797.4h0M635.1 806.6h0M635.1 855.3h0M635.1 811.8h0M635.1 777.9h0M635.3 789.1h0M635.4 816.4h0M635.5 852.9h0M635.5 787.3h0M635.6 772h0M635.6 767.5h0M635.6 836h0M635.7 733h0M635.8 759.2h0M635.8 772.2h0M635.8 779.6h0M635.8 792.7h0M635.8 827.4h0M635.9 860.7h0M636 777.6h0M636 833.5h0M636.1 769.4h0M636.1 801.6h0M636.1 830.5h0M636.2 769.7h0M636.2 767.6h0M636.2 765.1h0M636.2 881.2h0M636.2 820.4h0M636.3 847.3h0M636.3 867.6h0M636.3 877.1h0M636.4 849.9h0M636.4 774.3h0M636.4 843.7h0M636.7 872.8h0M636.9 817.8h0M637.1 834.8h0M637.1 829h0M637.1 864.8h0M637.2 851.7h0M637.5 839.5h0M637.7 855.9h0M637.7 813.4h0M637.7 860.5h0M637.7 859.7h0M637.8 857.1h0M637.8 863.7h0M637.8 821.3h0M637.9 843.5h0M638 819.4h0M638.1 822.4h0M638.1 794.4h0M638.2 849.3h0M638.2 872h0M638.2 831.7h0M638.3 824.3h0M638.3 818.6h0M638.3 846.6h0M638.5 868.1h0M638.6 878.5h0M638.7 866.3h0M638.7 858.2h0M638.8 888.1h0M638.8 813.9h0M638.8 838.8h0M638.8 875.4h0M638.9 837.2h0M638.9 828.3h0M639 854.3h0M639 876.8h0M639.1 853.7h0M639.1 824.9h0M639.1 862.9h0M639.1 845.1h0M639.2 834.7h0M639.2 850.2h0M639.2 864.9h0M639.3 836.4h0M639.4 830.8h0M639.4 831.3h0M639.6 826.3h0M639.7 845.6h0M639.7 869.3h0M639.7 841.5h0M639.7 815.3h0M640 891.3h0M640 876.3h0M640 886.9h0M640.2 870.5h0M640.2 868.4h0M640.2 881.4h0M640.3 872.9h0M640.3 883.9h0M640.3 799.1h0M640.5 882.2h0M640.7 878.4h0M640.7 870h0M640.7 896.3h0M641 832.3h0M641 804h0M641 839.6h0M641.2 842.3h0M641.2 824.9h0M641.2 811.7h0M641.2 890.6h0M641.2 891.7h0M641.3 888.3h0M641.5 846.5h0M641.5 875.4h0M641.5 857.3h0M641.6 865.5h0M641.7 889h0M641.9 904.2h0M641.9 807.3h0M642 851.2h0M642 831.5h0M642 881.3h0M642 790h0M642.1 885.3h0M642.2 862.1h0M642.3 891.4h0M642.4 888.6h0M642.6 907.6h0M642.7 795.1h0M642.8 801.3h0M642.8 922.5h0M643.1 895.3h0M643.1 883.6h0M643.2 899.8h0M643.4 901.4h0M643.7 930.4h0M643.8 910.9h0M643.9 896.9h0M643.9 882.7h0M644.1 890.3h0M644.1 915.8h0M644.2 906.8h0M644.3 919h0M644.5 937.7h0M644.6 925.5h0M644.6 925.1h0M644.9 889.6h0M645 941.9h0M645.1 936.6h0M645.1 934.5h0M645.6 946.3h0M646.1 961.6h0M646.2 936.6h0M646.2 965.1h0M646.4 949.2h0M646.8 957h0M647 952.6h0M647 923.1h0M647.1 964.8h0M647.2 928.3h0M647.3 961.6h0M647.3 968.6h0M647.4 947.7h0M647.7 954.3h0M647.8 957.8h0M647.9 967.4h0M647.9 935.3h0M648 971.7h0M648.1 953.3h0M648.5 964.6h0M648.7 963.1h0M649.1 958h0M649.3 959.6h0M649.8 956.5h0M650 962.8h0M650 958.5h0M650.1 967.3h0M650.2 962.7h0M650.3 928.2h0M650.7 971.1h0M650.8 970.5h0M651.1 953.9h0M651.1 975.6h0M651.2 962.1h0M651.2 954.5h0M651.3 966.9h0M651.7 955.1h0M652 955.7h0M652.1 934.5h0M652.5 950.8h0M652.8 955.7h0M652.9 959.6h0M653.3 949.9h0M653.4 963h0M653.5 964.7h0M653.8 969.1h0M653.9 972.8h0M654.2 972.9h0M654.4 966h0M654.6 969.3h0M655 976.3h0M655.3 971.5h0M655.3 970.8h0M655.5 976.6h0M655.8 932.3h0M655.9 975.2h0M655.9 967.5h0M656.4 957.5h0M656.7 967.9h0M657.1 972.6h0M657.1 957.3h0M657.2 962h0M657.4 956h0M657.6 971.4h0M657.7 971.3h0M657.9 962.8h0M658 975.2h0M658 957.6h0M658 963.1h0M658.2 959.2h0M658.4 975.1h0M658.6 958.4h0M658.7 965.2h0M658.9 967.5h0M658.9 959.7h0M659.1 960.7h0M659.5 968.5h0M659.7 960.7h0M660 976.7h0M660.1 971.5h0M660.8 975.7h0M661 950.8h0M661.1 944.3h0M661.2 974.9h0M661.4 972.9h0M662 938.2h0M662.4 971h0M662.4 971h0M662.7 974.7h0M662.7 943.5h0M662.7 948.4h0M663 939.1h0M663.3 937.8h0M663.6 968.2h0M663.7 971.4h0M663.8 952.1h0M664.5 964h0M665 916.8h0M665.1 958h0M665.2 964.6h0M665.4 931.6h0M665.6 925.2h0M665.8 966.8h0M665.9 957.9h0M665.9 966.2h0M666.1 962.9h0M666.3 957.3h0M666.4 958.8h0M667.1 962.4h0M667.1 970.9h0M667.1 955.4h0M667.1 964.9h0M667.3 967.8h0M667.7 967.1h0M667.9 955.9h0M668 960.2h0M668.8 945h0M668.8 971.3h0M668.9 922.6h0M669 958.5h0M669 963.8h0M669.1 967.7h0M669.1 958.8h0M669.2 962h0M669.3 970.7h0M669.7 966.5h0M669.9 952.6h0M670 944.7h0M670.1 961.9h0M670.2 947.7h0M670.8 970.5h0M671.3 962.5h0M671.5 965.9h0M671.6 970.1h0M672.1 966.8h0M672.2 964.8h0M672.3 954.6h0M672.4 959.4h0M672.7 962.8h0M672.8 953.1h0M672.8 959.4h0M672.9 962.3h0M672.9 955.2h0M673.1 949.4h0M673.7 948.6h0M674 940.5h0M674.2 904.2h0M674.4 928h0M674.6 936.1h0M674.7 916.3h0M674.7 922.5h0M675 944.4h0M675.2 932.1h0M675.2 915.4h0M675.4 918.2h0M675.6 919.4h0M675.9 909.8h0M675.9 884.3h0M675.9 878.3h0M676 873.2h0M676.1 923h0M676.2 887.8h0M676.2 869.2h0M676.4 910.4h0M676.6 880.7h0M676.7 870h0M676.8 886.1h0M677 898.7h0M677 833.8h0M677 838h0M677.1 754.7h0M677.3 882.5h0M677.5 762.2h0M677.5 869.8h0M677.5 876.6h0M677.6 861.1h0M677.6 835.3h0M677.6 869.4h0M677.6 873.6h0M677.7 843.5h0M677.7 850.1h0M677.7 854.4h0M677.7 889.5h0M677.8 863.1h0M677.9 775.3h0M678 872.6h0M678 894.1h0M678 776.4h0M678.1 856h0M678.3 848.6h0M678.3 864.2h0M678.3 879.3h0M678.4 778.1h0M678.6 833h0M678.7 837.8h0M678.7 843.3h0M678.9 858.7h0M678.9 880.1h0M679.1 842.7h0M679.1 876h0M679.2 866.8h0M679.3 853.3h0M679.4 842.4h0M679.6 808.2h0M679.6 817.1h0M679.6 769.7h0M679.6 717.5h0M679.8 812.5h0M679.8 817.5h0M679.8 722.3h0M679.8 860.1h0M679.8 814.4h0M679.9 808h0M679.9 793.4h0M679.9 782.9h0M679.9 856h0M680 850.1h0M680 847.5h0M680.1 787.4h0M680.1 822.3h0M680.3 827.3h0M680.3 862.8h0M680.4 810h0M680.4 805.5h0M680.5 776h0M680.5 777.1h0M680.6 765.7h0M680.6 796.1h0M680.8 818.2h0M680.8 811.3h0M680.8 776.8h0M680.9 797h0M681 780.8h0M681.1 750h0M681.1 782.5h0M681.1 793.1h0M681.1 803h0M681.2 800h0M681.5 713.2h0M681.5 815.8h0M681.6 734h0M681.7 807.2h0M681.7 778.2h0M681.8 767.5h0M681.9 686.5h0M682 782.8h0M682.1 715.4h0M682.1 659.2h0M682.1 793h0M682.2 785.9h0M682.2 683.9h0M682.2 661.3h0M682.2 786.7h0M682.2 654.4h0M682.3 695.1h0M682.3 789.8h0M682.4 756.5h0M682.4 690.7h0M682.5 653h0M682.5 773h0M682.5 635.2h0M682.5 729.1h0M682.6 624.1h0M682.6 617h0M682.6 726.5h0M682.7 749.5h0M682.7 706.3h0M682.7 799.5h0M682.8 650h0M682.8 648.3h0M682.8 750.5h0M682.8 679.9h0M682.8 738.8h0M682.9 751.3h0M682.9 746.5h0M682.9 736.7h0M682.9 677.6h0M682.9 729.5h0M682.9 765.8h0M682.9 743h0M683 789.3h0M683 796.2h0M683.1 714.6h0M683.1 721.6h0M683.1 642.8h0M683.1 757.6h0M683.1 679.4h0M683.2 730.1h0M683.2 778h0M683.2 768.8h0M683.3 709.3h0M683.3 697.8h0M683.3 740.6h0M683.3 761.1h0M683.4 793.3h0M683.4 675.3h0M683.4 785.6h0M683.4 679.5h0M683.5 733.5h0M683.5 628h0M683.6 638h0M683.6 723.8h0M683.6 769.9h0M683.6 755.3h0M683.7 717.8h0M683.7 745.7h0M683.7 727.2h0M683.8 701.2h0M683.8 687.2h0M683.8 726.7h0M683.8 750h0M683.9 763.1h0M683.9 721h0M683.9 719.7h0M683.9 758.5h0M684 612.8h0M684 654.6h0M684 754h0M684 665.2h0M684.1 780.1h0M684.1 777.1h0M684.1 743.8h0M684.1 762.9h0M684.2 734.4h0M684.2 798.4h0M684.2 792h0M684.2 692.3h0M684.2 667.6h0M684.2 695.6h0M684.3 766.7h0M684.4 713.8h0M684.4 670.7h0M684.4 709.2h0M684.5 700.8h0M684.6 731h0M684.6 704.5h0M684.7 764.2h0M684.8 714.1h0M684.8 761h0M684.9 765.2h0M684.9 801.4h0M685 744.7h0M685 772.5h0M685 728.1h0M685 779.4h0M685.1 709.5h0M685.1 759.6h0M685.1 722.3h0M685.1 745.5h0M685.2 692.8h0M685.2 703.7h0M685.2 706.6h0M685.2 740.1h0M685.2 731.7h0M685.3 720.1h0M685.3 661.1h0M685.4 770.8h0M685.5 738.9h0M685.6 701.5h0M685.6 754h0M685.6 707.2h0M685.7 734.8h0M685.7 733.4h0M685.7 757.4h0M685.8 705.5h0M685.9 757.5h0M685.9 766.9h0M686 749.9h0M686 719.2h0M686 718.2h0M686 788.1h0M686.2 797.6h0M686.3 725.2h0M686.3 747.2h0M686.3 761h0M686.3 724.8h0M686.4 792.9h0M686.4 719.6h0M686.4 743.8h0M686.5 749.2h0M686.5 779.7h0M686.7 792.2h0M686.7 765.8h0M686.7 803.5h0M686.8 766.7h0M686.8 784.6h0M686.9 740.1h0M687.1 780.1h0M687.1 764.4h0M687.2 753h0M687.2 729.5h0M687.2 788.6h0M687.6 776.1h0M687.6 818.4h0M687.7 815.5h0M687.7 795.7h0M687.7 765.3h0M687.8 811.5h0M688 793.4h0M688.1 799.4h0M688.1 800.3h0M688.2 806.4h0M688.3 770.1h0M688.3 792.5h0M688.6 802.4h0M688.6 834.4h0M688.6 807.6h0M688.6 828.3h0M688.7 825.6h0M688.9 796.1h0M689.2 814.1h0M689.2 823.2h0M689.2 822.5h0M689.2 800.2h0M689.4 790.2h0M689.5 810h0M689.5 768.1h0M689.5 805.5h0M689.6 836.9h0M689.6 831.4h0M689.7 882.2h0M689.8 872.4h0M689.8 789.2h0M689.8 840.7h0M689.8 879.2h0M689.8 845.3h0M689.9 822.9h0M690 818.8h0M690 869.1h0M690 885.4h0M690.1 875.7h0M690.3 840.6h0M690.3 893.6h0M690.4 827.2h0M690.5 890.1h0M690.5 855.5h0M690.7 835.1h0M690.7 856.8h0M690.8 864.5h0M690.8 854.2h0M690.8 819.3h0M691 859h0M691 851.3h0M691.1 832.1h0M691.1 848h0M691.3 818.2h0M691.4 862.8h0M691.5 850.4h0M691.5 871h0M691.5 866.7h0M692 873.8h0M692 933.7h0M692.1 936.5h0M692.1 906.8h0M692.2 916.4h0M692.2 930.3h0M692.4 876.5h0M692.6 926h0M692.7 939.2h0M692.7 920.5h0M692.7 930.8h0M692.7 934.5h0M692.8 927h0M692.9 910.6h0M693 946.2h0M693.1 906.6h0M693.7 941.9h0M694 926.8h0M694 948.1h0M694 961.9h0M694.2 946.9h0M694.9 954.9h0M695 952.4h0M695.1 958h0M695.1 948.6h0M695.3 956.9h0M695.3 951h0M695.3 969.4h0M695.5 966.6h0M695.9 961.7h0M695.9 963.9h0M696 945.1h0M696 950.4h0M696.3 855h0M696.4 862.5h0M696.4 879.1h0M696.5 866.5h0M696.9 959.8h0M697 975.1h0M697 971h0M697.1 873h0M697.2 962.3h0M697.2 954.5h0M697.2 958.6h0M697.4 966.5h0M698.1 958.3h0M698.4 956.7h0M698.6 948.8h0M698.6 946h0M698.9 953.1h0M699.1 957.8h0M699.3 953h0M699.4 943.8h0M700 941.7h0M700.2 960.6h0M700.2 956.1h0M700.3 943.8h0M700.3 948.5h0M700.4 948h0M700.7 963.8h0M700.8 953.3h0M701 951.6h0M701 948.1h0M701.4 939.8h0M701.6 943.1h0M701.8 940.7h0M701.9 956.7h0M702 968.1h0M702.2 950h0M702.3 960.5h0M702.3 955.4h0M702.4 951.6h0M702.7 931h0M703.1 960.8h0M703.2 900.9h0M703.4 912.8h0M703.4 916.8h0M703.4 907.5h0M703.6 894.7h0M703.7 927h0M703.9 922.4h0M703.9 906.4h0M704 922.9h0M704.1 903.5h0M704.2 918.7h0M704.2 908h0M704.3 925.5h0M704.3 911.5h0M704.3 908.7h0M704.4 920.2h0M704.5 929.9h0M704.6 928.4h0M704.8 899.1h0M705 914.4h0M705.1 915.6h0M705.2 900.4h0M705.4 920.4h0M705.4 923.8h0M705.5 910.4h0M705.6 910.5h0M705.8 863h0M706.1 867.9h0M706.2 885.2h0M706.2 879.6h0M706.3 888.1h0M706.5 870.9h0M706.6 853h0M706.7 891h0M706.7 853.3h0M706.7 894.3h0M706.8 882.1h0M706.8 886.2h0M706.9 866.3h0M707 849.5h0M707 874.8h0M707.1 846h0M707.3 874.5h0M707.4 856.2h0M707.4 834.2h0M707.6 856.9h0M707.7 855.4h0M707.7 828.8h0M707.7 839.6h0M707.8 824.4h0M707.9 780.3h0M707.9 835.3h0M707.9 786.2h0M708 878.8h0M708 906.8h0M708.1 861.2h0M708.1 800h0M708.2 883h0M708.2 890.3h0M708.2 869.5h0M708.2 764.4h0M708.3 900h0M708.3 904h0M708.4 852.7h0M708.4 788.5h0M708.4 886.5h0M708.5 819.9h0M708.5 910.7h0M708.6 860.1h0M708.6 875.6h0M708.7 812h0M708.7 770.6h0M708.7 847.3h0M708.8 774.6h0M708.8 869.8h0M708.9 880h0M709 852.5h0M709 890.2h0M709 875.8h0M709 826.9h0M709.1 887.7h0M709.1 867.6h0M709.1 847.7h0M709.2 795.7h0M709.2 895.7h0M709.2 879.6h0M709.3 872.1h0M709.4 853h0M709.4 797.5h0M709.4 816.1h0M709.4 840.7h0M709.6 862.9h0M709.6 867.4h0M709.7 836.8h0M709.8 847.6h0M709.9 841.4h0M710 833h0M710 832h0M710 858.9h0M710 845.2h0M710 828.1h0M710.1 837.3h0M710.1 883.5h0M710.2 826.6h0M710.3 851.8h0M710.3 832.4h0M710.3 858.9h0M710.4 843.6h0M710.6 802.2h0M710.7 857.4h0M711 837.8h0M711 840.6h0M711 827.3h0M711 836.5h0M711.1 861.3h0M711.2 853.8h0M711.3 856.1h0M711.6 850.5h0M711.8 830h0M712 832.3h0M712.1 898.3h0M712.2 845h0M712.2 903.5h0M712.3 908.4h0M712.3 894.9h0M712.6 912.4h0M712.9 877.7h0M712.9 892.9h0M712.9 888.8h0M713.4 896.6h0M713.6 866.9h0M713.7 888.7h0M713.8 905.7h0M713.8 868.4h0M713.8 881.3h0M713.9 899.1h0M713.9 872h0M714 892.5h0M714 855.3h0M714 899.7h0M714 886.2h0M714.2 846.4h0M714.2 901.9h0M714.3 878.8h0M714.4 883.5h0M714.5 875.4h0M714.6 910h0M714.8 896.1h0M714.9 889.8h0M715.1 874h0M715.1 856.1h0M715.2 902.3h0M715.4 887.3h0M715.7 895.2h0M715.7 898.8h0M715.8 862.6h0M715.9 901.5h0M715.9 908.2h0M715.9 892.7h0M716.1 916.3h0M716.3 905.1h0M716.3 891.3h0M716.7 897.4h0M716.8 926.5h0M717.2 905.5h0M717.3 911.7h0M717.3 905h0M717.9 935.7h0M718.1 921.8h0M718.2 882.7h0M718.2 918.6h0M718.2 931.3h0M718.3 912.4h0M718.5 892.8h0M718.7 907.2h0M718.7 878.3h0M718.7 918.1h0M719 898.1h0M719.2 892.5h0M719.4 902.5h0M719.6 921.8h0M719.8 925.6h0M719.8 902.2h0M719.9 921.3h0M719.9 907.6h0M720.1 913.9h0M720.2 908.9h0M720.3 913.8h0M720.4 904.7h0M720.5 910.3h0M720.7 933.7h0M720.8 918.1h0M720.8 925.1h0M721.2 929.5h0M721.7 954.9h0M721.8 924.4h0M722.1 947.4h0M722.3 918.3h0M722.8 954h0M723 963.4h0M723.2 949.9h0M723.3 958.4h0M723.6 955.2h0M723.9 941.8h0M723.9 958.8h0M723.9 955h0M724 966.6h0M724.2 959.4h0M724.6 936.7h0M724.9 946.8h0M725.1 918.4h0M725.2 950.3h0M725.3 924.4h0M725.3 961.5h0M725.4 936.2h0M725.5 918.7h0M725.7 951.6h0M725.8 942.8h0M725.8 935.8h0M725.8 927.4h0M726.3 947.5h0M726.3 931.3h0M726.6 890h0M726.6 893.3h0M726.6 954.2h0M726.7 943.5h0M726.8 901.2h0M727 955.5h0M727 962.3h0M727.6 950.7h0M727.6 905.3h0M727.7 915.9h0M727.9 899.1h0M728 911.8h0M728.1 893.5h0M728.2 966.2h0M728.3 936.5h0M728.3 956.7h0M728.4 944.9h0M728.4 949.8h0M728.7 952.9h0M728.8 957.3h0M729.3 939h0M729.4 935.2h0M729.4 962.2h0M729.9 969.9h0M730.1 978.4h0M730.2 972.8h0M730.2 963.3h0M730.4 968.9h0M730.7 978.5h0M730.9 969.1h0M730.9 973h0M731.1 978.5h0M731.8 975.3h0M732.3 969.4h0M732.3 974.9h0M732.7 970h0M732.9 969.4h0M732.9 964.3h0M733 974h0M733.9 972.5h0M733.9 965.1h0M734.1 977.7h0M734.1 973h0M734.3 980.7h0M734.4 969.2h0M734.6 967.8h0M734.7 938.5h0M734.9 977.3h0M735.5 946.4h0M735.6 975.1h0M735.8 951.2h0M736.6 990.5h0M736.7 984.1h0M736.8 986.2h0M737.1 986.1h0M737.3 985.3h0M737.5 988.7h0M737.7 993.1h0M737.8 996.2h0M738 985h0M738.1 992.4h0M738.2 994.5h0M738.6 980.2h0M739 990.7h0M739 987.4h0M739.4 987.6h0M739.5 993.8h0M739.7 989.6h0M739.7 990.9h0M740.2 992.8h0M740.8 987.4h0M741.1 987.7h0M741.2 987.3h0M741.2 991.6h0M742.1 995.1h0M742.3 990h0M742.6 990.8h0M743 994.1h0M743.1 995.2h0M743.2 1000h0M743.3 996.2h0M743.8 997.8h0M744.5 996.8h0M744.5 1000.8h0M745.7 1006.5h0M745.9 1006.6h0M745.9 1005.4h0M746.1 1006.9h0M746.8 1012.3h0M747.5 1007.8h0M747.9 1009h0M748.1 1005.2h0M748.5 1002.8h0M748.8 1003.9h0M749.1 1006.9h0M749.1 1007.9h0M749.9 1008.1h0M751.1 1007h0M751.3 1006.2h0M751.5 1007.7h0M752.1 1009.3h0M753.3 991.1h0M753.3 994h0M753.4 993.4h0M754.2 940.5h0M754.6 949.4h0M754.7 972.6h0M754.9 972.5h0M754.9 953.6h0M755.2 910h0M755.2 976.9h0M755.2 953.5h0M755.3 940.8h0M755.4 918h0M755.4 961.1h0M755.7 958.2h0M755.8 942.3h0M755.8 951.9h0M755.8 945.3h0M755.8 938.8h0M755.9 934.4h0M756.1 928.9h0M756.1 955.6h0M756.1 946.4h0M756.2 949.7h0M756.3 915.2h0M756.4 924.4h0M756.8 954.5h0M756.9 948.1h0M756.9 942.8h0M757.2 929h0M757.3 920.6h0M757.3 946.3h0M757.4 949.9h0M757.6 958.8h0M757.7 940.7h0M757.8 955.1h0M757.9 937.1h0M758.2 926.6h0M758.2 958.6h0M758.4 967h0M758.4 951.1h0M758.4 963.6h0M758.7 971.2h0M758.9 974.5h0M759.3 951.5h0M759.3 962.1h0M759.4 969.7h0M759.7 978.9h0M759.8 956.6h0M759.8 978.7h0M760.2 966h0M760.2 957h0M760.4 974.1h0M760.4 975.3h0M761.7 992.3h0M761.8 992.3h0M761.9 991.1h0M762.4 990.5h0M763 1001.2h0M763.1 1004.8h0M763.1 996.5h0M763.6 1001.2h0M763.7 1000.1h0M764.1 999.1h0M764.3 993.9h0M765 1005.2h0M765.4 999.6h0M765.5 1003.7h0M765.7 999.7h0M765.7 991.5h0M765.8 996.6h0M766 985.3h0M766.2 1000.5h0M766.3 993.6h0M766.6 989.5h0M766.7 990.1h0M766.9 986.1h0M767.9 986.8h0M768.3 985.9h0M768.8 981.6h0M769.1 978.4h0M769.2 974.7h0M769.3 989.8h0M769.4 977.5h0M769.5 984.1h0M769.6 968h0M769.6 982.1h0M769.6 987.5h0M770.2 994.1h0M770.3 989.4h0M770.7 989h0M771.2 999.2h0M771.9 1000.3h0M772.7 998.3h0M773 1000.6h0M773.2 1001.6h0M773.7 1004.7h0M773.9 1003.5h0M773.9 995.5h0M774 996.8h0M774.3 1004.3h0M775.1 1001.3h0M775.9 982.2h0M776.3 1002.3h0M776.5 979.6h0M776.6 982h0M776.7 982.9h0M776.7 991.2h0M776.8 985.5h0M777.1 984.3h0M777.2 979.5h0M777.3 987.3h0M778 986.5h0M778 996.4h0M778.3 983.6h0M778.3 1001h0M779 996.1h0M779.1 1001.5h0M779.2 1002.6h0M779.4 1004h0M780.1 1003.7h0M780.8 1006h0M781.5 1004.2h0M781.8 1004.5h0M782.2 1007.1h0M782.3 1002.9h0M782.6 1002.7h0M783.1 1002.9h0M783.2 994.3h0M783.4 1007.2h0M784 997.8h0M784 993.5h0M784 1006.9h0M784 1009.8h0M784.1 1002.8h0M785.1 999.9h0M785.3 1009.3h0M785.6 999.7h0M786.4 1004.9h0M786.9 1005.6h0M787 1014.2h0M787.4 1013h0M788.4 1012.1h0M788.8 1013.3h0M790 1010.8h0M790 1014.3h0M790.2 1014.3h0M791 1009.6h0M791.2 1009.9h0M791.4 996.5h0M791.7 1008.1h0M791.8 1006.4h0M792.9 994.5h0M792.9 1004.3h0M793.4 991.6h0M794.1 982.1h0M794.6 986.7h0M794.6 983.9h0M794.7 972h0M795 964.9h0M795.1 958.7h0M795.3 950h0M795.4 944.9h0M795.8 968.1h0M795.8 933.1h0M795.9 905.9h0M796 926.2h0M796.1 923.5h0M796.2 963.9h0M796.5 951.1h0M796.6 942.5h0M796.6 898.2h0M796.8 926.8h0M796.9 947.2h0M796.9 917.2h0M797.2 938h0M797.3 950.1h0M797.4 880.3h0M797.5 914.2h0M797.5 895.3h0M797.7 910.5h0M797.9 902.5h0M797.9 955.9h0M797.9 934.3h0M798.2 960.9h0M798.2 930.6h0M798.4 926.4h0M798.4 952.5h0M798.7 936.7h0M798.8 922.3h0M798.9 943.3h0M798.9 920.1h0M798.9 887h0M799.1 921.6h0M799.2 938.8h0M799.2 946.1h0M799.6 883.1h0M799.7 965h0M799.7 940.3h0M799.8 890h0M799.9 904.9h0M799.9 944h0M799.9 931.8h0M799.9 927.1h0M800 958.1h0M800.1 927.1h0M800.8 956.9h0M800.9 965.6h0M801.2 924.8h0M801.3 917.2h0M801.3 968.6h0M801.4 960.3h0M801.4 961.2h0M801.6 959.1h0M801.6 944.7h0M801.8 944.1h0M801.9 949.4h0M802 963.8h0M802.1 944.8h0M802.4 953.1h0M802.5 943.5h0M802.6 973.3h0M802.8 952.4h0M802.9 967.5h0M802.9 971h0M802.9 972.1h0M802.9 948h0M803.1 934.9h0M803.1 955.5h0M803.5 980.1h0M804 988.6h0M804.2 985.6h0M804.2 977.5h0M804.3 961.3h0M804.7 985.6h0M805.7 1008.7h0M806.2 1005.6h0M806.7 1007h0M806.8 1006.5h0M807.3 1004.4h0M808 1004.6h0M808.1 1010.4h0M808.4 1001.9h0M808.6 1002.8h0M808.9 996h0M809.8 1002h0M810 1000.5h0M810.3 997.8h0M810.4 1000.8h0M810.8 993.8h0M811 1001.5h0M811 1005.7h0M811.8 1010h0M811.9 1003.8h0M812 1008.5h0M812.7 1002.1h0M812.8 995.6h0M813.1 1003.9h0M813.7 999.5h0M813.9 999.4h0M814.1 1004h0M814.6 999.8h0M815.7 993.9h0M815.9 991.9h0M816.4 990.6h0M817 992.9h0M817 984.2h0M817.2 997.7h0M817.4 987.9h0M817.9 983.5h0M818.4 977.4h0M818.9 989h0M818.9 977.8h0M819.1 942.2h0M819.2 984.2h0M819.2 979h0M819.5 971.1h0M819.6 955.6h0M819.6 972.2h0M819.6 950.6h0M820.4 975.4h0M820.6 962.7h0M820.7 980.5h0M820.8 964.3h0M821.1 981.2h0M821.2 969.1h0M821.6 984.1h0M821.9 968.4h0M822 941.8h0M822.2 963.8h0M822.4 973.3h0M822.5 977.7h0M822.5 942.2h0M822.9 960.3h0M823 965.1h0M823.2 952.3h0M823.3 959h0M823.7 967.8h0M823.8 961.2h0M823.8 972.6h0M823.9 968h0M823.9 959.7h0M824 975.5h0M824.2 950.5h0M824.6 971h0M824.6 975.1h0M824.9 956.8h0M825 983.3h0M825 958.1h0M825 970.3h0M825.1 963.4h0M825.1 979.2h0M825.5 971.4h0M826.4 980.3h0M826.8 971.4h0M826.8 979.7h0M826.9 981.3h0M827.1 973.8h0M827.1 963.1h0M827.9 968.4h0M828 974.4h0M828 977.2h0M828.3 965.2h0M828.7 973.6h0M828.8 940.2h0M829 976.8h0M829.3 952.1h0M829.3 962.4h0M829.4 914.6h0M829.5 933.4h0M829.6 943.4h0M829.6 941.1h0M829.7 959.2h0M829.7 929.5h0M829.8 920.8h0M829.9 956.1h0M830 943.5h0M830.1 935.9h0M830.2 925.5h0M830.3 949.7h0M830.3 909h0M830.3 945h0M830.6 955.5h0M830.6 934.3h0M830.7 948.5h0M830.7 949.4h0M831.1 936.2h0M831.3 951.5h0M831.5 935.4h0M831.7 961.7h0M831.9 953.8h0M832 916.7h0M832.3 973.9h0M832.3 940.9h0M832.3 946h0M832.9 959.5h0M833 986.4h0M833.3 970.3h0M833.4 985.2h0M833.4 966.9h0M833.9 998.4h0M834 994.5h0M834.1 990.2h0M834.7 1001.5h0M835.2 1003.3h0M835.4 998.3h0M836.3 999.3h0M836.7 974.9h0M836.9 982.4h0M837 955.4h0M837 1002.3h0M837.4 972.3h0M837.9 956h0M838.1 978.7h0M838.2 940.2h0M838.4 946.9h0M838.6 910.7h0M838.7 924.9h0M838.7 951.3h0M838.7 902h0M838.8 942.4h0M838.8 893h0M839 887.6h0M839.1 928.2h0M839.2 914.5h0M839.4 917.7h0M839.5 897.8h0M839.6 886.4h0M839.6 888.6h0M839.7 921.6h0M839.9 879h0M840 891.8h0M840.1 870.4h0M840.2 882.6h0M840.4 906.6h0M840.4 885.1h0M840.6 926.1h0M840.7 932.4h0M840.9 860.7h0M841.1 924.9h0M841.1 873.8h0M841.7 917.1h0M841.9 907.9h0M842.1 929.2h0M842.2 920.8h0M842.3 901.7h0M842.8 900.8h0M842.9 873.7h0M842.9 859.3h0M843 895.6h0M843 913.3h0M843.2 834.4h0M843.2 904.9h0M843.4 852.8h0M843.4 906.6h0M843.5 873.4h0M843.7 838.8h0M843.8 857.3h0M843.9 892.1h0M843.9 854.6h0M843.9 903.9h0M844 843.6h0M844 913.7h0M844 849.1h0M844.1 836.8h0M844.2 878.4h0M844.2 884.3h0M844.3 831.8h0M844.3 889.4h0M844.4 910.2h0M844.4 917.4h0M844.4 825.3h0M844.6 897.5h0M844.8 906h0M844.8 817.9h0M844.9 858.7h0M844.9 913h0M844.9 888.8h0M845 902.5h0M845 850.6h0M845 875.8h0M845 885.3h0M845 906.9h0M845.1 891.2h0M845.2 920.6h0M845.3 902.3h0M845.3 890.9h0M845.5 862.6h0M845.6 868.4h0M845.7 867h0M845.7 892.3h0M845.9 872.9h0M846 823.7h0M846 898.6h0M846 862h0M846 889.8h0M846.2 881.1h0M846.2 894.9h0M846.3 852.5h0M846.5 871.9h0M846.7 880.5h0M846.8 857.3h0M846.8 884.7h0M846.9 892.3h0M846.9 827.6h0M846.9 876.8h0M847 923h0M847.1 876.3h0M847.1 887.7h0M847.2 857.7h0M847.3 844.3h0M847.4 919.5h0M847.6 905.7h0M847.8 927.4h0M847.8 878.4h0M847.8 883.4h0M847.8 897.8h0M847.9 891h0M848 900.4h0M848 910.8h0M848.1 895.4h0M848.3 914.6h0M848.6 838.3h0M848.6 918.7h0M848.6 909.1h0M848.7 931.1h0M848.8 891.1h0M848.9 830.4h0M849 912.6h0M849.2 901.4h0M849.4 905.6h0M849.6 926.9h0M849.7 916.6h0M849.8 934.6h0M850 954.9h0M850 924h0M850.1 946.6h0M850.4 950.6h0M850.5 959.8h0M851 970.4h0M851.1 967.7h0M851.1 961.2h0M851.2 956.5h0M851.2 945.2h0M851.3 963.8h0M851.5 928.1h0M851.7 946h0M851.7 965h0M851.9 940.3h0M852 951.9h0M852.1 941.1h0M852.3 947.8h0M852.4 955.7h0M852.5 967.6h0M852.8 960.2h0M852.9 947.4h0M852.9 960.4h0M853.3 952.4h0M853.8 949.9h0M853.8 949.5h0M853.9 968.7h0M854 955.1h0M854.2 954h0M854.2 971.7h0M854.4 964.4h0M854.7 980.9h0M854.7 974.6h0M854.9 952.9h0M855 958.4h0M855.2 964.4h0M855.7 975.7h0M855.8 965.4h0M855.8 979h0M855.8 977.9h0M855.9 971.1h0M856.1 955.2h0M856.2 969.6h0M856.7 966.4h0M857.3 962.9h0M857.3 959.9h0M857.7 962.5h0M857.9 955.4h0M858.2 957.8h0M858.4 941.9h0M858.6 980.4h0M858.7 978.2h0M859 973.4h0M859.6 974.9h0M859.9 965.2h0M860.2 978.4h0M860.5 960.8h0M860.8 953.2h0M860.9 961.5h0M861.3 952.6h0M861.3 969.7h0M861.6 957.7h0M862.2 954.1h0M862.2 959.9h0M862.2 960.4h0M862.3 964.3h0M862.6 954.2h0M862.6 956.1h0M863.2 947.5h0M863.3 950.8h0M863.3 959.1h0M863.7 940.8h0M863.9 937.9h0M864.3 947.4h0M864.4 874.2h0M864.6 944.2h0M864.6 931.6h0M864.6 930.6h0M864.6 931.7h0M864.9 883h0M864.9 919.1h0M865.2 949.2h0M865.8 922.8h0M865.8 918.3h0M865.9 921.4h0M866.2 917.4h0M866.2 925.7h0M866.2 903.2h0M866.3 842.4h0M866.4 927.8h0M866.7 911.3h0M866.7 890.6h0M866.8 906.7h0M866.9 925h0M867 837.5h0M867.1 849.2h0M867.1 912.3h0M867.1 866.3h0M867.2 919.1h0M867.3 902.1h0M867.3 858h0M867.5 830.4h0M867.6 898.6h0M867.6 871.1h0M867.7 896h0M867.9 888h0M868 891.3h0M868.2 909.5h0M868.2 881.8h0M868.2 915.2h0M868.2 907.3h0M868.2 854.4h0M868.3 893.8h0M868.4 851.2h0M868.4 827h0M868.7 915.2h0M868.8 914.3h0M868.9 863.5h0M869.2 918h0M869.2 834.9h0M869.2 883.2h0M869.3 904.9h0M869.4 897h0M869.8 910.7h0M869.8 902.3h0M869.8 907.7h0M869.9 844h0M870 898h0M870.7 912.1h0M870.8 907.2h0M871 894.2h0M871.1 923.5h0M871.3 923.3h0M871.8 898.1h0M872 901.4h0M872.5 927.3h0M872.6 915.7h0M872.8 917.7h0M873.1 921.7h0M873.2 926.1h0M873.2 921.4h0M873.6 876.6h0M873.7 918.1h0M874 916.5h0M874.1 886.6h0M874.5 875.1h0M874.5 882h0M874.7 891.8h0M874.7 906.6h0M874.8 896.2h0M874.9 890.6h0M875.4 900.6h0M875.6 910.8h0M875.6 879.3h0M875.9 884.4h0M875.9 894.8h0M875.9 903.2h0M876 898.3h0M876.1 876.7h0M876.1 884.4h0M876.4 863.8h0M876.4 869h0M876.6 862h0M876.8 861.8h0M876.9 872.9h0M877.1 873h0M877.1 876.3h0M877.2 879.8h0M877.3 846.3h0M877.3 870.1h0M877.3 879.4h0M877.4 852.2h0M877.5 883.2h0M877.7 860h0M877.7 846.6h0M877.9 866.5h0M877.9 886.8h0M877.9 856.2h0M878 858.6h0M878.1 793.2h0M878.5 799.4h0M878.5 841h0M878.6 871.3h0M878.7 837.3h0M878.7 814.4h0M878.8 820.5h0M878.9 865h0M878.9 809.3h0M878.9 844.6h0M879 849.3h0M879.2 853h0M879.2 806h0M879.3 857h0M879.3 868.6h0M879.4 811.2h0M879.5 852.6h0M879.5 832.1h0M879.5 796.7h0M879.5 841.6h0M879.6 824.4h0M879.6 846.3h0M879.8 808.2h0M879.9 850.2h0M880 808.7h0M880 802.5h0M880.1 824.5h0M880.3 797.7h0M880.4 828.3h0M880.5 818.4h0M880.5 831.2h0M880.6 864.6h0M880.7 849.6h0M880.7 844.7h0M880.7 785.8h0M880.8 857.8h0M880.9 870.7h0M880.9 778h0M881 813.9h0M881.1 861.5h0M881.1 867h0M881.1 845.7h0M881.1 828.2h0M881.4 875.1h0M881.4 787.4h0M881.6 799.3h0M881.7 828.4h0M881.7 864.6h0M881.8 847h0M881.8 850.9h0M881.8 867h0M881.9 741.8h0M881.9 781.7h0M881.9 860.6h0M882 804.4h0M882 784.8h0M882 820.2h0M882 753.3h0M882 807.6h0M882.1 811.3h0M882.2 855h0M882.2 812.1h0M882.2 734.6h0M882.2 745.1h0M882.3 842.2h0M882.3 816.6h0M882.3 871.6h0M882.3 825.6h0M882.4 814.4h0M882.4 769.1h0M882.5 838.2h0M882.5 730h0M882.6 863.5h0M882.7 858.9h0M882.7 853.8h0M882.8 800.6h0M882.8 872.9h0M882.9 822.4h0M882.9 775.3h0M882.9 836.7h0M883.1 876.9h0M883.1 783.2h0M883.1 789.8h0M883.1 855.2h0M883.2 874.1h0M883.2 832.5h0M883.3 831h0M883.3 877.1h0M883.4 860.4h0M883.4 805.3h0M883.4 867.6h0M883.4 845.8h0M883.5 822.4h0M883.5 781.4h0M883.6 849.5h0M883.7 870.7h0M883.8 866h0M883.9 841.5h0M883.9 889.5h0M884 881.5h0M884 845.1h0M884 822.8h0M884.2 885h0M884.3 863h0M884.3 856.5h0M884.3 825.2h0M884.4 820.2h0M884.4 844.7h0M884.6 851.1h0M884.9 861.7h0M885.1 872.1h0M885.4 872.8h0M885.4 905.4h0M885.5 897.3h0M885.6 894.3h0M885.7 886.3h0M885.8 900.7h0M885.8 908.4h0M886.1 901.3h0M886.1 897.6h0M886.1 897.5h0M886.2 877.9h0M886.3 881.5h0M886.4 891h0M886.7 904.2h0M887.3 910.9h0M887.3 912.2h0M887.5 902.8h0M887.6 914h0M887.7 901.3h0M887.9 907h0M888.1 909h0M888.3 894.8h0M888.4 897.4h0M889.2 902.6h0M889.2 913.8h0M889.3 906.6h0M889.6 905.2h0M889.7 929.5h0M889.7 915.4h0M889.7 920.5h0M889.8 935.2h0M889.9 925.1h0M889.9 940.1h0M890 912h0M890.4 932.8h0M890.4 909.8h0M890.4 909.8h0M890.5 924.6h0M890.6 926.1h0M890.6 928.6h0M890.7 918.4h0M890.8 919.6h0M890.8 941.8h0M890.9 947h0M890.9 931.8h0M890.9 914.7h0M891.2 943.8h0M891.2 936.5h0M891.9 916.7h0M892 915.7h0M892.1 949.8h0M892.2 931.8h0M892.3 930.5h0M892.3 945.3h0M892.4 928.6h0M892.7 916.1h0M892.7 920.3h0M892.9 925.2h0M892.9 927.4h0M893 904.6h0M893.2 943.1h0M893.3 938.7h0M893.3 923h0M893.3 917.8h0M893.6 945.9h0M893.9 934.9h0M893.9 918.6h0M894 927.4h0M894 935.3h0M894.1 942.5h0M894.2 932h0M894.4 931.8h0M894.4 938.6h0M894.8 948.8h0M894.9 938.4h0M895.1 931.3h0M895.2 958.9h0M895.2 942.1h0M895.3 933.8h0M895.8 956.2h0M895.9 950.6h0M896.1 953.6h0M896.2 953.2h0M896.3 940.3h0M896.3 945.2h0M896.4 945.5h0M896.8 939.9h0M897.2 927.8h0M897.3 938.7h0M897.5 932.7h0M897.6 928.3h0M897.9 935.9h0M897.9 952h0M898.1 941h0M898.2 929h0M898.3 932.5h0M898.6 928.5h0M898.6 925.8h0M898.8 949.4h0M898.8 937.1h0M899.1 923.6h0M899.3 944.8h0M899.4 930.4h0M900 923h0M900.1 934.2h0M900.6 928.9h0M900.7 933h0M900.9 885.9h0M901 918.6h0M901 917.7h0M901.4 891.8h0M901.7 894.9h0M901.7 898.7h0M901.7 877.5h0M901.9 896.3h0M902 886h0M902 873.1h0M902.1 886.5h0M902.2 861.4h0M902.4 901.5h0M902.4 905.2h0M902.4 857h0M902.6 856.8h0M902.7 882.4h0M902.8 866.7h0M902.9 846.9h0M902.9 871.2h0M903 891.1h0M903 882.8h0M903 903.3h0M903.2 861.9h0M903.4 866h0M903.4 906.8h0M903.6 813.2h0M903.6 844.3h0M903.7 838.2h0M903.7 829.7h0M903.7 841.7h0M903.7 810h0M903.9 885.6h0M903.9 862h0M903.9 878.6h0M903.9 835.8h0M903.9 866.4h0M904 852.6h0M904 874.6h0M904.1 825.3h0M904.1 869.5h0M904.3 889.5h0M904.3 823.1h0M904.3 857.6h0M904.4 761h0M904.4 880.7h0M904.4 835.6h0M904.5 850.4h0M904.5 854.7h0M904.6 773.8h0M904.7 846.8h0M904.8 785.4h0M904.8 823.5h0M904.9 858.6h0M905 885.2h0M905 873.2h0M905.2 801h0M905.2 877.5h0M905.2 778h0M905.2 819.5h0M905.2 836.1h0M905.3 890h0M905.3 892.9h0M905.3 779.6h0M905.3 848.2h0M905.4 887.5h0M905.4 796.8h0M905.4 820.4h0M905.6 826.3h0M905.6 859.7h0M905.6 864h0M905.7 814.7h0M905.7 794.9h0M905.7 826.4h0M905.8 834.8h0M905.8 802.4h0M905.9 825.8h0M905.9 845.7h0M905.9 811.2h0M906 842.7h0M906 826h0M906 789.2h0M906 823.5h0M906 876.3h0M906 855.7h0M906 867.7h0M906.1 838h0M906.3 831.9h0M906.3 852.2h0M906.3 839.8h0M906.3 806.3h0M906.5 791.2h0M906.6 882.7h0M906.7 798.2h0M906.7 848.6h0M906.7 841.6h0M906.7 831.2h0M906.8 872.3h0M906.8 853.1h0M906.9 870h0M907 790.2h0M907 834.1h0M907.1 846.5h0M907.2 876.8h0M907.3 817.2h0M907.3 833.7h0M907.3 880.3h0M907.5 844h0M907.5 829.8h0M907.6 861.8h0M907.7 880.6h0M907.7 781.4h0M907.7 787.7h0M907.7 808.9h0M907.8 853.6h0M907.8 857.6h0M907.8 863h0M907.9 840.1h0M908 849.9h0M908.1 807h0M908.1 884.6h0M908.2 875.6h0M908.2 874.2h0M908.4 866.4h0M908.4 870.5h0M908.5 867.1h0M908.5 885.3h0M908.6 858.3h0M908.9 896.5h0M908.9 881.1h0M909 875.2h0M909.1 888.7h0M909.2 893.3h0M909.2 871h0M909.3 892.6h0M909.4 871.1h0M909.6 890.6h0M909.9 934.8h0M909.9 886.5h0M910 901.7h0M910.2 881h0M910.4 920.5h0M910.5 926.1h0M910.6 937.6h0M910.9 913.9h0M910.9 897.4h0M911 917.1h0M911 939h0M911.1 907.9h0M911.1 942h0M911.1 929.9h0M911.2 938.8h0M911.3 947.3h0M912 948.2h0M912.5 913.3h0M912.5 940.8h0M912.7 944.3h0M913.1 951.9h0M913.1 951.7h0M913.1 946.9h0M913.4 956.7h0M913.5 924.1h0M913.5 913.6h0M913.7 919.1h0M913.7 955.5h0M913.7 944.8h0M913.9 953.4h0M914.2 942.2h0M914.2 956.6h0M914.3 950.1h0M914.4 958.2h0M914.5 942h0M914.7 948.5h0M915 945h0M915.2 953h0M915.5 906.2h0M915.6 943.8h0M915.7 945.4h0M915.9 935.2h0M915.9 956.1h0M916.1 907.7h0M916.2 930.8h0M916.2 925.6h0M916.7 926.4h0M916.8 914.3h0M916.8 900.9h0M916.9 930.7h0M917 903.6h0M917.2 926.6h0M917.3 938.9h0M917.3 913.9h0M917.5 908.3h0M917.5 902.9h0M917.6 889.9h0M917.7 919.2h0M917.8 935.4h0M918.1 922.6h0M918.3 912.9h0M918.3 924.5h0M918.4 903.4h0M918.4 899.4h0M918.5 917.1h0M918.6 886.5h0M918.8 908.9h0M918.9 920h0M918.9 905.2h0M919 902h0M919.1 908.4h0M919.1 893h0M919.1 876.9h0M919.2 916.6h0M919.3 895.9h0M919.5 877.3h0M919.8 841h0M919.8 923h0M919.9 919.6h0M919.9 857.1h0M920 851.5h0M920 867.1h0M920 912.5h0M920 825.5h0M920.1 837.6h0M920.2 888.1h0M920.2 889.8h0M920.2 845.1h0M920.3 838.3h0M920.3 897.7h0M920.3 861.3h0M920.4 846.4h0M920.4 884.1h0M920.4 894.2h0M920.4 832.2h0M920.4 815.8h0M920.7 801.6h0M920.7 857h0M920.7 809.4h0M920.7 760.7h0M920.8 869.7h0M920.8 772.1h0M920.9 765.6h0M920.9 890.5h0M920.9 745.6h0M920.9 877.3h0M920.9 804.6h0M920.9 827.9h0M921 884.9h0M921.1 839.6h0M921.2 907.7h0M921.2 881.4h0M921.3 873.7h0M921.3 901.1h0M921.3 822.4h0M921.3 751.1h0M921.7 853.7h0M921.8 895.7h0M921.8 798.5h0M921.8 904.9h0M921.8 895.2h0M921.9 879.4h0M922.1 797h0M922.1 870.2h0M922.1 871.6h0M922.4 816.5h0M922.4 874.4h0M922.4 889.5h0M922.6 893.1h0M922.6 885.3h0M922.6 860.7h0M922.7 849.9h0M922.7 849.2h0M922.8 809.7h0M923 900.1h0M923.2 915.9h0M923.2 882.3h0M923.2 840.6h0M923.3 806.8h0M923.3 908.1h0M923.3 801.2h0M923.3 895.7h0M923.3 811.9h0M923.3 815.3h0M923.5 837h0M923.7 927h0M924 828.8h0M924 917.9h0M924.1 906.6h0M924.1 912.1h0M924.4 905.5h0M924.5 839.7h0M924.8 846.2h0M924.9 833.5h0M925 904.7h0M925.2 937.7h0M925.2 923.1h0M925.3 931.3h0M925.3 913.4h0M925.4 913.6h0M925.4 909.2h0M925.4 918h0M925.5 934h0M925.8 913h0M925.9 927.6h0M925.9 922.2h0M926 951.9h0M926 926.2h0M926.1 945.5h0M926.1 948.5h0M926.4 939.6h0M926.5 925.9h0M926.7 935.7h0M926.8 946.2h0M926.9 931.3h0M927.1 954.8h0M927.2 945.6h0M927.4 919.6h0M928 955.9h0M928.1 960.4h0M928.1 950h0M928.2 948h0M928.6 963.4h0M928.7 951.8h0M928.7 966.2h0M929.1 968.3h0M929.2 958.9h0M929.5 965.9h0M930.3 949.8h0M930.6 937h0M930.7 939.3h0M930.8 935.9h0M931 954h0M931 946.9h0M931 958.3h0M931 928.9h0M931.2 941.6h0M931.3 947.2h0M931.3 942.2h0M931.3 954.1h0M931.3 957.6h0M931.4 950.7h0M931.7 934.9h0M931.7 923.6h0M931.9 929.4h0M932.1 929.1h0M932.1 930.9h0M932.2 914.7h0M932.3 923.3h0M932.3 934.5h0M932.5 942.1h0M932.6 945.8h0M932.8 966.2h0M933.2 954.6h0M933.2 937.9h0M933.3 943.3h0M933.5 959h0M933.8 940.1h0M934 962.8h0M934.2 946.7h0M934.3 964.2h0M934.3 945.9h0M934.3 949.7h0M934.5 942.7h0M934.6 960.2h0M934.7 934h0M935.1 940.5h0M935.2 933.6h0M935.3 955.1h0M935.3 948.4h0M935.3 943.6h0M935.3 951.5h0M935.7 952.7h0M936 954.2h0M936.1 961.1h0M936.2 938.9h0M936.6 956.6h0M936.7 954h0M936.7 934.7h0M936.9 964.9h0M937.1 930.7h0M937.4 949.3h0M937.7 954h0M937.8 957h0M938 957.7h0M938.1 934h0M938.1 929.6h0M938.1 934.3h0M938.2 938h0M938.3 944.5h0M938.7 949.3h0M938.7 967.4h0M938.7 945.5h0M939.2 940.9h0M939.4 958.9h0M939.4 962.4h0M939.6 956.6h0M939.7 965.7h0M939.8 969.9h0M939.8 954.8h0M940 950.7h0M940.3 953.3h0M940.6 960.4h0M941 951.3h0M941.1 967.2h0M941.2 963.8h0M941.3 952.5h0M941.8 960.5h0M942 962.6h0M942.2 944h0M942.3 954.5h0M942.5 956.1h0M942.7 951.8h0M942.8 942.7h0M942.8 959.7h0M943 960.8h0M943.1 941.6h0M943.1 951.7h0M943.2 941.9h0M943.4 947.8h0M943.4 956.4h0M943.7 955h0M944 960h0M944.2 964.4h0M944.2 953.4h0M944.3 947h0M945 958.3h0M945 968.6h0M945.6 968.2h0M945.8 963.1h0M946 959.7h0M946.4 961.5h0M946.5 958.3h0M946.7 969.4h0M946.9 965.4h0M947.5 958.6h0M947.6 957.9h0M947.6 970.6h0M947.8 962.3h0M947.9 966.7h0M948.3 941h0M948.3 968.7h0M948.4 937.5h0M948.5 967.9h0M948.7 930.6h0M948.8 945.6h0M948.9 958h0M949.1 945.3h0M949.2 953.5h0M949.4 949.1h0M949.6 938.6h0M950.3 933.4h0M950.3 959.2h0M950.4 927.6h0M950.6 928.3h0M950.7 943.1h0M950.8 954.8h0M951 951.3h0M951.1 947.2h0M951.2 941.6h0M951.2 954.7h0M951.6 948.1h0M951.7 949.8h0M951.8 964.2h0M951.9 940.7h0M952 956.5h0M952.1 946.5h0M952.5 942h0M952.6 968.1h0M952.6 943.2h0M952.7 952.9h0M953.1 943.3h0M953.1 959.7h0M953.6 948.7h0M953.7 944.9h0M953.9 952.6h0M954 959.9h0M954 965.1h0M954.1 955.3h0M954.2 962.7h0M954.3 959.4h0M954.4 936.1h0M955 930h0M955.1 965.7h0M955.2 936.1h0M955.3 959.7h0M955.3 962.1h0M955.4 954.4h0M955.7 957.4h0M955.7 933.2h0M955.9 958.2h0M956 925.9h0M956 951.7h0M956.6 931.5h0M956.6 955h0M956.6 938.4h0M956.7 946.9h0M956.8 907.6h0M957.2 941.5h0M957.2 916.5h0M957.2 930h0M957.3 907h0M957.6 921.4h0M957.7 926.2h0M957.7 930.1h0M957.9 933.7h0M958 936h0M958.2 906.7h0M958.3 911.4h0M958.4 907.9h0M958.7 926.3h0M958.9 935.5h0M959 910.6h0M959.4 917.2h0M959.4 913.5h0M959.4 899.1h0M959.5 918h0M959.6 907.3h0M959.6 915.4h0M959.7 922.5h0M959.8 897.6h0M959.8 929.4h0M959.8 902.5h0M959.9 906.1h0M960 932h0M960.1 891h0M960.2 898.4h0M960.3 914.2h0M960.6 892.5h0M960.7 911.2h0M961 902h0M961.5 894h0M961.6 917.5h0M961.7 929.5h0M961.8 903h0M961.8 914.6h0M961.9 934.1h0M961.9 921.2h0M962.1 889.2h0M962.1 923.6h0M962.2 924.9h0M962.2 938.2h0M962.3 911.3h0M962.3 898h0M962.4 907.9h0M962.7 935.5h0M962.9 939h0M963 932.2h0M963.1 863.6h0M963.6 931.7h0M964 936.9h0M964.7 924.6h0M964.8 937.3h0M965.2 938.4h0M965.4 917.4h0M965.8 920.2h0M965.9 928.8h0M965.9 932.2h0M966.1 935.7h0M966.2 912.8h0M966.2 932.8h0M966.3 922.3h0M966.4 917.5h0M966.6 898.8h0M966.9 936.6h0M967 929.7h0M967.1 901.5h0M967.1 875.9h0M967.2 894.6h0M967.4 926.5h0M967.4 925.9h0M967.6 895.7h0M967.7 921.3h0M967.7 879.8h0M967.7 930h0M967.9 923.1h0M967.9 930.4h0M967.9 918.9h0M967.9 881.1h0M968 911.4h0M968 933.6h0M968.1 906.3h0M968.2 917.7h0M968.3 927.3h0M968.4 894.7h0M968.4 915.4h0M968.5 899.5h0M968.8 902.6h0M969 918.8h0M969 907.1h0M969.1 894.2h0M969.1 911.3h0M969.1 864h0M969.1 912h0M969.5 874.9h0M969.6 927.8h0M969.7 903.2h0M969.8 899.7h0M969.9 922.7h0M969.9 915.8h0M970 866.6h0M970.2 871.6h0M970.3 907.9h0M970.3 880.4h0M970.4 887h0M970.4 935.6h0M970.6 931.5h0M971 920.6h0M971.3 940.3h0M971.7 936.9h0M971.7 864.9h0M972 922.1h0M972.3 930.3h0M972.3 873.9h0M972.4 882h0M972.5 937.2h0M972.5 921.6h0M972.6 940.7h0M972.7 865.6h0M972.8 904.2h0M972.9 925.4h0M973.1 933.6h0M973.1 909.3h0M973.4 916.6h0M973.8 903.7h0M973.8 908.3h0M973.8 924h0M973.9 941.8h0M974 913.6h0M974 909.8h0M974.3 914.6h0M974.4 945.1h0M974.7 930.4h0M974.9 912.5h0M975.1 938.1h0M975.1 917h0M975.1 919.2h0M975.1 921.1h0M975.3 926.7h0M975.4 935.8h0M975.7 925.9h0M976 908.5h0M976.1 910.8h0M976.2 910.3h0M976.5 917.8h0M976.7 914.5h0M976.9 921.5h0M977.1 914.9h0M977.3 917.8h0M977.6 912h0M977.6 921.9h0M977.7 957.7h0M977.9 929.6h0M978.3 925.4h0M978.8 962.3h0M979 961.4h0M979 953.9h0M979.1 950.4h0M979.3 949.9h0M979.9 965.3h0M980.5 961.2h0M980.7 959.4h0M980.8 958.8h0M981.4 964.9h0M981.7 959.9h0M981.9 930.8h0M982.5 936.7h0M982.6 928.7h0M982.7 926h0M982.8 930.5h0M982.8 939.8h0M983.8 927h0M983.9 930.6h0M983.9 924.5h0M983.9 935.5h0M984.2 940.1h0M984.4 944.2h0M984.4 917.2h0M984.5 922.7h0M984.6 916.6h0M984.9 933.3h0M985.1 934.2h0M985.2 925.9h0M985.5 916.8h0M985.7 936.6h0M985.8 922.4h0M986.1 937.6h0M986.3 930.1h0M986.3 917.1h0M986.7 934.5h0M986.8 940.2h0M986.8 937.2h0M986.8 931h0M987 880.2h0M987.4 886.8h0M987.6 873.3h0M987.8 936.9h0M987.9 880.3h0M988.2 901.9h0M988.2 941.5h0M988.4 909.3h0M988.5 904.7h0M988.6 914.1h0M988.8 929h0M988.9 918.6h0M988.9 921.6h0M989 915.8h0M989 925h0M989.1 865.9h0M989.2 901.2h0M989.2 926.3h0M989.3 872.9h0M989.7 904.3h0M989.8 916.9h0M989.8 919.6h0M990.1 921.5h0M990.3 912.5h0M990.6 900.9h0M990.9 908.9h0M990.9 915.4h0M990.9 863.9h0M991.3 922.1h0M991.4 863.4h0M991.7 857.6h0M991.7 929.5h0M991.8 851.9h0M991.8 920.9h0M991.9 929.2h0M991.9 924.3h0M992.4 920h0M992.6 925.6h0M992.8 915.6h0M993 916h0M993.3 919.8h0M993.7 907.9h0M993.8 904.5h0M993.9 924.7h0M994.1 932h0M994.1 812h0M994.3 926.4h0M994.5 866.8h0M994.5 898.5h0M994.6 804.8h0M994.7 817.2h0M994.7 899.5h0M994.7 911.1h0M994.8 935h0M994.8 919.3h0M995.1 917.5h0M995.3 915h0M995.3 926.5h0M995.4 922.5h0M995.4 839.6h0M995.5 834h0M995.5 798.7h0M995.6 925.2h0M995.7 913.1h0M995.8 921.1h0M995.9 900.2h0M996 931.3h0M996 849.7h0M996 846.6h0M996 921.5h0M996.1 910.1h0M996.1 859.1h0M996.2 912.6h0M996.2 904.3h0M996.6 935.1h0M996.6 826.9h0M996.7 821.3h0M996.7 940.8h0M996.8 916.6h0M996.9 840.5h0M996.9 822.5h0M996.9 856.5h0M996.9 901.3h0M997 853.7h0M997.1 795h0M997.2 909.3h0M997.2 832.3h0M997.4 802.8h0M997.5 808.6h0M997.8 936.2h0M998.5 943.3h0M998.5 936.6h0M998.6 926.7h0M998.8 925.2h0M998.9 932.4h0M999 940h0M999.1 933.5h0M999.1 923.8h0M999.5 929.4h0M999.8 939.6h0M999.9 936.6h0M1000 924.4h0M1000 925.9h0M1000.1 938h0M1000.1 930.3h0M1000.5 933.5h0M1000.8 923.7h0M1000.8 925.4h0M1001 934.1h0M1001 938.3h0M1001.4 905.6h0M1001.5 915.8h0M1001.6 911.3h0M1001.7 928.1h0M1001.7 924.8h0M1001.7 935.8h0M1001.8 941.2h0M1001.9 920.6h0M1002 932.5h0M1002.2 929.7h0M1002.6 920.1h0M1003.2 924.7h0M1003.2 913.3h0M1003.4 880.5h0M1003.5 918.8h0M1003.7 922.4h0M1003.8 927.5h0M1004 913.4h0M1004.2 940.4h0M1004.3 932.1h0M1004.6 931.3h0M1004.6 922.1h0M1004.8 918.9h0M1005.1 940.6h0M1005.2 916.3h0M1005.3 917.4h0M1005.4 935h0M1005.6 878.6h0M1005.9 895.5h0M1006.1 926.5h0M1006.1 874h0M1006.2 888.4h0M1006.5 872.8h0M1006.5 891.6h0M1006.7 883.8h0M1006.8 850.5h0M1006.9 876.5h0M1007.1 889.9h0M1007.2 863h0M1007.2 874.1h0M1007.4 886h0M1007.4 897.8h0M1007.5 880.5h0M1007.5 906.2h0M1007.6 858.3h0M1007.6 900.5h0M1007.7 844.1h0M1007.8 864.8h0M1007.8 855.3h0M1008 894.6h0M1008.1 869.1h0M1008.1 861.1h0M1008.1 903.7h0M1008.1 878.3h0M1008.1 848.5h0M1008.3 806.6h0M1008.4 851.5h0M1008.6 857.3h0M1008.6 827.2h0M1008.7 872.2h0M1008.7 891.1h0M1008.7 841.9h0M1008.8 869.7h0M1008.9 884.7h0M1009.1 854.1h0M1009.1 859.4h0M1009.1 876.7h0M1009.2 848.7h0M1009.2 798.4h0M1009.3 875h0M1009.5 849.7h0M1009.5 871.9h0M1009.7 874.7h0M1009.7 837.1h0M1009.9 838.4h0M1010 867.3h0M1010 813.6h0M1010.2 881.4h0M1010.2 870.8h0M1010.2 888.8h0M1010.3 863.3h0M1010.4 852.9h0M1010.5 866.8h0M1010.6 858.1h0M1010.6 817.9h0M1010.8 841.9h0M1010.8 903.8h0M1011 822h0M1011 846.1h0M1011.1 878.1h0M1011.1 849.7h0M1011.2 863.4h0M1011.3 894.6h0M1011.3 886.6h0M1011.4 880.9h0M1011.6 890.3h0M1011.7 889.1h0M1011.8 848.7h0M1011.8 906.3h0M1011.9 881.5h0M1011.9 819.6h0M1012 824.2h0M1012.1 898.8h0M1012.2 817.6h0M1012.3 829h0M1012.3 884h0M1012.4 794h0M1012.4 894.6h0M1012.6 898.2h0M1012.6 829.9h0M1012.7 870.8h0M1012.7 807.6h0M1012.8 846.1h0M1012.9 897.3h0M1013 901.9h0M1013.1 812.3h0M1013.2 890.5h0M1013.2 884.1h0M1013.2 894.3h0M1013.3 901.1h0M1013.4 803h0M1013.4 868.8h0M1013.4 809.1h0M1013.7 876.7h0M1013.8 886.2h0M1013.8 881.2h0M1013.9 887.9h0M1013.9 800.2h0M1014 875.6h0M1014.1 838.9h0M1014.1 832.4h0M1014.5 818.7h0M1014.5 871.4h0M1014.6 884.3h0M1014.7 861.7h0M1014.7 894.6h0M1014.9 890.8h0M1015 902.7h0M1015 863.7h0M1015 840.4h0M1015 879h0M1015.3 827h0M1015.4 867.1h0M1015.6 898.1h0M1015.7 866.2h0M1015.7 880.5h0M1015.8 894.4h0M1015.8 908h0M1015.9 826h0M1016 861.1h0M1016.2 805h0M1016.4 841.6h0M1016.4 814h0M1016.5 834.4h0M1016.7 883.2h0M1016.9 829.7h0M1016.9 877h0M1016.9 862.7h0M1017 889.9h0M1017 884.2h0M1017.2 872.1h0M1017.2 808.9h0M1017.4 778.6h0M1017.4 893.7h0M1017.5 751h0M1017.5 847.8h0M1017.6 890.7h0M1017.8 773.8h0M1017.9 763.1h0M1017.9 884.6h0M1018.1 884.9h0M1018.1 886.2h0M1018.1 896.7h0M1018.3 915.9h0M1018.3 913h0M1018.4 789.6h0M1018.4 910.2h0M1018.5 768h0M1018.5 835.1h0M1018.6 756.7h0M1018.6 785.9h0M1018.6 925.8h0M1018.7 814.1h0M1018.7 898.6h0M1018.8 903.1h0M1018.8 896h0M1019 918.1h0M1019.2 906.5h0M1019.4 921.2h0M1019.4 916.8h0M1019.8 912.3h0M1019.8 915.4h0M1019.9 931h0M1020.2 908.4h0M1020.4 907.8h0M1020.7 936.9h0M1021 920.7h0M1021.1 928.1h0M1021.1 923.7h0M1021.2 931.5h0M1021.3 915.8h0M1021.6 930.9h0M1021.8 923.9h0M1021.9 941.1h0M1022.1 928.6h0M1022.1 914.3h0M1022.7 915h0M1022.7 928.8h0M1022.8 920h0M1023 941.5h0M1023.2 933.1h0M1023.8 926.8h0M1023.9 935.9h0M1024.1 945.9h0M1024.1 936.6h0M1024.3 939.4h0M1025 939h0M1025.1 935.1h0M1025.3 943.1h0M1025.5 939.6h0M1025.7 920.9h0M1025.7 912.2h0M1025.9 936.2h0M1026.1 924.7h0M1026.1 908h0M1026.8 916.6h0M1026.8 932h0M1026.9 928.9h0M1027.3 910h0M1027.3 905.4h0M1027.5 932.4h0M1027.5 916.9h0M1027.6 927.7h0M1027.8 900.1h0M1027.9 924.6h0M1027.9 895.8h0M1027.9 897.4h0M1028 910.8h0M1028 915.1h0M1028 919.5h0M1028 921.5h0M1028.1 905.1h0M1028.7 880.5h0M1028.7 875.3h0M1028.9 898.7h0M1029 869.5h0M1029.2 902.9h0M1029.4 906.4h0M1029.7 894.7h0M1029.7 885h0M1029.7 839h0M1029.8 897.6h0M1029.8 846.7h0M1029.9 874.7h0M1029.9 834.7h0M1029.9 890h0M1029.9 842.5h0M1030.1 874.7h0M1030.2 870.8h0M1030.3 894.4h0M1030.6 831.6h0M1030.6 885.8h0M1030.6 892h0M1030.6 887.1h0M1030.6 905.1h0M1030.7 841.6h0M1030.8 880.2h0M1030.9 849.2h0M1031.1 917.6h0M1031.1 862.3h0M1031.2 909.4h0M1031.3 889.9h0M1031.3 895.8h0M1031.6 875.7h0M1031.6 868.4h0M1031.7 900.6h0M1031.7 885.1h0M1031.7 913.2h0M1032.1 928.5h0M1032.1 914.6h0M1032.1 895.6h0M1032.2 910.2h0M1032.3 932.7h0M1032.4 896.6h0M1032.6 900.7h0M1032.6 943.1h0M1032.7 878h0M1033.1 905.7h0M1033.1 919.9h0M1033.1 919.8h0M1033.2 925.1h0M1033.7 921.9h0M1033.8 935.7h0M1033.9 923h0M1034 926.2h0M1034 940.1h0M1034.1 933h0M1034.1 930.5h0M1034.3 928.4h0M1034.3 921.3h0M1034.3 942.3h0M1034.6 933.7h0M1035 938.2h0M1035.5 950.1h0M1036.1 950.5h0M1036.1 941.9h0M1036.6 944.2h0M1036.9 950h0M1037.6 940.8h0M1037.7 932.2h0M1037.9 918.8h0M1037.9 942.3h0M1038.2 915.3h0M1038.3 947.3h0M1038.4 910.4h0M1038.4 937.1h0M1038.6 927.6h0M1038.7 927.3h0M1038.7 909.3h0M1039.2 923.7h0M1039.4 915.7h0M1039.5 936.6h0M1039.5 941.4h0M1039.5 920.9h0M1039.7 941.1h0M1039.7 911.3h0M1039.8 911.7h0M1039.9 931.8h0M1039.9 885.8h0M1040.1 945.2h0M1040.2 871.1h0M1040.7 928h0M1041 938.4h0M1041 866.8h0M1041.3 931.1h0M1041.4 908.8h0M1041.7 934.8h0M1041.8 907.4h0M1041.8 897h0M1042 915.2h0M1042 912h0M1042.1 903.1h0M1042.2 918.3h0M1042.2 890.3h0M1042.2 904.1h0M1042.2 900.4h0M1042.3 914.5h0M1042.3 920.9h0M1042.4 924.6h0M1042.7 904.3h0M1042.8 921.4h0M1042.9 890.4h0M1042.9 903.8h0M1042.9 891.7h0M1042.9 922.9h0M1042.9 896.1h0M1043.1 911.6h0M1043.2 891.2h0M1043.6 911.1h0M1043.7 919.8h0M1043.8 928.9h0M1043.9 907.6h0M1044.1 899.6h0M1044.2 926h0M1044.3 915.7h0M1044.4 933.2h0M1044.7 918h0M1044.8 919.3h0M1044.9 925.6h0M1045 910h0M1045.2 920.6h0M1045.3 917.7h0M1045.8 913.9h0M1045.9 902.8h0M1046 891.1h0M1046.2 905.7h0M1046.5 895h0M1046.7 891h0M1046.9 886.3h0M1046.9 895.3h0M1047.3 899.9h0M1047.3 874.3h0M1047.3 877.4h0M1047.4 898.5h0M1047.7 868.1h0M1047.8 874.7h0M1047.8 903.3h0M1047.8 882.8h0M1047.9 874.2h0M1048.1 865h0M1048.4 879h0M1048.5 868.8h0M1048.5 856.8h0M1048.7 901.9h0M1048.7 883.9h0M1048.7 874.1h0M1048.8 895.1h0M1048.9 890.6h0M1048.9 887.9h0M1049 882.9h0M1049 867.2h0M1049.1 868.8h0M1049.2 867.4h0M1049.5 910.1h0M1049.6 887.7h0M1049.7 861.1h0M1049.7 891.9h0M1049.8 874h0M1049.8 891.2h0M1050.1 907.6h0M1050.2 878.1h0M1050.3 912h0M1050.3 884.8h0M1050.3 898.3h0M1050.4 904.9h0M1050.4 870.8h0M1050.5 896.2h0M1050.6 887.4h0M1050.8 918.2h0M1050.9 915.6h0M1050.9 905.8h0M1051 891.4h0M1051 900.7h0M1051.2 879.6h0M1051.3 908.8h0M1051.3 893.8h0M1051.9 908.8h0M1052 904.4h0M1052.2 901.7h0M1052.2 899.6h0M1052.2 912.9h0M1052.3 906.1h0M1052.4 892.4h0M1052.6 908.5h0M1052.8 912.2h0M1053 903.8h0M1053.2 909.7h0M1053.2 895h0M1053.3 899.9h0M1053.3 895.4h0M1053.3 858.7h0M1053.3 849.8h0M1053.6 898.4h0M1053.8 889.8h0M1053.8 851.1h0M1053.9 891.1h0M1053.9 860h0M1054 903h0M1054 894.7h0M1054.1 836h0M1054.1 859.3h0M1054.3 891h0M1054.3 914.4h0M1054.3 890.5h0M1054.6 911.8h0M1054.8 908.5h0M1055.2 842.8h0M1055.4 901.7h0M1055.6 912.1h0M1055.7 894h0M1055.8 905h0M1056 908.8h0M1056.1 909h0M1056.1 845.7h0M1056.2 895.9h0M1056.2 927.1h0M1056.3 914h0M1056.5 919.3h0M1056.7 855.1h0M1056.7 907.8h0M1057.1 922.9h0M1057.1 889.4h0M1057.2 841.8h0M1057.2 839.5h0M1057.2 862.7h0M1057.3 906.6h0M1057.6 855.1h0M1057.6 848.3h0M1057.6 885.1h0M1057.6 871.4h0M1057.6 882.1h0M1057.8 877.9h0M1058.1 880.7h0M1058.1 850.1h0M1058.2 885.7h0M1058.3 897.8h0M1058.4 873.1h0M1058.6 855.4h0M1058.6 892.3h0M1058.7 888.6h0M1058.9 879.4h0M1059.1 893h0M1059.2 901.1h0M1059.3 901.4h0M1059.3 887.8h0M1059.3 896.6h0M1059.7 933.5h0M1059.7 923.1h0M1059.8 885.8h0M1060 938.3h0M1060 875h0M1060.5 921.9h0M1060.6 882.6h0M1060.9 911h0M1060.9 897.9h0M1061.1 928.8h0M1061.5 886.6h0M1061.5 903.6h0M1061.6 879.5h0M1061.6 916.9h0M1061.9 896.8h0M1062.1 908.7h0M1062.5 908h0M1062.6 907.4h0M1062.7 920.7h0M1062.7 910.4h0M1062.8 907h0M1062.9 930.5h0M1063 914.2h0M1063 912.6h0M1063 919.7h0M1063.6 927.4h0M1063.6 903.8h0M1063.8 948.8h0M1063.9 924.2h0M1064.2 938.3h0M1064.3 945.1h0M1064.4 942.8h0M1064.6 940.1h0M1065 936.8h0M1065.2 900.8h0M1065.3 935.7h0M1065.3 946.2h0M1065.7 943.1h0M1065.8 934.7h0M1065.8 950.8h0M1065.9 933.5h0M1066 909.6h0M1066.3 914.9h0M1066.5 943.2h0M1066.5 903.6h0M1066.9 947.4h0M1067.2 936.8h0M1067.3 949.3h0M1067.9 945.7h0M1067.9 930.7h0M1068.1 953.4h0M1068.2 941.6h0M1068.5 936.4h0M1068.5 932.9h0M1068.6 927.5h0M1069 948.7h0M1069 939h0M1069.2 946.2h0M1069.2 952.4h0M1069.3 942.8h0M1069.7 903.5h0M1069.9 933.5h0M1070 943.7h0M1070.1 925.3h0M1070.3 949.7h0M1070.8 948.5h0M1070.9 953h0M1071 939h0M1071 945.8h0M1071.2 940.3h0M1071.2 956.2h0M1071.3 938.8h0M1071.8 958.5h0M1071.9 955.7h0M1072 942.8h0M1072.2 950.2h0M1072.5 951.3h0M1072.7 948.9h0M1072.8 932h0M1073.1 922.7h0M1073.4 944.9h0M1073.7 909h0M1073.8 935.1h0M1073.9 926.7h0M1073.9 936.3h0M1074 929.6h0M1074 938.9h0M1074.1 939.9h0M1074.3 942.4h0M1074.4 932.9h0M1075 960.3h0M1075 957.2h0M1075.2 955.1h0M1076.3 959.2h0M1076.7 965.6h0M1076.9 956.3h0M1077.2 962.3h0M1077.3 962.3h0M1077.3 955.5h0M1077.4 960.1h0M1077.7 953h0M1077.9 959.3h0M1078.2 948.3h0M1078.5 949.7h0M1078.9 956.1h0M1079.2 945.6h0M1079.5 944.6h0M1079.5 951.8h0M1080.3 942.6h0M1080.4 948.8h0M1080.4 947.4h0M1080.5 943.6h0M1080.5 962h0M1080.6 957.6h0M1080.7 942.7h0M1080.9 951.7h0M1080.9 964.9h0M1080.9 937h0M1081.1 959.1h0M1081.2 955.2h0M1081.2 938.5h0M1081.2 962.6h0M1081.4 918.4h0M1081.4 953h0M1082 947.2h0M1082.1 930.2h0M1082.5 924.7h0M1082.6 933h0M1082.7 925h0M1082.8 935h0M1082.8 930.1h0M1083.2 925.4h0M1083.2 938.8h0M1083.5 916.5h0M1083.6 924.5h0M1083.7 946.4h0M1083.8 953.6h0M1083.8 922.6h0M1083.9 922.8h0M1083.9 956.3h0M1084 944.1h0M1084.3 936.5h0M1084.4 928.7h0M1084.7 925.4h0M1084.7 924.9h0M1084.7 951.7h0M1084.8 938.9h0M1084.8 954.8h0M1084.9 933.3h0M1084.9 949.8h0M1085.6 943.4h0M1085.6 947.5h0M1085.7 946.5h0M1085.8 920.1h0M1086 950.4h0M1086.2 943.5h0M1086.3 958.4h0M1086.6 945.1h0M1086.6 964.1h0M1086.9 961.4h0M1087 942.3h0M1087 954.1h0M1087.3 952.7h0M1087.3 940.8h0M1087.8 957.6h0M1088.3 947.5h0M1088.5 918.3h0M1088.8 967.8h0M1088.9 937.5h0M1089.1 945.8h0M1089.3 937.8h0M1089.4 949h0M1089.6 941h0M1090 959.6h0M1090.1 872h0M1090.3 900.9h0M1090.3 896.4h0M1090.4 961.8h0M1090.4 881h0M1090.9 887.4h0M1091.1 933.8h0M1091.1 936.8h0M1091.2 878h0M1091.6 945.6h0M1091.6 934.1h0M1091.6 923.3h0M1091.7 938.2h0M1091.8 940.9h0M1091.9 891.5h0M1091.9 934.6h0M1092.8 944.5h0M1092.9 920.5h0M1093 929h0M1093 943.3h0M1093.2 945.8h0M1093.4 934.2h0M1093.6 948h0M1093.6 957.2h0M1093.8 950.5h0M1093.8 953h0M1093.8 948.9h0M1093.9 931.4h0M1094 961.2h0M1094.3 947.4h0M1094.3 940.2h0M1094.5 960.2h0M1094.9 968.5h0M1095.3 955.3h0M1095.9 975.4h0M1095.9 969.1h0M1095.9 970.2h0M1096.3 973.7h0M1096.7 970.8h0M1096.8 970h0M1097.1 953.1h0M1097.1 958h0M1097.2 948.6h0M1097.5 949.5h0M1097.6 961.8h0M1097.7 965.7h0M1097.8 961.3h0M1097.9 960.5h0M1098.3 966.1h0M1098.8 970.1h0M1099 966.4h0M1099.6 969.1h0M1099.7 942.4h0M1099.7 955.1h0M1099.8 952.5h0M1100.2 916.2h0M1100.2 937.6h0M1100.5 947.9h0M1100.7 947.7h0M1100.9 953h0M1100.9 937.6h0M1101 937.6h0M1101.1 959.2h0M1101.2 956.4h0M1101.7 937.3h0M1102 962h0M1102.2 919.6h0M1102.3 939.4h0M1102.4 943.5h0M1102.4 932.9h0M1102.4 926.6h0M1102.7 950.6h0M1102.9 953.4h0M1103.1 957h0M1103.2 943.1h0M1103.2 953.8h0M1103.2 947.2h0M1103.3 950h0M1103.3 942.4h0M1103.5 964.9h0M1103.7 961.5h0M1103.7 958.3h0M1103.7 964.6h0M1103.8 940.6h0M1104.2 946.1h0M1104.3 971.3h0M1104.4 956.2h0M1104.6 959.8h0M1104.9 974h0M1105 971.6h0M1105.1 955h0M1105.4 968.2h0M1106.1 956h0M1106.1 969.1h0M1106.2 972.6h0M1106.4 964.6h0M1106.4 955.2h0M1106.8 959.8h0M1106.9 960.9h0M1107.2 974h0M1107.8 930.4h0M1108.1 959.3h0M1108.1 966.5h0M1108.1 969.2h0M1108.7 972.2h0M1108.8 960.5h0M1109 976.9h0M1109.1 942h0M1109.2 967.9h0M1109.3 963.2h0M1109.3 975.8h0M1109.7 977.7h0M1109.9 938.5h0M1110.1 970h0M1110.2 972.9h0M1110.4 968h0M1110.6 977h0M1110.9 958.4h0M1111.2 952.7h0M1111.2 947h0M1112.2 958.1h0M1112.2 962h0M1112.4 954.9h0M1112.4 968h0M1112.5 965.3h0M1112.7 972.4h0M1112.8 975.4h0M1113 965h0M1113 954.2h0M1113.2 955.1h0M1113.7 973.1h0M1113.9 967.5h0M1113.9 966.3h0M1114.1 970.5h0M1114.3 975.2h0M1114.7 980.1h0M1114.8 966.1h0M1114.9 976h0M1115.1 975.7h0M1115.1 976.3h0M1115.3 949.2h0M1115.4 956.1h0M1115.6 964.4h0M1116.5 978.8h0M1116.8 969h0M1117 975.7h0M1117.1 968.1h0M1117.1 973.8h0M1117.1 973.1h0M1117.7 968.4h0M1117.9 967.9h0M1118 969.3h0M1118.4 971.9h0M1119.1 969.4h0M1119.1 958.8h0M1119.1 976.4h0M1119.3 979.8h0M1119.5 950.3h0M1119.7 973.7h0M1119.8 968.5h0M1119.9 971.2h0M1119.9 944.9h0M1120 951.3h0M1120.4 971.1h0M1120.5 963.5h0M1120.5 958.9h0M1120.6 966.8h0M1120.7 975.5h0M1120.9 954.5h0M1120.9 959.5h0M1121 972.1h0M1121.1 948.9h0M1121.1 954.3h0M1121.1 949.4h0M1121.3 948.8h0M1121.7 963.5h0M1121.9 969.1h0M1121.9 936.7h0M1122.2 965h0M1122.4 954.9h0M1122.7 959.6h0M1122.7 955.6h0M1122.9 973.4h0M1122.9 967.1h0M1122.9 970.6h0M1122.9 964.4h0M1123.3 954.6h0M1123.5 953.4h0M1123.5 960.3h0M1123.6 931.8h0M1123.8 927.5h0M1123.9 947.8h0M1124.3 946.3h0M1124.3 957.5h0M1124.4 951h0M1124.5 953.8h0M1125.4 961.1h0M1125.5 949.7h0M1125.7 950.2h0M1125.7 955.9h0M1125.7 945.8h0M1125.7 944.9h0M1126 959.2h0M1126.1 965.1h0M1126.4 965.6h0M1126.6 955.1h0M1126.6 944.1h0M1126.9 948.4h0M1127.3 962.5h0M1127.7 931h0M1127.9 939.4h0M1128 933.5h0M1128 939.4h0M1128.1 935.5h0M1128.3 928.1h0M1128.5 946.6h0M1128.8 942.9h0M1128.8 963.4h0M1129.2 960.2h0M1129.3 935h0M1129.3 936.1h0M1129.5 956.1h0M1129.6 937.1h0M1129.6 940.2h0M1129.9 946.9h0M1130 944.1h0M1130.2 952.4h0M1130.3 952h0M1130.4 947.5h0M1130.4 960.7h0M1130.6 927.3h0M1130.7 942.5h0M1130.9 956.9h0M1130.9 961h0M1131 957.7h0M1131 941.3h0M1131.1 952.4h0M1131.3 964.3h0M1131.4 952.7h0M1132.1 959.6h0M1132.1 951.9h0M1132.3 965.8h0M1132.4 951.3h0M1132.5 956.6h0M1132.7 974h0M1133.2 962.6h0M1133.2 958.5h0M1133.5 957.4h0M1133.9 966.3h0M1133.9 977.3h0M1133.9 970.3h0M1134.1 961.4h0M1135.1 969.8h0M1135.3 971.4h0M1135.6 969.5h0M1135.6 974.4h0M1135.9 970.3h0M1135.9 978.3h0M1136.4 979.4h0M1136.4 934h0M1136.7 939.1h0M1136.8 978.4h0M1136.9 973.7h0M1136.9 961.8h0M1137 967.4h0M1137.5 939.3h0M1137.5 947.6h0M1137.6 962.5h0M1137.7 969.7h0M1137.7 976.4h0M1137.9 954.8h0M1137.9 962.9h0M1138.4 958.9h0M1138.5 965.9h0M1138.6 953.4h0M1138.8 970.9h0M1139 959.5h0M1139.1 974.1h0M1139.5 958.5h0M1139.5 962.2h0M1139.6 967.6h0M1140.4 983.2h0M1140.7 971.9h0M1140.8 979.8h0M1140.9 974.1h0M1141.4 986.7h0M1141.7 985.6h0M1142.8 986.9h0M1142.8 986.5h0M1143.2 978.5h0M1143.2 981.9h0M1143.9 983.3h0M1144.8 981.9h0M1145 971h0M1145 987.8h0M1145.1 967.3h0M1145.7 977.7h0M1145.7 972.1h0M1145.8 979.5h0M1146 975.5h0M1146.5 972.1h0M1146.7 977.1h0M1146.9 982h0M1147 973.7h0M1147.2 972.5h0M1147.3 980.6h0M1147.8 971.9h0M1148.2 973.2h0M1148.3 985.3h0M1148.4 972.7h0M1148.6 977.4h0M1149.2 976.2h0M1149.7 967.4h0M1150 980.7h0M1150.1 974h0M1150.3 968.5h0M1150.3 972.2h0M1150.7 964.2h0M1150.9 976.2h0M1150.9 973h0M1151.4 968.7h0M1151.9 979.7h0M1152 965.4h0M1152.2 976.6h0M1152.7 960.4h0M1152.9 967.9h0M1153 961h0M1153.1 955.9h0M1153.3 967.6h0M1153.3 965.1h0M1153.4 971.6h0M1153.6 969.2h0M1153.8 973.6h0M1154 977.6h0M1154.1 957.1h0M1154.3 960.3h0M1154.4 953.6h0M1154.4 962h0M1154.7 959.5h0M1154.8 956.1h0M1154.9 946.6h0M1155.1 956.3h0M1155.3 964.8h0M1155.5 948.2h0M1155.6 952.1h0M1156 951.1h0M1156 960.8h0M1156.1 962h0M1156.1 946.3h0M1156.7 956.8h0M1157 960.2h0M1157.4 947.4h0M1157.4 970.8h0M1157.5 968.3h0M1157.7 963.9h0M1158.2 968.2h0M1159 962.8h0M1159 961.6h0M1159.1 962.5h0M1159.1 972.7h0M1159.4 970.6h0M1159.5 961.6h0M1159.7 966.3h0M1159.9 959.2h0M1160.1 925.3h0M1160.2 974.8h0M1160.3 968.2h0M1160.5 929.3h0M1160.6 963.4h0M1160.7 963h0M1160.9 971.3h0M1161.1 960.8h0M1161.4 930.4h0M1161.4 959.9h0M1161.9 960.5h0M1161.9 970.2h0M1162 936.4h0M1162.1 970.2h0M1162.2 960.3h0M1162.3 966.7h0M1162.3 955.4h0M1162.4 965.5h0M1162.6 931.2h0M1162.7 973h0M1162.9 950.7h0M1163 951.8h0M1163.1 964.8h0M1163.2 933.5h0M1163.5 960.8h0M1163.6 956.2h0M1163.8 961.8h0M1163.9 956h0M1164.1 969.8h0M1164.5 973.4h0M1164.7 957.2h0M1164.7 931.9h0M1164.8 960.3h0M1164.9 923.7h0M1165.1 961h0M1165.3 965.2h0M1165.5 965.1h0M1165.7 958.6h0M1166.1 969.4h0M1166.2 968.1h0M1166.3 946.1h0M1166.6 940.2h0M1166.8 964h0M1166.8 958.9h0M1167 963.4h0M1167.2 971.4h0M1167.9 966.5h0M1167.9 966.3h0M1168 957.3h0M1168.3 963.5h0M1168.6 978.3h0M1169.1 973.8h0M1169.4 969.6h0M1169.9 980.3h0M1170 962.9h0M1171 958.8h0M1171.3 959.1h0M1171.5 972h0M1172.1 947.1h0M1172.2 956.9h0M1172.4 952.8h0M1172.6 948.6h0M1172.9 962.2h0M1173.6 976h0M1173.7 950.3h0M1173.8 957.8h0M1174 948.6h0M1174.1 954.7h0M1174.9 976.9h0M1175.1 980.9h0M1175.9 985.2h0M1176.6 974.5h0M1177 973.6h0M1177.3 981.4h0M1177.3 976.5h0M1177.6 975.6h0M1177.8 974h0M1178.2 982.7h0M1178.2 979.8h0M1178.6 978.5h0M1178.9 979.7h0M1179.2 986.5h0M1179.4 981.7h0M1179.9 983.2h0M1180.1 982.5h0M1180.1 984.7h0M1180.6 961.2h0M1181.1 989.8h0M1181.2 983.2h0M1181.4 990.6h0M1181.4 966.8h0M1181.4 987.2h0M1181.4 971h0M1181.6 979h0M1181.7 991.3h0M1182 979.1h0M1182 978.7h0M1182.1 986.5h0M1182.3 981.5h0M1182.9 979.7h0M1183.2 967.3h0M1183.3 976.1h0M1183.5 983.2h0M1183.5 977.3h0M1183.7 960.2h0M1184.2 972.5h0M1184.4 978.9h0M1184.4 974.7h0M1184.7 972.5h0M1184.8 951.1h0M1185.6 972.9h0M1185.7 976.3h0M1185.7 982.8h0M1185.8 968.6h0M1186.1 972.9h0M1186.7 967.2h0M1186.8 966.7h0M1186.8 978h0M1187.4 964.6h0M1187.6 955.1h0M1187.8 970.6h0M1188 946.5h0M1188.1 927h0M1188.1 959.1h0M1188.4 933.9h0M1188.5 955.4h0M1189.3 963.4h0M1189.3 959h0M1189.4 954.2h0M1189.7 946.8h0M1189.7 958.5h0M1190 967.4h0M1190 963.2h0M1190 945.4h0M1190.1 949.4h0M1190.8 970.8h0M1191 957.4h0M1191.2 964.4h0M1191.4 970.7h0M1191.6 964.2h0M1191.9 960.9h0M1192.4 966h0M1192.4 962h0M1192.8 970.1h0M1193 969.1h0M1193.1 945.2h0M1193.3 965.5h0M1193.4 956.7h0M1193.4 960.5h0M1193.4 951.1h0M1193.4 945.3h0M1194 971h0M1194.6 967.6h0M1194.7 960.6h0M1195.1 941.8h0M1195.2 960.3h0M1195.3 938h0M1195.3 961.8h0M1195.4 929.9h0M1195.5 964.9h0M1195.5 961.5h0M1195.8 950.7h0M1196.6 960.2h0M1196.8 953.3h0M1196.9 949.3h0M1197.2 951.9h0M1197.2 955.2h0M1197.2 964.3h0M1197.3 960.8h0M1197.3 957.6h0M1197.7 959.2h0M1197.8 956.4h0M1197.9 951.1h0M1198.1 950h0M1198.3 937.7h0M1198.6 962.1h0M1198.7 931.1h0M1198.9 971.5h0M1199.3 940.3h0M1199.9 963.5h0M1200 967.3h0M1200.1 964.8h0M1200.4 957.5h0M1200.4 951.5h0M1201 969h0M1201 950.9h0M1201.1 961.3h0M1201.2 954.6h0M1201.3 959.4h0M1201.9 959.2h0M1202 965.6h0M1202.2 961.4h0M1202.3 964.8h0M1203.2 950.1h0M1203.3 942h0M1203.4 962.6h0M1203.6 960.1h0M1203.6 957.4h0M1204 961.4h0M1204.4 933.9h0M1204.6 949.1h0M1204.7 957h0M1204.8 953h0M1204.8 948.2h0M1205.1 967.3h0M1205.7 968.2h0M1205.8 943.1h0M1205.8 972.9h0M1206.1 939.9h0M1206.4 932.4h0M1206.7 960.4h0M1206.7 946.3h0M1206.7 940.3h0M1206.7 954h0M1206.9 957.7h0M1206.9 947.6h0M1207.3 941.9h0M1207.5 924.7h0M1207.5 945.5h0M1207.8 942.9h0M1207.9 951.5h0M1207.9 942.2h0M1207.9 938.5h0M1207.9 949.2h0M1208 947h0M1208.1 924.6h0M1208.1 937.2h0M1208.6 959.1h0M1209.1 964.2h0M1209.1 956h0M1209.1 954.5h0M1209.6 960.9h0M1209.7 971.2h0M1210.3 969.2h0M1210.6 961.9h0M1211 966h0M1211.1 966.9h0M1211.2 941.4h0M1211.6 936.7h0M1211.6 972.6h0M1211.9 978.5h0M1212 975h0M1212.1 972.4h0M1212.3 968.2h0M1212.7 960.8h0M1213.5 969.1h0M1213.7 947.6h0M1213.7 942.4h0M1213.8 959.7h0M1213.9 972.6h0M1214.2 965.2h0M1214.2 954.9h0M1214.6 962h0M1214.7 949.4h0M1214.8 970.7h0M1215 961.3h0M1215.1 967.4h0M1215.6 975.6h0M1215.8 971h0M1215.9 960.1h0M1216 964.2h0M1216.2 967.6h0M1216.4 977.1h0M1216.9 960.9h0M1217 923.6h0M1217.2 962.7h0M1217.2 970.8h0M1217.3 967.5h0M1217.6 941.5h0M1217.6 962.1h0M1217.7 950.8h0M1217.9 944.9h0M1218 955.2h0M1218.1 966.6h0M1218.1 959.1h0M1218.2 941h0M1218.6 962.7h0M1218.8 963.5h0M1219 957.6h0M1219 913.5h0M1219.2 907.4h0M1219.2 921.1h0M1219.6 950.6h0M1219.9 954.6h0M1220.1 958.6h0M1220.3 946.2h0M1220.3 961h0M1220.6 930.6h0M1220.7 917h0M1220.8 940.1h0M1220.8 930.8h0M1221 934.4h0M1221.2 912.7h0M1221.3 942.9h0M1221.4 929.7h0M1221.5 934h0M1221.8 929.7h0M1221.9 933.1h0M1221.9 937.6h0M1221.9 920.6h0M1221.9 927.6h0M1222 924.3h0M1222 916.6h0M1222 936.4h0M1222.2 924.5h0M1222.4 939.2h0M1222.6 911.9h0M1222.9 951.1h0M1222.9 936.1h0M1223 919.7h0M1223.1 931h0M1223.1 925.3h0M1223.2 922.6h0M1223.2 944.1h0M1223.5 955h0M1224 927.3h0M1224 939.9h0M1224 948.1h0M1224.1 936.8h0M1224.3 919.8h0M1224.3 927.6h0M1224.5 923.1h0M1224.7 940.9h0M1224.8 952.5h0M1224.9 945.1h0M1225.2 932.6h0M1225.5 942.4h0M1225.8 956.5h0M1226 927.4h0M1226 939.5h0M1226.1 948.6h0M1226.4 935.1h0M1226.5 956.6h0M1226.5 944.6h0M1226.5 930.2h0M1226.6 926.5h0M1226.7 948.5h0M1226.7 953h0M1226.9 948h0M1227 930.1h0M1227.1 939.7h0M1227.2 939.3h0M1227.4 942h0M1227.6 913.2h0M1227.7 944.7h0M1227.8 933.6h0M1227.8 945.8h0M1227.8 932.6h0M1227.9 926.4h0M1228.2 950.8h0M1228.2 928.7h0M1228.3 951.3h0M1228.6 940.8h0M1228.6 938.1h0M1228.8 958.1h0M1228.9 954.2h0M1229 930.1h0M1229.1 961.5h0M1229.1 937h0M1229.2 942h0M1229.4 933.9h0M1229.6 941.3h0M1229.7 935.9h0M1229.7 944.1h0M1230 931.4h0M1230.3 947.2h0M1230.4 950.4h0M1230.6 936.7h0M1230.7 944h0M1230.7 935.6h0M1231 950.9h0M1231 930.4h0M1231 944.3h0M1231.1 947.2h0M1231.2 950.3h0M1231.9 905.7h0M1232.1 912.1h0M1232.2 930.3h0M1232.3 939.7h0M1232.3 905.5h0M1232.3 947.8h0M1232.4 929h0M1232.4 928.2h0M1232.7 939.4h0M1232.8 924.2h0M1232.9 936.2h0M1233 925.2h0M1233 935.4h0M1233.1 946.3h0M1233.1 932.2h0M1233.2 929.9h0M1233.7 951.8h0M1233.9 926.3h0M1234 921.7h0M1234 920h0M1234.2 941.8h0M1234.2 937.3h0M1234.4 949.5h0M1234.5 932h0M1234.6 924.3h0M1234.6 937.5h0M1234.8 930.7h0M1234.8 941.3h0M1235 948.9h0M1235.1 944h0M1235.3 948.3h0M1235.4 940.9h0M1235.6 934.6h0M1235.7 931.8h0M1235.9 925.5h0M1235.9 945.2h0M1235.9 921.6h0M1236.1 944.4h0M1236.2 953.4h0M1236.4 953.3h0M1236.5 924.1h0M1236.5 940.8h0M1236.7 965.4h0M1237 916.4h0M1237.1 957.1h0M1237.1 960.5h0M1237.1 928.3h0M1237.3 955.2h0M1237.4 952.2h0M1237.4 949.4h0M1237.4 936.2h0M1237.7 923.6h0M1237.8 928.9h0M1238 970.3h0M1238.1 969.4h0M1238.2 939.6h0M1238.2 956.5h0M1238.3 931.7h0M1238.3 924h0M1238.6 953.3h0M1238.6 958h0M1238.9 966h0M1239 961.3h0M1239.2 952.8h0M1240 952.3h0M1240 937.7h0M1240.7 977.6h0M1240.7 945.7h0M1241 962.4h0M1241.3 965.7h0M1241.6 965.7h0M1241.9 953.5h0M1241.9 951.7h0M1242 955.1h0M1242.1 961.4h0M1242.3 959.1h0M1242.5 955h0M1242.9 968.9h0M1243.2 958h0M1243.3 960.5h0M1243.7 950.8h0M1243.8 928.7h0M1243.8 936.3h0M1243.8 965.4h0M1243.8 948.1h0M1244.1 954.2h0M1244.1 961.1h0M1244.6 940.2h0M1245 929.5h0M1245.2 931.7h0M1245.2 943.3h0M1245.3 927.6h0M1245.4 924.6h0M1245.5 936.8h0M1245.6 939.7h0M1245.7 949.4h0M1245.7 938.3h0M1245.8 944.8h0M1245.9 924h0M1246.1 936.5h0M1246.1 931.8h0M1246.4 952.7h0M1246.7 948.9h0M1246.8 957.5h0M1247.5 954.7h0M1247.9 937.1h0M1248 931.2h0M1248 944.4h0M1248 929.6h0M1248 944.5h0M1248.1 947.6h0M1248.2 952.5h0M1248.7 942.9h0M1249.2 933.5h0M1249.3 938.4h0M1249.6 903.3h0M1249.9 897.1h0M1249.9 942.1h0M1249.9 889.3h0M1250 927.7h0M1250.1 946.5h0M1250.1 926.8h0M1250.3 931.8h0M1250.8 937.7h0M1250.8 873.2h0M1251.2 938.7h0M1251.2 941.3h0M1251.2 943.1h0M1251.3 932.8h0M1251.4 933.1h0M1251.8 936.5h0M1252 930.4h0M1252.4 930.1h0M1252.5 930.9h0M1252.7 930.7h0M1252.8 882.1h0M1252.8 945.5h0M1252.9 941.1h0M1253 952h0M1253.2 939h0M1253.3 956h0M1253.3 948.6h0M1253.5 939.2h0M1253.6 933.9h0M1254 944.1h0M1254.5 942.7h0M1254.5 929.8h0M1254.8 937.9h0M1254.8 942.2h0M1254.8 953.5h0M1254.9 928.9h0M1255.1 945.1h0M1255.2 950.1h0M1255.3 931.4h0M1255.7 931.7h0M1255.8 938.8h0M1255.9 934.8h0M1256 938.6h0M1256.3 934.1h0M1256.3 929.3h0M1256.6 929.7h0M1256.7 942h0M1256.8 937.6h0M1256.8 928.9h0M1257.2 934.4h0M1257.3 949.3h0M1257.4 904.6h0M1257.4 951.6h0M1257.9 955.5h0M1257.9 924.2h0M1258 922.8h0M1258.1 954.6h0M1258.2 945.9h0M1258.7 934.2h0M1259 928.7h0M1259.1 947.8h0M1259.1 954h0M1259.6 951.7h0M1259.7 939h0M1259.8 907.3h0M1260 912.8h0M1260 900.8h0M1260.1 943.1h0M1260.1 901.5h0M1260.3 927.8h0M1260.5 915.6h0M1260.5 927.8h0M1260.7 930.5h0M1260.9 919.6h0M1261 923.2h0M1261.1 951.5h0M1261.2 945.6h0M1261.3 902.5h0M1261.4 955.8h0M1261.5 916.9h0M1261.8 910.7h0M1261.9 959.1h0M1262.2 948.3h0M1262.3 957.6h0M1263.3 963h0M1263.9 935.2h0M1264.2 939.4h0M1264.4 926.6h0M1264.7 948.2h0M1264.8 926.4h0M1264.9 941.4h0M1265.3 927.5h0M1265.3 931h0M1265.6 922.2h0M1265.8 933.1h0M1266 941.3h0M1266 945.9h0M1266.1 921.9h0M1266.1 937.3h0M1266.6 901.1h0M1266.7 910h0M1266.7 938.3h0M1266.8 896.8h0M1266.8 882.7h0M1266.8 907.8h0M1266.9 910.8h0M1266.9 895.9h0M1267 919.1h0M1267 914.8h0M1267 880.5h0M1267 926.2h0M1267.1 922.6h0M1267.2 884.9h0M1267.2 931.4h0M1267.2 905.5h0M1267.2 935.3h0M1267.3 916.3h0M1267.4 913.1h0M1267.6 904.8h0M1267.8 892.8h0M1267.9 901.2h0M1268 935.8h0M1268 918.1h0M1268 880.1h0M1268.3 924h0M1268.3 835.2h0M1268.4 927.3h0M1268.4 889.9h0M1268.4 831h0M1268.4 853.1h0M1268.5 930.7h0M1268.5 904.5h0M1268.6 908.2h0M1268.7 857.2h0M1268.9 912.9h0M1269 908h0M1269 839.7h0M1269 824.6h0M1269 851.1h0M1269.1 864.6h0M1269.1 920.6h0M1269.2 831.2h0M1269.2 841.7h0M1269.3 860.2h0M1269.3 911.6h0M1269.5 876.5h0M1269.5 838.4h0M1269.8 902.8h0M1269.9 903.7h0M1269.9 914.5h0M1270.1 917.2h0M1270.2 919.4h0M1270.2 917.3h0M1270.4 873.9h0M1270.4 847h0M1270.6 915.7h0M1270.7 936.8h0M1270.7 869.9h0M1270.8 879.8h0M1270.8 934.1h0M1270.8 924h0M1270.9 936.5h0M1271 912.1h0M1271 907.5h0M1271.1 929.9h0M1271.2 934.3h0M1271.2 926.6h0M1271.3 902.7h0M1271.4 924.3h0M1271.5 920.2h0M1271.9 901.7h0M1272.1 905.7h0M1272.2 900.5h0M1272.2 919.7h0M1272.3 915.3h0M1272.4 930.6h0M1272.4 913.2h0M1272.4 914.7h0M1272.6 923.5h0M1272.7 930.4h0M1273.1 927.1h0M1273.2 940h0M1273.3 929.7h0M1273.4 950.2h0M1273.8 953.3h0M1273.9 921.8h0M1273.9 935.1h0M1273.9 943.6h0M1274.1 938.5h0M1274.1 923.4h0M1274.2 943.7h0M1274.4 947.2h0M1274.6 948.4h0M1274.8 935.6h0M1274.8 944h0M1275 954.8h0M1275.1 939.4h0M1275.3 940.9h0M1275.4 949.4h0M1275.6 961.6h0M1275.7 962.1h0M1276 934.7h0M1276.1 960.9h0M1276.1 958.7h0M1276.2 951.7h0M1276.8 958.3h0M1277.2 956.7h0M1277.7 965.5h0M1278 962.8h0M1278 930h0M1278.4 933.8h0M1279 922.9h0M1279.1 938.4h0M1279.1 929.9h0M1279.2 941.6h0M1279.3 938h0M1279.3 923.2h0M1279.4 929.6h0M1280 942.2h0M1280 934.8h0M1280.1 930.5h0M1280.7 947.1h0M1280.8 941.1h0M1281 930.3h0M1281.2 951.8h0M1281.2 939h0M1281.4 936.2h0M1281.6 939.5h0M1281.8 955.8h0M1281.9 942.6h0M1282 951.7h0M1282.5 937.1h0M1282.6 949.3h0M1282.6 940.9h0M1282.7 953.3h0M1282.7 937.9h0M1282.8 945.7h0M1283.2 946.4h0M1283.6 949.4h0M1283.6 933.8h0M1283.9 934.1h0M1284 954.1h0M1284 941h0M1284 946.3h0M1284.4 931.6h0M1284.6 942.9h0M1284.8 938.2h0M1284.8 949.5h0M1285.3 961.8h0M1285.3 964.6h0M1285.8 956.2h0M1285.9 959.1h0M1286 950.4h0M1286.1 961.8h0M1286.7 965.2h0M1287.2 951.6h0M1287.3 952.1h0M1287.3 959.6h0M1287.5 957.1h0M1287.6 905.8h0M1287.7 951.4h0M1288.2 925.4h0M1288.3 940.8h0M1288.8 937.6h0M1289.1 932h0M1289.2 943.7h0M1289.2 927.1h0M1289.3 962.8h0M1289.3 958.1h0M1289.4 950.9h0M1289.9 947.3h0M1290 953.5h0M1290.5 951.9h0M1290.5 959.7h0M1290.6 964.2h0M1290.7 956.4h0M1290.9 954h0M1291 946.8h0M1291 959.3h0M1291.3 968.9h0M1291.8 949.7h0M1291.9 949.2h0M1291.9 948.2h0M1292.1 945h0M1292.6 940.3h0M1292.6 953.4h0M1292.7 939.1h0M1292.7 961.3h0M1292.8 926.9h0M1292.8 958h0M1292.9 944h0M1293.1 939.6h0M1293.2 958.2h0M1293.4 933.8h0M1293.7 938h0M1293.7 962.8h0M1293.9 947.6h0M1293.9 954.8h0M1294.3 949.1h0M1294.3 943.4h0M1294.4 934.2h0M1294.6 957.2h0M1294.6 950.9h0M1294.7 960.4h0M1294.8 954.4h0M1294.8 936.3h0M1294.8 932.9h0M1295.1 941.6h0M1295.4 931.1h0M1295.7 938.5h0M1295.8 913.8h0M1296.4 937.9h0M1296.4 934.9h0M1296.5 933.1h0M1296.8 942.3h0M1296.8 940.6h0M1297 930.6h0M1297.2 929.6h0M1297.2 948.7h0M1297.3 936.3h0M1297.4 951.9h0M1297.6 944.8h0M1297.8 956.5h0M1297.9 936.8h0M1298.4 928.2h0M1298.7 931.2h0M1298.8 951.4h0M1299 945.4h0M1299.2 961.8h0M1299.2 942h0M1299.4 936.4h0M1299.4 958.1h0M1299.5 935.2h0M1299.7 954.8h0M1299.8 947.1h0M1299.8 941.8h0M1300.3 964.2h0M1300.3 923.6h0M1300.6 951.4h0M1300.6 969.2h0M1300.8 961.7h0M1300.8 958.5h0M1301.3 966.3h0M1301.8 909.6h0M1301.9 955.2h0M1302 947.7h0M1302 964.7h0M1302 962.8h0M1302.1 957.9h0M1302.1 946.5h0M1302.5 948.5h0M1303.1 960.2h0M1303.2 940.6h0M1303.3 952.8h0M1303.6 942.7h0M1303.9 947.2h0M1304 939.8h0M1304.1 954.4h0M1304.1 952.1h0M1304.2 949.9h0M1305.2 947.7h0M1305.4 944.2h0M1305.7 957.2h0M1305.7 904.2h0M1305.8 942.5h0M1306.1 960h0M1306.4 951.6h0M1306.7 947.7h0M1306.8 939.9h0M1306.9 953.8h0M1306.9 940.6h0M1307 923.1h0M1307.1 956.4h0M1307.2 960.7h0M1307.2 936.9h0M1307.3 956.7h0M1307.4 951h0M1307.5 948h0M1307.5 931h0M1307.5 943h0M1307.6 936.4h0M1307.7 952.8h0M1307.7 926h0M1307.8 930.5h0M1308.2 922.1h0M1308.6 923h0M1308.6 950.2h0M1308.8 940h0M1308.9 935.6h0M1309 943.9h0M1309 924.2h0M1309.3 922.6h0M1309.3 946.5h0M1309.4 938.9h0M1309.4 909.3h0M1309.7 925.8h0M1309.7 939.3h0M1309.7 921.5h0M1310.1 929.9h0M1310.1 930.5h0M1310.3 928.1h0M1310.5 944.4h0M1310.6 954h0M1310.8 958h0M1310.9 934.8h0M1310.9 949h0M1311.2 964.2h0M1311.7 938.6h0M1311.9 936.6h0M1312 953.5h0M1312.2 956h0M1312.3 964.6h0M1312.3 950.6h0M1312.6 953.7h0M1312.9 958.9h0M1312.9 946.4h0M1312.9 957.4h0M1313 941.7h0M1313.6 951.5h0M1314.3 966.7h0M1314.3 950h0M1314.4 950.2h0M1314.5 962.3h0M1314.8 964.9h0M1314.9 956.4h0M1314.9 952.4h0M1315.2 970h0M1315.2 959.8h0M1315.6 950.9h0M1315.6 968.4h0M1315.6 956.1h0M1315.8 945.5h0M1316.2 927.8h0M1316.6 949.7h0M1316.7 953.4h0M1316.7 946.3h0M1316.8 938.6h0M1317 933.2h0M1317.1 952h0M1317.5 940.1h0M1317.7 912.1h0M1317.9 944.8h0M1318 927.5h0M1318.1 933h0M1318.1 948.1h0M1318.2 922.3h0M1318.2 941.3h0M1318.3 956.5h0M1318.4 922.7h0M1318.5 937.8h0M1318.7 929.9h0M1318.8 915.5h0M1319 920.3h0M1319.4 936.9h0M1319.5 939.6h0M1319.5 925.6h0M1319.6 933h0M1319.8 912.9h0M1319.8 931.9h0M1320 911.5h0M1320.1 915.4h0M1320.3 924.5h0M1320.8 899.5h0M1320.8 906.8h0M1320.8 929.4h0M1320.8 914.3h0M1320.9 897h0M1321 901.5h0M1321 922.8h0M1321 901.6h0M1321.1 862.7h0M1321.2 889.9h0M1321.3 920.9h0M1321.4 892.2h0M1321.5 865h0M1321.7 904.3h0M1321.8 886.2h0M1321.9 871.3h0M1322 882.2h0M1322 914.8h0M1322.1 909.6h0M1322.1 918.9h0M1322.1 899.1h0M1322.1 907.6h0M1322.2 906h0M1322.2 910.7h0M1322.4 892.4h0M1322.6 885.9h0M1322.7 895.9h0M1322.8 883h0M1322.8 899.8h0M1322.9 894.2h0M1323.1 890.4h0M1323.1 893h0M1323.1 882.7h0M1323.1 884h0M1323.2 889h0M1323.3 911.2h0M1323.5 898.4h0M1323.6 883.2h0M1323.7 872.6h0M1323.7 919.9h0M1323.7 861h0M1323.7 915.7h0M1323.8 869.6h0M1323.9 879.6h0M1323.9 933.4h0M1324.1 931h0M1324.2 907.6h0M1324.3 938.6h0M1324.4 903.5h0M1324.6 929.8h0M1324.7 948.3h0M1325 945.1h0M1325 911.1h0M1325.1 942.5h0M1325.1 919.1h0M1325.2 891.2h0M1325.3 896.5h0M1325.4 905.2h0M1325.4 902h0M1325.6 914.2h0M1325.6 936.2h0M1325.6 935.1h0M1325.7 921.2h0M1325.8 924h0M1325.8 906.7h0M1325.9 933h0M1326 928.9h0M1326.6 930h0M1326.7 925.2h0M1327 920h0M1327 944.4h0M1327.2 952.5h0M1327.2 946.2h0M1327.4 958.3h0M1327.6 933h0M1327.7 966h0M1327.8 923h0M1327.9 926.6h0M1328.2 973.9h0M1328.2 920.9h0M1328.2 963h0M1328.7 925.9h0M1328.9 930.4h0M1329.1 969.4h0M1329.2 969h0M1329.7 978.5h0M1330.1 943.9h0M1330.2 984.1h0M1330.3 979h0M1330.7 948.9h0M1330.7 937.8h0M1331.9 959.3h0M1332 964.8h0M1332.1 970.4h0M1332.1 967h0M1332.3 958.6h0M1332.4 963.6h0M1332.7 975h0M1333 965.2h0M1333.2 961.8h0M1333.4 976.6h0M1333.5 965.9h0M1333.8 971.6h0M1333.9 976.4h0M1334 965.6h0M1334 973.4h0M1334.2 966.1h0M1334.3 974.2h0M1334.8 969.8h0M1334.8 963.5h0M1334.9 947.3h0M1335.1 967.6h0M1335.7 931.2h0M1335.8 946.3h0M1335.8 945h0M1335.9 959.6h0M1336 910.9h0M1336 934.1h0M1336.2 953.1h0M1336.5 928.5h0M1336.6 922.9h0M1336.8 893.4h0M1336.9 938.1h0M1337 884.4h0M1337 885.5h0M1337.1 889.5h0M1337.3 912.5h0M1337.3 942.2h0M1337.4 904.4h0M1337.4 916.7h0M1337.7 884.8h0M1337.7 901.4h0M1337.8 899.2h0M1337.8 897.8h0M1337.8 908.1h0M1337.9 920.4h0M1338 907.5h0M1338.1 920.9h0M1338.1 880.9h0M1338.3 924.8h0M1338.3 853h0M1338.5 844.3h0M1338.5 840.6h0M1338.6 888.4h0M1338.7 884.4h0M1338.7 887.6h0M1338.7 874.6h0M1338.8 911.8h0M1338.8 882.4h0M1338.8 892.1h0M1339 895.1h0M1339 916.2h0M1339.2 896.2h0M1339.2 903.9h0M1339.3 913.8h0M1339.4 868.3h0M1339.5 855.2h0M1339.6 901.1h0M1339.7 869.8h0M1339.8 906.1h0M1339.8 894.6h0M1339.8 887.8h0M1339.9 879h0M1339.9 870.6h0M1340.1 909.7h0M1340.1 890.6h0M1340.4 871.2h0M1340.4 859.2h0M1340.7 849.9h0M1340.8 900.8h0M1340.8 838h0M1340.9 877.2h0M1340.9 873.3h0M1341.2 882.8h0M1341.3 890h0M1341.4 882.5h0M1341.6 910.7h0M1341.6 895.2h0M1341.7 884h0M1341.7 896.3h0M1341.7 914.7h0M1341.8 843.8h0M1341.9 905h0M1342.1 888.1h0M1342.1 900.8h0M1342.3 925.5h0M1342.3 920.3h0M1342.4 893.6h0M1342.5 904.8h0M1342.5 889.5h0M1343 834h0M1343.3 881.7h0M1343.6 897.7h0M1343.6 883.6h0M1343.7 863.2h0M1343.7 889.8h0M1343.7 893.9h0M1343.8 897.5h0M1343.8 906.4h0M1344.1 921.8h0M1344.1 891.6h0M1344.2 883.1h0M1344.2 851.7h0M1344.2 901.5h0M1344.3 910.3h0M1344.4 882h0M1344.7 924.9h0M1344.7 918.9h0M1344.8 913.8h0M1344.8 914.2h0M1344.8 907.5h0M1345 853.5h0M1345 849.3h0M1345.3 928.5h0M1345.4 886.9h0M1345.4 903.1h0M1345.5 911h0M1345.6 902.1h0M1345.8 846h0M1346.1 859.6h0M1346.1 855.7h0M1346.2 867.4h0M1346.2 933h0M1346.2 916.1h0M1346.3 919.3h0M1346.4 921.5h0M1346.4 861.7h0M1346.4 868.6h0M1346.5 915.3h0M1346.8 924.3h0M1346.8 915h0M1346.9 926.8h0M1347 928.3h0M1347 939.5h0M1347.1 926.4h0M1347.2 931.3h0M1347.6 934.6h0M1348 938.4h0M1348 935.3h0M1348 942.7h0M1348.2 898.8h0M1348.4 893h0M1348.4 945.2h0M1348.7 950.3h0M1349 934.4h0M1349.3 936.6h0M1349.5 942.5h0M1349.6 953.7h0M1349.9 934.8h0M1349.9 896h0M1349.9 889.2h0M1350 929.1h0M1350 946.4h0M1350.1 931.3h0M1350.1 921.4h0M1350.3 928.7h0M1350.4 921.8h0M1350.4 931.4h0M1350.8 942.9h0M1351.1 923.3h0M1351.1 917.2h0M1351.2 939.4h0M1351.2 939.9h0M1351.3 926.7h0M1351.6 951.4h0M1351.7 912.9h0M1351.8 928.2h0M1351.9 948h0M1351.9 936.1h0M1352 913.5h0M1352.2 950.2h0M1352.3 930.9h0M1352.4 947.1h0M1352.6 946.8h0M1352.7 960.1h0M1353 954.2h0M1353.1 959.1h0M1353.4 955.8h0M1353.7 942.5h0M1353.9 934.5h0M1354.1 954.9h0M1354.3 930.3h0M1354.6 927.9h0M1354.7 937.9h0M1355.7 966.5h0M1355.7 960.6h0M1355.8 967.3h0M1356.2 969.6h0M1356.6 964h0M1356.6 966.6h0M1356.7 961.2h0M1356.8 958.6h0M1356.9 970.4h0M1357.2 956.5h0M1357.8 927.4h0M1358 962.4h0M1358.9 973.4h0M1359 970.6h0M1359 969.2h0M1359.1 974.5h0M1360.2 972.3h0M1360.4 971.7h0M1360.6 950.5h0M1360.7 962.2h0M1361.3 926h0M1361.4 954.1h0M1361.4 942.7h0M1361.5 957.4h0M1361.7 942.3h0M1361.7 942.1h0M1362.1 938.5h0M1362.2 944.6h0M1362.4 966h0M1362.7 936h0M1363 934.7h0M1363.2 946h0M1363.6 963.4h0M1364 966.5h0M1364.1 962.8h0M1364.2 963.4h0M1364.5 949.9h0M1364.6 946.2h0M1365 936.6h0M1365 952.3h0M1365.1 953.7h0M1365.3 958.8h0M1365.3 938.7h0M1366 947.3h0M1366 949h0M1366 938.4h0M1366.1 929.9h0M1366.1 949.7h0M1366.3 943.1h0M1366.7 927.5h0M1366.8 933.1h0M1367 943.9h0M1367 956.7h0M1367 953.1h0M1367.1 910.7h0M1367.3 915.4h0M1367.3 892.6h0M1367.4 907.6h0M1367.4 920.4h0M1367.4 929.9h0M1367.4 924.8h0M1367.4 931.2h0M1367.7 920.5h0M1367.8 898.5h0M1368.2 935.1h0M1368.3 934h0M1368.3 896h0M1368.6 929.5h0M1368.6 907.3h0M1368.7 924.7h0M1368.8 895.1h0M1368.8 909.1h0M1368.9 917.3h0M1368.9 912.7h0M1368.9 902.8h0M1369.2 917h0M1369.2 884.8h0M1369.2 889h0M1369.4 905.2h0M1369.9 881.3h0M1369.9 908.8h0M1369.9 881.7h0M1369.9 881.6h0M1370 912.5h0M1370.1 894.8h0M1370.2 901.9h0M1370.2 876.3h0M1370.3 897.8h0M1370.4 899.4h0M1370.5 864.9h0M1370.6 894.1h0M1370.6 889.5h0M1370.9 912.9h0M1370.9 857.3h0M1370.9 869.8h0M1371 906.3h0M1371.1 922.6h0M1371.2 904.6h0M1371.3 917.2h0M1371.3 908.7h0M1371.5 926.6h0M1371.6 873.1h0M1371.6 926.2h0M1371.7 930.3h0M1371.8 920h0M1372.3 913.3h0M1372.3 859h0M1372.5 885.2h0M1372.5 861.6h0M1372.9 902.1h0M1372.9 879.3h0M1373 923.1h0M1373 915.3h0M1373.2 923.9h0M1373.3 929.6h0M1373.5 897.6h0M1373.5 911h0M1373.7 902.5h0M1373.8 912.8h0M1373.9 926.7h0M1373.9 918.9h0M1374 891.2h0M1374 906.6h0M1374.1 893.3h0M1374.1 930.7h0M1374.2 903h0M1374.3 934.2h0M1374.3 917.3h0M1374.3 926.5h0M1374.4 907.8h0M1374.9 945.1h0M1375.2 922.3h0M1375.4 938.2h0M1375.7 934.3h0M1375.7 919.6h0M1376 931.7h0M1376 941.4h0M1376.4 935.3h0M1376.4 932.9h0M1376.5 914.4h0M1376.6 928.8h0M1376.8 926.3h0M1376.8 914.3h0M1377 898.8h0M1377.1 938.8h0M1377.1 894.4h0M1377.2 922.6h0M1377.2 919.9h0M1377.5 913.5h0M1377.6 924.6h0M1377.7 916.6h0M1377.8 937.8h0M1377.9 914.5h0M1378.1 933.9h0M1378.3 932.5h0M1378.5 909.9h0M1378.6 930.7h0M1378.6 925.9h0M1378.8 938.9h0M1379 937.9h0M1379.2 920.6h0M1379.3 944.7h0M1379.4 910.1h0M1380.2 949.3h0M1380.3 944.7h0M1380.6 949.6h0M1380.7 933.9h0M1380.8 923.6h0M1380.8 903.6h0M1380.9 942h0M1381.1 920h0M1381.2 908.7h0M1381.2 930.2h0M1381.3 892.6h0M1381.4 904.6h0M1381.8 939.7h0M1381.9 912.6h0M1381.9 935.7h0M1382 946.6h0M1382.1 916.2h0M1382.1 927.2h0M1382.2 926.1h0M1382.5 942.6h0M1382.6 950.6h0M1382.7 925.6h0M1382.9 926.3h0M1382.9 932.2h0M1383 928.1h0M1383.8 923h0M1384.1 913.9h0M1384.1 913.1h0M1384.1 937.5h0M1384.2 918h0M1384.3 951h0M1384.3 945.3h0M1384.4 921.2h0M1384.6 923.7h0M1384.8 948.5h0M1385 932.8h0M1385.2 942.1h0M1385.2 953.4h0M1385.2 927h0M1385.3 911.2h0M1385.3 950.5h0M1385.4 902.4h0M1385.8 930.2h0M1386 929.2h0M1386.1 931.9h0M1386.2 942.3h0M1386.3 946.4h0M1386.4 936.4h0M1386.6 938h0M1386.7 921.4h0M1386.7 920.1h0M1387 925.8h0M1387.1 934h0M1387.2 928.7h0M1387.2 941h0M1387.3 912.6h0M1387.5 920.7h0M1387.6 929.1h0M1387.7 898.8h0M1387.8 924.2h0M1387.8 925.9h0M1387.9 904.2h0M1387.9 915.1h0M1388.2 914.9h0M1388.5 917.7h0M1388.8 920.7h0M1388.9 908.7h0M1389 914.6h0M1389.1 900.5h0M1389.2 909.9h0M1389.2 906.1h0M1389.4 909.6h0M1389.5 862h0M1389.6 901h0M1389.6 922.2h0M1389.7 931.3h0M1389.8 868.3h0M1389.9 879.4h0M1389.9 910.2h0M1389.9 875.8h0M1390 916.6h0M1390.2 919.6h0M1390.3 927.3h0M1390.3 865.7h0M1390.4 874.7h0M1390.5 863h0M1390.7 909.2h0M1390.8 938.6h0M1391 927.6h0M1391 870.6h0M1391.3 922h0M1391.3 941.4h0M1391.4 912.9h0M1391.6 930.9h0M1391.9 943.1h0M1391.9 952.3h0M1392 956.7h0M1392.1 935.2h0M1392.1 936.1h0M1392.8 949.1h0M1392.9 959.4h0M1393.1 962.2h0M1393.2 950.4h0M1393.3 937.1h0M1393.4 944.2h0M1393.5 945.8h0M1394 957.3h0M1394 953.4h0M1394.4 951.9h0M1394.8 961.5h0M1395 975.4h0M1396.2 976.9h0M1397.1 979h0M1397.2 980.4h0M1397.2 979.3h0M1397.4 972.5h0M1397.9 962.9h0M1398.1 975.9h0M1398.3 952.3h0M1398.3 967.1h0M1398.5 957.4h0M1398.7 943.3h0M1398.8 936.5h0M1398.9 957.8h0M1399 936.5h0M1399.1 953.9h0M1399.2 940h0M1399.4 954.8h0M1399.5 947.5h0M1399.7 949.1h0M1399.9 951.1h0M1400.1 940h0M1400.6 944.5h0M1400.6 950.8h0M1400.7 953.1h0M1400.7 923.5h0M1400.9 937.1h0M1401.2 946.1h0M1401.3 927.9h0M1401.4 876.1h0M1401.6 921.3h0M1401.7 932.7h0M1401.9 871h0M1401.9 886.4h0M1402 948.2h0M1402.2 937h0M1402.2 935.9h0M1402.3 940.8h0M1402.4 940.8h0M1402.4 889.9h0M1402.4 880.3h0M1402.6 944.3h0M1402.6 929.6h0M1402.7 938h0M1402.8 929.3h0M1402.9 957.8h0M1402.9 955.1h0M1403 945.4h0M1403 960.4h0M1403.3 950.5h0M1403.3 943h0M1403.9 933.3h0M1404.1 943.7h0M1404.2 946.7h0M1404.6 942.3h0M1404.7 954h0M1404.8 951.3h0M1404.9 956.8h0M1405.8 965.1h0M1406 954.7h0M1406.1 961.7h0M1406.9 948.8h0M1406.9 967.1h0M1407.2 958.1h0M1407.2 918.5h0M1407.2 929.1h0M1407.3 960.6h0M1407.5 924h0M1407.5 954.4h0M1407.7 948.1h0M1408.1 937.7h0M1408.2 942.1h0M1408.4 949.7h0M1408.9 926h0M1409 905.6h0M1409.1 929.7h0M1409.2 906.5h0M1409.2 938.3h0M1409.4 946.6h0M1409.4 911.9h0M1409.5 882.4h0M1409.5 888h0M1409.8 934.1h0M1409.8 926.4h0M1410 921.2h0M1410.2 917h0M1410.2 898.6h0M1410.3 898.8h0M1410.6 887.3h0M1410.7 902.8h0M1410.7 915.1h0M1410.7 903.8h0M1410.8 898.1h0M1411 911.6h0M1411 918.5h0M1411 929.3h0M1411.2 889.8h0M1411.3 909.3h0M1411.3 921.9h0M1411.4 882.6h0M1411.5 883h0M1411.7 893.7h0M1411.8 897.5h0M1411.8 915.6h0M1411.9 904.6h0M1411.9 873.2h0M1412 890.1h0M1412 893.5h0M1412 907.1h0M1412.1 900.9h0M1412.4 854.9h0M1412.4 874.7h0M1412.5 877.9h0M1412.5 842.3h0M1412.6 808.1h0M1412.6 860.2h0M1412.6 813.6h0M1412.6 887.3h0M1412.7 834.8h0M1412.8 890.1h0M1412.8 845.9h0M1412.9 905.7h0M1412.9 887.8h0M1412.9 822.5h0M1412.9 908h0M1413 882.2h0M1413.1 900.2h0M1413.3 795h0M1413.4 885.7h0M1413.4 831.2h0M1413.5 849.1h0M1413.6 804.2h0M1413.6 894.8h0M1413.8 923.9h0M1413.8 798.9h0M1413.8 858h0M1413.9 899.7h0M1414 895.2h0M1414.1 919.5h0M1414.1 910.5h0M1414.1 826.4h0M1414.1 818.8h0M1414.1 896.3h0M1414.2 903.1h0M1414.5 900.8h0M1415 914.4h0M1415.1 911.1h0M1415.3 907h0M1415.5 933h0M1415.6 885.1h0M1415.6 919.7h0M1415.7 933.4h0M1415.7 881.2h0M1415.7 928.9h0M1415.7 937.5h0M1416.1 920.2h0M1416.1 920.4h0M1416.1 879.5h0M1416.3 925.7h0M1416.4 888.1h0M1416.6 937.5h0M1416.6 918.2h0M1416.6 918.6h0M1416.8 940.2h0M1417 918.1h0M1417 928.8h0M1417.3 927.6h0M1417.3 925.7h0M1417.5 887.5h0M1417.6 930.3h0M1418.2 913.4h0M1418.4 924h0M1418.6 918.5h0M1418.6 927.5h0M1418.9 920.9h0M1418.9 924.4h0M1418.9 913.3h0M1419 923.2h0M1419.3 914.4h0M1419.5 916h0M1419.9 893.5h0M1419.9 928h0M1420 932.4h0M1420.5 919.9h0M1420.6 915.2h0M1420.9 925.6h0M1420.9 915.2h0M1420.9 938.9h0M1421 924.1h0M1421.3 935.1h0M1421.8 925.9h0M1422 930.6h0M1422.4 924.8h0M1422.4 884.3h0M1422.5 917.7h0M1422.7 929.2h0M1422.7 896.8h0M1422.9 892.6h0M1423 921.1h0M1423 933.8h0M1423.3 913.8h0M1423.6 913.3h0M1423.6 926.5h0M1423.6 924h0M1423.8 911.8h0M1423.8 933.5h0M1424 918.9h0M1424.6 910h0M1424.6 920.4h0M1424.7 929.9h0M1425 915.3h0M1425 925h0M1425 920.7h0M1425.4 916.1h0M1425.5 932.8h0M1425.6 928.6h0M1425.9 919h0M1426 907.6h0M1426.1 927.8h0M1426.2 909.7h0M1426.6 934.8h0M1426.7 924.1h0M1426.8 932.1h0M1426.8 872.4h0M1427.1 930.7h0M1427.3 919.3h0M1427.9 928.6h0M1428.2 935.9h0M1428.3 934.9h0M1428.9 931.8h0M1429 920.5h0M1429.1 927.1h0M1429.4 923.4h0M1429.4 918.6h0M1429.6 928h0M1429.9 918.7h0M1430 916.2h0M1430.3 909.1h0M1430.3 923h0M1430.5 920.5h0M1430.7 923.4h0M1430.7 901h0M1430.8 906.7h0M1430.9 910.2h0M1431 909.1h0M1431.2 912.6h0M1431.8 883.6h0M1431.9 859.1h0M1431.9 894.3h0M1431.9 860.4h0M1432.1 899.8h0M1432.2 879.6h0M1432.3 780.3h0M1432.3 774.1h0M1432.6 825.6h0M1432.6 792.8h0M1432.7 869.7h0M1432.8 841.5h0M1432.8 831h0M1432.8 785.4h0M1432.8 789.9h0M1432.9 865.4h0M1432.9 790.9h0M1433.1 806.1h0M1433.1 801.3h0M1433.1 837.2h0M1433.1 783.7h0M1433.1 887.8h0M1433.2 828.6h0M1433.2 874.7h0M1433.3 891.2h0M1433.4 778.4h0M1433.5 788h0M1433.5 794.5h0M1433.6 815.9h0M1433.6 746.6h0M1433.7 748.7h0M1433.7 796.2h0M1433.7 803.3h0M1433.7 821.7h0M1433.7 786.5h0M1433.7 825.4h0M1433.7 821h0M1433.8 811h0M1433.8 787h0M1433.8 834.5h0M1433.9 686.6h0M1433.9 695h0M1434 844.8h0M1434.1 807.3h0M1434.1 639.5h0M1434.2 740h0M1434.2 775.4h0M1434.3 793.3h0M1434.4 800h0M1434.4 779.3h0M1434.4 817.9h0M1434.4 703.3h0M1434.5 680h0M1434.6 780.1h0M1434.6 781.9h0M1434.6 721.7h0M1434.7 683h0M1434.7 672h0M1434.8 800.7h0M1434.8 728.8h0M1434.8 813.8h0M1434.9 719.1h0M1434.9 789.1h0M1434.9 769.4h0M1435 677.3h0M1435 754.4h0M1435 807.5h0M1435.1 810.6h0M1435.2 631.5h0M1435.2 812.9h0M1435.2 768.5h0M1435.2 798.7h0M1435.3 636.9h0M1435.3 822h0M1435.4 732.9h0M1435.5 830.5h0M1435.5 734.5h0M1435.6 789.6h0M1435.6 845.4h0M1435.7 775.6h0M1435.7 827.3h0M1435.7 662.8h0M1435.7 855.2h0M1435.8 694.1h0M1435.8 709.5h0M1435.8 834.5h0M1435.9 838.2h0M1435.9 648.8h0M1436 659h0M1436 789.7h0M1436 727.3h0M1436 629h0M1436 850.9h0M1436 842h0M1436 666.7h0M1436 797.8h0M1436 846.1h0M1436.1 736.9h0M1436.1 783.3h0M1436.1 653.3h0M1436.2 739.6h0M1436.2 795.6h0M1436.2 830.5h0M1436.2 706.5h0M1436.2 668.6h0M1436.2 763h0M1436.3 795.8h0M1436.3 645.8h0M1436.3 817.9h0M1436.3 715.1h0M1436.4 757.4h0M1436.6 764.7h0M1436.6 713.4h0M1436.6 654.6h0M1436.7 641.2h0M1436.7 689.5h0M1436.7 822h0M1436.7 826.4h0M1436.8 699.9h0M1436.9 836.1h0M1436.9 818.1h0M1436.9 840.9h0M1437 742.8h0M1437.1 803.9h0M1437.1 789.6h0M1437.1 756.8h0M1437.2 779.3h0M1437.3 807h0M1437.3 786.3h0M1437.3 752.7h0M1437.5 751.6h0M1437.6 741.3h0M1437.6 746.7h0M1437.6 799.2h0M1437.7 783.8h0M1437.7 770h0M1437.7 737h0M1437.7 850.3h0M1437.8 820.1h0M1437.9 797.2h0M1437.9 772.5h0M1438 837.5h0M1438.1 779.5h0M1438.1 845.1h0M1438.1 788h0M1438.1 782h0M1438.2 847.6h0M1438.3 759.5h0M1438.3 762.6h0M1438.3 801.7h0M1438.3 814.8h0M1438.4 793h0M1438.4 835.1h0M1438.4 811.4h0M1438.4 743.3h0M1438.4 784.7h0M1438.5 823.9h0M1438.5 771.8h0M1438.6 854.1h0M1438.6 811h0M1438.7 815.2h0M1438.7 867.4h0M1438.8 849.9h0M1438.8 855.6h0M1438.8 807h0M1438.9 755.5h0M1439 827h0M1439 793h0M1439 763h0M1439 870.2h0M1439.1 859.5h0M1439.2 830.3h0M1439.2 749.4h0M1439.2 836.8h0M1439.3 776.5h0M1439.3 862.5h0M1439.3 841.4h0M1439.6 755.3h0M1439.7 854.2h0M1439.8 843.3h0M1439.8 844.6h0M1440.1 839.8h0M1440.4 859h0M1440.4 835.7h0M1440.4 866.7h0M1440.5 777.5h0M1440.6 773h0M1440.7 857.6h0M1440.8 863.7h0M1440.8 848.6h0M1440.9 839.6h0M1441.1 853.1h0M1441.3 849.9h0M1441.4 843h0M1441.6 866.2h0M1441.7 870.9h0M1441.7 846.8h0M1441.7 864.7h0M1442 856.2h0M1442.1 886.5h0M1442.1 869.9h0M1442.1 878.4h0M1442.1 861.8h0M1442.1 844.7h0M1442.3 882.3h0M1442.7 852.5h0M1442.8 886.1h0M1442.8 851.2h0M1442.8 859.8h0M1442.9 857h0M1443 847.2h0M1443.1 882.7h0M1443.1 874.6h0M1443.1 860.5h0M1443.2 795.4h0M1443.5 871.7h0M1443.6 868.9h0M1443.6 879.5h0M1443.6 844.1h0M1443.7 864h0M1443.7 801.3h0M1443.8 856.7h0M1443.9 875.6h0M1443.9 871h0M1443.9 843.9h0M1443.9 866.8h0M1444 849.3h0M1444.2 859.4h0M1444.4 851.5h0M1444.5 846.3h0M1444.7 863.3h0M1444.8 833.5h0M1444.9 840.5h0M1445 840.6h0M1445.2 733.2h0M1445.3 874.1h0M1445.3 849.3h0M1445.5 799.9h0M1445.6 828.8h0M1445.7 762.3h0M1445.7 791.4h0M1445.7 729.7h0M1445.8 829.7h0M1445.8 722.9h0M1445.8 854.5h0M1445.9 857.2h0M1445.9 841.3h0M1445.9 871.1h0M1445.9 842.8h0M1445.9 709.4h0M1445.9 866.6h0M1446 827.1h0M1446 775.9h0M1446 771.1h0M1446 837h0M1446.1 700h0M1446.2 833.6h0M1446.2 764.6h0M1446.2 878h0M1446.2 794.7h0M1446.2 845.1h0M1446.2 853h0M1446.3 661.5h0M1446.4 874h0M1446.4 654.6h0M1446.5 777.1h0M1446.6 863.2h0M1446.7 848.5h0M1446.7 628.6h0M1446.7 641.5h0M1446.8 739.4h0M1446.8 861.8h0M1446.9 772.7h0M1447 648.9h0M1447 829.1h0M1447 837.1h0M1447 837.4h0M1447.1 828.2h0M1447.1 624.4h0M1447.2 832.8h0M1447.3 857.2h0M1447.3 850.9h0M1447.3 713.8h0M1447.4 765.7h0M1447.4 855.2h0M1447.4 681.3h0M1447.5 845.6h0M1447.5 858.3h0M1447.5 829.8h0M1447.6 841.9h0M1447.6 781.2h0M1447.6 807.8h0M1447.7 834.7h0M1447.9 838.6h0M1447.9 850.8h0M1448 785.7h0M1448 772.7h0M1448 688h0M1448.1 782.8h0M1448.1 875.8h0M1448.1 817.6h0M1448.1 842h0M1448.2 870.2h0M1448.2 873h0M1448.3 752.2h0M1448.3 746.8h0M1448.4 867.4h0M1448.4 811h0M1448.5 778.6h0M1448.5 826.5h0M1448.5 830h0M1448.5 756.2h0M1448.7 846.6h0M1448.7 674.5h0M1448.8 802.1h0M1448.8 788.2h0M1448.8 797.7h0M1448.8 787.7h0M1448.9 635h0M1448.9 833.2h0M1448.9 820.9h0M1448.9 821.7h0M1449 824.7h0M1449 718.5h0M1449 788.9h0M1449 704.7h0M1449 792.2h0M1449.1 795h0M1449.1 857.6h0M1449.1 828.4h0M1449.2 617h0M1449.2 850h0M1449.2 854.1h0M1449.3 667.6h0M1449.4 767.4h0M1449.4 814.3h0M1449.4 742.9h0M1449.5 693.8h0M1449.5 815.5h0M1449.6 700.2h0M1449.7 847.3h0M1449.8 817.6h0M1449.8 798.6h0M1449.9 781.7h0M1450 837.6h0M1450 854.2h0M1450.3 818.9h0M1450.4 829h0M1450.6 838.2h0M1450.7 833.2h0M1450.8 817.4h0M1450.8 857.5h0M1451 851.2h0M1451.1 851.7h0M1451.1 843.7h0M1451.2 865.4h0M1451.2 823.3h0M1451.2 860.5h0M1451.3 886.3h0M1451.3 861.4h0M1451.6 838.9h0M1451.7 838.7h0M1451.9 875.8h0M1451.9 879h0M1452 902.4h0M1452.1 846.1h0M1452.2 855.9h0M1452.2 869h0M1452.4 872.8h0M1452.4 882.8h0M1452.7 837.5h0M1452.7 902.5h0M1452.8 829.8h0M1453.1 914.4h0M1453.8 921.8h0M1453.8 915.4h0M1454 914.7h0M1454.1 910.5h0M1454.7 905.3h0M1454.8 929.7h0M1455 882.5h0M1455.2 904.1h0M1455.2 918.6h0M1455.7 928.1h0M1455.8 906.4h0M1455.9 921.2h0M1456 912.2h0M1456.3 935.4h0M1456.7 923.9h0M1456.7 942.9h0M1456.9 918.3h0M1456.9 917.6h0M1457.1 930h0M1457.1 907.7h0M1457.2 938.9h0M1457.5 918h0M1457.9 934.7h0M1458 949.4h0M1458.1 929.1h0M1458.1 946h0M1458.5 924h0M1458.6 923.3h0M1458.7 938.2h0M1458.7 934.3h0M1458.8 961.3h0M1458.8 941.1h0M1458.8 906.7h0M1458.9 964.7h0M1459.4 953.3h0M1459.5 956.5h0M1459.5 948.9h0M1460.1 950.5h0M1460.5 953.6h0M1460.6 975.9h0M1460.8 972.4h0M1461 979.5h0M1461.1 961.4h0M1461.1 957.1h0M1461.6 985.2h0M1461.8 967.1h0M1461.8 980.9h0M1461.9 965.8h0M1462.3 978.9h0M1462.7 972.2h0" fill="none" stroke="#1f77b4" stroke-width="5.4" stroke-linecap="round"/>
<path d="M234.5 1030.6V1032.6M235.4 1022.7V1020.8M236.7 1023.7V1022.4M237.3 1024.9V1020.1M238.3 1024.6V1021.3M240.3 1023.7V1016.9M241.3 1023.1V1019.4M242.7 1022.4V1014.2M243.8 1021.7V1012.3M244.7 1020.9V1019.1M245.3 1020.1V1015.7M246.5 1030.6V1032.6M247.7 1019.2V1013.2M248.4 1019.4V1011.6M249.4 1020.1V1015M250.6 1021.1V1014.4M251.2 1020.7V1015.7M252.4 1020.6V1019.9M294.6 1021.8V1021.6M295.5 1030.6V1032.6M295.4 1022.6V1018.3M296.7 1023.9V1019.2M297.5 1030.6V1032.6M297.7 1022.5V1017.5M298.3 1021.6V1019.7M400.5 1030.5V1032.6M401.8 1022.5V1020.1M402.6 1023.4V1023.2M403.7 1024.4V1023M404.3 1024.1V1021M405.5 1030.5V1032.6M405.4 1023.6V1023.4M406.5 1030.5V1032.6M406.4 1023V1021.1M407.5 1030.5V1032.6M407.6 1022.2V1020.6M408.5 1030.5V1032.6M408.4 1021.2V1018.8M409.5 1030.4V1032.6M409.6 1020.1V1015.4M410.5 1030.4V1032.6M410.5 1018.8V1015.4M411.6 1017.4V1009.7M412.2 1015.9V1010.4M413.5 1014.2V1003.4M415.3 1008.5V1005.1M416.4 1004.5V999.1M418.5 1030.4V1032.6M418.3 993.1V990.8M421.5 975.2V965.9M422.4 972V951.3M424.5 975.6V964.9M425.5 981.4V963.9M426.6 987.9V976.3M427.5 1026.9V1031.9M428.5 1029.4V1032.6M428.3 1005.5V1004.6M429.6 1010.6V1001.5M430.4 1013.4V1011.9M431.3 1015.4V1013.1M432.7 1016.6V1009.3M433.2 1016.3V1007.4M434.6 1015.2V1011.4M436.5 1030.1V1032.6M436.7 1011.7V1008.8M437.6 1009.9V997.9M438.5 1008.5V1001M439.3 1007.6V999.1M440.7 1007V1006.5M441.2 1006.4V1003.1M442.6 1005.8V1004.4M443.7 1004.9V1004.4M444.5 1030.1V1032.6M444.3 1003.8V999.8M445.3 1003.4V1000.5M446.6 1003.8V995.3M447.6 1004.9V1001.4M448.5 1030.2V1032.6M448.7 1006.7V1002.5M449.3 1008.8V1001.9M450.7 1010.5V1007.4M452.5 1030.2V1032.6M452.4 1010.6V1010M453.2 1009V1008.3M454.2 1007.2V1004.7M455.3 1005.2V995.9M456.8 1003.6V993.6M457.5 1030.3V1032.6M458.8 1003V999.2M459.6 1003.5V1000.9M460.6 1005.9V994.5M461.5 1009.5V1002.6M506.6 1017.8V1016.5M507.4 1018.1V1016.2M508.7 1018.1V1015.6M509.4 1015.9V1007.7M510.4 1013.3V1004.9M512.6 1006.4V994.2M513.7 1002.2V999.6M514.4 997.2V980.9M515.4 991.6V987.4M516.5 1024.6V1032.5M516.7 985.9V981.2M518.5 1022.6V1026.9M518.6 975.5V968.8M519.5 971.1V961M520.4 967.2V949.7M521.5 1019.6V1029.4M521.3 963.5V960.9M522.5 1018.6V1026.2M522.5 960.2V939.8M523.3 956.9V923.2M524.2 953.9V939.5M528.2 925.5V913.5M529.5 1015V1020.2M529.4 916.7V908.7M530.4 908.9V891.9M531.7 903.2V898.4M532.5 1013.8V1017.4M532.6 898.6V881.3M533.5 894V892M534.6 889.5V888.1M535.5 1012.6V1017.2M536.4 880.8V851.2M540.6 863.5V845.2M541.4 859.4V829.2M542.7 855.3V841.1M543.5 1007.8V1017.4M543.3 851.4V819.9M544.4 847.5V774.3M545.7 843.6V809.9M548.4 835V797.9M549.3 835.7V788.5M550.4 837.6V781.1M552.5 845.1V839.4M553.7 849.2V819.3M554.5 853.3V822M555.5 1013V1025M555.6 857.6V828M557.3 868V837.2M558.5 874V856.5M559.2 880.5V867.6M560.5 1018V1027.1M560.3 889.1V849.8M561.5 900.9V873.7M565.8 955.8V955M567.6 958.8V948.3M568.5 952.5V935.8M569.6 943.6V929.2M570.7 932.3V900.5M571.3 920.1V917.9M573.5 1013.5V1024.9M575.7 888.2V882.5M577.5 1015.8V1023.6M577.8 886.1V881.5M578.5 1016.4V1021.8M579.4 891.9V855.4M580.5 1017.5V1028.1M580.3 893.8V893.8M582.4 889.9V880.9M583.5 1019.2V1024.8M583.2 884.1V874.1M584.7 880.1V854.6M585.2 879.1V870.7M586.5 1020.9V1026.3M587.8 887.2V856.5M588.5 1022V1032.3M589.7 909.9V852M594.2 915.7V881.9M595.4 907V872.8M602.5 1018.5V1029M604.4 912.4V905.6M605.3 907.1V903.2M606.3 900.2V889.1M607.5 1016V1025.2M607.3 893.7V852.5M608.4 889.8V879.6M609.5 1015V1024M609.5 889.2V844.7M611.3 898.4V883M613.5 1016.9V1029M615.5 1018.1V1030.3M615.3 906V889.6M616.7 903.6V860.5M617.4 901.5V886.2M619.5 899.8V884.5M623.2 906.3V903.9M624.7 909.2V865.4M625.8 914.4V870.9M626.6 923.8V895.2M627.5 1024V1031.3M627.8 931.1V916.8M630.4 920.6V887.4M631.5 906.2V881.6M632.4 891.8V861.9M633.5 1021.4V1028.5M633.5 884.2V865.4M634.3 881.4V806.4M635.4 881.5V860.1M637.4 888V868.4M638.8 891V881.9M639.5 1018.9V1025.4M641.5 1018V1028.9M642.5 1017.6V1024.9M644.5 1018.1V1025.6M645.4 956.4V951.1M646.5 1019.6V1029.8M646.4 968.3V967.9M648.5 1021.1V1025.8M648.6 975.6V974M649.8 976.8V967.6M650.5 1022.6V1031.9M650.6 977.1V972.7M652.6 978.3V962.5M653.7 978.7V975.1M655.5 1024.4V1029.3M656.6 980.4V979.1M657.5 1024.4V1032.6M657.4 981.1V978.9M658.7 981.6V977.9M659.5 981.7V971.9M660.7 981.4V980.5M663.5 1024.4V1032.6M663.4 977.7V955.2M665.3 974.6V970.5M666.7 973.7V971M669.5 1022.5V1028.5M670.5 1021.6V1032.6M673.5 1019.1V1030.2M674.7 959V947M675.4 947.1V926.7M676.5 1016.6V1022.8M676.6 931.2V891.4M677.5 1015.8V1022.1M677.8 910.7V902.1M678.4 887.5V883.4M680.6 848.6V821.3M681.5 1012.5V1022.6M681.3 835.2V821.7M682.3 830.5V801.7M683.6 831V730.2M684.5 1014.6V1025.4M684.6 834.9V783.4M685.8 842.7V769.4M686.4 852.6V770.3M687.5 1016.7V1022.7M687.7 863.2V809.3M688.5 1017.4V1024.8M688.6 874.6V830.1M689.7 888.3V843.4M690.4 905V896.3M691.6 922.1V881.1M692.5 1020.3V1026.1M693.5 1021V1024.9M693.8 954.9V949.7M696.7 976.1V967.9M698.5 1024.2V1030.9M698.5 978.1V960.2M699.6 977.7V965.2M700.5 1023.1V1032.6M700.2 976V960.8M701.6 971.8V970.8M703.6 956.9V933.8M704.5 1020.8V1032.3M704.4 946.5V932.6M705.5 1020.2V1031.6M705.7 935.6V933.2M706.7 926.2V897.4M707.5 1019.1V1031.2M707.8 919V890.9M708.5 1018.5V1025M709.5 910.5V894.4M710.7 910.5V865.8M711.8 912.5V861.8M712.5 1016.2V1023.3M713.4 920.2V904.3M714.7 925.2V913.3M715.7 930.7V905.1M716.3 936.2V921M717.5 1016.7V1027.9M718.5 945V911M719.8 950.1V930.2M720.5 955.9V925.9M721.6 961.9V938M722.5 1020.5V1027M722.6 967.5V962.7M723.5 1021.2V1029.9M724.2 969V965.9M725.5 967.7V940.5M726.5 1024.6V1032.6M726.8 966.6V958.7M728.4 973.8V961.7M730.8 988.1V983.5M731.5 990.9V982.2M732.6 990.1V978.4M733.5 1025.8V1032.6M733.7 989.6V976.3M734.3 989.5V984.5M735.6 991.4V982.3M738.6 1003.5V996.8M739.3 1005.7V996.5M740.6 1006.5V995.1M741.4 1006.7V998.5M742.3 1007.3V998.8M743.3 1008.2V1002.1M744.4 1009.5V1004.8M746.6 1012.8V1009.1M748.8 1015.7V1008.7M749.5 1026.8V1032.6M749.7 1016.7V1009.8M750.5 1017.4V1009.6M751.4 1016.1V1011.1M753.5 1026.9V1032.6M753.5 1000V998M754.6 989.8V981M755.7 980.2V963.3M756.5 1026.9V1032.6M756.4 973.1V957.8M757.5 1026.9V1032.6M757.2 972.2V963.4M758.4 975.9V974.8M760.6 990.5V983.7M761.3 997.6V996.9M762.6 1004.3V1001.5M763.8 1009V1007.7M764.8 1010.4V1002.2M765.5 1009.5V1006.4M766.5 1027V1032.6M766.4 1007.4V1000.3M767.4 1004.7V993.9M768.3 1003.2V990.8M769.5 1004V992.3M770.4 1005.5V996.7M771.7 1007.5V1005M772.4 1009.5V1005.1M773.6 1009.6V1007.5M776.5 1027V1032.6M776.8 1006.3V990.7M777.5 1027V1032.6M777.4 1007.1V994.5M778.8 1008.5V1006.8M779.5 1027.1V1032.6M779.7 1010.2V1005.2M780.8 1011.9V1009.8M781.2 1012.9V1009.2M782.3 1013.2V1011.6M783.3 1013.4V1009.4M784.5 1027.1V1032.6M784.8 1013.8V1012.7M785.4 1014.4V1003.1M786.4 1015.2V1009M787.7 1016.3V1016.2M788.2 1016.7V1014.6M790.7 1015.3V1012.7M791.3 1013.5V1013.2M792.5 1027.2V1032.6M792.3 1010.3V1010M793.8 1004.2V998.5M794.7 995.4V989.8M795.3 984.2V974.3M796.2 973.5V954.3M798.3 962.6V949.8M799.5 1027.2V1032.6M799.6 963.6V947.3M801.5 1027.2V1032.6M801.4 972.5V971.1M802.3 979.1V975M803.6 987.4V983M804.3 995.6V991.3M805.5 1027.2V1032.6M806.5 1027.1V1032.6M806.4 1010.2V1008.9M807.5 1013.1V1012.4M808.6 1012.8V1005.8M809.5 1025.3V1030.1M809.5 1011.9V1004.1M810.8 1011.3V1008.5M812.2 1011.4V1011.1M813.4 1010.7V1004.8M814.5 1024.4V1028.8M814.2 1009V1007.8M815.4 1006.2V998.3M816.3 1002.3V1002.1M817.7 997.6V991.6M818.7 993.8V993.7M819.8 990.9V981M820.6 988.9V974M821.5 1024.4V1032.6M822.5 1024.4V1032.6M822.3 987.7V981.7M823.5 987.4V980.4M824.3 986.9V974.8M825.5 1024.4V1032.6M827.5 1024.4V1032.6M828.5 1024.4V1032.6M829.6 979V965.7M830.7 980.1V960.4M831.5 1024.9V1029.5M831.6 984.6V957.1M832.5 1025.2V1032.6M832.4 990.5V977.1M833.5 1025.5V1031.4M833.4 997.4V992.7M834.5 1025.9V1032.6M838.5 971.8V958.9M839.4 955.9V930.9M840.3 943V896.4M841.5 1025.9V1032.6M842.6 930V924.5M843.5 1025.5V1032.6M843.4 926.2V917.1M845.4 924.3V910.7M846.2 926V896.6M848.5 1024.5V1032.6M848.3 943.5V917.4M849.7 954.2V937.5M850.5 1024V1028.1M851.5 1023.6V1032.6M852.8 978.8V969.7M853.3 980.5V975.5M854.4 982.1V961.9M856.4 984.7V981.4M857.6 985.1V966.2M858.5 1021.3V1029.7M860.5 1020.6V1032.1M860.6 981V973M861.6 976.3V965.3M862.7 970V968.7M864.5 1016.7V1024.9M865.5 1013.7V1021.7M865.6 940.5V934.1M869.2 923.2V919.6M870.5 1005.3V1009.4M871.5 930.6V917M874.6 923.2V905.2M876.6 904.8V887.4M877.5 1005.3V1011.8M877.5 894.5V890.9M878.5 1005.3V1009.8M878.8 886.8V873.8M879.2 881.8V861.1M881.5 1007.8V1013.2M881.7 883V869.8M882.3 891V879.5M883.5 1011.8V1021.4M883.4 902.2V893.3M884.4 913.7V873.1M885.5 1015.8V1026.8M885.4 925.5V909.7M886.3 934.8V916.3M887.7 941.2V918.8M888.6 943.3V918.7M889.4 946.2V935.9M890.4 949.7V949.4M891.7 953.4V951.8M892.5 957.1V934M893.7 960.6V946.6M894.5 1019.6V1028.5M894.3 963.7V948.1M895.6 965.9V963.9M896.6 967.1V955.6M897.6 966.6V941.7M898.5 1017.7V1028.9M898.6 964.6V955.1M899.5 1016.4V1021.6M899.4 957.7V937.3M900.5 1015.2V1025.9M900.3 946.3V937.3M901.8 932.8V908.6M902.5 1012.7V1022.5M902.3 918.5V910.8M903.5 1011.4V1019.6M903.3 904V892M905.5 1008.9V1013.2M905.4 893.2V853.1M906.5 1007.7V1012.7M906.2 894.9V887.6M907.3 902.7V889.2M908.4 915.1V895.6M909.7 928.8V899.1M910.5 1010.7V1015M916.2 954.4V943.2M917.2 946.6V938.6M918.4 936.3V928.7M919.5 1017.1V1028.9M920.5 1017.8V1021.8M920.7 916.5V898.8M922.3 912.5V903.4M923.5 1019.8V1026.7M925.4 944.9V940.7M929.5 1023.8V1031.6M930.5 974.2V960.2M931.3 973V961.3M932.8 971.7V950.4M934.5 1022.3V1031.6M935.3 967.8V955.2M936.5 1021.3V1029.5M937.3 969V962.5M938.6 970.6V960.1M942.5 1018.9V1028.3M942.3 970.8V967.3M943.3 970.4V965.2M946.8 973.7V972M949.6 971.6V961.5M950.2 970.3V961.9M951.5 1013.3V1024.6M951.5 970.1V958.6M952.7 970.6V970.2M953.5 970.3V967.1M955.6 964.8V963.4M957.2 955.4V938.3M958.8 951.5V921.4M959.6 948.4V937.5M960.5 946V918.8M961.6 944V924.4M962.4 942.6V941.5M967.4 940.4V940.4M968.6 940.9V933.4M969.3 941.8V922.2M970.4 942.9V939.5M971.5 1012.9V1019.3M972.8 945.6V945M973.4 947.2V920.2M975.6 950.2V923.6M976.6 952.8V930.5M977.4 956.4V934M978.5 1017.1V1021.3M982.3 969V944.5M983.8 966.1V947.7M984.5 1017.5V1025.8M984.3 960.1V936.4M985.5 1015.5V1021.1M985.3 954.3V939.1M986.7 949.1V943.7M987.5 1011.5V1016.2M988.3 940.7V931.1M989.4 937.1V933.3M990.3 933.8V925.6M994.8 935.9V926.2M995.5 1009.6V1016.1M996.3 940.6V930M999.2 951.8V943.5M1000.5 1013.2V1023.8M1000.6 954.3V940.1M1001.4 954.2V945.4M1002.3 952.6V938.1M1003.4 949.5V936M1004.5 1007.7V1012.4M1006.5 1004.9V1016.2M1006.3 931.1V898.5M1007.6 924.4V908.2M1008.4 918.4V881.1M1009.5 1000.8V1012.5M1009.5 913.5V894.5M1010.5 999.7V1007.2M1010.3 910.7V880.9M1012.4 908.9V904M1013.3 908.3V905.2M1014.3 907.9V893.8M1016.7 913.1V886.8M1017.6 916.6V901M1018.5 1002.4V1007.1M1020.7 937.5V933.2M1022.8 947.9V931.7M1024.5 1009.6V1020.2M1026.5 1010.9V1021.2M1028.3 934.3V923.2M1029.7 934.2V907.9M1030.5 936.4V902.5M1031.4 940.7V920.5M1032.2 945.7V935M1033.7 950.2V947.5M1034.6 953.2V944.4M1035.5 1016.9V1029.1M1038.7 950.3V941.9M1041.5 1014.5V1020M1041.6 942.6V938.8M1042.5 1014V1023.9M1042.8 940.2V923.7M1043.2 938.3V929.6M1044.8 936.7V935.8M1045.7 935.6V924M1046.5 1012.4V1016.3M1046.6 935.1V910.3M1047.7 934.6V907.9M1048.5 934.1V895.3M1049.5 933.8V913.4M1050.4 933.6V922.2M1051.7 933.6V915.7M1052.8 933.9V913.4M1053.5 934.2V916.1M1054.5 934.6V918.6M1055.5 935V916.3M1056.5 935.8V931.8M1057.4 937V892.8M1058.2 938.6V904.7M1059.7 940.7V903.3M1060.2 943.1V942.9M1061.5 945.5V913.4M1062.5 1012.4V1022.8M1062.8 947.7V923.5M1063.5 949.8V933.6M1065.5 1012.4V1016.7M1065.5 953.6V948.3M1068.5 1012.4V1016.4M1068.6 957.3V951.4M1069.5 957.9V956.3M1070.4 958.9V951M1073.2 961.9V946.9M1074.5 963.2V943M1076.7 966.2V965.5M1077.5 1018.5V1022.9M1078.5 968.6V964M1079.3 968.7V955.5M1080.5 1019.6V1023M1082.5 966.6V937.8M1083.5 1019.6V1030.5M1083.3 966.5V943.4M1084.5 1019.6V1024.1M1084.5 966.9V958.3M1085.6 967.8V959.6M1086.5 1019.6V1029.9M1086.4 968.7V962.9M1089.5 965.9V952M1090.5 1019.6V1025.9M1091.4 963.5V947.8M1092.5 965.1V950.4M1093.3 968.9V963.3M1094.5 1019.6V1030.4M1094.6 973.1V964.6M1095.5 1019.6V1025.5M1097.6 977.2V972.7M1100.4 970.9V957.4M1101.4 970.8V965.4M1102.5 971.7V962M1103.4 973.6V967.8M1105.5 1019.6V1029.1M1106.3 978V976.4M1108.5 1019.8V1028.5M1109.7 981.1V980.8M1110.7 982.1V981.5M1111.7 983.2V962.2M1112.6 984.1V979M1113.5 1021.1V1032.5M1113.4 985.1V979.7M1114.6 986.1V980.7M1115.7 986.8V984.7M1116.2 986.9V983M1117.6 986.3V977.1M1118.3 985V984.3M1119.6 983.1V975.9M1120.3 980.8V976M1121.7 978.5V978.5M1123.5 974.1V966.5M1124.7 972V962.2M1125.3 970.7V968.8M1126.5 1024.3V1029M1126.7 970.5V968.3M1127.8 970.9V946.5M1128.5 972.2V949.5M1129.6 974.5V967.2M1130.5 976.7V966.7M1131.8 978.5V963.7M1132.5 1022.5V1028M1132.5 979.9V970.3M1133.5 1022.1V1029.7M1133.6 980.9V976.1M1137.5 1020.8V1027M1137.3 983.4V980.6M1138.3 984.5V970.7M1139.4 985.7V976.9M1140.5 1019.8V1028.7M1143.5 1019.9V1024.6M1143.4 992.3V985.9M1144.3 993.6V990.8M1145.5 1020.2V1024.1M1145.7 994.7V984.2M1146.7 995.4V985.7M1147.8 995.4V988M1148.5 994.6V980.8M1149.5 1020.7V1027.5M1149.6 993.2V984M1150.5 991V980.9M1151.3 988.4V982.5M1152.4 986.1V972M1153.5 1021.2V1028.1M1153.7 983.9V975.9M1154.4 982V979.9M1155.8 980.3V964.5M1156.8 978.9V964M1157.3 977.9V975.3M1159.5 1021.9V1028M1160.5 1021.9V1028.6M1160.4 976.8V975.4M1161.5 1021.8V1030.5M1161.3 976.7V974.2M1162.5 1021.6V1030.6M1162.6 976.6V976.2M1163.5 1021.5V1025.5M1163.7 976.8V968M1165.8 978.4V972.3M1166.6 979.9V975.2M1167.6 980.8V969.3M1170.7 977.4V966.7M1172.5 975.9V960.5M1173.5 1019.9V1024.4M1173.4 978.6V966.7M1177.5 1020V1031.9M1177.3 989.6V982.4M1178.5 1020.7V1024.6M1178.4 990.6V990M1179.5 1021.4V1030.9M1179.5 992.5V987.9M1181.4 994.9V993.6M1183.4 992.6V987.5M1184.5 1021.7V1030.2M1184.3 990.8V982.8M1185.5 988.5V981.1M1187.5 1019.9V1026.7M1187.3 982.5V973.9M1188.5 979.4V963.6M1189.6 976.8V966.9M1195.3 974.4V967.9M1196.5 1016.7V1022.7M1196.4 975.7V966.6M1197.5 1016.6V1028.5M1197.4 977.1V965.8M1198.2 978.1V964.3M1199.7 978.7V974M1200.5 1016.3V1025.3M1200.6 978.9V965.8M1201.8 978.7V971.7M1202.7 978.2V969.3M1203.3 977.4V964.8M1204.5 1016.4V1022.2M1204.6 976.7V964.9M1206.8 974.8V952.4M1207.8 973.6V963.5M1208.6 973.4V957.5M1209.3 974V973.8M1210.5 1018.8V1028.2M1211.7 978.4V975.1M1213.6 983.5V975.6M1214.8 983.4V974.5M1216.5 1020.8V1029.2M1216.4 977.7V974.4M1218.3 970.2V969.3M1219.5 1020.8V1024.5M1219.3 968V967.4M1220.4 967V957.3M1221.5 1020.8V1030.3M1221.4 966.6V942.2M1222.8 966.6V942.4M1223.3 966.8V958.3M1224.6 967.3V945.8M1225.8 968.1V961.4M1226.5 1020.8V1027.1M1226.7 969V958.7M1227.5 1020.8V1029.5M1227.2 969.6V954.3M1228.5 1020.8V1029.1M1228.6 970V965.1M1229.4 969.9V952.8M1230.3 969.6V954.3M1231.5 968.9V953.7M1232.5 1020.8V1032.5M1232.2 968.2V941M1233.3 967.5V953.9M1234.6 967.3V954.3M1235.3 967.9V956.6M1236.3 969.3V959.9M1237.5 1021.2V1031.2M1238.5 1021.3V1029.8M1239.4 976.7V962.7M1240.5 1021.5V1026.7M1241.5 976.9V970.5M1242.6 974.9V968.4M1244.7 967.9V957.8M1245.7 964.3V943.3M1248.5 1021.9V1027.7M1249.6 955V946.1M1250.5 1021.7V1027.2M1250.3 954.2V951M1251.4 954.6V944.8M1252.7 956.1V949.5M1253.5 958.8V958.6M1254.5 962V946.5M1255.3 964.1V956.5M1256.8 964.2V942M1257.5 1021.2V1026.5M1257.3 962V955.6M1258.5 1021.2V1032.6M1259.5 1021.1V1029.2M1260.4 957.9V933M1264.2 961.3V941.6M1265.7 956.6V951M1266.7 949.3V944.4M1267.4 942.1V919.1M1269.5 1020.3V1024.5M1269.4 937.9V923.8M1271.6 947.1V938.8M1272.4 954.5V933.5M1273.5 1020V1026.7M1273.3 960V954.6M1274.5 963.6V957.4M1275.7 965.5V964.9M1277.5 1019.6V1027.9M1278.2 968.7V945.6M1279.8 969.9V945M1280.3 971V945.6M1281.8 971.6V960.3M1282.5 1020.1V1032M1282.3 971.6V954.2M1283.4 971.1V958.1M1284.3 970.1V957.7M1287.5 1020.7V1032.6M1287.3 967.7V962.2M1288.4 968.3V948.6M1289.5 969.5V967M1290.5 1021V1025.1M1290.6 970.8V962.1M1292.2 971.2V964.4M1293.5 970.2V965.6M1294.5 1021.5V1025.8M1294.5 969.2V962.6M1295.6 968.5V946.2M1296.5 968.5V946.5M1297.3 969.4V959.3M1298.3 971V949.9M1299.6 971.8V964.7M1302.5 969.2V968.8M1303.6 967.2V953.6M1304.3 965.7V956.8M1307.4 965.1V958.9M1308.2 965.9V954.9M1309.5 1020.3V1029.2M1309.2 966.7V943.9M1310.6 967.7V962.4M1312.5 1019.8V1027.1M1312.4 970.2V963.6M1313.6 971.5V960.9M1315.5 1020.3V1031.6M1315.7 972.7V971.7M1316.5 971.4V957.2M1317.2 968.8V961.3M1318.5 1021.4V1026.3M1318.5 964.8V943.5M1319.3 960V943.3M1320.6 954.9V935M1321.3 950.6V926.2M1322.5 948.6V919M1323.5 949.3V922.7M1325.6 958.2V939.2M1326.5 1024.2V1029.6M1326.2 964.9V939.5M1327.7 971.2V970.1M1330.5 1025.5V1032.6M1331.4 988.4V969.6M1332.8 988.7V979.3M1333.3 985.6V979.9M1334.3 979.4V978.7M1336.4 959.5V947.5M1337.4 949.4V925.5M1338.3 941.5V928.1M1339.5 936.1V918.5M1340.2 933.1V897.5M1341.2 931V907.7M1343.6 931.1V901.6M1344.3 933.8V926M1345.5 1020.6V1025.6M1345.5 938.3V932.4M1346.2 944V936.9M1347.6 949.9V943.6M1348.6 954.6V948.1M1350.5 959.5V942.7M1351.5 1020.1V1026M1351.6 960.7V955M1353.5 1020V1026.6M1354.8 968V946.9M1356.5 1019.8V1028.9M1361.5 1019.6V1025.5M1361.7 975V968.1M1362.3 973.5V950.7M1363.5 1019.6V1026M1365.3 964.2V957M1366.5 1018.5V1028.6M1367.7 952.4V939.5M1368.8 945.8V936.3M1369.3 937.4V919.6M1370.4 931.8V917.1M1373.4 938.7V931.9M1374.5 1011.1V1020.8M1374.7 944.8V939.1M1375.4 950.3V949M1376.3 955.4V942M1377.7 957.4V935.1M1378.5 1014.3V1024M1378.8 955.8V940.4M1381.5 1013.6V1022M1381.3 951.8V937.2M1382.3 953V952.9M1383.5 1013.1V1017.2M1383.5 955.2V931.9M1384.5 956.8V955.5M1385.5 1012.6V1020.8M1386.5 955.6V943.1M1387.3 953.9V930.9M1388.8 952.6V932M1389.7 953.1V927.2M1390.4 955.5V935.8M1391.7 960V944.4M1393.6 972.1V954.4M1394.6 978.1V965.7M1398.5 1019.4V1030.6M1398.2 978.4V970.4M1399.4 971.8V962.3M1400.7 965.9V954M1401.6 962.5V956.3M1402.3 961.7V952.6M1404.7 966.1V955.3M1406.5 1014.2V1024.7M1408.5 1012.9V1020.2M1408.6 959V952.6M1409.6 952.2V936.2M1410.5 1011.5V1017.6M1410.8 945.1V932.9M1411.2 939.2V920.6M1412.5 935.8V911.1M1413.5 1009.8V1018.5M1413.7 935.4V914M1414.3 938V926.5M1415.5 1009.6V1015M1416.2 945.8V945.1M1417.5 1009.3V1019.9M1417.7 948.3V934.7M1418.4 949.4V928.1M1419.8 948.9V931.6M1420.6 947.8V935.1M1421.7 945.8V943.6M1422.7 943.2V938.3M1423.5 1008.6V1018.5M1423.5 940.1V927.9M1425.5 1008.3V1014.1M1426.5 1008.2V1011.8M1429.3 936.8V931M1433.8 881.6V848.3M1434.3 866.3V828.9M1435.8 856.9V849.4M1436.5 988.1V993.3M1437.5 864V819.1M1438.5 868.5V856.6M1440.3 879V870.1M1441.4 886.4V873.7M1443.7 889.9V889.6M1444.3 888.5V878.5M1445.2 885.6V861.9M1446.5 990.8V994.3M1448.5 990.8V1001.7M1448.3 880.6V860.7M1449.3 884.4V840.6M1450.4 889.9V865.8M1451.2 896.7V890M1454.3 928.5V925.6M1456.7 949.2V926.1M1457.3 957.1V951.7M1458.5 1011.6V1015.6M1458.6 964.5V943.8M1459.5 1014.1V1024.9M1459.3 972.4V967M1460.7 980.4V963.7M1461.6 986.5V982.5M1462.3 991.3V987.9" fill="none" stroke="#1f77b4" stroke-width="5.4" stroke-linecap="round"/>
<path d="M115.6 982.8 116.3 969.2 117.3 972.6 118.3 977.7 119.3 969.2 120.4 964.1 121.4 974.3 122.4 969.2 123.4 967.5 124.4 972.6 125.1 979.4 125.8 1013.5 126.5 1028 127.3 1015.2 128 1028 129.2 1023.8 130.6 1028 134 1028 137.4 1023.8 139.1 1026.3 141.7 1028.9 145.9 1029.7 148.3 1029.5 170.4 1029.3 200.4 1028 210.4 1028.4 219.2 1026.7 230.3 1027.5 235.9 1024.4 241.4 1022.9 245.8 1018.5 250.3 1024 256.9 1027.8 270.2 1028.4 288 1027.1 294.6 1026.2 299.1 1027.8 307.9 1026.7 314.6 1027.3 325.7 1028 336.8 1027.5 340 1028.4 353.3 1027.5 366.6 1028.4 384.4 1027.8 397.7 1026.2 401 1023.6 404.3 1025.1 408.8 1022.9 411 1019.6 413.2 1019.6 417.6 1008.5 420.9 981.9 422.7 957.5 424.7 981.9 427.6 1010.7 429.8 1019.6 433.1 1022.9 437.6 1012.9 442 1012.9 444.2 1017.3 446.5 1006.3 448.7 1015.1 450.9 1010.7 454.2 1018.5 456.9 1007.4 459.8 1012.9 462 1025.1 468.6 1028.4 477.5 1029.5 490.8 1029.5 495.2 1028 500 1026 504.8 1021.2 509.6 1016.4 514.3 1006.9 517.9 990.2 521.5 975.8 526.3 973.5 528.7 959.1 531 968.7 532.2 920.9 533.9 944.8 535.3 897 537.7 949.6 539.4 923.3 542 849.3 544.4 899.4 546.6 870.8 548.5 880.3 550.4 786 553 875.5 555.4 923.3 556.8 885.1 559.2 935.2 562.1 987.8 565 956.7 566.9 968.7 569.7 925.7 571.7 947.2 574 930.5 576.4 838.5 578.8 913.7 580.5 875.5 582.9 947.2 585.3 856.4 588.4 963.9 591.2 935.2 593.1 968.7 595.5 836.1 597.9 947.2 599.8 990.2 602.7 923.3 606.3 909 608.7 846.9 611.1 944.8 612.7 875.5 616.6 959.1 618.9 889.9 621.3 971.1 623 894.6 625.4 987.8 629 1002.1 631.4 904.2 633.3 892.3 634.9 947.2 637.3 906.6 639.7 952 641.4 918.5 643.3 980.6 645.7 963.9 647.6 997.3 649.3 980.6 651.7 1009.3 653.3 978.2 656.4 983 659.5 1016.4 662.4 1017.6 664.8 990.2 667.2 959.1 669.1 997.3 671.5 966.3 673.9 1014.1 676.3 947.2 678.6 892.3 680.3 913.7 682.7 772.8 685.1 963.9 687.5 870.8 689.9 937.6 693 983 693.9 959.1 696.3 971.1 699.4 1011.7 701.8 975.8 704.2 956.7 706.6 1018.8 709 918.5 710.7 975.8 712.6 916.1 715 920.9 716.9 975.8 719.3 949.6 722.1 978.2 724.5 997.3 725 971.1 727.4 971.1 729.8 1014.1 732.2 1018.8 734.6 975.8 736.9 1009.3 739.3 1021.2 742.2 1004.5 745.3 1014.1 748.9 1018.8 753.2 1026 755.6 975.8 757.2 966.3 759.6 987.8 762 1016.4 764.4 1023.6 768.5 995 770.9 1023.6 774 1026 777.1 1002.1 779.5 1014.1 783.5 1016.4 789.5 1018.8 793.1 1021.2 795.5 995 797.8 928.1 799.5 999.7 801.4 968.7 803.8 1030.8 807.4 1018.8 811 1018.8 815.8 1014.1 819.3 995 821.7 990.2 825.3 995 828.4 973.5 831.3 1002.1 834.9 1023.6 837.7 1026 840.1 952 842.5 978.2 844.9 930.5 847.3 971.1 849.7 1011.7 852.8 990.2 855.2 987.8 858.3 997.3 861.1 990.2 864.7 968.7 867.8 918.5 870.2 963.9 873.1 973.5 876.7 898.2 879 959.1 881.9 876.7 885 947.2 888.1 995 891 940 893.4 1009.3 895.8 978.2 898.2 995 901.7 980.6 904.6 891.1 906.5 944.8 908.4 885.1 911.3 961.5 914.2 966.3 917.3 983 920.8 894.6 924.4 978.2 926.8 983 930.9 1006.9 932.8 978.2 936.4 969.9 940 983 942.8 975.8 947.1 1002.1 950 983 953.6 987.8 956 995 958.4 952 960 968.7 961.9 949.6 964.3 987.8 966.7 963.9 968.6 940 971 959.1 973.9 971.1 976.3 966.3 979.1 983 981.8 999.7 984.6 975.8 987 952 989.4 949.6 992.5 959.1 995.4 918.5 997.3 971.1 999.4 992.6 1002.1 968.7 1004.5 968.7 1006.8 942.4 1009.2 913.7 1011.6 935.2 1014.5 928.1 1017.6 922.1 1020.5 973.5 1023.6 980.6 1025.9 944.8 1027.6 983 1029.5 947.2 1031.9 990.2 1034.8 961.5 1036 978.2 1037.9 959.1 1040.3 990.2 1042.7 949.6 1045.1 971.1 1046.7 952 1048.6 985.4 1051.5 930.5 1053.9 963.9 1056.3 944.8 1058.7 966.3 1061.1 961.5 1064.2 980.6 1066.6 961.5 1068.2 983 1070.6 963.9 1073 975.8 1076.6 978.2 1080.2 971.1 1081.8 995 1084.2 968.7 1086.6 985.4 1090.4 966.3 1093.3 997.3 1096.4 1009.3 1098.6 973.5 1100.5 987.8 1102.9 978.2 1105.7 990.2 1108.8 987.8 1111.2 997.3 1114.3 990.2 1116.7 1002.1 1119.6 995 1122.7 980.6 1125.5 985.4 1127.9 997.3 1130.3 990.2 1134.4 977 1137.5 990.2 1139.9 987.8 1143 997.3 1145.8 1006.9 1148.7 1004.5 1151.8 1004.5 1154.9 987.8 1157.8 990.2 1160.7 980.6 1162.6 992.6 1165 987.8 1168.5 996.1 1170.9 995 1173.3 985.4 1175.7 997.3 1176.2 996.1 1178.6 998.5 1182.2 1000.9 1185.7 995 1189.3 990.2 1192.2 968.7 1194.6 990.2 1197.7 992.6 1200.1 980.6 1202.5 998.5 1204.9 980.6 1207.2 987.8 1209.6 977 1212.7 990.2 1216.8 1002.1 1219.2 985.4 1222.8 971.1 1225.9 983 1228.7 971.1 1231.8 989 1234.2 961.5 1236.6 990.2 1239.5 978.2 1241.9 997.3 1244.3 971.1 1246.7 956.7 1249 999.7 1251.9 956.7 1255 990.2 1257.4 971.1 1260.3 944.8 1263.4 1002.1 1265.8 983 1268.6 930.5 1271.3 978.2 1274.1 987.8 1276.5 953.2 1279.4 992.6 1282.5 990.2 1284.9 983 1287.3 959.1 1289.6 987.8 1292 983 1293.9 992.6 1296.3 975.8 1299.2 987.8 1302.3 959.1 1305.2 975.8 1307.6 968.7 1309.9 978.2 1312.3 971.1 1315.9 999.7 1318.3 992.6 1321.4 948.4 1324.3 971.1 1326.7 985.4 1329 1002.1 1331.4 1008.1 1334.5 995 1336.2 1002.1 1339.3 913.7 1342.2 968.7 1344.1 925.7 1347 995 1349.3 962.7 1351.7 983 1354.1 971.1 1357 999.7 1359.4 980.6 1362.5 997.3 1364.9 985.4 1367.3 936.4 1369.7 968.7 1370 944.7 1371.9 942.3 1373.6 968.5 1376.7 975.7 1379.1 990 1381.5 944.7 1383.1 987.6 1384.8 951.8 1386.7 980.5 1389.1 950.6 1391.5 975.7 1393.9 1002 1396.7 999.6 1398.6 999.6 1401 959 1403.9 990 1407 982.9 1409.4 961.4 1413 935.1 1416.1 982.9 1418.9 963.8 1422 944.7 1423.7 968.5 1425.4 937.5 1428 970.9 1429.7 956.6 1431.6 970.9 1432.8 851.6 1434.4 794.3 1436.3 863.5 1438 913.7 1439.7 918.4 1441.6 942.3 1444 894.6 1446.4 875.5 1448.8 892.2 1451.1 928 1453.5 947.1 1455.9 970.9 1458.3 978.1 1460.7 999.6 1462.1 1016.3" fill="none" stroke="#ff7f0e" stroke-width="2.1" stroke-linejoin="round"/>
</g>
<path d="M115.5 575.3H1462.5V1054.7H115.5Z" fill="none" stroke="#000" stroke-width="1.1" stroke-linejoin="miter"/>
<path d="M115.8 1054.7v4.9M284.2 1054.7v4.9M452.6 1054.7v4.9M621.0 1054.7v4.9M789.4 1054.7v4.9M957.8 1054.7v4.9M1126.2 1054.7v4.9M1294.6 1054.7v4.9M115.5 1034.1h-4.9M115.5 962.8h-4.9M115.5 891.5h-4.9M115.5 820.3h-4.9M115.5 749.0h-4.9M115.5 677.7h-4.9M115.5 606.4h-4.9" fill="none" stroke="#000" stroke-width="1.1"/>
<rect x="1047.5" y="585.5" width="406.1" height="79.8" rx="2.8" ry="2.8" fill="#fff" fill-opacity="0.8" stroke="#ccc" stroke-opacity="0.8" stroke-width="1.1"/>
<circle cx="1073.3" cy="600.3" r="2.9" fill="#1f77b4"/>
<path d="M1054.3 638.5H1090.8" stroke="#ff7f0e" stroke-width="2.1" stroke-linecap="square" fill="none"/>
<g style="font-family:&quot;Liberation Sans&quot;,sans-serif;font-weight:bold;stroke:#000;stroke-width:0.45px" fill="#000">
<text x="1106.4" y="605.8" font-size="19.1" textLength="98.5" lengthAdjust="spacingAndGlyphs">Raw Data</text>
<text x="1106.4" y="632.7" font-size="19.1" textLength="270.5" lengthAdjust="spacingAndGlyphs">Butterworth Filtered Data</text>
<text x="1106.4" y="653.5" font-size="19.1" textLength="340.0" lengthAdjust="spacingAndGlyphs">(N=6, Tc=3.3333 min, Type: low)</text>
</g>
<g style="font-family:&quot;Liberation Sans&quot;,sans-serif;font-weight:bold;stroke:#000;stroke-width:0.45px" fill="#000">
<text x="116.6" y="29.6" font-size="28.2" textLength="40.5" lengthAdjust="spacingAndGlyphs">(a)</text>
<text x="116.6" y="566.2" font-size="28.2" textLength="41.6" lengthAdjust="spacingAndGlyphs">(b)</text>
<text x="634.6" y="29.4" font-size="28.2" textLength="299.5" lengthAdjust="spacingAndGlyphs">10.0 MHz N0000015</text>
<text x="105.8" y="145.2" font-size="23.5" text-anchor="end" textLength="15.5" lengthAdjust="spacingAndGlyphs">1</text>
<text x="105.8" y="249.8" font-size="23.5" text-anchor="end" textLength="15.5" lengthAdjust="spacingAndGlyphs">0</text>
<text x="105.8" y="354.5" font-size="23.5" text-anchor="end" textLength="34.1" lengthAdjust="spacingAndGlyphs">−1</text>
<text x="105.8" y="459.2" font-size="23.5" text-anchor="end" textLength="34.1" lengthAdjust="spacingAndGlyphs">−2</text>
<text x="105.8" y="1042.1" font-size="23.5" text-anchor="end" textLength="54.9" lengthAdjust="spacingAndGlyphs">0.00</text>
<text x="105.8" y="970.8" font-size="23.5" text-anchor="end" textLength="54.9" lengthAdjust="spacingAndGlyphs">0.02</text>
<text x="105.8" y="899.5" font-size="23.5" text-anchor="end" textLength="54.9" lengthAdjust="spacingAndGlyphs">0.04</text>
<text x="105.8" y="828.3" font-size="23.5" text-anchor="end" textLength="54.9" lengthAdjust="spacingAndGlyphs">0.06</text>
<text x="105.8" y="757.0" font-size="23.5" text-anchor="end" textLength="54.9" lengthAdjust="spacingAndGlyphs">0.08</text>
<text x="105.8" y="685.7" font-size="23.5" text-anchor="end" textLength="54.9" lengthAdjust="spacingAndGlyphs">0.10</text>
<text x="105.8" y="614.4" font-size="23.5" text-anchor="end" textLength="54.9" lengthAdjust="spacingAndGlyphs">0.12</text>
<text x="60.0" y="278.8" font-size="23.5" text-anchor="middle" textLength="226.5" lengthAdjust="spacingAndGlyphs" transform="rotate(-90 60.0 278.8)">Doppler Shift [Hz]</text>
<text x="40.0" y="816.0" font-size="23.5" text-anchor="middle" textLength="209.8" lengthAdjust="spacingAndGlyphs" transform="rotate(-90 40.0 816.0)">Peak Voltage [V]</text>
<text x="789.2" y="1157.8" font-size="23.5" text-anchor="middle" textLength="49.6" lengthAdjust="spacingAndGlyphs">UTC</text>
<text x="113.2" y="1079.0" font-size="23.5" text-anchor="end" textLength="109.8" lengthAdjust="spacingAndGlyphs" transform="rotate(-30 113.2 1079.0)">01-24 00</text>
<text x="281.6" y="1079.0" font-size="23.5" text-anchor="end" textLength="109.8" lengthAdjust="spacingAndGlyphs" transform="rotate(-30 281.6 1079.0)">01-24 03</text>
<text x="450.0" y="1079.0" font-size="23.5" text-anchor="end" textLength="109.8" lengthAdjust="spacingAndGlyphs" transform="rotate(-30 450.0 1079.0)">01-24 06</text>
<text x="618.4" y="1079.0" font-size="23.5" text-anchor="end" textLength="109.8" lengthAdjust="spacingAndGlyphs" transform="rotate(-30 618.4 1079.0)">01-24 09</text>
<text x="786.8" y="1079.0" font-size="23.5" text-anchor="end" textLength="109.8" lengthAdjust="spacingAndGlyphs" transform="rotate(-30 786.8 1079.0)">01-24 12</text>
<text x="955.2" y="1079.0" font-size="23.5" text-anchor="end" textLength="109.8" lengthAdjust="spacingAndGlyphs" transform="rotate(-30 955.2 1079.0)">01-24 15</text>
<text x="1123.6" y="1079.0" font-size="23.5" text-anchor="end" textLength="109.8" lengthAdjust="spacingAndGlyphs" transform="rotate(-30 1123.6 1079.0)">01-24 18</text>
<text x="1292.0" y="1079.0" font-size="23.5" text-anchor="end" textLength="109.8" lengthAdjust="spacingAndGlyphs" transform="rotate(-30 1292.0 1079.0)">01-24 21</text>
</g>
</svg></body></html>
